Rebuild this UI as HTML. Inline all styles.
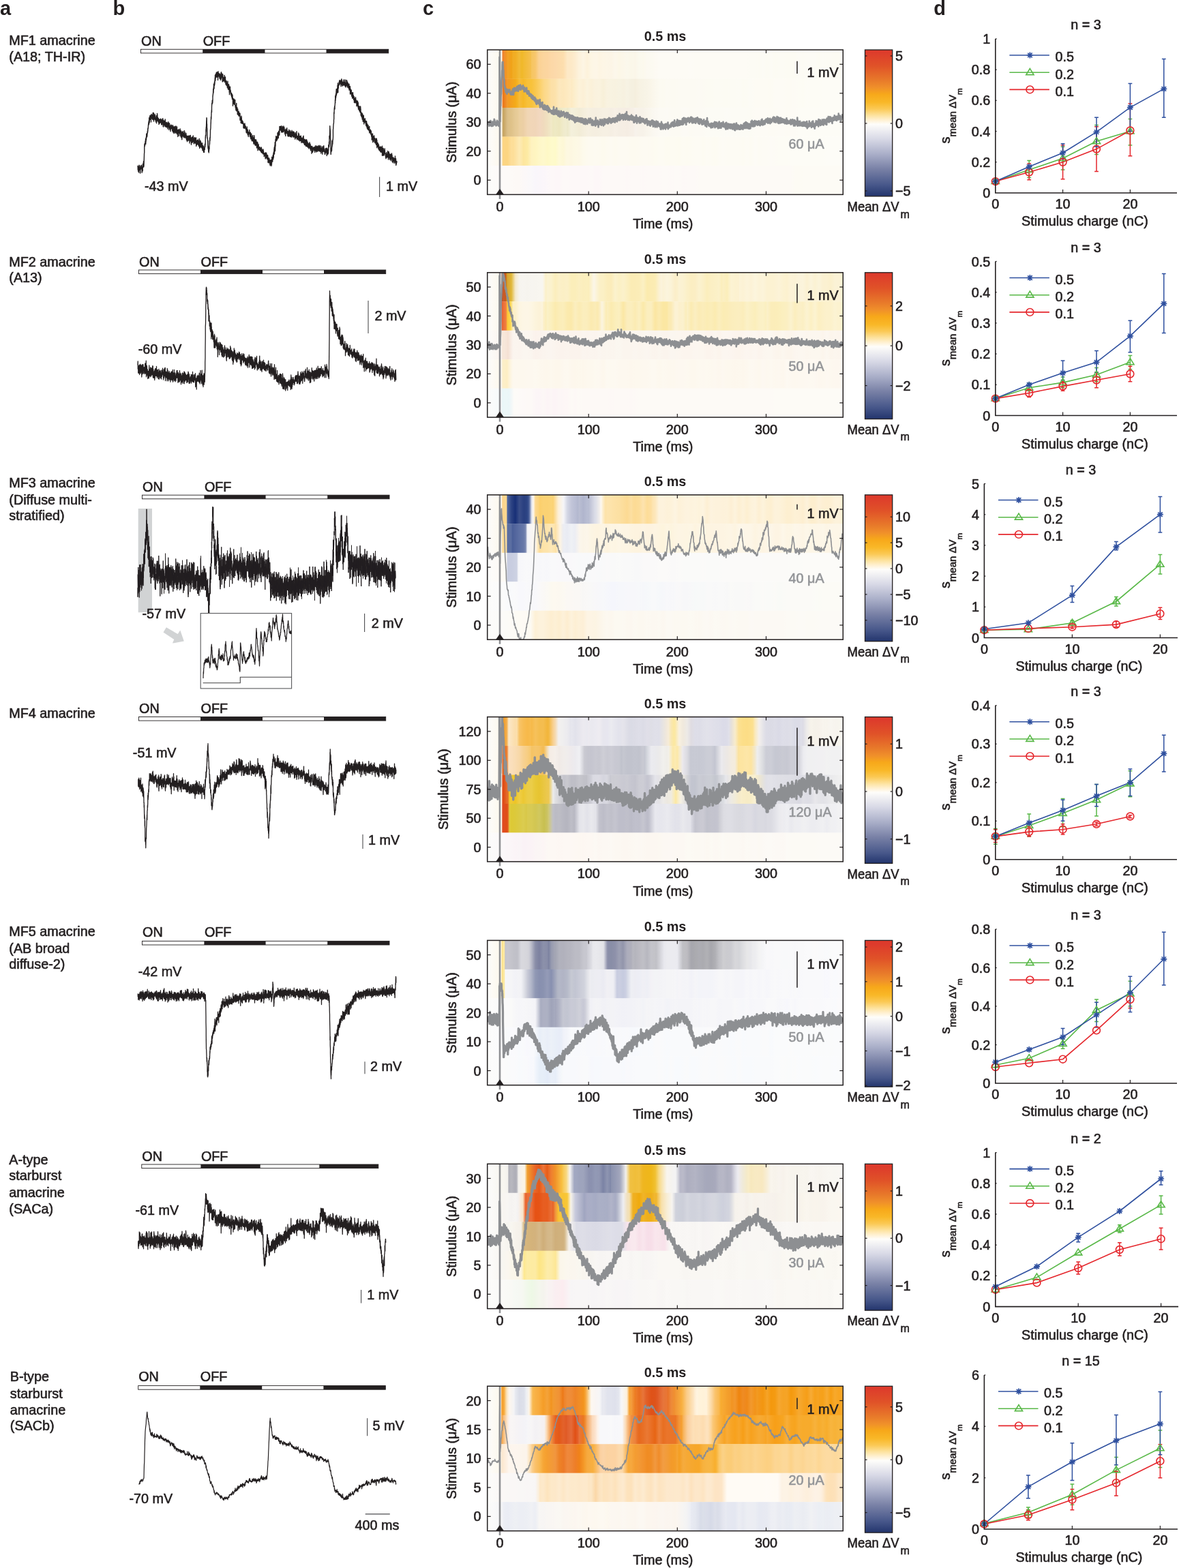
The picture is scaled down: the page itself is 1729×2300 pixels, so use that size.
<!DOCTYPE html><html><head><meta charset="utf-8"><title>Figure</title><style>html,body{margin:0;padding:0;background:#fff;}svg{display:block;}text{stroke:#231f20;stroke-width:.6px;stroke-linejoin:round}text.g{stroke:#939598}text.b{stroke:none}</style></head><body><svg width="1729" height="2300" viewBox="0 0 1729 2300" font-family='"Liberation Sans", Arial, Helvetica, sans-serif' font-size="19.8" fill="#231f20"><defs><linearGradient id="g1" x1="0" y1="0" x2="0" y2="1"><stop offset="0.0000" stop-color="#dd3a2c"/><stop offset="0.1000" stop-color="#e05228"/><stop offset="0.2000" stop-color="#e87a2a"/><stop offset="0.2500" stop-color="#f0902a"/><stop offset="0.2950" stop-color="#f7a81a"/><stop offset="0.3500" stop-color="#f9b828"/><stop offset="0.3950" stop-color="#fbc955"/><stop offset="0.4400" stop-color="#fde3a0"/><stop offset="0.4700" stop-color="#fff0d0"/><stop offset="0.5000" stop-color="#fefdfa"/><stop offset="0.6000" stop-color="#d8d9e6"/><stop offset="0.7050" stop-color="#a9aec8"/><stop offset="0.8050" stop-color="#7981a6"/><stop offset="0.9150" stop-color="#47578a"/><stop offset="1.0000" stop-color="#23356d"/></linearGradient><linearGradient id="g2" gradientUnits="userSpaceOnUse" x1="714.7" y1="0" x2="1236.3" y2="0"><stop offset="0.0001" stop-color="#fcfcfb"/><stop offset="0.0401" stop-color="#fdf8ec"/><stop offset="0.0438" stop-color="#ee7a22"/><stop offset="0.0451" stop-color="#ef8834"/><stop offset="0.0550" stop-color="#f29a20"/><stop offset="0.0563" stop-color="#f3a02b"/><stop offset="0.0675" stop-color="#f0a217"/><stop offset="0.0725" stop-color="#f1ac25"/><stop offset="0.0788" stop-color="#f1ae23"/><stop offset="0.0900" stop-color="#f1ba38"/><stop offset="0.0975" stop-color="#f0b828"/><stop offset="0.1012" stop-color="#f1ba31"/><stop offset="0.1124" stop-color="#f3bd41"/><stop offset="0.1224" stop-color="#f5c050"/><stop offset="0.1237" stop-color="#f6c55f"/><stop offset="0.1349" stop-color="#f8c76d"/><stop offset="0.1461" stop-color="#fbd49a"/><stop offset="0.1474" stop-color="#fbd296"/><stop offset="0.1574" stop-color="#fbd59d"/><stop offset="0.1686" stop-color="#fcd5a0"/><stop offset="0.1798" stop-color="#fcd8a7"/><stop offset="0.1848" stop-color="#fcd8a8"/><stop offset="0.1911" stop-color="#fcd9ab"/><stop offset="0.2023" stop-color="#fcdcac"/><stop offset="0.2135" stop-color="#fddeae"/><stop offset="0.2223" stop-color="#fde6c0"/><stop offset="0.2247" stop-color="#fde9c7"/><stop offset="0.2360" stop-color="#fde9c7"/><stop offset="0.2472" stop-color="#fdedd0"/><stop offset="0.2584" stop-color="#fdf3de"/><stop offset="0.2597" stop-color="#fdf2dc"/><stop offset="0.2697" stop-color="#fdf5e4"/><stop offset="0.2809" stop-color="#fdf2db"/><stop offset="0.2921" stop-color="#fdf6e4"/><stop offset="0.3034" stop-color="#fdf6e7"/><stop offset="0.3096" stop-color="#fdf6e6"/><stop offset="0.3146" stop-color="#fdf5e3"/><stop offset="0.3258" stop-color="#fdf6e6"/><stop offset="0.3371" stop-color="#fcf6e7"/><stop offset="0.3483" stop-color="#fcf5e6"/><stop offset="0.3595" stop-color="#fcf7eb"/><stop offset="0.3707" stop-color="#fcf7e7"/><stop offset="0.3820" stop-color="#fcf7ea"/><stop offset="0.3932" stop-color="#fbf8ec"/><stop offset="0.4044" stop-color="#fbf7e9"/><stop offset="0.4094" stop-color="#fbf7ea"/><stop offset="0.4157" stop-color="#fbf6e9"/><stop offset="0.4269" stop-color="#fbf9ee"/><stop offset="0.4381" stop-color="#fcf9ed"/><stop offset="0.4494" stop-color="#fcf9f1"/><stop offset="0.4606" stop-color="#fcfaf1"/><stop offset="0.4718" stop-color="#fdfaf3"/><stop offset="0.4830" stop-color="#fdfbf5"/><stop offset="0.4843" stop-color="#fdfbf5"/><stop offset="0.4943" stop-color="#fdfbf5"/><stop offset="0.5055" stop-color="#fdfbf5"/><stop offset="0.5167" stop-color="#fdfbf5"/><stop offset="0.5280" stop-color="#fdfbf5"/><stop offset="0.5392" stop-color="#fdfbf5"/><stop offset="0.5504" stop-color="#fdfbf5"/><stop offset="0.5617" stop-color="#fdfbf5"/><stop offset="0.5729" stop-color="#fdfbf6"/><stop offset="0.5841" stop-color="#fdfbf5"/><stop offset="0.5953" stop-color="#fdfbf5"/><stop offset="0.6066" stop-color="#fdfbf5"/><stop offset="0.6178" stop-color="#fdfbf5"/><stop offset="0.6290" stop-color="#fdfbf5"/><stop offset="0.6403" stop-color="#fdfbf5"/><stop offset="0.6515" stop-color="#fdfbf5"/><stop offset="0.6627" stop-color="#fdfbf5"/><stop offset="0.6740" stop-color="#fdfbf5"/><stop offset="0.6852" stop-color="#fdfbf5"/><stop offset="0.6964" stop-color="#fdfbf5"/><stop offset="0.7076" stop-color="#fdfbf5"/><stop offset="0.7189" stop-color="#fdfbf5"/><stop offset="0.7301" stop-color="#fdfbf5"/><stop offset="0.7413" stop-color="#fcfbf4"/><stop offset="0.7526" stop-color="#fcfbf4"/><stop offset="0.7638" stop-color="#fcfbf3"/><stop offset="0.7750" stop-color="#fcfbf5"/><stop offset="0.7863" stop-color="#fcfbf3"/><stop offset="0.7975" stop-color="#fcfbf5"/><stop offset="0.8087" stop-color="#fcfbf3"/><stop offset="0.8199" stop-color="#fcfbf4"/><stop offset="0.8312" stop-color="#fcfbf4"/><stop offset="0.8424" stop-color="#fcfbf3"/><stop offset="0.8536" stop-color="#fcfbf3"/><stop offset="0.8649" stop-color="#fcfbf3"/><stop offset="0.8761" stop-color="#fcfbf5"/><stop offset="0.8873" stop-color="#fcfbf4"/><stop offset="0.8986" stop-color="#fcfbf5"/><stop offset="0.9098" stop-color="#fcfbf5"/><stop offset="0.9210" stop-color="#fcfbf5"/><stop offset="0.9322" stop-color="#fcfbf3"/><stop offset="0.9435" stop-color="#fcfbf5"/><stop offset="0.9547" stop-color="#fcfbf4"/><stop offset="0.9659" stop-color="#fcfbf4"/><stop offset="0.9772" stop-color="#fcfbf3"/><stop offset="0.9884" stop-color="#fcfbf3"/><stop offset="0.9984" stop-color="#fcfbf4"/></linearGradient><linearGradient id="g3" gradientUnits="userSpaceOnUse" x1="714.7" y1="0" x2="1236.3" y2="0"><stop offset="0.0001" stop-color="#fcfcfb"/><stop offset="0.0401" stop-color="#fdf8ec"/><stop offset="0.0438" stop-color="#ec7a22"/><stop offset="0.0451" stop-color="#eb7719"/><stop offset="0.0563" stop-color="#f2992c"/><stop offset="0.0600" stop-color="#f29a20"/><stop offset="0.0675" stop-color="#f3a11f"/><stop offset="0.0788" stop-color="#f4aa1a"/><stop offset="0.0850" stop-color="#f5b324"/><stop offset="0.0900" stop-color="#f6bb3a"/><stop offset="0.1012" stop-color="#f6b827"/><stop offset="0.1124" stop-color="#f7c039"/><stop offset="0.1224" stop-color="#f8c23a"/><stop offset="0.1237" stop-color="#f8c23a"/><stop offset="0.1349" stop-color="#f9c74e"/><stop offset="0.1461" stop-color="#fbcf66"/><stop offset="0.1574" stop-color="#fcd782"/><stop offset="0.1599" stop-color="#fcd888"/><stop offset="0.1686" stop-color="#fcdb92"/><stop offset="0.1798" stop-color="#fce0a7"/><stop offset="0.1848" stop-color="#fce0a8"/><stop offset="0.1911" stop-color="#fce2ac"/><stop offset="0.2023" stop-color="#fce8be"/><stop offset="0.2135" stop-color="#fde7bb"/><stop offset="0.2247" stop-color="#fdeac1"/><stop offset="0.2347" stop-color="#fdecc8"/><stop offset="0.2360" stop-color="#fdeac2"/><stop offset="0.2472" stop-color="#fcefcf"/><stop offset="0.2584" stop-color="#fcf2da"/><stop offset="0.2697" stop-color="#fcf0d6"/><stop offset="0.2809" stop-color="#fbf3de"/><stop offset="0.2846" stop-color="#fbf2dc"/><stop offset="0.2921" stop-color="#fbf1d9"/><stop offset="0.3034" stop-color="#faf2de"/><stop offset="0.3146" stop-color="#faf3df"/><stop offset="0.3258" stop-color="#f8f0d9"/><stop offset="0.3371" stop-color="#f9f2e0"/><stop offset="0.3483" stop-color="#f8f3e1"/><stop offset="0.3595" stop-color="#f8f2e0"/><stop offset="0.3707" stop-color="#f7f3e2"/><stop offset="0.3820" stop-color="#f7f1e0"/><stop offset="0.3932" stop-color="#f7f3e4"/><stop offset="0.4044" stop-color="#f5f0e0"/><stop offset="0.4094" stop-color="#f5f0e0"/><stop offset="0.4157" stop-color="#f5efde"/><stop offset="0.4269" stop-color="#f7f2e3"/><stop offset="0.4381" stop-color="#f7f3e5"/><stop offset="0.4494" stop-color="#f8f4e7"/><stop offset="0.4606" stop-color="#faf6ea"/><stop offset="0.4718" stop-color="#fbf8ee"/><stop offset="0.4830" stop-color="#fcfaf1"/><stop offset="0.4843" stop-color="#fcfaf2"/><stop offset="0.4943" stop-color="#fcfaf1"/><stop offset="0.5055" stop-color="#fcfaf3"/><stop offset="0.5167" stop-color="#fcfaf2"/><stop offset="0.5280" stop-color="#fcfaf2"/><stop offset="0.5392" stop-color="#fcfaf3"/><stop offset="0.5504" stop-color="#fcfaf3"/><stop offset="0.5617" stop-color="#fcfaf3"/><stop offset="0.5729" stop-color="#fcfaf3"/><stop offset="0.5841" stop-color="#fcfaf3"/><stop offset="0.5953" stop-color="#fcfaf4"/><stop offset="0.6066" stop-color="#fcfaf3"/><stop offset="0.6178" stop-color="#fcfbf3"/><stop offset="0.6290" stop-color="#fcfbf3"/><stop offset="0.6403" stop-color="#fcfbf4"/><stop offset="0.6515" stop-color="#fcfbf4"/><stop offset="0.6627" stop-color="#fcfbf3"/><stop offset="0.6740" stop-color="#fcfbf3"/><stop offset="0.6852" stop-color="#fcfbf4"/><stop offset="0.6964" stop-color="#fcfbf4"/><stop offset="0.7076" stop-color="#fcfbf5"/><stop offset="0.7189" stop-color="#fcfbf3"/><stop offset="0.7301" stop-color="#fcfbf4"/><stop offset="0.7413" stop-color="#fcfbf5"/><stop offset="0.7526" stop-color="#fdfbf4"/><stop offset="0.7638" stop-color="#fdfbf4"/><stop offset="0.7750" stop-color="#fdfbf4"/><stop offset="0.7863" stop-color="#fdfbf4"/><stop offset="0.7975" stop-color="#fdfbf3"/><stop offset="0.8087" stop-color="#fdfbf5"/><stop offset="0.8199" stop-color="#fdfbf5"/><stop offset="0.8312" stop-color="#fdfbf5"/><stop offset="0.8424" stop-color="#fdfbf4"/><stop offset="0.8536" stop-color="#fdfbf4"/><stop offset="0.8649" stop-color="#fdfbf5"/><stop offset="0.8761" stop-color="#fdfcf5"/><stop offset="0.8873" stop-color="#fdfcf4"/><stop offset="0.8986" stop-color="#fdfcf6"/><stop offset="0.9098" stop-color="#fdfcf5"/><stop offset="0.9210" stop-color="#fdfcf5"/><stop offset="0.9322" stop-color="#fdfcf5"/><stop offset="0.9435" stop-color="#fdfcf6"/><stop offset="0.9547" stop-color="#fdfcf6"/><stop offset="0.9659" stop-color="#fdfcf6"/><stop offset="0.9772" stop-color="#fdfcf6"/><stop offset="0.9884" stop-color="#fdfcf6"/><stop offset="0.9984" stop-color="#fdfcf6"/></linearGradient><linearGradient id="g4" gradientUnits="userSpaceOnUse" x1="714.7" y1="0" x2="1236.3" y2="0"><stop offset="0.0001" stop-color="#fcfcfb"/><stop offset="0.0401" stop-color="#fdf8ec"/><stop offset="0.0438" stop-color="#c8a868"/><stop offset="0.0451" stop-color="#c6a460"/><stop offset="0.0563" stop-color="#d9bd87"/><stop offset="0.0600" stop-color="#dcc088"/><stop offset="0.0675" stop-color="#dfc289"/><stop offset="0.0788" stop-color="#e5ca96"/><stop offset="0.0850" stop-color="#e8cc98"/><stop offset="0.0900" stop-color="#ebd0a1"/><stop offset="0.1012" stop-color="#eccfa5"/><stop offset="0.1100" stop-color="#f0d4b0"/><stop offset="0.1124" stop-color="#f0d6b4"/><stop offset="0.1237" stop-color="#f1d6b8"/><stop offset="0.1349" stop-color="#f0d5b8"/><stop offset="0.1461" stop-color="#f2d8bf"/><stop offset="0.1474" stop-color="#f2d8c0"/><stop offset="0.1574" stop-color="#f0dabd"/><stop offset="0.1686" stop-color="#f0e1c0"/><stop offset="0.1798" stop-color="#f1e9c8"/><stop offset="0.1848" stop-color="#eee8c0"/><stop offset="0.1911" stop-color="#eee9c4"/><stop offset="0.2023" stop-color="#ede7bf"/><stop offset="0.2135" stop-color="#f0ebcb"/><stop offset="0.2223" stop-color="#f0ecd0"/><stop offset="0.2247" stop-color="#ede9c9"/><stop offset="0.2360" stop-color="#f4f0dc"/><stop offset="0.2472" stop-color="#f3efd9"/><stop offset="0.2584" stop-color="#f2ecd6"/><stop offset="0.2697" stop-color="#f4eedc"/><stop offset="0.2809" stop-color="#f6f0e0"/><stop offset="0.2846" stop-color="#f6f0e2"/><stop offset="0.2921" stop-color="#f5efe0"/><stop offset="0.3034" stop-color="#f5eee0"/><stop offset="0.3146" stop-color="#f5efe1"/><stop offset="0.3258" stop-color="#f6f0e3"/><stop offset="0.3371" stop-color="#f6f0e3"/><stop offset="0.3483" stop-color="#f5eee3"/><stop offset="0.3595" stop-color="#f7f0e6"/><stop offset="0.3707" stop-color="#f5eee4"/><stop offset="0.3820" stop-color="#f6eee4"/><stop offset="0.3932" stop-color="#f5ede3"/><stop offset="0.4044" stop-color="#f6efe6"/><stop offset="0.4094" stop-color="#f6efe6"/><stop offset="0.4157" stop-color="#f7f2eb"/><stop offset="0.4269" stop-color="#f7f2e9"/><stop offset="0.4381" stop-color="#f7f2e9"/><stop offset="0.4494" stop-color="#f9f5ec"/><stop offset="0.4606" stop-color="#faf7ef"/><stop offset="0.4718" stop-color="#fbf8f2"/><stop offset="0.4830" stop-color="#fcfaf4"/><stop offset="0.4843" stop-color="#fcfaf4"/><stop offset="0.4943" stop-color="#fcfaf4"/><stop offset="0.5055" stop-color="#fcfaf5"/><stop offset="0.5167" stop-color="#fcfaf3"/><stop offset="0.5280" stop-color="#fcfaf3"/><stop offset="0.5392" stop-color="#fcfaf3"/><stop offset="0.5504" stop-color="#fcfaf5"/><stop offset="0.5617" stop-color="#fcfaf5"/><stop offset="0.5729" stop-color="#fcfaf3"/><stop offset="0.5841" stop-color="#fcfaf4"/><stop offset="0.5953" stop-color="#fcfaf4"/><stop offset="0.6066" stop-color="#fcfaf4"/><stop offset="0.6178" stop-color="#fcfbf5"/><stop offset="0.6290" stop-color="#fcfbf5"/><stop offset="0.6403" stop-color="#fcfbf5"/><stop offset="0.6515" stop-color="#fcfbf5"/><stop offset="0.6627" stop-color="#fcfbf5"/><stop offset="0.6740" stop-color="#fcfbf6"/><stop offset="0.6852" stop-color="#fcfbf5"/><stop offset="0.6964" stop-color="#fcfbf5"/><stop offset="0.7076" stop-color="#fcfbf5"/><stop offset="0.7189" stop-color="#fcfbf5"/><stop offset="0.7301" stop-color="#fcfbf5"/><stop offset="0.7413" stop-color="#fcfbf4"/><stop offset="0.7526" stop-color="#fdfbf5"/><stop offset="0.7638" stop-color="#fdfbf5"/><stop offset="0.7750" stop-color="#fdfbf5"/><stop offset="0.7863" stop-color="#fdfbf5"/><stop offset="0.7975" stop-color="#fdfbf4"/><stop offset="0.8087" stop-color="#fdfbf4"/><stop offset="0.8199" stop-color="#fdfbf5"/><stop offset="0.8312" stop-color="#fdfbf5"/><stop offset="0.8424" stop-color="#fdfbf4"/><stop offset="0.8536" stop-color="#fdfbf5"/><stop offset="0.8649" stop-color="#fdfbf5"/><stop offset="0.8761" stop-color="#fdfcf6"/><stop offset="0.8873" stop-color="#fdfcf6"/><stop offset="0.8986" stop-color="#fdfcf6"/><stop offset="0.9098" stop-color="#fdfcf6"/><stop offset="0.9210" stop-color="#fdfcf6"/><stop offset="0.9322" stop-color="#fdfcf6"/><stop offset="0.9435" stop-color="#fdfcf6"/><stop offset="0.9547" stop-color="#fdfcf6"/><stop offset="0.9659" stop-color="#fdfcf6"/><stop offset="0.9772" stop-color="#fdfcf6"/><stop offset="0.9884" stop-color="#fdfcf6"/><stop offset="0.9984" stop-color="#fdfcf6"/></linearGradient><linearGradient id="g5" gradientUnits="userSpaceOnUse" x1="714.7" y1="0" x2="1236.3" y2="0"><stop offset="0.0001" stop-color="#fcfcfb"/><stop offset="0.0401" stop-color="#fdf8ec"/><stop offset="0.0438" stop-color="#fcd480"/><stop offset="0.0451" stop-color="#fcd583"/><stop offset="0.0563" stop-color="#fcd581"/><stop offset="0.0675" stop-color="#fdde9a"/><stop offset="0.0725" stop-color="#fdde98"/><stop offset="0.0788" stop-color="#fde2a2"/><stop offset="0.0900" stop-color="#fdeab5"/><stop offset="0.0975" stop-color="#fde8a8"/><stop offset="0.1012" stop-color="#fde69e"/><stop offset="0.1124" stop-color="#fdeaa3"/><stop offset="0.1237" stop-color="#fef2c0"/><stop offset="0.1349" stop-color="#fef5c0"/><stop offset="0.1461" stop-color="#fef7c8"/><stop offset="0.1574" stop-color="#fef8cc"/><stop offset="0.1686" stop-color="#fef8c6"/><stop offset="0.1798" stop-color="#fefacb"/><stop offset="0.1848" stop-color="#fefacc"/><stop offset="0.1911" stop-color="#fefac9"/><stop offset="0.2023" stop-color="#fef9d9"/><stop offset="0.2135" stop-color="#fdf7d6"/><stop offset="0.2223" stop-color="#fdf8e0"/><stop offset="0.2247" stop-color="#fdf8e1"/><stop offset="0.2360" stop-color="#fdf7e1"/><stop offset="0.2472" stop-color="#fdf9e4"/><stop offset="0.2584" stop-color="#fdf8e6"/><stop offset="0.2697" stop-color="#fdfaec"/><stop offset="0.2809" stop-color="#fdfaef"/><stop offset="0.2846" stop-color="#fdfaf0"/><stop offset="0.2921" stop-color="#fdfaf0"/><stop offset="0.3034" stop-color="#fdfaf1"/><stop offset="0.3146" stop-color="#fdfaf0"/><stop offset="0.3258" stop-color="#fdfaee"/><stop offset="0.3371" stop-color="#fdfaf0"/><stop offset="0.3483" stop-color="#fdfaf2"/><stop offset="0.3595" stop-color="#fdfaf0"/><stop offset="0.3707" stop-color="#fdfaf2"/><stop offset="0.3820" stop-color="#fdfaf2"/><stop offset="0.3932" stop-color="#fdfaf2"/><stop offset="0.4044" stop-color="#fdfaf0"/><stop offset="0.4157" stop-color="#fdfaf0"/><stop offset="0.4269" stop-color="#fdfaf1"/><stop offset="0.4381" stop-color="#fdfaf2"/><stop offset="0.4494" stop-color="#fdfaf2"/><stop offset="0.4606" stop-color="#fdfaf1"/><stop offset="0.4718" stop-color="#fdfbf1"/><stop offset="0.4830" stop-color="#fdfbf3"/><stop offset="0.4943" stop-color="#fdfbf3"/><stop offset="0.5055" stop-color="#fdfbf1"/><stop offset="0.5167" stop-color="#fdfbf2"/><stop offset="0.5280" stop-color="#fdfbf2"/><stop offset="0.5392" stop-color="#fdfbf1"/><stop offset="0.5504" stop-color="#fdfbf3"/><stop offset="0.5617" stop-color="#fdfbf2"/><stop offset="0.5729" stop-color="#fdfbf3"/><stop offset="0.5841" stop-color="#fdfbf4"/><stop offset="0.5953" stop-color="#fdfbf4"/><stop offset="0.6066" stop-color="#fdfbf2"/><stop offset="0.6178" stop-color="#fdfbf4"/><stop offset="0.6290" stop-color="#fdfbf3"/><stop offset="0.6403" stop-color="#fdfbf2"/><stop offset="0.6515" stop-color="#fdfbf4"/><stop offset="0.6627" stop-color="#fdfbf5"/><stop offset="0.6740" stop-color="#fdfbf4"/><stop offset="0.6852" stop-color="#fdfbf4"/><stop offset="0.6964" stop-color="#fdfbf4"/><stop offset="0.7076" stop-color="#fdfbf4"/><stop offset="0.7189" stop-color="#fdfbf3"/><stop offset="0.7301" stop-color="#fdfbf5"/><stop offset="0.7413" stop-color="#fdfbf3"/><stop offset="0.7526" stop-color="#fdfbf6"/><stop offset="0.7638" stop-color="#fdfbf4"/><stop offset="0.7750" stop-color="#fdfbf5"/><stop offset="0.7863" stop-color="#fdfbf5"/><stop offset="0.7975" stop-color="#fdfbf6"/><stop offset="0.8087" stop-color="#fdfbf5"/><stop offset="0.8199" stop-color="#fdfcf5"/><stop offset="0.8312" stop-color="#fdfcf5"/><stop offset="0.8424" stop-color="#fdfcf5"/><stop offset="0.8536" stop-color="#fdfcf6"/><stop offset="0.8649" stop-color="#fdfcf6"/><stop offset="0.8761" stop-color="#fdfcf6"/><stop offset="0.8873" stop-color="#fdfcf6"/><stop offset="0.8986" stop-color="#fdfcf6"/><stop offset="0.9098" stop-color="#fdfcf6"/><stop offset="0.9210" stop-color="#fdfcf6"/><stop offset="0.9322" stop-color="#fdfcf6"/><stop offset="0.9435" stop-color="#fdfcf6"/><stop offset="0.9547" stop-color="#fdfcf7"/><stop offset="0.9659" stop-color="#fdfcf7"/><stop offset="0.9772" stop-color="#fdfcf7"/><stop offset="0.9884" stop-color="#fdfcf7"/><stop offset="0.9984" stop-color="#fdfcf7"/></linearGradient><linearGradient id="g6" gradientUnits="userSpaceOnUse" x1="714.7" y1="0" x2="1236.3" y2="0"><stop offset="0.0001" stop-color="#fcfcfb"/><stop offset="0.0451" stop-color="#fdfaf8"/><stop offset="0.0563" stop-color="#fdfaf8"/><stop offset="0.0675" stop-color="#fdfaf7"/><stop offset="0.0788" stop-color="#fdf9f6"/><stop offset="0.0850" stop-color="#fdf9f6"/><stop offset="0.0900" stop-color="#fdf9f6"/><stop offset="0.1012" stop-color="#fcf8f8"/><stop offset="0.1124" stop-color="#fbf8f9"/><stop offset="0.1237" stop-color="#faf8fa"/><stop offset="0.1349" stop-color="#f9f6fb"/><stop offset="0.1461" stop-color="#faf6fa"/><stop offset="0.1574" stop-color="#fbf6fa"/><stop offset="0.1686" stop-color="#fcf7f9"/><stop offset="0.1798" stop-color="#fdf8f8"/><stop offset="0.1848" stop-color="#fdf8f8"/><stop offset="0.1911" stop-color="#fdf7f8"/><stop offset="0.2023" stop-color="#fdf7f8"/><stop offset="0.2135" stop-color="#fdf9f8"/><stop offset="0.2247" stop-color="#fdf9f8"/><stop offset="0.2360" stop-color="#fdf8f8"/><stop offset="0.2472" stop-color="#fdf8f8"/><stop offset="0.2584" stop-color="#fdf8f8"/><stop offset="0.2697" stop-color="#fdf8f8"/><stop offset="0.2809" stop-color="#fdf8f8"/><stop offset="0.2921" stop-color="#fdf9f8"/><stop offset="0.3034" stop-color="#fdf7f8"/><stop offset="0.3146" stop-color="#fdf7f8"/><stop offset="0.3258" stop-color="#fdf9f7"/><stop offset="0.3371" stop-color="#fdf9f7"/><stop offset="0.3483" stop-color="#fdf9f7"/><stop offset="0.3595" stop-color="#fdf9f7"/><stop offset="0.3707" stop-color="#fdf9f7"/><stop offset="0.3820" stop-color="#fdf9f7"/><stop offset="0.3932" stop-color="#fdf8f7"/><stop offset="0.4044" stop-color="#fdf9f7"/><stop offset="0.4157" stop-color="#fdf9f7"/><stop offset="0.4269" stop-color="#fdf9f7"/><stop offset="0.4381" stop-color="#fdf8f7"/><stop offset="0.4494" stop-color="#fdf9f7"/><stop offset="0.4606" stop-color="#fdf9f7"/><stop offset="0.4718" stop-color="#fdf9f7"/><stop offset="0.4830" stop-color="#fdf9f7"/><stop offset="0.4943" stop-color="#fdfaf7"/><stop offset="0.5055" stop-color="#fdfaf7"/><stop offset="0.5167" stop-color="#fdf9f7"/><stop offset="0.5280" stop-color="#fdfaf7"/><stop offset="0.5392" stop-color="#fdfaf7"/><stop offset="0.5504" stop-color="#fdf8f7"/><stop offset="0.5617" stop-color="#fdf9f7"/><stop offset="0.5729" stop-color="#fdf9f7"/><stop offset="0.5841" stop-color="#fdf9f7"/><stop offset="0.5953" stop-color="#fdfaf6"/><stop offset="0.6066" stop-color="#fdfaf6"/><stop offset="0.6178" stop-color="#fdfaf6"/><stop offset="0.6290" stop-color="#fdfaf6"/><stop offset="0.6403" stop-color="#fdfaf6"/><stop offset="0.6515" stop-color="#fdfaf6"/><stop offset="0.6627" stop-color="#fdfaf6"/><stop offset="0.6740" stop-color="#fdfaf6"/><stop offset="0.6852" stop-color="#fdfaf6"/><stop offset="0.6964" stop-color="#fdfaf6"/><stop offset="0.7076" stop-color="#fdfaf6"/><stop offset="0.7189" stop-color="#fdfaf6"/><stop offset="0.7301" stop-color="#fdfaf6"/><stop offset="0.7413" stop-color="#fdfaf6"/><stop offset="0.7526" stop-color="#fdfaf6"/><stop offset="0.7638" stop-color="#fdfaf6"/><stop offset="0.7750" stop-color="#fdfaf6"/><stop offset="0.7863" stop-color="#fdfaf6"/><stop offset="0.7975" stop-color="#fdfaf6"/><stop offset="0.8087" stop-color="#fdfaf6"/><stop offset="0.8199" stop-color="#fdfaf6"/><stop offset="0.8312" stop-color="#fdfaf6"/><stop offset="0.8424" stop-color="#fdfaf6"/><stop offset="0.8536" stop-color="#fdfaf6"/><stop offset="0.8649" stop-color="#fdfbf4"/><stop offset="0.8761" stop-color="#fdfbf4"/><stop offset="0.8873" stop-color="#fdfbf5"/><stop offset="0.8986" stop-color="#fdfbf5"/><stop offset="0.9098" stop-color="#fdfbf5"/><stop offset="0.9210" stop-color="#fdfbf5"/><stop offset="0.9322" stop-color="#fdfbf5"/><stop offset="0.9435" stop-color="#fdfbf5"/><stop offset="0.9547" stop-color="#fdfbf5"/><stop offset="0.9659" stop-color="#fdfbf5"/><stop offset="0.9772" stop-color="#fdfbf5"/><stop offset="0.9884" stop-color="#fdfbf5"/><stop offset="0.9984" stop-color="#fdfbf5"/></linearGradient><linearGradient id="g7" x1="0" y1="0" x2="0" y2="1"><stop offset="0.0082" stop-color="#dd3a2c"/><stop offset="0.1082" stop-color="#e05228"/><stop offset="0.2082" stop-color="#e87a2a"/><stop offset="0.2582" stop-color="#f0902a"/><stop offset="0.3032" stop-color="#f7a81a"/><stop offset="0.3582" stop-color="#f9b828"/><stop offset="0.4032" stop-color="#fbc955"/><stop offset="0.4482" stop-color="#fde3a0"/><stop offset="0.4782" stop-color="#fff0d0"/><stop offset="0.5082" stop-color="#fefdfa"/><stop offset="0.6082" stop-color="#d8d9e6"/><stop offset="0.7132" stop-color="#a9aec8"/><stop offset="0.8132" stop-color="#7981a6"/><stop offset="0.9232" stop-color="#47578a"/><stop offset="1.0000" stop-color="#23356d"/></linearGradient><linearGradient id="g8" gradientUnits="userSpaceOnUse" x1="714.7" y1="0" x2="1236.3" y2="0"><stop offset="0.0001" stop-color="#fcfcfb"/><stop offset="0.0388" stop-color="#fdf8ec"/><stop offset="0.0413" stop-color="#c04818"/><stop offset="0.0451" stop-color="#c85d2d"/><stop offset="0.0513" stop-color="#c8581c"/><stop offset="0.0550" stop-color="#d09820"/><stop offset="0.0563" stop-color="#d6a334"/><stop offset="0.0675" stop-color="#e0b838"/><stop offset="0.0788" stop-color="#f4e9cc"/><stop offset="0.0800" stop-color="#f4ead0"/><stop offset="0.0900" stop-color="#f6f4ee"/><stop offset="0.1012" stop-color="#f7f5f0"/><stop offset="0.1124" stop-color="#f6f4ee"/><stop offset="0.1237" stop-color="#f7f5f0"/><stop offset="0.1349" stop-color="#f7f5ef"/><stop offset="0.1461" stop-color="#f8f6f0"/><stop offset="0.1549" stop-color="#f8f6f0"/><stop offset="0.1574" stop-color="#faf5e8"/><stop offset="0.1649" stop-color="#fbf0c8"/><stop offset="0.1686" stop-color="#fbf2d2"/><stop offset="0.1798" stop-color="#fbf2cd"/><stop offset="0.1911" stop-color="#fbeebd"/><stop offset="0.2023" stop-color="#fbf0c8"/><stop offset="0.2135" stop-color="#fbefc5"/><stop offset="0.2247" stop-color="#fbf0c8"/><stop offset="0.2360" stop-color="#fbeeba"/><stop offset="0.2472" stop-color="#fbeeba"/><stop offset="0.2584" stop-color="#fbefc1"/><stop offset="0.2697" stop-color="#fbeebd"/><stop offset="0.2809" stop-color="#fbefbe"/><stop offset="0.2846" stop-color="#fbeebb"/><stop offset="0.2921" stop-color="#fbf2d1"/><stop offset="0.2996" stop-color="#fbf6e8"/><stop offset="0.3034" stop-color="#fbf4df"/><stop offset="0.3146" stop-color="#fbf0c8"/><stop offset="0.3258" stop-color="#fbf0c5"/><stop offset="0.3371" stop-color="#fbedbc"/><stop offset="0.3483" stop-color="#fbecba"/><stop offset="0.3595" stop-color="#fbf2cd"/><stop offset="0.3707" stop-color="#fbf0c4"/><stop offset="0.3820" stop-color="#fbf1cb"/><stop offset="0.3932" stop-color="#fbefc1"/><stop offset="0.4044" stop-color="#fbecb5"/><stop offset="0.4157" stop-color="#fbecb6"/><stop offset="0.4269" stop-color="#fbedb8"/><stop offset="0.4381" stop-color="#fbf0c4"/><stop offset="0.4494" stop-color="#fbebae"/><stop offset="0.4606" stop-color="#fbebb2"/><stop offset="0.4718" stop-color="#fbecb4"/><stop offset="0.4830" stop-color="#fbf1d2"/><stop offset="0.4893" stop-color="#fbf3dc"/><stop offset="0.4943" stop-color="#fbf2d6"/><stop offset="0.5055" stop-color="#fbf4dd"/><stop offset="0.5167" stop-color="#fbf3d7"/><stop offset="0.5280" stop-color="#fbeec9"/><stop offset="0.5342" stop-color="#fbf0cc"/><stop offset="0.5392" stop-color="#fbf2d4"/><stop offset="0.5504" stop-color="#fbf2d1"/><stop offset="0.5617" stop-color="#fbf0c8"/><stop offset="0.5729" stop-color="#fbeec2"/><stop offset="0.5841" stop-color="#fbeec4"/><stop offset="0.5953" stop-color="#fbf2cf"/><stop offset="0.6066" stop-color="#fbf0c8"/><stop offset="0.6178" stop-color="#fbeebc"/><stop offset="0.6290" stop-color="#fbefc4"/><stop offset="0.6403" stop-color="#fbf0c6"/><stop offset="0.6515" stop-color="#fbf1ca"/><stop offset="0.6590" stop-color="#fbeebc"/><stop offset="0.6627" stop-color="#fbefc4"/><stop offset="0.6740" stop-color="#fbeeba"/><stop offset="0.6852" stop-color="#fcf3d4"/><stop offset="0.6964" stop-color="#fcf2d0"/><stop offset="0.7076" stop-color="#fcf1d1"/><stop offset="0.7089" stop-color="#fcf3d8"/><stop offset="0.7189" stop-color="#fcf2d5"/><stop offset="0.7301" stop-color="#fcf4db"/><stop offset="0.7413" stop-color="#fcf2d6"/><stop offset="0.7526" stop-color="#fcf5dd"/><stop offset="0.7638" stop-color="#fcf3d7"/><stop offset="0.7750" stop-color="#fcf4da"/><stop offset="0.7863" stop-color="#fcf2d2"/><stop offset="0.7975" stop-color="#fcf2d2"/><stop offset="0.8087" stop-color="#fcf2d3"/><stop offset="0.8199" stop-color="#fcf3d8"/><stop offset="0.8312" stop-color="#fcf2d2"/><stop offset="0.8424" stop-color="#fcf1cf"/><stop offset="0.8536" stop-color="#fcf3d8"/><stop offset="0.8649" stop-color="#fbf2d6"/><stop offset="0.8761" stop-color="#fbf3db"/><stop offset="0.8873" stop-color="#fbf4dc"/><stop offset="0.8986" stop-color="#fbf1d2"/><stop offset="0.9098" stop-color="#fbf4dc"/><stop offset="0.9210" stop-color="#fbf2d3"/><stop offset="0.9322" stop-color="#fbf4db"/><stop offset="0.9435" stop-color="#fbf1d2"/><stop offset="0.9547" stop-color="#fbf1d1"/><stop offset="0.9659" stop-color="#fbf0cd"/><stop offset="0.9772" stop-color="#fbf2d6"/><stop offset="0.9884" stop-color="#fbf2d6"/><stop offset="0.9984" stop-color="#fbf2d4"/></linearGradient><linearGradient id="g9" gradientUnits="userSpaceOnUse" x1="714.7" y1="0" x2="1236.3" y2="0"><stop offset="0.0001" stop-color="#fcfcfb"/><stop offset="0.0388" stop-color="#fdf8ec"/><stop offset="0.0413" stop-color="#e86030"/><stop offset="0.0451" stop-color="#eb6e39"/><stop offset="0.0526" stop-color="#f08040"/><stop offset="0.0563" stop-color="#fcc838"/><stop offset="0.0650" stop-color="#fcd850"/><stop offset="0.0675" stop-color="#fcdf73"/><stop offset="0.0725" stop-color="#fcefc8"/><stop offset="0.0788" stop-color="#fcf0ca"/><stop offset="0.0900" stop-color="#fdf5e1"/><stop offset="0.0975" stop-color="#fdf6e4"/><stop offset="0.1012" stop-color="#fdf6e5"/><stop offset="0.1124" stop-color="#fdf6e6"/><stop offset="0.1237" stop-color="#fdf6e3"/><stop offset="0.1349" stop-color="#fcf4dc"/><stop offset="0.1461" stop-color="#fcf2d8"/><stop offset="0.1549" stop-color="#fcf4dc"/><stop offset="0.1574" stop-color="#fcf0cc"/><stop offset="0.1649" stop-color="#fbeebb"/><stop offset="0.1686" stop-color="#fbf1c7"/><stop offset="0.1798" stop-color="#fbefbd"/><stop offset="0.1911" stop-color="#fbebaf"/><stop offset="0.2023" stop-color="#fbedb8"/><stop offset="0.2135" stop-color="#fbeebb"/><stop offset="0.2247" stop-color="#fbeaae"/><stop offset="0.2360" stop-color="#fbe9ab"/><stop offset="0.2472" stop-color="#fbeebf"/><stop offset="0.2584" stop-color="#fbebb3"/><stop offset="0.2697" stop-color="#fbeebe"/><stop offset="0.2809" stop-color="#fbedbc"/><stop offset="0.2921" stop-color="#fbeab0"/><stop offset="0.3034" stop-color="#fbecb8"/><stop offset="0.3096" stop-color="#fbeab0"/><stop offset="0.3146" stop-color="#fbecbc"/><stop offset="0.3221" stop-color="#fbf4e0"/><stop offset="0.3258" stop-color="#fbf3d5"/><stop offset="0.3346" stop-color="#fbecb4"/><stop offset="0.3371" stop-color="#fbeebe"/><stop offset="0.3483" stop-color="#fbebb0"/><stop offset="0.3595" stop-color="#fbeeba"/><stop offset="0.3707" stop-color="#fbefc0"/><stop offset="0.3820" stop-color="#fbe7a4"/><stop offset="0.3932" stop-color="#fbedbd"/><stop offset="0.4044" stop-color="#fbeebd"/><stop offset="0.4157" stop-color="#fbebb3"/><stop offset="0.4269" stop-color="#fbefc1"/><stop offset="0.4381" stop-color="#fbe9a9"/><stop offset="0.4494" stop-color="#fbeebe"/><stop offset="0.4606" stop-color="#fbeebf"/><stop offset="0.4718" stop-color="#fbe6a2"/><stop offset="0.4830" stop-color="#fbeab0"/><stop offset="0.4943" stop-color="#fbe7a2"/><stop offset="0.5055" stop-color="#fbe7a3"/><stop offset="0.5092" stop-color="#fbeab0"/><stop offset="0.5167" stop-color="#fbeab5"/><stop offset="0.5280" stop-color="#fcf2d4"/><stop offset="0.5342" stop-color="#fcf2d4"/><stop offset="0.5392" stop-color="#fcf0cc"/><stop offset="0.5504" stop-color="#fbf1ce"/><stop offset="0.5592" stop-color="#fbedbb"/><stop offset="0.5617" stop-color="#fbf0c8"/><stop offset="0.5729" stop-color="#fbebb2"/><stop offset="0.5841" stop-color="#fbeec1"/><stop offset="0.5953" stop-color="#fbebb5"/><stop offset="0.6066" stop-color="#fbedbb"/><stop offset="0.6178" stop-color="#fbecb4"/><stop offset="0.6290" stop-color="#fbedb9"/><stop offset="0.6403" stop-color="#fbebb1"/><stop offset="0.6515" stop-color="#fbeebe"/><stop offset="0.6627" stop-color="#fbecb4"/><stop offset="0.6740" stop-color="#fbecb6"/><stop offset="0.6852" stop-color="#fbedbc"/><stop offset="0.6964" stop-color="#fbeebe"/><stop offset="0.7076" stop-color="#fbeec0"/><stop offset="0.7189" stop-color="#fbedbb"/><stop offset="0.7301" stop-color="#fbf1c7"/><stop offset="0.7413" stop-color="#fbefc1"/><stop offset="0.7526" stop-color="#fbeebb"/><stop offset="0.7638" stop-color="#fbf0c5"/><stop offset="0.7750" stop-color="#fbf1c7"/><stop offset="0.7838" stop-color="#fbefc0"/><stop offset="0.7863" stop-color="#fbf1ca"/><stop offset="0.7975" stop-color="#fbedba"/><stop offset="0.8087" stop-color="#fbedb9"/><stop offset="0.8199" stop-color="#fbeebb"/><stop offset="0.8312" stop-color="#fbefbf"/><stop offset="0.8424" stop-color="#fbefc2"/><stop offset="0.8536" stop-color="#fbf2cf"/><stop offset="0.8649" stop-color="#fbeebe"/><stop offset="0.8761" stop-color="#fbf0c8"/><stop offset="0.8873" stop-color="#fbefc4"/><stop offset="0.8986" stop-color="#fcf3d1"/><stop offset="0.9098" stop-color="#fcf0c4"/><stop offset="0.9210" stop-color="#fcf3d1"/><stop offset="0.9322" stop-color="#fcefc2"/><stop offset="0.9435" stop-color="#fcf0c8"/><stop offset="0.9547" stop-color="#fcf1cc"/><stop offset="0.9659" stop-color="#fcf1cb"/><stop offset="0.9772" stop-color="#fcf3d3"/><stop offset="0.9884" stop-color="#fcf2cf"/><stop offset="0.9984" stop-color="#fcf2d0"/></linearGradient><linearGradient id="g10" gradientUnits="userSpaceOnUse" x1="714.7" y1="0" x2="1236.3" y2="0"><stop offset="0.0001" stop-color="#fcfcfb"/><stop offset="0.0401" stop-color="#fbf4ee"/><stop offset="0.0426" stop-color="#f6e4d4"/><stop offset="0.0451" stop-color="#f7e8db"/><stop offset="0.0563" stop-color="#f5e3d6"/><stop offset="0.0575" stop-color="#f4e0d2"/><stop offset="0.0675" stop-color="#f9eee7"/><stop offset="0.0725" stop-color="#fbf4ee"/><stop offset="0.0788" stop-color="#fbf5ef"/><stop offset="0.0900" stop-color="#fbf4ee"/><stop offset="0.1012" stop-color="#fbf6f0"/><stop offset="0.1124" stop-color="#fbf6f0"/><stop offset="0.1237" stop-color="#fbf5ef"/><stop offset="0.1349" stop-color="#fbf2ec"/><stop offset="0.1461" stop-color="#fbf3ed"/><stop offset="0.1574" stop-color="#fbf4ee"/><stop offset="0.1686" stop-color="#fbf5ef"/><stop offset="0.1798" stop-color="#fbf5f0"/><stop offset="0.1911" stop-color="#fbf4ee"/><stop offset="0.2023" stop-color="#fbf3ed"/><stop offset="0.2135" stop-color="#fbf3ed"/><stop offset="0.2247" stop-color="#fbf4ee"/><stop offset="0.2360" stop-color="#fbf3ec"/><stop offset="0.2472" stop-color="#fbf3ed"/><stop offset="0.2584" stop-color="#fbf3ec"/><stop offset="0.2697" stop-color="#fbf5ef"/><stop offset="0.2809" stop-color="#fbf4ee"/><stop offset="0.2921" stop-color="#fbf5ef"/><stop offset="0.3034" stop-color="#fbf4ee"/><stop offset="0.3146" stop-color="#fbf6f0"/><stop offset="0.3258" stop-color="#fbf5ee"/><stop offset="0.3371" stop-color="#fbf6ef"/><stop offset="0.3483" stop-color="#fbf5ee"/><stop offset="0.3595" stop-color="#fbf6ef"/><stop offset="0.3707" stop-color="#fbf7f0"/><stop offset="0.3820" stop-color="#fbf5ee"/><stop offset="0.3932" stop-color="#fbf5ee"/><stop offset="0.4044" stop-color="#fbf5ee"/><stop offset="0.4157" stop-color="#fbf6f0"/><stop offset="0.4269" stop-color="#fbf5ee"/><stop offset="0.4381" stop-color="#fbf6ef"/><stop offset="0.4494" stop-color="#fbf6f0"/><stop offset="0.4606" stop-color="#fbf5ee"/><stop offset="0.4718" stop-color="#fbf4ed"/><stop offset="0.4830" stop-color="#fbf6ef"/><stop offset="0.4943" stop-color="#fbf4ed"/><stop offset="0.5055" stop-color="#fbf4ed"/><stop offset="0.5167" stop-color="#fbf6f0"/><stop offset="0.5280" stop-color="#fbf6ef"/><stop offset="0.5392" stop-color="#fcf6ef"/><stop offset="0.5504" stop-color="#fcf5ee"/><stop offset="0.5617" stop-color="#fcf5ee"/><stop offset="0.5729" stop-color="#fcf5ee"/><stop offset="0.5841" stop-color="#fcf6f0"/><stop offset="0.5953" stop-color="#fcf6ef"/><stop offset="0.6066" stop-color="#fcf6ef"/><stop offset="0.6178" stop-color="#fcf4ed"/><stop offset="0.6290" stop-color="#fcf4ed"/><stop offset="0.6403" stop-color="#fcf6ef"/><stop offset="0.6515" stop-color="#fcf4ec"/><stop offset="0.6627" stop-color="#fcf6f0"/><stop offset="0.6740" stop-color="#fcf6f0"/><stop offset="0.6852" stop-color="#fcf5ef"/><stop offset="0.6964" stop-color="#fcf4ed"/><stop offset="0.7076" stop-color="#fcf4ec"/><stop offset="0.7189" stop-color="#fcf5ee"/><stop offset="0.7301" stop-color="#fcf6f0"/><stop offset="0.7413" stop-color="#fcf5ee"/><stop offset="0.7526" stop-color="#fcf6f0"/><stop offset="0.7638" stop-color="#fcf4ed"/><stop offset="0.7750" stop-color="#fcf6ef"/><stop offset="0.7863" stop-color="#fcf7f0"/><stop offset="0.7975" stop-color="#fcf7f0"/><stop offset="0.8087" stop-color="#fcf5ed"/><stop offset="0.8199" stop-color="#fcf5ec"/><stop offset="0.8312" stop-color="#fcf7ef"/><stop offset="0.8424" stop-color="#fcf5ec"/><stop offset="0.8536" stop-color="#fcf5ec"/><stop offset="0.8649" stop-color="#fcf6ef"/><stop offset="0.8761" stop-color="#fcf7f0"/><stop offset="0.8873" stop-color="#fcf7f0"/><stop offset="0.8986" stop-color="#fcf6ee"/><stop offset="0.9098" stop-color="#fcf7ef"/><stop offset="0.9210" stop-color="#fcf7ef"/><stop offset="0.9322" stop-color="#fcf7ef"/><stop offset="0.9435" stop-color="#fcf5ec"/><stop offset="0.9547" stop-color="#fcf7f0"/><stop offset="0.9659" stop-color="#fcf5ec"/><stop offset="0.9772" stop-color="#fcf6ee"/><stop offset="0.9884" stop-color="#fcf5ed"/><stop offset="0.9984" stop-color="#fcf6ee"/></linearGradient><linearGradient id="g11" gradientUnits="userSpaceOnUse" x1="714.7" y1="0" x2="1236.3" y2="0"><stop offset="0.0001" stop-color="#fcfcfb"/><stop offset="0.0401" stop-color="#fdf8ec"/><stop offset="0.0426" stop-color="#fcefc8"/><stop offset="0.0451" stop-color="#fcefc9"/><stop offset="0.0563" stop-color="#fdeec3"/><stop offset="0.0575" stop-color="#fdf0cc"/><stop offset="0.0675" stop-color="#fdf6e6"/><stop offset="0.0725" stop-color="#fdf8ee"/><stop offset="0.0788" stop-color="#fdf8ef"/><stop offset="0.0900" stop-color="#fdf8ee"/><stop offset="0.1012" stop-color="#fdf8ee"/><stop offset="0.1124" stop-color="#fdf8ef"/><stop offset="0.1237" stop-color="#fdf8ef"/><stop offset="0.1349" stop-color="#fdf9f0"/><stop offset="0.1461" stop-color="#fdf8ee"/><stop offset="0.1574" stop-color="#fdf7ed"/><stop offset="0.1686" stop-color="#fdf7ec"/><stop offset="0.1798" stop-color="#fdf8ee"/><stop offset="0.1911" stop-color="#fdf7ec"/><stop offset="0.2023" stop-color="#fdf7ec"/><stop offset="0.2135" stop-color="#fdf8ef"/><stop offset="0.2247" stop-color="#fdf9f0"/><stop offset="0.2360" stop-color="#fdf7ed"/><stop offset="0.2472" stop-color="#fdf7ec"/><stop offset="0.2584" stop-color="#fdf8ed"/><stop offset="0.2697" stop-color="#fdf7ec"/><stop offset="0.2809" stop-color="#fdf8ee"/><stop offset="0.2921" stop-color="#fdf8ee"/><stop offset="0.3034" stop-color="#fdf9f0"/><stop offset="0.3146" stop-color="#fdf8f0"/><stop offset="0.3258" stop-color="#fdf7ed"/><stop offset="0.3371" stop-color="#fdf9f1"/><stop offset="0.3483" stop-color="#fdf9f0"/><stop offset="0.3595" stop-color="#fdf9f1"/><stop offset="0.3707" stop-color="#fdf8ef"/><stop offset="0.3820" stop-color="#fdf8ef"/><stop offset="0.3932" stop-color="#fdf8ef"/><stop offset="0.4044" stop-color="#fdf7ed"/><stop offset="0.4157" stop-color="#fdf8ee"/><stop offset="0.4269" stop-color="#fdf8ee"/><stop offset="0.4381" stop-color="#fdf8ef"/><stop offset="0.4494" stop-color="#fdf8ef"/><stop offset="0.4606" stop-color="#fdf9f1"/><stop offset="0.4718" stop-color="#fdf9f1"/><stop offset="0.4830" stop-color="#fdf8ee"/><stop offset="0.4943" stop-color="#fdf9f0"/><stop offset="0.5055" stop-color="#fdf8ef"/><stop offset="0.5167" stop-color="#fdf8ee"/><stop offset="0.5280" stop-color="#fdf8ef"/><stop offset="0.5392" stop-color="#fdf8f0"/><stop offset="0.5504" stop-color="#fdf8f0"/><stop offset="0.5617" stop-color="#fdf9f0"/><stop offset="0.5729" stop-color="#fdf8ee"/><stop offset="0.5841" stop-color="#fdf8ee"/><stop offset="0.5953" stop-color="#fdf9f0"/><stop offset="0.6066" stop-color="#fdf8f0"/><stop offset="0.6178" stop-color="#fdf9f0"/><stop offset="0.6290" stop-color="#fdf8ef"/><stop offset="0.6403" stop-color="#fdf8f0"/><stop offset="0.6515" stop-color="#fdf7ee"/><stop offset="0.6627" stop-color="#fdf8f0"/><stop offset="0.6740" stop-color="#fdf8ee"/><stop offset="0.6852" stop-color="#fdf8ee"/><stop offset="0.6964" stop-color="#fdf7ed"/><stop offset="0.7076" stop-color="#fdf8ee"/><stop offset="0.7189" stop-color="#fdf7ed"/><stop offset="0.7301" stop-color="#fdf8ef"/><stop offset="0.7413" stop-color="#fdf9f1"/><stop offset="0.7526" stop-color="#fdf8f0"/><stop offset="0.7638" stop-color="#fdf8ee"/><stop offset="0.7750" stop-color="#fdf8f1"/><stop offset="0.7863" stop-color="#fdf8ef"/><stop offset="0.7975" stop-color="#fdf9f1"/><stop offset="0.8087" stop-color="#fdf8ef"/><stop offset="0.8199" stop-color="#fdf8f0"/><stop offset="0.8312" stop-color="#fdf7ee"/><stop offset="0.8424" stop-color="#fdf9f2"/><stop offset="0.8536" stop-color="#fdf8f0"/><stop offset="0.8649" stop-color="#fdf8ef"/><stop offset="0.8761" stop-color="#fdf8f0"/><stop offset="0.8873" stop-color="#fdf8f0"/><stop offset="0.8986" stop-color="#fdf8f1"/><stop offset="0.9098" stop-color="#fdf9f1"/><stop offset="0.9210" stop-color="#fdf8f1"/><stop offset="0.9322" stop-color="#fdf7ef"/><stop offset="0.9435" stop-color="#fdf8ef"/><stop offset="0.9547" stop-color="#fdf8f1"/><stop offset="0.9659" stop-color="#fdf8ef"/><stop offset="0.9772" stop-color="#fdf7ef"/><stop offset="0.9884" stop-color="#fdf7ef"/><stop offset="0.9984" stop-color="#fdf8f0"/></linearGradient><linearGradient id="g12" gradientUnits="userSpaceOnUse" x1="714.7" y1="0" x2="1236.3" y2="0"><stop offset="0.0001" stop-color="#fcfcfb"/><stop offset="0.0401" stop-color="#f6fafb"/><stop offset="0.0426" stop-color="#e6f6f8"/><stop offset="0.0451" stop-color="#ebf7f8"/><stop offset="0.0563" stop-color="#ecf7f8"/><stop offset="0.0600" stop-color="#eaf6f8"/><stop offset="0.0675" stop-color="#f2f7f8"/><stop offset="0.0750" stop-color="#fdfbf8"/><stop offset="0.0788" stop-color="#fdfbf8"/><stop offset="0.0900" stop-color="#fdfaf8"/><stop offset="0.1012" stop-color="#fdf9f8"/><stop offset="0.1124" stop-color="#fdf9f7"/><stop offset="0.1237" stop-color="#fdf9f7"/><stop offset="0.1349" stop-color="#fcf6f7"/><stop offset="0.1461" stop-color="#fcf5f7"/><stop offset="0.1574" stop-color="#fcf7f6"/><stop offset="0.1686" stop-color="#fcf4f6"/><stop offset="0.1798" stop-color="#fcf6f6"/><stop offset="0.1848" stop-color="#fcf4f6"/><stop offset="0.1911" stop-color="#fcf4f6"/><stop offset="0.2023" stop-color="#fcf6f6"/><stop offset="0.2135" stop-color="#fdf6f6"/><stop offset="0.2247" stop-color="#fdf7f6"/><stop offset="0.2347" stop-color="#fdf9f6"/><stop offset="0.2360" stop-color="#fdfaf6"/><stop offset="0.2472" stop-color="#fdf8f6"/><stop offset="0.2584" stop-color="#fdfaf6"/><stop offset="0.2697" stop-color="#fdf9f6"/><stop offset="0.2809" stop-color="#fdf9f6"/><stop offset="0.2921" stop-color="#fdf9f6"/><stop offset="0.3034" stop-color="#fdf9f6"/><stop offset="0.3146" stop-color="#fdf9f6"/><stop offset="0.3258" stop-color="#fdf9f6"/><stop offset="0.3371" stop-color="#fdf9f6"/><stop offset="0.3483" stop-color="#fdf8f6"/><stop offset="0.3595" stop-color="#fdf9f6"/><stop offset="0.3707" stop-color="#fdf9f6"/><stop offset="0.3820" stop-color="#fdf9f6"/><stop offset="0.3932" stop-color="#fdf9f6"/><stop offset="0.4044" stop-color="#fdf8f6"/><stop offset="0.4157" stop-color="#fdf9f6"/><stop offset="0.4269" stop-color="#fdfaf6"/><stop offset="0.4381" stop-color="#fdfaf6"/><stop offset="0.4494" stop-color="#fdfaf6"/><stop offset="0.4606" stop-color="#fdfaf6"/><stop offset="0.4718" stop-color="#fdfaf6"/><stop offset="0.4830" stop-color="#fdfaf6"/><stop offset="0.4943" stop-color="#fdfaf6"/><stop offset="0.5055" stop-color="#fdfaf6"/><stop offset="0.5167" stop-color="#fdfaf6"/><stop offset="0.5280" stop-color="#fdfaf6"/><stop offset="0.5392" stop-color="#fdfaf6"/><stop offset="0.5504" stop-color="#fdfaf6"/><stop offset="0.5617" stop-color="#fdfaf6"/><stop offset="0.5729" stop-color="#fdfaf6"/><stop offset="0.5841" stop-color="#fdfaf6"/><stop offset="0.5953" stop-color="#fdfaf6"/><stop offset="0.6066" stop-color="#fdfaf6"/><stop offset="0.6178" stop-color="#fdfaf6"/><stop offset="0.6290" stop-color="#fdfaf6"/><stop offset="0.6403" stop-color="#fdfaf6"/><stop offset="0.6515" stop-color="#fdfaf6"/><stop offset="0.6627" stop-color="#fdfaf6"/><stop offset="0.6740" stop-color="#fdfaf6"/><stop offset="0.6852" stop-color="#fdfaf6"/><stop offset="0.6964" stop-color="#fdfaf6"/><stop offset="0.7076" stop-color="#fdfaf6"/><stop offset="0.7189" stop-color="#fdfaf6"/><stop offset="0.7301" stop-color="#fdfaf6"/><stop offset="0.7413" stop-color="#fdfaf6"/><stop offset="0.7526" stop-color="#fdfaf6"/><stop offset="0.7638" stop-color="#fdfaf6"/><stop offset="0.7750" stop-color="#fdfaf6"/><stop offset="0.7863" stop-color="#fdfaf6"/><stop offset="0.7975" stop-color="#fdfaf6"/><stop offset="0.8087" stop-color="#fdfbf6"/><stop offset="0.8199" stop-color="#fdfbf6"/><stop offset="0.8312" stop-color="#fdfbf6"/><stop offset="0.8424" stop-color="#fdfbf6"/><stop offset="0.8536" stop-color="#fdfbf6"/><stop offset="0.8649" stop-color="#fdfbf6"/><stop offset="0.8761" stop-color="#fdfbf6"/><stop offset="0.8873" stop-color="#fdfbf6"/><stop offset="0.8986" stop-color="#fdfbf6"/><stop offset="0.9098" stop-color="#fdfbf6"/><stop offset="0.9210" stop-color="#fdfbf6"/><stop offset="0.9322" stop-color="#fdfbf6"/><stop offset="0.9435" stop-color="#fdfbf6"/><stop offset="0.9547" stop-color="#fdfbf6"/><stop offset="0.9659" stop-color="#fdfbf6"/><stop offset="0.9772" stop-color="#fdfbf6"/><stop offset="0.9884" stop-color="#fdfbf6"/><stop offset="0.9984" stop-color="#fdfbf6"/></linearGradient><linearGradient id="g13" x1="0" y1="0" x2="0" y2="1"><stop offset="0.0059" stop-color="#dd3a2c"/><stop offset="0.1059" stop-color="#e05228"/><stop offset="0.2059" stop-color="#e87a2a"/><stop offset="0.2559" stop-color="#f0902a"/><stop offset="0.3009" stop-color="#f7a81a"/><stop offset="0.3559" stop-color="#f9b828"/><stop offset="0.4009" stop-color="#fbc955"/><stop offset="0.4459" stop-color="#fde3a0"/><stop offset="0.4759" stop-color="#fff0d0"/><stop offset="0.5059" stop-color="#fefdfa"/><stop offset="0.6059" stop-color="#d8d9e6"/><stop offset="0.7109" stop-color="#a9aec8"/><stop offset="0.8109" stop-color="#7981a6"/><stop offset="0.9209" stop-color="#47578a"/><stop offset="1.0000" stop-color="#23356d"/></linearGradient><linearGradient id="g14" gradientUnits="userSpaceOnUse" x1="714.7" y1="0" x2="1236.3" y2="0"><stop offset="0.0001" stop-color="#fcfcfb"/><stop offset="0.0401" stop-color="#fdf8ec"/><stop offset="0.0426" stop-color="#fcd080"/><stop offset="0.0451" stop-color="#fcd68f"/><stop offset="0.0538" stop-color="#fcd890"/><stop offset="0.0563" stop-color="#5068a0"/><stop offset="0.0675" stop-color="#2d4383"/><stop offset="0.0788" stop-color="#183077"/><stop offset="0.0900" stop-color="#3a4e89"/><stop offset="0.1012" stop-color="#2b4181"/><stop offset="0.1050" stop-color="#2a4080"/><stop offset="0.1124" stop-color="#2e4686"/><stop offset="0.1174" stop-color="#4a5f98"/><stop offset="0.1237" stop-color="#ced3e3"/><stop offset="0.1249" stop-color="#e8eaf2"/><stop offset="0.1299" stop-color="#fef6e8"/><stop offset="0.1349" stop-color="#fcd890"/><stop offset="0.1461" stop-color="#fbd277"/><stop offset="0.1474" stop-color="#fbcf6c"/><stop offset="0.1574" stop-color="#fbd274"/><stop offset="0.1686" stop-color="#fbd273"/><stop offset="0.1798" stop-color="#fbd478"/><stop offset="0.1848" stop-color="#fbd274"/><stop offset="0.1911" stop-color="#fcde9f"/><stop offset="0.1998" stop-color="#fdf0d8"/><stop offset="0.2023" stop-color="#fcf1de"/><stop offset="0.2135" stop-color="#f6f5f6"/><stop offset="0.2148" stop-color="#f4f4f8"/><stop offset="0.2247" stop-color="#d4d7e5"/><stop offset="0.2272" stop-color="#d0d3e2"/><stop offset="0.2360" stop-color="#c2c5d9"/><stop offset="0.2472" stop-color="#babed4"/><stop offset="0.2547" stop-color="#b3b8cf"/><stop offset="0.2584" stop-color="#babed2"/><stop offset="0.2697" stop-color="#b0b5cd"/><stop offset="0.2809" stop-color="#b9bed3"/><stop offset="0.2846" stop-color="#b8bdd2"/><stop offset="0.2921" stop-color="#c7cadb"/><stop offset="0.3034" stop-color="#dcdee8"/><stop offset="0.3046" stop-color="#dcdee8"/><stop offset="0.3146" stop-color="#f0edeb"/><stop offset="0.3196" stop-color="#fdf8f0"/><stop offset="0.3258" stop-color="#fdecc8"/><stop offset="0.3321" stop-color="#fde2a8"/><stop offset="0.3371" stop-color="#fde4ae"/><stop offset="0.3483" stop-color="#fde3aa"/><stop offset="0.3595" stop-color="#fde1a5"/><stop offset="0.3707" stop-color="#fce0a2"/><stop offset="0.3820" stop-color="#fcdd9b"/><stop offset="0.3932" stop-color="#fcda93"/><stop offset="0.4044" stop-color="#fcdfa2"/><stop offset="0.4094" stop-color="#fcdc98"/><stop offset="0.4157" stop-color="#fcdb95"/><stop offset="0.4269" stop-color="#fcdd9a"/><stop offset="0.4381" stop-color="#fde3af"/><stop offset="0.4494" stop-color="#fddd98"/><stop offset="0.4606" stop-color="#fddfa2"/><stop offset="0.4643" stop-color="#fde4b0"/><stop offset="0.4718" stop-color="#fde7bb"/><stop offset="0.4830" stop-color="#fdf3de"/><stop offset="0.4843" stop-color="#fdf2dc"/><stop offset="0.4943" stop-color="#fdf2dd"/><stop offset="0.5055" stop-color="#fdf1d9"/><stop offset="0.5167" stop-color="#fdf2da"/><stop offset="0.5280" stop-color="#fdf4e1"/><stop offset="0.5392" stop-color="#fdf1d8"/><stop offset="0.5504" stop-color="#fdf2dc"/><stop offset="0.5617" stop-color="#fdf3df"/><stop offset="0.5729" stop-color="#fdf3dd"/><stop offset="0.5841" stop-color="#fdf4df"/><stop offset="0.5953" stop-color="#fdf3dc"/><stop offset="0.6066" stop-color="#fdf4e0"/><stop offset="0.6178" stop-color="#fdefd3"/><stop offset="0.6290" stop-color="#fdf3df"/><stop offset="0.6403" stop-color="#fdf2dc"/><stop offset="0.6515" stop-color="#fdf2dc"/><stop offset="0.6627" stop-color="#fdf1da"/><stop offset="0.6740" stop-color="#fdf2db"/><stop offset="0.6852" stop-color="#fdefd4"/><stop offset="0.6964" stop-color="#fdf3dd"/><stop offset="0.7076" stop-color="#fdefd2"/><stop offset="0.7189" stop-color="#fdf2da"/><stop offset="0.7301" stop-color="#fdefd1"/><stop offset="0.7413" stop-color="#fdf2da"/><stop offset="0.7526" stop-color="#fdf3de"/><stop offset="0.7638" stop-color="#fdefd3"/><stop offset="0.7750" stop-color="#fdf3dc"/><stop offset="0.7863" stop-color="#fdf0d3"/><stop offset="0.7975" stop-color="#fdefd1"/><stop offset="0.8087" stop-color="#fdf2db"/><stop offset="0.8199" stop-color="#fdf2da"/><stop offset="0.8312" stop-color="#fdf1d6"/><stop offset="0.8424" stop-color="#fdefd0"/><stop offset="0.8536" stop-color="#fdefd1"/><stop offset="0.8649" stop-color="#fdf1d6"/><stop offset="0.8761" stop-color="#fdf0d5"/><stop offset="0.8873" stop-color="#fdeed1"/><stop offset="0.8986" stop-color="#fdf2db"/><stop offset="0.9098" stop-color="#fdeece"/><stop offset="0.9210" stop-color="#fdeecf"/><stop offset="0.9322" stop-color="#fdf1d9"/><stop offset="0.9435" stop-color="#fdefd3"/><stop offset="0.9547" stop-color="#fdefd1"/><stop offset="0.9659" stop-color="#fdefd3"/><stop offset="0.9772" stop-color="#fdf2db"/><stop offset="0.9884" stop-color="#fdf2db"/><stop offset="0.9984" stop-color="#fdf0d4"/></linearGradient><linearGradient id="g15" gradientUnits="userSpaceOnUse" x1="714.7" y1="0" x2="1236.3" y2="0"><stop offset="0.0001" stop-color="#fcfcfb"/><stop offset="0.0401" stop-color="#fdf8ec"/><stop offset="0.0426" stop-color="#fcd890"/><stop offset="0.0451" stop-color="#fcdc99"/><stop offset="0.0538" stop-color="#fce0a0"/><stop offset="0.0563" stop-color="#5a6ea2"/><stop offset="0.0675" stop-color="#5b6ea1"/><stop offset="0.0700" stop-color="#4a5f98"/><stop offset="0.0788" stop-color="#53669d"/><stop offset="0.0900" stop-color="#5d70a4"/><stop offset="0.1012" stop-color="#6778a8"/><stop offset="0.1075" stop-color="#7886b0"/><stop offset="0.1124" stop-color="#f4f4f8"/><stop offset="0.1237" stop-color="#f8f6f4"/><stop offset="0.1349" stop-color="#fdf8f0"/><stop offset="0.1449" stop-color="#fde2a8"/><stop offset="0.1461" stop-color="#fddd9a"/><stop offset="0.1574" stop-color="#fde3a9"/><stop offset="0.1686" stop-color="#fde4ac"/><stop offset="0.1798" stop-color="#fde8b8"/><stop offset="0.1898" stop-color="#fde4ac"/><stop offset="0.1911" stop-color="#fde0a3"/><stop offset="0.2023" stop-color="#fdf0d9"/><stop offset="0.2048" stop-color="#fdf4e4"/><stop offset="0.2135" stop-color="#ebecf1"/><stop offset="0.2148" stop-color="#eceef4"/><stop offset="0.2247" stop-color="#e9ebf3"/><stop offset="0.2360" stop-color="#eff1f5"/><stop offset="0.2447" stop-color="#eceef4"/><stop offset="0.2472" stop-color="#edeef3"/><stop offset="0.2584" stop-color="#faf5ed"/><stop offset="0.2597" stop-color="#fbf6ec"/><stop offset="0.2697" stop-color="#fbf5e8"/><stop offset="0.2809" stop-color="#fcf6ea"/><stop offset="0.2921" stop-color="#fcf5e3"/><stop offset="0.3034" stop-color="#fdf4e1"/><stop offset="0.3096" stop-color="#fdf4e0"/><stop offset="0.3146" stop-color="#fdf4e1"/><stop offset="0.3258" stop-color="#fdf5e4"/><stop offset="0.3371" stop-color="#fdf3de"/><stop offset="0.3483" stop-color="#fdf6e5"/><stop offset="0.3595" stop-color="#fdf5e3"/><stop offset="0.3707" stop-color="#fdf6e6"/><stop offset="0.3820" stop-color="#fdf5e3"/><stop offset="0.3932" stop-color="#fdf5e4"/><stop offset="0.4044" stop-color="#fdf4e0"/><stop offset="0.4157" stop-color="#fdf3df"/><stop offset="0.4269" stop-color="#fdf3df"/><stop offset="0.4381" stop-color="#fdf4e2"/><stop offset="0.4494" stop-color="#fdf3e0"/><stop offset="0.4606" stop-color="#fdf3e0"/><stop offset="0.4718" stop-color="#fdf4e2"/><stop offset="0.4830" stop-color="#fdf4df"/><stop offset="0.4943" stop-color="#fdf4dd"/><stop offset="0.5055" stop-color="#fdf5e2"/><stop offset="0.5167" stop-color="#fdf4de"/><stop offset="0.5280" stop-color="#fdf5e2"/><stop offset="0.5392" stop-color="#fdf5e4"/><stop offset="0.5504" stop-color="#fdf5e3"/><stop offset="0.5617" stop-color="#fdf5e2"/><stop offset="0.5729" stop-color="#fdf6e5"/><stop offset="0.5841" stop-color="#fdf4df"/><stop offset="0.5953" stop-color="#fdf5e4"/><stop offset="0.6066" stop-color="#fdf5e2"/><stop offset="0.6178" stop-color="#fdf4e1"/><stop offset="0.6290" stop-color="#fdf4e1"/><stop offset="0.6403" stop-color="#fdf4e2"/><stop offset="0.6515" stop-color="#fdf4e2"/><stop offset="0.6627" stop-color="#fdf4e2"/><stop offset="0.6740" stop-color="#fdf5e3"/><stop offset="0.6852" stop-color="#fdf5e5"/><stop offset="0.6964" stop-color="#fdf4e0"/><stop offset="0.7076" stop-color="#fdf6e8"/><stop offset="0.7189" stop-color="#fdf6e8"/><stop offset="0.7301" stop-color="#fdf6e7"/><stop offset="0.7413" stop-color="#fdf6e7"/><stop offset="0.7526" stop-color="#fdf4e1"/><stop offset="0.7638" stop-color="#fdf5e5"/><stop offset="0.7750" stop-color="#fdf4e2"/><stop offset="0.7863" stop-color="#fdf5e6"/><stop offset="0.7975" stop-color="#fdf6e8"/><stop offset="0.8087" stop-color="#fdf4e3"/><stop offset="0.8199" stop-color="#fdf4e3"/><stop offset="0.8312" stop-color="#fdf7e9"/><stop offset="0.8424" stop-color="#fdf5e4"/><stop offset="0.8536" stop-color="#fdf6e5"/><stop offset="0.8649" stop-color="#fdf7e9"/><stop offset="0.8761" stop-color="#fdf6e8"/><stop offset="0.8873" stop-color="#fdf5e5"/><stop offset="0.8986" stop-color="#fdf7e9"/><stop offset="0.9098" stop-color="#fdf6e6"/><stop offset="0.9210" stop-color="#fdf6e7"/><stop offset="0.9322" stop-color="#fdf6e7"/><stop offset="0.9435" stop-color="#fdf7e9"/><stop offset="0.9547" stop-color="#fdf5e5"/><stop offset="0.9659" stop-color="#fdf6e8"/><stop offset="0.9772" stop-color="#fdf6e7"/><stop offset="0.9884" stop-color="#fdf6e7"/><stop offset="0.9984" stop-color="#fdf6e8"/></linearGradient><linearGradient id="g16" gradientUnits="userSpaceOnUse" x1="714.7" y1="0" x2="1236.3" y2="0"><stop offset="0.0001" stop-color="#fcfcfb"/><stop offset="0.0451" stop-color="#fdfaf5"/><stop offset="0.0538" stop-color="#fdfaf4"/><stop offset="0.0563" stop-color="#c8cde0"/><stop offset="0.0675" stop-color="#c8cde0"/><stop offset="0.0788" stop-color="#ccd1e2"/><stop offset="0.0825" stop-color="#ccd1e2"/><stop offset="0.0875" stop-color="#f8f8fa"/><stop offset="0.0900" stop-color="#f7f7fa"/><stop offset="0.1012" stop-color="#f8f8fa"/><stop offset="0.1124" stop-color="#f9f9fa"/><stop offset="0.1237" stop-color="#f8f8fa"/><stop offset="0.1349" stop-color="#f8f8fa"/><stop offset="0.1461" stop-color="#f7f7fa"/><stop offset="0.1574" stop-color="#f8f8fa"/><stop offset="0.1686" stop-color="#f7f7fa"/><stop offset="0.1798" stop-color="#f9f9fa"/><stop offset="0.1911" stop-color="#f9f9fa"/><stop offset="0.2023" stop-color="#f9f8fa"/><stop offset="0.2135" stop-color="#f9f8fa"/><stop offset="0.2247" stop-color="#f9f8fa"/><stop offset="0.2360" stop-color="#f9f8fa"/><stop offset="0.2472" stop-color="#f9f9fa"/><stop offset="0.2584" stop-color="#f8f9fa"/><stop offset="0.2697" stop-color="#f9f9fa"/><stop offset="0.2809" stop-color="#f8f9fa"/><stop offset="0.2921" stop-color="#f9f9fa"/><stop offset="0.3034" stop-color="#f9f9fa"/><stop offset="0.3146" stop-color="#f8f9fa"/><stop offset="0.3258" stop-color="#f9f9f9"/><stop offset="0.3371" stop-color="#faf9f9"/><stop offset="0.3483" stop-color="#f9f9f9"/><stop offset="0.3595" stop-color="#f9f9f9"/><stop offset="0.3707" stop-color="#fafaf9"/><stop offset="0.3820" stop-color="#f9f9f9"/><stop offset="0.3932" stop-color="#f9f9f9"/><stop offset="0.4044" stop-color="#f9f9f9"/><stop offset="0.4157" stop-color="#f8f8f9"/><stop offset="0.4269" stop-color="#f8f8f9"/><stop offset="0.4381" stop-color="#faf9f9"/><stop offset="0.4494" stop-color="#faf9f9"/><stop offset="0.4606" stop-color="#faf9f9"/><stop offset="0.4718" stop-color="#faf9f9"/><stop offset="0.4830" stop-color="#fbfaf9"/><stop offset="0.4943" stop-color="#fbfaf9"/><stop offset="0.5055" stop-color="#fbfaf9"/><stop offset="0.5167" stop-color="#faf9f9"/><stop offset="0.5280" stop-color="#faf9f9"/><stop offset="0.5392" stop-color="#fbfaf9"/><stop offset="0.5504" stop-color="#fafaf9"/><stop offset="0.5617" stop-color="#fafaf9"/><stop offset="0.5729" stop-color="#fafaf9"/><stop offset="0.5841" stop-color="#fafaf9"/><stop offset="0.5953" stop-color="#fafaf9"/><stop offset="0.6066" stop-color="#fbfaf9"/><stop offset="0.6178" stop-color="#fafaf9"/><stop offset="0.6290" stop-color="#fafaf9"/><stop offset="0.6403" stop-color="#fafaf9"/><stop offset="0.6515" stop-color="#fafaf9"/><stop offset="0.6627" stop-color="#fbfaf9"/><stop offset="0.6740" stop-color="#fbfaf9"/><stop offset="0.6852" stop-color="#fbfaf9"/><stop offset="0.6964" stop-color="#fbfaf9"/><stop offset="0.7076" stop-color="#fbfaf9"/><stop offset="0.7189" stop-color="#fbfaf9"/><stop offset="0.7301" stop-color="#fbfaf9"/><stop offset="0.7413" stop-color="#fbfaf9"/><stop offset="0.7526" stop-color="#fbfaf9"/><stop offset="0.7638" stop-color="#fbfaf9"/><stop offset="0.7750" stop-color="#fbfaf8"/><stop offset="0.7863" stop-color="#fbfaf8"/><stop offset="0.7975" stop-color="#fbfaf8"/><stop offset="0.8087" stop-color="#fbfaf8"/><stop offset="0.8199" stop-color="#fbfaf8"/><stop offset="0.8312" stop-color="#fbfaf8"/><stop offset="0.8424" stop-color="#fbfaf8"/><stop offset="0.8536" stop-color="#fbfbf8"/><stop offset="0.8649" stop-color="#fbfbf8"/><stop offset="0.8761" stop-color="#fbfbf8"/><stop offset="0.8873" stop-color="#fcfbf8"/><stop offset="0.8986" stop-color="#fcfbf8"/><stop offset="0.9098" stop-color="#fcfbf8"/><stop offset="0.9210" stop-color="#fcfbf8"/><stop offset="0.9322" stop-color="#fcfbf8"/><stop offset="0.9435" stop-color="#fcfbf8"/><stop offset="0.9547" stop-color="#fcfbf8"/><stop offset="0.9659" stop-color="#fcfbf8"/><stop offset="0.9772" stop-color="#fcfbf8"/><stop offset="0.9884" stop-color="#fcfbf8"/><stop offset="0.9984" stop-color="#fcfbf8"/></linearGradient><linearGradient id="g17" gradientUnits="userSpaceOnUse" x1="714.7" y1="0" x2="1236.3" y2="0"><stop offset="0.0001" stop-color="#fcfcfb"/><stop offset="0.0451" stop-color="#fbfbfb"/><stop offset="0.0563" stop-color="#f9fafc"/><stop offset="0.0675" stop-color="#f9fafc"/><stop offset="0.0788" stop-color="#fafafb"/><stop offset="0.0900" stop-color="#f8f8fc"/><stop offset="0.1012" stop-color="#f8f8fc"/><stop offset="0.1124" stop-color="#f9f9fb"/><stop offset="0.1237" stop-color="#f8f8fb"/><stop offset="0.1349" stop-color="#f8f8fb"/><stop offset="0.1461" stop-color="#faf9f9"/><stop offset="0.1574" stop-color="#faf8f6"/><stop offset="0.1686" stop-color="#fbf9f4"/><stop offset="0.1798" stop-color="#fcf9f0"/><stop offset="0.1848" stop-color="#fdf9f0"/><stop offset="0.1911" stop-color="#fdf9f0"/><stop offset="0.2023" stop-color="#fcf8f0"/><stop offset="0.2135" stop-color="#fcf9f2"/><stop offset="0.2247" stop-color="#fbf8f4"/><stop offset="0.2360" stop-color="#fbf8f4"/><stop offset="0.2472" stop-color="#faf8f5"/><stop offset="0.2584" stop-color="#faf8f5"/><stop offset="0.2697" stop-color="#f8f7f6"/><stop offset="0.2809" stop-color="#f9f8f7"/><stop offset="0.2921" stop-color="#f8f8f8"/><stop offset="0.3034" stop-color="#f8f7f9"/><stop offset="0.3146" stop-color="#f7f7fa"/><stop offset="0.3258" stop-color="#f7f8fa"/><stop offset="0.3346" stop-color="#f6f7fb"/><stop offset="0.3371" stop-color="#f6f7fb"/><stop offset="0.3483" stop-color="#f5f6fc"/><stop offset="0.3595" stop-color="#f5f6fc"/><stop offset="0.3707" stop-color="#f6f7fb"/><stop offset="0.3820" stop-color="#f6f7fb"/><stop offset="0.3932" stop-color="#f7f7fb"/><stop offset="0.4044" stop-color="#f7f7fa"/><stop offset="0.4157" stop-color="#f7f7fa"/><stop offset="0.4269" stop-color="#f7f8fa"/><stop offset="0.4381" stop-color="#f6f7fa"/><stop offset="0.4494" stop-color="#f6f8fa"/><stop offset="0.4606" stop-color="#f8f9fa"/><stop offset="0.4718" stop-color="#f8f9fa"/><stop offset="0.4830" stop-color="#f6f8fa"/><stop offset="0.4943" stop-color="#f6f7fa"/><stop offset="0.5055" stop-color="#f8f8fa"/><stop offset="0.5167" stop-color="#f7f7fa"/><stop offset="0.5280" stop-color="#f8f8fa"/><stop offset="0.5392" stop-color="#f9f8f9"/><stop offset="0.5504" stop-color="#f7f7f9"/><stop offset="0.5617" stop-color="#f7f7f9"/><stop offset="0.5729" stop-color="#f8f8f9"/><stop offset="0.5841" stop-color="#f7f9f9"/><stop offset="0.5953" stop-color="#f8f9f9"/><stop offset="0.6066" stop-color="#f7f9f9"/><stop offset="0.6178" stop-color="#f9f9f9"/><stop offset="0.6290" stop-color="#f9f9f9"/><stop offset="0.6403" stop-color="#f8f8f9"/><stop offset="0.6515" stop-color="#f9f9f9"/><stop offset="0.6627" stop-color="#f9f9f9"/><stop offset="0.6740" stop-color="#f8f8f8"/><stop offset="0.6852" stop-color="#fafaf8"/><stop offset="0.6964" stop-color="#f9f9f8"/><stop offset="0.7076" stop-color="#f9f9f8"/><stop offset="0.7189" stop-color="#f9f9f8"/><stop offset="0.7301" stop-color="#faf9f8"/><stop offset="0.7413" stop-color="#f9f8f8"/><stop offset="0.7526" stop-color="#fafaf8"/><stop offset="0.7638" stop-color="#fafaf8"/><stop offset="0.7750" stop-color="#fbfaf8"/><stop offset="0.7863" stop-color="#fafaf8"/><stop offset="0.7975" stop-color="#fafaf8"/><stop offset="0.8087" stop-color="#fbfaf7"/><stop offset="0.8199" stop-color="#f9faf7"/><stop offset="0.8312" stop-color="#fafaf7"/><stop offset="0.8424" stop-color="#fbfaf7"/><stop offset="0.8536" stop-color="#fbfaf7"/><stop offset="0.8649" stop-color="#fbfaf7"/><stop offset="0.8761" stop-color="#fbfaf7"/><stop offset="0.8873" stop-color="#fbfaf7"/><stop offset="0.8986" stop-color="#fbfaf7"/><stop offset="0.9098" stop-color="#fbfaf7"/><stop offset="0.9210" stop-color="#fbfbf7"/><stop offset="0.9322" stop-color="#fbfbf6"/><stop offset="0.9435" stop-color="#fcfbf6"/><stop offset="0.9547" stop-color="#fcfbf6"/><stop offset="0.9659" stop-color="#fcfbf6"/><stop offset="0.9772" stop-color="#fcfbf6"/><stop offset="0.9884" stop-color="#fcfbf6"/><stop offset="0.9984" stop-color="#fcfbf6"/></linearGradient><linearGradient id="g18" gradientUnits="userSpaceOnUse" x1="714.7" y1="0" x2="1236.3" y2="0"><stop offset="0.0001" stop-color="#fcfcfb"/><stop offset="0.0451" stop-color="#fcfbf8"/><stop offset="0.0563" stop-color="#fcfbf7"/><stop offset="0.0675" stop-color="#fdfbf6"/><stop offset="0.0788" stop-color="#fdfbf5"/><stop offset="0.0900" stop-color="#fdfbf4"/><stop offset="0.1012" stop-color="#fdfaf5"/><stop offset="0.1124" stop-color="#fdfaf3"/><stop offset="0.1224" stop-color="#fdfaf2"/><stop offset="0.1237" stop-color="#fdf8ed"/><stop offset="0.1349" stop-color="#fdf0d6"/><stop offset="0.1461" stop-color="#fdf2dc"/><stop offset="0.1574" stop-color="#fdf2dc"/><stop offset="0.1686" stop-color="#fdf0d6"/><stop offset="0.1798" stop-color="#fdeed1"/><stop offset="0.1911" stop-color="#fdf0d6"/><stop offset="0.2023" stop-color="#fdeed0"/><stop offset="0.2135" stop-color="#fdf1da"/><stop offset="0.2247" stop-color="#fdedd0"/><stop offset="0.2360" stop-color="#fdf2dc"/><stop offset="0.2472" stop-color="#fdefd4"/><stop offset="0.2584" stop-color="#fdf1da"/><stop offset="0.2597" stop-color="#fdf0d8"/><stop offset="0.2697" stop-color="#fdefd7"/><stop offset="0.2809" stop-color="#fdf4e4"/><stop offset="0.2921" stop-color="#fdf4e4"/><stop offset="0.3034" stop-color="#fcf4e3"/><stop offset="0.3146" stop-color="#fcf5e8"/><stop offset="0.3258" stop-color="#fcf7ed"/><stop offset="0.3346" stop-color="#fcf8f0"/><stop offset="0.3371" stop-color="#fcf8f0"/><stop offset="0.3483" stop-color="#fcf7ee"/><stop offset="0.3595" stop-color="#fcf9f1"/><stop offset="0.3707" stop-color="#fcf9f1"/><stop offset="0.3820" stop-color="#fcf9f2"/><stop offset="0.3932" stop-color="#fcf8f0"/><stop offset="0.4044" stop-color="#fcf7f0"/><stop offset="0.4157" stop-color="#fcf9f2"/><stop offset="0.4269" stop-color="#fcf8f0"/><stop offset="0.4381" stop-color="#fcf8f0"/><stop offset="0.4494" stop-color="#fcf9f2"/><stop offset="0.4606" stop-color="#fcf8f1"/><stop offset="0.4718" stop-color="#fcf8f1"/><stop offset="0.4830" stop-color="#fcf9f2"/><stop offset="0.4943" stop-color="#fcf7f0"/><stop offset="0.5055" stop-color="#fcf9f3"/><stop offset="0.5167" stop-color="#fcf9f3"/><stop offset="0.5280" stop-color="#fcf9f1"/><stop offset="0.5392" stop-color="#fcf9f2"/><stop offset="0.5504" stop-color="#fcf9f1"/><stop offset="0.5617" stop-color="#fcf9f2"/><stop offset="0.5729" stop-color="#fcfaf3"/><stop offset="0.5841" stop-color="#fcf9f2"/><stop offset="0.5953" stop-color="#fcf8f1"/><stop offset="0.6066" stop-color="#fcf9f3"/><stop offset="0.6178" stop-color="#fcf9f4"/><stop offset="0.6290" stop-color="#fcf8f2"/><stop offset="0.6403" stop-color="#fcfaf4"/><stop offset="0.6515" stop-color="#fcf9f3"/><stop offset="0.6627" stop-color="#fcf8f2"/><stop offset="0.6740" stop-color="#fcf9f2"/><stop offset="0.6852" stop-color="#fcf9f4"/><stop offset="0.6964" stop-color="#fcfaf4"/><stop offset="0.7076" stop-color="#fcf9f3"/><stop offset="0.7189" stop-color="#fcf9f3"/><stop offset="0.7301" stop-color="#fcf9f3"/><stop offset="0.7413" stop-color="#fcf9f5"/><stop offset="0.7526" stop-color="#fcf9f4"/><stop offset="0.7638" stop-color="#fcf9f4"/><stop offset="0.7750" stop-color="#fcf9f4"/><stop offset="0.7863" stop-color="#fcf9f4"/><stop offset="0.7975" stop-color="#fcf9f4"/><stop offset="0.8087" stop-color="#fcf9f4"/><stop offset="0.8199" stop-color="#fcf9f4"/><stop offset="0.8312" stop-color="#fcf9f4"/><stop offset="0.8424" stop-color="#fcfaf5"/><stop offset="0.8536" stop-color="#fcfaf5"/><stop offset="0.8649" stop-color="#fcfaf5"/><stop offset="0.8761" stop-color="#fcfaf6"/><stop offset="0.8873" stop-color="#fcfaf6"/><stop offset="0.8986" stop-color="#fcfaf5"/><stop offset="0.9098" stop-color="#fcfaf5"/><stop offset="0.9210" stop-color="#fcfaf5"/><stop offset="0.9322" stop-color="#fcfaf6"/><stop offset="0.9435" stop-color="#fcfaf6"/><stop offset="0.9547" stop-color="#fcfaf6"/><stop offset="0.9659" stop-color="#fcfaf6"/><stop offset="0.9772" stop-color="#fcfaf6"/><stop offset="0.9884" stop-color="#fcfaf6"/><stop offset="0.9984" stop-color="#fcfaf6"/></linearGradient><linearGradient id="g19" x1="0" y1="0" x2="0" y2="1"><stop offset="0.0092" stop-color="#dd3a2c"/><stop offset="0.1092" stop-color="#e05228"/><stop offset="0.2092" stop-color="#e87a2a"/><stop offset="0.2592" stop-color="#f0902a"/><stop offset="0.3042" stop-color="#f7a81a"/><stop offset="0.3592" stop-color="#f9b828"/><stop offset="0.4042" stop-color="#fbc955"/><stop offset="0.4492" stop-color="#fde3a0"/><stop offset="0.4792" stop-color="#fff0d0"/><stop offset="0.5092" stop-color="#fefdfa"/><stop offset="0.6092" stop-color="#d8d9e6"/><stop offset="0.7142" stop-color="#a9aec8"/><stop offset="0.8142" stop-color="#7981a6"/><stop offset="0.9242" stop-color="#47578a"/><stop offset="1.0000" stop-color="#23356d"/></linearGradient><linearGradient id="g20" gradientUnits="userSpaceOnUse" x1="714.7" y1="0" x2="1236.3" y2="0"><stop offset="0.0001" stop-color="#fcfcfb"/><stop offset="0.0401" stop-color="#fdf8ec"/><stop offset="0.0426" stop-color="#f0a030"/><stop offset="0.0451" stop-color="#f09b24"/><stop offset="0.0550" stop-color="#f4b050"/><stop offset="0.0563" stop-color="#f6c175"/><stop offset="0.0600" stop-color="#fbe8c8"/><stop offset="0.0675" stop-color="#fbe3bb"/><stop offset="0.0788" stop-color="#fbddab"/><stop offset="0.0825" stop-color="#fbe0b0"/><stop offset="0.0900" stop-color="#f8c468"/><stop offset="0.1012" stop-color="#f7bd55"/><stop offset="0.1124" stop-color="#f7b94a"/><stop offset="0.1224" stop-color="#f6bc50"/><stop offset="0.1237" stop-color="#f6b948"/><stop offset="0.1349" stop-color="#f6c15b"/><stop offset="0.1461" stop-color="#f4bd4f"/><stop offset="0.1574" stop-color="#f4bd50"/><stop offset="0.1686" stop-color="#f2b63c"/><stop offset="0.1723" stop-color="#f2b840"/><stop offset="0.1798" stop-color="#f6c66f"/><stop offset="0.1848" stop-color="#f8d090"/><stop offset="0.1911" stop-color="#f5dab1"/><stop offset="0.1998" stop-color="#f2f0ee"/><stop offset="0.2023" stop-color="#f2f0ef"/><stop offset="0.2135" stop-color="#efeeef"/><stop offset="0.2247" stop-color="#ecebef"/><stop offset="0.2347" stop-color="#e4e4ec"/><stop offset="0.2360" stop-color="#e7e7ee"/><stop offset="0.2472" stop-color="#e2e2eb"/><stop offset="0.2584" stop-color="#e7e6ed"/><stop offset="0.2697" stop-color="#eceaf0"/><stop offset="0.2809" stop-color="#eae9f0"/><stop offset="0.2846" stop-color="#eceaf0"/><stop offset="0.2921" stop-color="#eae9ef"/><stop offset="0.3034" stop-color="#ebeaf1"/><stop offset="0.3146" stop-color="#eeecf1"/><stop offset="0.3258" stop-color="#e7e6ee"/><stop offset="0.3371" stop-color="#e7e6ef"/><stop offset="0.3483" stop-color="#ebebf0"/><stop offset="0.3595" stop-color="#e6e6ee"/><stop offset="0.3707" stop-color="#e3e3ec"/><stop offset="0.3820" stop-color="#e5e4eb"/><stop offset="0.3932" stop-color="#dedee7"/><stop offset="0.3969" stop-color="#dcdce6"/><stop offset="0.4044" stop-color="#dadbe5"/><stop offset="0.4157" stop-color="#dcdce6"/><stop offset="0.4269" stop-color="#dedee8"/><stop offset="0.4381" stop-color="#dcdce6"/><stop offset="0.4494" stop-color="#e0dfe8"/><stop offset="0.4606" stop-color="#dedee6"/><stop offset="0.4718" stop-color="#e0e0e9"/><stop offset="0.4830" stop-color="#dfdfe8"/><stop offset="0.4843" stop-color="#e0e0e8"/><stop offset="0.4943" stop-color="#e8e4e1"/><stop offset="0.5055" stop-color="#f3e9d9"/><stop offset="0.5092" stop-color="#f6ecd8"/><stop offset="0.5167" stop-color="#f8e7b3"/><stop offset="0.5242" stop-color="#fce8a0"/><stop offset="0.5280" stop-color="#fbe8a6"/><stop offset="0.5392" stop-color="#f8f0e0"/><stop offset="0.5504" stop-color="#f0e9dd"/><stop offset="0.5617" stop-color="#edeae6"/><stop offset="0.5729" stop-color="#dfdce2"/><stop offset="0.5841" stop-color="#dedee8"/><stop offset="0.5953" stop-color="#dddde7"/><stop offset="0.6066" stop-color="#e0e0e9"/><stop offset="0.6178" stop-color="#e2e2ea"/><stop offset="0.6290" stop-color="#e1e0ea"/><stop offset="0.6403" stop-color="#dfdfe9"/><stop offset="0.6515" stop-color="#dedee9"/><stop offset="0.6627" stop-color="#dbdbe8"/><stop offset="0.6740" stop-color="#dcdce8"/><stop offset="0.6789" stop-color="#e0e0ea"/><stop offset="0.6852" stop-color="#e5e0da"/><stop offset="0.6964" stop-color="#f8eccc"/><stop offset="0.7076" stop-color="#fcdf8f"/><stop offset="0.7089" stop-color="#fce090"/><stop offset="0.7189" stop-color="#fcde88"/><stop offset="0.7301" stop-color="#fcdd86"/><stop offset="0.7413" stop-color="#fcdf8b"/><stop offset="0.7463" stop-color="#fce090"/><stop offset="0.7526" stop-color="#fae9bc"/><stop offset="0.7638" stop-color="#f4f0ec"/><stop offset="0.7750" stop-color="#e5e4e9"/><stop offset="0.7838" stop-color="#dcdce6"/><stop offset="0.7863" stop-color="#dcdce6"/><stop offset="0.7975" stop-color="#dbdbe5"/><stop offset="0.8087" stop-color="#dddde7"/><stop offset="0.8199" stop-color="#dadae6"/><stop offset="0.8312" stop-color="#dedee8"/><stop offset="0.8424" stop-color="#dddde7"/><stop offset="0.8536" stop-color="#dfdfe8"/><stop offset="0.8649" stop-color="#dbdce7"/><stop offset="0.8761" stop-color="#dcdce7"/><stop offset="0.8836" stop-color="#dedee8"/><stop offset="0.8873" stop-color="#dddce5"/><stop offset="0.8986" stop-color="#eeeceb"/><stop offset="0.9085" stop-color="#f6f2ea"/><stop offset="0.9098" stop-color="#f7f3eb"/><stop offset="0.9210" stop-color="#f5f1e9"/><stop offset="0.9322" stop-color="#f6f1ea"/><stop offset="0.9435" stop-color="#f8f5ee"/><stop offset="0.9547" stop-color="#f7f4ed"/><stop offset="0.9659" stop-color="#f8f6f0"/><stop offset="0.9772" stop-color="#f7f4ee"/><stop offset="0.9884" stop-color="#f7f5ee"/><stop offset="0.9984" stop-color="#f8f6f0"/></linearGradient><linearGradient id="g21" gradientUnits="userSpaceOnUse" x1="714.7" y1="0" x2="1236.3" y2="0"><stop offset="0.0001" stop-color="#fcfcfb"/><stop offset="0.0401" stop-color="#fdf8ec"/><stop offset="0.0426" stop-color="#e86a28"/><stop offset="0.0451" stop-color="#e76218"/><stop offset="0.0550" stop-color="#ec8030"/><stop offset="0.0563" stop-color="#ef924a"/><stop offset="0.0600" stop-color="#fae0c0"/><stop offset="0.0675" stop-color="#fadfbc"/><stop offset="0.0788" stop-color="#f9dcb3"/><stop offset="0.0900" stop-color="#f8d8a8"/><stop offset="0.1012" stop-color="#f7d192"/><stop offset="0.1124" stop-color="#f7ce83"/><stop offset="0.1224" stop-color="#f6c870"/><stop offset="0.1237" stop-color="#f5c363"/><stop offset="0.1349" stop-color="#f5c56c"/><stop offset="0.1461" stop-color="#f5c367"/><stop offset="0.1574" stop-color="#f3bb53"/><stop offset="0.1599" stop-color="#f4c060"/><stop offset="0.1686" stop-color="#f4dcb1"/><stop offset="0.1748" stop-color="#f4ece4"/><stop offset="0.1798" stop-color="#f5ede6"/><stop offset="0.1911" stop-color="#f5efea"/><stop offset="0.2023" stop-color="#f0eae6"/><stop offset="0.2135" stop-color="#f1edea"/><stop offset="0.2247" stop-color="#f0edec"/><stop offset="0.2360" stop-color="#eeeaec"/><stop offset="0.2472" stop-color="#ecebef"/><stop offset="0.2584" stop-color="#f0f0f3"/><stop offset="0.2597" stop-color="#eeeef2"/><stop offset="0.2697" stop-color="#d4d4da"/><stop offset="0.2722" stop-color="#cacad2"/><stop offset="0.2809" stop-color="#c6c6cf"/><stop offset="0.2921" stop-color="#c5c5cf"/><stop offset="0.3034" stop-color="#c9c9d2"/><stop offset="0.3146" stop-color="#c7c7d0"/><stop offset="0.3258" stop-color="#ceced6"/><stop offset="0.3371" stop-color="#c9c9d2"/><stop offset="0.3483" stop-color="#ccccd5"/><stop offset="0.3595" stop-color="#c8c8d2"/><stop offset="0.3707" stop-color="#c7c8d1"/><stop offset="0.3770" stop-color="#c0c2cc"/><stop offset="0.3820" stop-color="#c5c7d0"/><stop offset="0.3932" stop-color="#c1c3cd"/><stop offset="0.4044" stop-color="#c1c3cd"/><stop offset="0.4157" stop-color="#c3c5cf"/><stop offset="0.4269" stop-color="#c1c3cd"/><stop offset="0.4381" stop-color="#c9cad3"/><stop offset="0.4419" stop-color="#c4c6d0"/><stop offset="0.4494" stop-color="#d5d7de"/><stop offset="0.4593" stop-color="#e8e8ee"/><stop offset="0.4606" stop-color="#ebebef"/><stop offset="0.4718" stop-color="#eaeaed"/><stop offset="0.4830" stop-color="#ebeaea"/><stop offset="0.4943" stop-color="#f1f0ed"/><stop offset="0.5055" stop-color="#efede8"/><stop offset="0.5092" stop-color="#f2f0ea"/><stop offset="0.5167" stop-color="#f8ecc6"/><stop offset="0.5217" stop-color="#fce8a8"/><stop offset="0.5280" stop-color="#fcebb3"/><stop offset="0.5342" stop-color="#fce8a8"/><stop offset="0.5392" stop-color="#f8ebc5"/><stop offset="0.5492" stop-color="#eceaee"/><stop offset="0.5504" stop-color="#e8e6eb"/><stop offset="0.5617" stop-color="#dbdbe1"/><stop offset="0.5716" stop-color="#c6c8d2"/><stop offset="0.5729" stop-color="#c7c9d3"/><stop offset="0.5841" stop-color="#c8cad4"/><stop offset="0.5953" stop-color="#c7c9d3"/><stop offset="0.6066" stop-color="#c8cad4"/><stop offset="0.6178" stop-color="#cbcdd6"/><stop offset="0.6290" stop-color="#cccdd6"/><stop offset="0.6403" stop-color="#c3c5d1"/><stop offset="0.6415" stop-color="#c8cad4"/><stop offset="0.6515" stop-color="#dddde3"/><stop offset="0.6590" stop-color="#ecebee"/><stop offset="0.6627" stop-color="#eae8ea"/><stop offset="0.6740" stop-color="#ece8e4"/><stop offset="0.6852" stop-color="#f2ebe0"/><stop offset="0.6964" stop-color="#f4ecdc"/><stop offset="0.7076" stop-color="#fce197"/><stop offset="0.7089" stop-color="#fde4a0"/><stop offset="0.7189" stop-color="#fde5a3"/><stop offset="0.7301" stop-color="#fde6a8"/><stop offset="0.7413" stop-color="#fde4a0"/><stop offset="0.7526" stop-color="#f2e8cd"/><stop offset="0.7588" stop-color="#eeeeee"/><stop offset="0.7638" stop-color="#e9e9ea"/><stop offset="0.7750" stop-color="#dadbdf"/><stop offset="0.7838" stop-color="#cccdd6"/><stop offset="0.7863" stop-color="#cccdd6"/><stop offset="0.7975" stop-color="#cdced7"/><stop offset="0.8087" stop-color="#c6c8d2"/><stop offset="0.8199" stop-color="#c7c8d2"/><stop offset="0.8312" stop-color="#c9cad3"/><stop offset="0.8424" stop-color="#c7c8d2"/><stop offset="0.8536" stop-color="#cdcdd6"/><stop offset="0.8649" stop-color="#cccdd6"/><stop offset="0.8711" stop-color="#cacbd4"/><stop offset="0.8761" stop-color="#d5d5dd"/><stop offset="0.8873" stop-color="#e9e9ee"/><stop offset="0.8886" stop-color="#ececf0"/><stop offset="0.8986" stop-color="#f0f0f2"/><stop offset="0.9098" stop-color="#f0f0f1"/><stop offset="0.9210" stop-color="#f0f0f2"/><stop offset="0.9322" stop-color="#f1f0f2"/><stop offset="0.9435" stop-color="#f1f0f2"/><stop offset="0.9547" stop-color="#f2f2f2"/><stop offset="0.9659" stop-color="#f1f1f2"/><stop offset="0.9772" stop-color="#f1f1f2"/><stop offset="0.9884" stop-color="#f1f1f2"/><stop offset="0.9984" stop-color="#f2f2f2"/></linearGradient><linearGradient id="g22" gradientUnits="userSpaceOnUse" x1="714.7" y1="0" x2="1236.3" y2="0"><stop offset="0.0001" stop-color="#fcfcfb"/><stop offset="0.0401" stop-color="#fdf8ec"/><stop offset="0.0426" stop-color="#e05020"/><stop offset="0.0451" stop-color="#df4a14"/><stop offset="0.0563" stop-color="#e56e2d"/><stop offset="0.0575" stop-color="#e46a24"/><stop offset="0.0625" stop-color="#f0c830"/><stop offset="0.0675" stop-color="#efc936"/><stop offset="0.0788" stop-color="#edc424"/><stop offset="0.0900" stop-color="#efcd46"/><stop offset="0.1012" stop-color="#ecc833"/><stop offset="0.1124" stop-color="#ebcc45"/><stop offset="0.1237" stop-color="#ebcd4a"/><stop offset="0.1349" stop-color="#e8c838"/><stop offset="0.1461" stop-color="#e7c431"/><stop offset="0.1574" stop-color="#e9c640"/><stop offset="0.1686" stop-color="#ecc84f"/><stop offset="0.1723" stop-color="#ecc850"/><stop offset="0.1798" stop-color="#ebdca9"/><stop offset="0.1848" stop-color="#ececec"/><stop offset="0.1911" stop-color="#dfdfe1"/><stop offset="0.2023" stop-color="#d4d4d9"/><stop offset="0.2135" stop-color="#c6c6cd"/><stop offset="0.2148" stop-color="#c4c4cc"/><stop offset="0.2247" stop-color="#c9c9cf"/><stop offset="0.2360" stop-color="#bebec7"/><stop offset="0.2472" stop-color="#bfbfc7"/><stop offset="0.2584" stop-color="#c6c6cd"/><stop offset="0.2697" stop-color="#c2c2c9"/><stop offset="0.2797" stop-color="#c0c0c8"/><stop offset="0.2809" stop-color="#c5c5cc"/><stop offset="0.2921" stop-color="#cfcfd8"/><stop offset="0.2971" stop-color="#dadae2"/><stop offset="0.3034" stop-color="#dbdbe3"/><stop offset="0.3146" stop-color="#dcdbe3"/><stop offset="0.3258" stop-color="#d5d5de"/><stop offset="0.3346" stop-color="#d8d8e0"/><stop offset="0.3371" stop-color="#d7d7de"/><stop offset="0.3470" stop-color="#c8c8d0"/><stop offset="0.3483" stop-color="#ccccd3"/><stop offset="0.3595" stop-color="#cdcdd3"/><stop offset="0.3707" stop-color="#cccbd3"/><stop offset="0.3820" stop-color="#c9c9d2"/><stop offset="0.3932" stop-color="#cbcbd3"/><stop offset="0.4044" stop-color="#c6c6d0"/><stop offset="0.4157" stop-color="#c4c4ce"/><stop offset="0.4269" stop-color="#ccccd4"/><stop offset="0.4381" stop-color="#cdcdd5"/><stop offset="0.4494" stop-color="#c5c5d0"/><stop offset="0.4543" stop-color="#c8c8d2"/><stop offset="0.4606" stop-color="#d1d1da"/><stop offset="0.4718" stop-color="#e4e4ea"/><stop offset="0.4830" stop-color="#e3e2e5"/><stop offset="0.4943" stop-color="#edebe8"/><stop offset="0.5055" stop-color="#ece8e0"/><stop offset="0.5167" stop-color="#f0ece0"/><stop offset="0.5280" stop-color="#fbeaae"/><stop offset="0.5292" stop-color="#fce8a0"/><stop offset="0.5392" stop-color="#f8efd3"/><stop offset="0.5442" stop-color="#f4f0e4"/><stop offset="0.5504" stop-color="#ebe8e1"/><stop offset="0.5617" stop-color="#d4d4d7"/><stop offset="0.5716" stop-color="#c6c8d2"/><stop offset="0.5729" stop-color="#c3c5d0"/><stop offset="0.5841" stop-color="#c2c5cf"/><stop offset="0.5953" stop-color="#caccd4"/><stop offset="0.6066" stop-color="#c8c9d2"/><stop offset="0.6178" stop-color="#caccd4"/><stop offset="0.6290" stop-color="#cbcdd4"/><stop offset="0.6403" stop-color="#c4c7cf"/><stop offset="0.6465" stop-color="#c8cad2"/><stop offset="0.6515" stop-color="#d2d3da"/><stop offset="0.6627" stop-color="#dadce1"/><stop offset="0.6715" stop-color="#e8e8ec"/><stop offset="0.6740" stop-color="#e5e4e7"/><stop offset="0.6852" stop-color="#edeae3"/><stop offset="0.6964" stop-color="#f0ebd8"/><stop offset="0.7076" stop-color="#f5eac9"/><stop offset="0.7139" stop-color="#f8eecc"/><stop offset="0.7189" stop-color="#f8edc8"/><stop offset="0.7301" stop-color="#f7ecc6"/><stop offset="0.7413" stop-color="#f7edc7"/><stop offset="0.7526" stop-color="#f9f1d5"/><stop offset="0.7538" stop-color="#f8eecc"/><stop offset="0.7638" stop-color="#eee7d1"/><stop offset="0.7750" stop-color="#e5e2dc"/><stop offset="0.7838" stop-color="#e0e0e6"/><stop offset="0.7863" stop-color="#e1e1e7"/><stop offset="0.7975" stop-color="#e2e2e8"/><stop offset="0.8087" stop-color="#e0e0e7"/><stop offset="0.8199" stop-color="#dfdfe5"/><stop offset="0.8312" stop-color="#dfdfe6"/><stop offset="0.8424" stop-color="#dedee5"/><stop offset="0.8536" stop-color="#dedee5"/><stop offset="0.8649" stop-color="#dcdce3"/><stop offset="0.8761" stop-color="#d9d9e2"/><stop offset="0.8836" stop-color="#dcdce4"/><stop offset="0.8873" stop-color="#e0e0e6"/><stop offset="0.8986" stop-color="#dddde5"/><stop offset="0.9098" stop-color="#dedee5"/><stop offset="0.9210" stop-color="#e8e7eb"/><stop offset="0.9322" stop-color="#e4e4e8"/><stop offset="0.9435" stop-color="#e2e2e7"/><stop offset="0.9547" stop-color="#e5e5e9"/><stop offset="0.9659" stop-color="#eaeaec"/><stop offset="0.9772" stop-color="#ececed"/><stop offset="0.9884" stop-color="#efefef"/><stop offset="0.9984" stop-color="#eeeeee"/></linearGradient><linearGradient id="g23" gradientUnits="userSpaceOnUse" x1="714.7" y1="0" x2="1236.3" y2="0"><stop offset="0.0001" stop-color="#fcfcfb"/><stop offset="0.0401" stop-color="#fdf8ec"/><stop offset="0.0426" stop-color="#e04820"/><stop offset="0.0451" stop-color="#e04b20"/><stop offset="0.0563" stop-color="#e04e14"/><stop offset="0.0575" stop-color="#e25a22"/><stop offset="0.0625" stop-color="#e0cc40"/><stop offset="0.0675" stop-color="#ddc935"/><stop offset="0.0788" stop-color="#dcc93b"/><stop offset="0.0900" stop-color="#dbca45"/><stop offset="0.1012" stop-color="#dbcc50"/><stop offset="0.1100" stop-color="#d8c848"/><stop offset="0.1124" stop-color="#d9ca50"/><stop offset="0.1237" stop-color="#d7ca55"/><stop offset="0.1349" stop-color="#d2c652"/><stop offset="0.1461" stop-color="#d1c85f"/><stop offset="0.1574" stop-color="#c9c152"/><stop offset="0.1599" stop-color="#c8c050"/><stop offset="0.1686" stop-color="#cbc364"/><stop offset="0.1723" stop-color="#d0c878"/><stop offset="0.1798" stop-color="#c8c5ab"/><stop offset="0.1848" stop-color="#c0c0c8"/><stop offset="0.1911" stop-color="#bbbbc4"/><stop offset="0.2023" stop-color="#bdbdc5"/><stop offset="0.2135" stop-color="#b8b8c2"/><stop offset="0.2247" stop-color="#b5b5bf"/><stop offset="0.2360" stop-color="#bebec7"/><stop offset="0.2447" stop-color="#b8b8c2"/><stop offset="0.2472" stop-color="#c0c0ca"/><stop offset="0.2584" stop-color="#e2e2e8"/><stop offset="0.2597" stop-color="#e4e4ea"/><stop offset="0.2697" stop-color="#e8e8ec"/><stop offset="0.2809" stop-color="#e2e2e9"/><stop offset="0.2921" stop-color="#e9e9ed"/><stop offset="0.3034" stop-color="#e3e3e9"/><stop offset="0.3046" stop-color="#e4e4ea"/><stop offset="0.3146" stop-color="#c2c2cc"/><stop offset="0.3258" stop-color="#bdbdc8"/><stop offset="0.3371" stop-color="#c3c3cd"/><stop offset="0.3483" stop-color="#c0c0ca"/><stop offset="0.3595" stop-color="#c5c5cf"/><stop offset="0.3707" stop-color="#bebeca"/><stop offset="0.3820" stop-color="#bebeca"/><stop offset="0.3932" stop-color="#c0c0cb"/><stop offset="0.4044" stop-color="#bcbcc8"/><stop offset="0.4157" stop-color="#c0c0cc"/><stop offset="0.4269" stop-color="#bfbfcb"/><stop offset="0.4381" stop-color="#c6c6d0"/><stop offset="0.4494" stop-color="#bcbcc9"/><stop offset="0.4543" stop-color="#c0c0cc"/><stop offset="0.4606" stop-color="#cfcfd9"/><stop offset="0.4718" stop-color="#e8e8ee"/><stop offset="0.4830" stop-color="#e6e6ed"/><stop offset="0.4943" stop-color="#e7e7ed"/><stop offset="0.5055" stop-color="#eaeaef"/><stop offset="0.5167" stop-color="#e6e6ec"/><stop offset="0.5280" stop-color="#e2e2ea"/><stop offset="0.5392" stop-color="#e3e3ea"/><stop offset="0.5504" stop-color="#e9e9ed"/><stop offset="0.5617" stop-color="#e4e4ea"/><stop offset="0.5716" stop-color="#e4e4ea"/><stop offset="0.5729" stop-color="#dcdce4"/><stop offset="0.5841" stop-color="#c4c4ce"/><stop offset="0.5953" stop-color="#c9c9d2"/><stop offset="0.6066" stop-color="#cbcad3"/><stop offset="0.6178" stop-color="#c1c2cc"/><stop offset="0.6290" stop-color="#c4c4ce"/><stop offset="0.6403" stop-color="#c3c3ce"/><stop offset="0.6490" stop-color="#c6c6d0"/><stop offset="0.6515" stop-color="#ccccd4"/><stop offset="0.6627" stop-color="#dadae0"/><stop offset="0.6640" stop-color="#dcdce2"/><stop offset="0.6740" stop-color="#dedee4"/><stop offset="0.6852" stop-color="#dedee4"/><stop offset="0.6964" stop-color="#dbdbe1"/><stop offset="0.7076" stop-color="#d9d9df"/><stop offset="0.7189" stop-color="#dadae1"/><stop offset="0.7301" stop-color="#dddde3"/><stop offset="0.7413" stop-color="#dddce3"/><stop offset="0.7526" stop-color="#d7d7e0"/><stop offset="0.7638" stop-color="#dadae1"/><stop offset="0.7750" stop-color="#dadae1"/><stop offset="0.7838" stop-color="#d8d8e0"/><stop offset="0.7863" stop-color="#dbdbe2"/><stop offset="0.7975" stop-color="#dbdbe2"/><stop offset="0.8087" stop-color="#e2e2e8"/><stop offset="0.8199" stop-color="#eaeaee"/><stop offset="0.8312" stop-color="#eeedf0"/><stop offset="0.8337" stop-color="#ececf0"/><stop offset="0.8424" stop-color="#efeff2"/><stop offset="0.8536" stop-color="#e9e9ee"/><stop offset="0.8649" stop-color="#ededf0"/><stop offset="0.8761" stop-color="#ededf1"/><stop offset="0.8873" stop-color="#f0f0f2"/><stop offset="0.8986" stop-color="#efeff2"/><stop offset="0.9098" stop-color="#ececf0"/><stop offset="0.9210" stop-color="#ececf0"/><stop offset="0.9322" stop-color="#eeeef1"/><stop offset="0.9435" stop-color="#f0f0f2"/><stop offset="0.9547" stop-color="#ececf0"/><stop offset="0.9659" stop-color="#f0f0f2"/><stop offset="0.9772" stop-color="#f0f0f3"/><stop offset="0.9884" stop-color="#f2f2f3"/><stop offset="0.9984" stop-color="#f0f0f2"/></linearGradient><linearGradient id="g24" gradientUnits="userSpaceOnUse" x1="714.7" y1="0" x2="1236.3" y2="0"><stop offset="0.0001" stop-color="#fcfcfb"/><stop offset="0.0451" stop-color="#fbf8f9"/><stop offset="0.0563" stop-color="#fbf6f8"/><stop offset="0.0600" stop-color="#fbf7f8"/><stop offset="0.0675" stop-color="#fbf6f8"/><stop offset="0.0788" stop-color="#fbf4f7"/><stop offset="0.0900" stop-color="#faf5f7"/><stop offset="0.1012" stop-color="#faf2f6"/><stop offset="0.1100" stop-color="#faf2f6"/><stop offset="0.1124" stop-color="#faf3f6"/><stop offset="0.1237" stop-color="#fbf3f6"/><stop offset="0.1349" stop-color="#fbf5f5"/><stop offset="0.1461" stop-color="#fbf6f5"/><stop offset="0.1574" stop-color="#fcf5f5"/><stop offset="0.1686" stop-color="#fcf8f4"/><stop offset="0.1798" stop-color="#fdf8f4"/><stop offset="0.1848" stop-color="#fdf8f4"/><stop offset="0.1911" stop-color="#fdf8f4"/><stop offset="0.2023" stop-color="#fdf7f3"/><stop offset="0.2135" stop-color="#fdf8f4"/><stop offset="0.2247" stop-color="#fdf8f4"/><stop offset="0.2360" stop-color="#fdf8f4"/><stop offset="0.2472" stop-color="#fdf8f3"/><stop offset="0.2584" stop-color="#fdf8f2"/><stop offset="0.2697" stop-color="#fdf7f2"/><stop offset="0.2809" stop-color="#fdf8f3"/><stop offset="0.2921" stop-color="#fdf8f3"/><stop offset="0.3034" stop-color="#fcf9f4"/><stop offset="0.3146" stop-color="#fcf7f2"/><stop offset="0.3258" stop-color="#fcf8f3"/><stop offset="0.3371" stop-color="#fcf8f3"/><stop offset="0.3483" stop-color="#fcf9f4"/><stop offset="0.3595" stop-color="#fcf8f2"/><stop offset="0.3707" stop-color="#fcf8f2"/><stop offset="0.3820" stop-color="#fcf7f1"/><stop offset="0.3932" stop-color="#fcf7f1"/><stop offset="0.4044" stop-color="#fcf8f2"/><stop offset="0.4094" stop-color="#fcf8f2"/><stop offset="0.4157" stop-color="#fcf9f3"/><stop offset="0.4269" stop-color="#fcf8f3"/><stop offset="0.4381" stop-color="#fcf8f2"/><stop offset="0.4494" stop-color="#fcf7f1"/><stop offset="0.4606" stop-color="#fcf7f1"/><stop offset="0.4718" stop-color="#fcf7f1"/><stop offset="0.4830" stop-color="#fcf8f1"/><stop offset="0.4943" stop-color="#fcf8f3"/><stop offset="0.5055" stop-color="#fcf8f3"/><stop offset="0.5167" stop-color="#fcf8f4"/><stop offset="0.5280" stop-color="#fcf8f3"/><stop offset="0.5392" stop-color="#fcf8f3"/><stop offset="0.5504" stop-color="#fcf8f3"/><stop offset="0.5617" stop-color="#fcfaf4"/><stop offset="0.5729" stop-color="#fcfaf4"/><stop offset="0.5841" stop-color="#fcf9f3"/><stop offset="0.5953" stop-color="#fcf9f3"/><stop offset="0.6066" stop-color="#fcf9f4"/><stop offset="0.6178" stop-color="#fcf8f2"/><stop offset="0.6290" stop-color="#fcfaf4"/><stop offset="0.6403" stop-color="#fcf8f3"/><stop offset="0.6515" stop-color="#fcf9f3"/><stop offset="0.6627" stop-color="#fcfaf5"/><stop offset="0.6740" stop-color="#fcf9f3"/><stop offset="0.6852" stop-color="#fcf9f4"/><stop offset="0.6964" stop-color="#fcf9f4"/><stop offset="0.7076" stop-color="#fcf9f4"/><stop offset="0.7189" stop-color="#fcf8f3"/><stop offset="0.7301" stop-color="#fcfaf5"/><stop offset="0.7413" stop-color="#fcf9f4"/><stop offset="0.7526" stop-color="#fcf9f5"/><stop offset="0.7638" stop-color="#fcf9f3"/><stop offset="0.7750" stop-color="#fcf9f5"/><stop offset="0.7863" stop-color="#fcfaf6"/><stop offset="0.7975" stop-color="#fcfaf6"/><stop offset="0.8087" stop-color="#fcf9f5"/><stop offset="0.8199" stop-color="#fcf9f5"/><stop offset="0.8312" stop-color="#fcf8f4"/><stop offset="0.8424" stop-color="#fcfaf6"/><stop offset="0.8536" stop-color="#fcfaf5"/><stop offset="0.8649" stop-color="#fcfaf5"/><stop offset="0.8761" stop-color="#fcfaf5"/><stop offset="0.8873" stop-color="#fcfaf5"/><stop offset="0.8986" stop-color="#fcfaf5"/><stop offset="0.9098" stop-color="#fcfaf5"/><stop offset="0.9210" stop-color="#fcfaf5"/><stop offset="0.9322" stop-color="#fcfaf6"/><stop offset="0.9435" stop-color="#fcfaf6"/><stop offset="0.9547" stop-color="#fcfaf6"/><stop offset="0.9659" stop-color="#fcfaf6"/><stop offset="0.9772" stop-color="#fcfaf6"/><stop offset="0.9884" stop-color="#fcfaf6"/><stop offset="0.9984" stop-color="#fcfaf6"/></linearGradient><linearGradient id="g25" x1="0" y1="0" x2="0" y2="1"><stop offset="0.0153" stop-color="#dd3a2c"/><stop offset="0.1153" stop-color="#e05228"/><stop offset="0.2153" stop-color="#e87a2a"/><stop offset="0.2653" stop-color="#f0902a"/><stop offset="0.3103" stop-color="#f7a81a"/><stop offset="0.3653" stop-color="#f9b828"/><stop offset="0.4103" stop-color="#fbc955"/><stop offset="0.4553" stop-color="#fde3a0"/><stop offset="0.4853" stop-color="#fff0d0"/><stop offset="0.5153" stop-color="#fefdfa"/><stop offset="0.6153" stop-color="#d8d9e6"/><stop offset="0.7203" stop-color="#a9aec8"/><stop offset="0.8203" stop-color="#7981a6"/><stop offset="0.9303" stop-color="#47578a"/><stop offset="1.0000" stop-color="#23356d"/></linearGradient><linearGradient id="g26" gradientUnits="userSpaceOnUse" x1="714.7" y1="0" x2="1236.3" y2="0"><stop offset="0.0001" stop-color="#fcfcfb"/><stop offset="0.0388" stop-color="#fdf8ec"/><stop offset="0.0413" stop-color="#fce080"/><stop offset="0.0451" stop-color="#fce9a5"/><stop offset="0.0476" stop-color="#fce8a0"/><stop offset="0.0501" stop-color="#c4c4cc"/><stop offset="0.0563" stop-color="#c8c7cf"/><stop offset="0.0675" stop-color="#c4c4cb"/><stop offset="0.0788" stop-color="#c0c0c8"/><stop offset="0.0850" stop-color="#c0c0c8"/><stop offset="0.0900" stop-color="#ccccd3"/><stop offset="0.0950" stop-color="#d8d8de"/><stop offset="0.1012" stop-color="#d8d8dd"/><stop offset="0.1124" stop-color="#d5d5db"/><stop offset="0.1174" stop-color="#d0d0d8"/><stop offset="0.1237" stop-color="#babbc9"/><stop offset="0.1349" stop-color="#8a8ea8"/><stop offset="0.1461" stop-color="#7d81a0"/><stop offset="0.1574" stop-color="#8c91aa"/><stop offset="0.1686" stop-color="#888da8"/><stop offset="0.1723" stop-color="#7c82a0"/><stop offset="0.1798" stop-color="#969aaf"/><stop offset="0.1898" stop-color="#a4a6b4"/><stop offset="0.1911" stop-color="#a3a5b3"/><stop offset="0.2023" stop-color="#b1b2bd"/><stop offset="0.2135" stop-color="#b1b1bc"/><stop offset="0.2247" stop-color="#b5b5bf"/><stop offset="0.2347" stop-color="#b6b6c0"/><stop offset="0.2360" stop-color="#b7b7c1"/><stop offset="0.2472" stop-color="#bcbcc5"/><stop offset="0.2584" stop-color="#bcbcc5"/><stop offset="0.2697" stop-color="#c6c6ce"/><stop offset="0.2797" stop-color="#c8c8d0"/><stop offset="0.2809" stop-color="#cdcdd5"/><stop offset="0.2921" stop-color="#dddde3"/><stop offset="0.2971" stop-color="#e8e8ec"/><stop offset="0.3034" stop-color="#e9e9ed"/><stop offset="0.3146" stop-color="#e7e7eb"/><stop offset="0.3258" stop-color="#e3e3e8"/><stop offset="0.3271" stop-color="#e0e0e6"/><stop offset="0.3371" stop-color="#9295ae"/><stop offset="0.3395" stop-color="#8a8ea8"/><stop offset="0.3483" stop-color="#898ea7"/><stop offset="0.3595" stop-color="#8e91aa"/><stop offset="0.3707" stop-color="#9da0b4"/><stop offset="0.3820" stop-color="#9295ab"/><stop offset="0.3845" stop-color="#9a9cb0"/><stop offset="0.3932" stop-color="#acadbc"/><stop offset="0.4044" stop-color="#afafbb"/><stop offset="0.4094" stop-color="#b8b8c0"/><stop offset="0.4157" stop-color="#b5b5bd"/><stop offset="0.4269" stop-color="#bbbac2"/><stop offset="0.4381" stop-color="#c0c0c6"/><stop offset="0.4494" stop-color="#b7b7bf"/><stop offset="0.4606" stop-color="#c4c4ca"/><stop offset="0.4718" stop-color="#c3c3c8"/><stop offset="0.4743" stop-color="#c0c0c6"/><stop offset="0.4830" stop-color="#cfcfd5"/><stop offset="0.4943" stop-color="#e3e3e9"/><stop offset="0.4968" stop-color="#e8e8ee"/><stop offset="0.5055" stop-color="#ebebef"/><stop offset="0.5167" stop-color="#ebebf0"/><stop offset="0.5280" stop-color="#ebebf0"/><stop offset="0.5342" stop-color="#eaeaf0"/><stop offset="0.5392" stop-color="#dbdbe1"/><stop offset="0.5504" stop-color="#bdbdc2"/><stop offset="0.5517" stop-color="#c0c0c4"/><stop offset="0.5617" stop-color="#bdbcc1"/><stop offset="0.5729" stop-color="#a7a7ae"/><stop offset="0.5791" stop-color="#a8a8ae"/><stop offset="0.5841" stop-color="#aaaaaf"/><stop offset="0.5953" stop-color="#adadb3"/><stop offset="0.6066" stop-color="#ababb0"/><stop offset="0.6178" stop-color="#b1b1b5"/><stop offset="0.6290" stop-color="#a7a7ad"/><stop offset="0.6340" stop-color="#ababb0"/><stop offset="0.6403" stop-color="#afafb4"/><stop offset="0.6515" stop-color="#c2c2c7"/><stop offset="0.6590" stop-color="#c8c8cc"/><stop offset="0.6627" stop-color="#ceced1"/><stop offset="0.6740" stop-color="#cbcbcf"/><stop offset="0.6852" stop-color="#ccccd1"/><stop offset="0.6964" stop-color="#d7d7da"/><stop offset="0.7039" stop-color="#d6d6da"/><stop offset="0.7076" stop-color="#d4d5d9"/><stop offset="0.7189" stop-color="#dedee1"/><stop offset="0.7301" stop-color="#e7e7e8"/><stop offset="0.7413" stop-color="#e7e7eb"/><stop offset="0.7463" stop-color="#ececee"/><stop offset="0.7526" stop-color="#ececef"/><stop offset="0.7638" stop-color="#f3f3f4"/><stop offset="0.7750" stop-color="#f5f5f7"/><stop offset="0.7838" stop-color="#f8f8fa"/><stop offset="0.7863" stop-color="#f9f8fa"/><stop offset="0.7975" stop-color="#f8f8fa"/><stop offset="0.8087" stop-color="#f9f9fa"/><stop offset="0.8199" stop-color="#f9f9fa"/><stop offset="0.8312" stop-color="#f8f9fa"/><stop offset="0.8424" stop-color="#f8f9fa"/><stop offset="0.8536" stop-color="#f9f9fa"/><stop offset="0.8649" stop-color="#f8f8fa"/><stop offset="0.8761" stop-color="#f9f9fa"/><stop offset="0.8873" stop-color="#f9f9fa"/><stop offset="0.8986" stop-color="#fafafb"/><stop offset="0.9098" stop-color="#fafafb"/><stop offset="0.9210" stop-color="#fbfafa"/><stop offset="0.9322" stop-color="#fafafb"/><stop offset="0.9435" stop-color="#fafafb"/><stop offset="0.9547" stop-color="#f9fafc"/><stop offset="0.9659" stop-color="#fbfbfb"/><stop offset="0.9772" stop-color="#fbfbfc"/><stop offset="0.9884" stop-color="#fbfbfb"/><stop offset="0.9984" stop-color="#fbfbfb"/></linearGradient><linearGradient id="g27" gradientUnits="userSpaceOnUse" x1="714.7" y1="0" x2="1236.3" y2="0"><stop offset="0.0001" stop-color="#fcfcfb"/><stop offset="0.0388" stop-color="#fdf8ec"/><stop offset="0.0413" stop-color="#fce080"/><stop offset="0.0451" stop-color="#fce8a2"/><stop offset="0.0476" stop-color="#fce8a0"/><stop offset="0.0501" stop-color="#f6f6f8"/><stop offset="0.0563" stop-color="#f5f5f8"/><stop offset="0.0675" stop-color="#f5f5f7"/><stop offset="0.0788" stop-color="#f2f2f7"/><stop offset="0.0900" stop-color="#f3f3f6"/><stop offset="0.0950" stop-color="#f2f2f6"/><stop offset="0.1012" stop-color="#e5e6ec"/><stop offset="0.1100" stop-color="#d0d2dc"/><stop offset="0.1124" stop-color="#c9cbd8"/><stop offset="0.1237" stop-color="#b0b5c8"/><stop offset="0.1349" stop-color="#9098b4"/><stop offset="0.1461" stop-color="#8890af"/><stop offset="0.1574" stop-color="#8a92b0"/><stop offset="0.1686" stop-color="#949bb7"/><stop offset="0.1798" stop-color="#8890b0"/><stop offset="0.1911" stop-color="#a1a6bc"/><stop offset="0.1973" stop-color="#b0b4c4"/><stop offset="0.2023" stop-color="#b3b7c7"/><stop offset="0.2135" stop-color="#b1b4c5"/><stop offset="0.2247" stop-color="#b6bac9"/><stop offset="0.2360" stop-color="#c6c9d3"/><stop offset="0.2472" stop-color="#c2c5d2"/><stop offset="0.2584" stop-color="#c9cbd7"/><stop offset="0.2697" stop-color="#cfd1db"/><stop offset="0.2722" stop-color="#d0d2dc"/><stop offset="0.2809" stop-color="#e1e2e8"/><stop offset="0.2896" stop-color="#eeeef2"/><stop offset="0.2921" stop-color="#ebecf1"/><stop offset="0.3034" stop-color="#ededf2"/><stop offset="0.3146" stop-color="#ededf3"/><stop offset="0.3258" stop-color="#ebebf2"/><stop offset="0.3371" stop-color="#f1f0f4"/><stop offset="0.3483" stop-color="#efeff4"/><stop offset="0.3545" stop-color="#eeeef4"/><stop offset="0.3595" stop-color="#dee0eb"/><stop offset="0.3645" stop-color="#c8cce0"/><stop offset="0.3707" stop-color="#cbcfe1"/><stop offset="0.3820" stop-color="#c6cbdf"/><stop offset="0.3895" stop-color="#ccd0e2"/><stop offset="0.3932" stop-color="#d5d9e6"/><stop offset="0.4044" stop-color="#eeeff4"/><stop offset="0.4157" stop-color="#ededf3"/><stop offset="0.4269" stop-color="#edeef5"/><stop offset="0.4381" stop-color="#f0f0f5"/><stop offset="0.4494" stop-color="#eeeff5"/><stop offset="0.4606" stop-color="#f3f2f6"/><stop offset="0.4718" stop-color="#f3f4f6"/><stop offset="0.4830" stop-color="#f3f3f6"/><stop offset="0.4943" stop-color="#f4f4f7"/><stop offset="0.5055" stop-color="#f5f5f7"/><stop offset="0.5167" stop-color="#f5f5f7"/><stop offset="0.5280" stop-color="#f6f6f8"/><stop offset="0.5342" stop-color="#f4f4f8"/><stop offset="0.5392" stop-color="#f6f5f8"/><stop offset="0.5504" stop-color="#f4f4f8"/><stop offset="0.5617" stop-color="#f5f5f8"/><stop offset="0.5729" stop-color="#f2f2f8"/><stop offset="0.5841" stop-color="#f5f5f8"/><stop offset="0.5953" stop-color="#f3f4f9"/><stop offset="0.6066" stop-color="#f4f4f9"/><stop offset="0.6178" stop-color="#f4f4f9"/><stop offset="0.6290" stop-color="#f3f4f9"/><stop offset="0.6403" stop-color="#f5f5f9"/><stop offset="0.6515" stop-color="#f7f7f9"/><stop offset="0.6627" stop-color="#f7f7f9"/><stop offset="0.6740" stop-color="#f5f5f9"/><stop offset="0.6852" stop-color="#f7f7f9"/><stop offset="0.6964" stop-color="#f5f5f9"/><stop offset="0.7076" stop-color="#f5f5f9"/><stop offset="0.7189" stop-color="#f5f5fa"/><stop offset="0.7301" stop-color="#f8f8fa"/><stop offset="0.7413" stop-color="#f6f6fa"/><stop offset="0.7526" stop-color="#f8f8fa"/><stop offset="0.7638" stop-color="#f6f6fa"/><stop offset="0.7750" stop-color="#f8f8fa"/><stop offset="0.7863" stop-color="#f6f6fa"/><stop offset="0.7975" stop-color="#f8f8fa"/><stop offset="0.8087" stop-color="#f9f9fa"/><stop offset="0.8199" stop-color="#f8f8fa"/><stop offset="0.8312" stop-color="#f9f9fb"/><stop offset="0.8424" stop-color="#f9f9fa"/><stop offset="0.8536" stop-color="#f8f8fb"/><stop offset="0.8649" stop-color="#f9f9fa"/><stop offset="0.8761" stop-color="#f8f8fb"/><stop offset="0.8873" stop-color="#f9f9fb"/><stop offset="0.8986" stop-color="#f9f9fb"/><stop offset="0.9098" stop-color="#f9f9fb"/><stop offset="0.9210" stop-color="#f9f9fb"/><stop offset="0.9322" stop-color="#f9f9fb"/><stop offset="0.9435" stop-color="#f9f9fc"/><stop offset="0.9547" stop-color="#f8f8fd"/><stop offset="0.9659" stop-color="#fafafc"/><stop offset="0.9772" stop-color="#f9fafd"/><stop offset="0.9884" stop-color="#fafafc"/><stop offset="0.9984" stop-color="#fafafc"/></linearGradient><linearGradient id="g28" gradientUnits="userSpaceOnUse" x1="714.7" y1="0" x2="1236.3" y2="0"><stop offset="0.0001" stop-color="#fcfcfb"/><stop offset="0.0401" stop-color="#fbfbfa"/><stop offset="0.0451" stop-color="#fbfbfa"/><stop offset="0.0563" stop-color="#fafafa"/><stop offset="0.0675" stop-color="#fafaf9"/><stop offset="0.0788" stop-color="#f7f7f9"/><stop offset="0.0900" stop-color="#f6f6f9"/><stop offset="0.1012" stop-color="#f7f7f9"/><stop offset="0.1124" stop-color="#f6f6f8"/><stop offset="0.1237" stop-color="#f5f5f8"/><stop offset="0.1349" stop-color="#f4f4f8"/><stop offset="0.1461" stop-color="#bfc2d1"/><stop offset="0.1499" stop-color="#a8acc0"/><stop offset="0.1574" stop-color="#adb0c3"/><stop offset="0.1686" stop-color="#adb1c3"/><stop offset="0.1798" stop-color="#9fa3b9"/><stop offset="0.1898" stop-color="#a6aabe"/><stop offset="0.1911" stop-color="#a3a6bb"/><stop offset="0.2023" stop-color="#b2b5c6"/><stop offset="0.2135" stop-color="#c6c8d3"/><stop offset="0.2148" stop-color="#c4c6d2"/><stop offset="0.2247" stop-color="#c2c5d1"/><stop offset="0.2360" stop-color="#c9cad6"/><stop offset="0.2472" stop-color="#c8cad5"/><stop offset="0.2584" stop-color="#cfd0d9"/><stop offset="0.2697" stop-color="#c7c8d5"/><stop offset="0.2747" stop-color="#cccdd8"/><stop offset="0.2809" stop-color="#dddde5"/><stop offset="0.2896" stop-color="#f2f2f6"/><stop offset="0.2921" stop-color="#f1f1f6"/><stop offset="0.3034" stop-color="#f4f4f6"/><stop offset="0.3146" stop-color="#f3f3f6"/><stop offset="0.3258" stop-color="#f1f1f6"/><stop offset="0.3371" stop-color="#f2f2f6"/><stop offset="0.3483" stop-color="#f3f3f6"/><stop offset="0.3595" stop-color="#f3f3f7"/><stop offset="0.3707" stop-color="#f2f2f7"/><stop offset="0.3820" stop-color="#f1f1f7"/><stop offset="0.3932" stop-color="#f2f2f7"/><stop offset="0.4044" stop-color="#f2f2f7"/><stop offset="0.4157" stop-color="#f3f3f7"/><stop offset="0.4269" stop-color="#f4f4f7"/><stop offset="0.4381" stop-color="#f2f3f7"/><stop offset="0.4494" stop-color="#f5f5f7"/><stop offset="0.4606" stop-color="#f4f4f7"/><stop offset="0.4718" stop-color="#f5f5f8"/><stop offset="0.4830" stop-color="#f4f4f8"/><stop offset="0.4943" stop-color="#f5f5f8"/><stop offset="0.5055" stop-color="#f2f3f8"/><stop offset="0.5167" stop-color="#f4f4f8"/><stop offset="0.5280" stop-color="#f5f5f8"/><stop offset="0.5392" stop-color="#f4f4f8"/><stop offset="0.5504" stop-color="#f4f4f8"/><stop offset="0.5617" stop-color="#f4f4f8"/><stop offset="0.5729" stop-color="#f4f4f8"/><stop offset="0.5841" stop-color="#f6f6f8"/><stop offset="0.5953" stop-color="#f5f5f9"/><stop offset="0.6066" stop-color="#f7f7f9"/><stop offset="0.6178" stop-color="#f6f6f9"/><stop offset="0.6290" stop-color="#f7f7f9"/><stop offset="0.6403" stop-color="#f7f7f9"/><stop offset="0.6515" stop-color="#f5f5f9"/><stop offset="0.6627" stop-color="#f6f6f9"/><stop offset="0.6740" stop-color="#f6f6f9"/><stop offset="0.6852" stop-color="#f6f6f9"/><stop offset="0.6964" stop-color="#f8f8f9"/><stop offset="0.7076" stop-color="#f7f7fa"/><stop offset="0.7189" stop-color="#f6f7fa"/><stop offset="0.7301" stop-color="#f8f8fa"/><stop offset="0.7413" stop-color="#f6f6fa"/><stop offset="0.7526" stop-color="#f7f7fa"/><stop offset="0.7638" stop-color="#f7f7fa"/><stop offset="0.7750" stop-color="#f7f7fa"/><stop offset="0.7863" stop-color="#f9f9fa"/><stop offset="0.7975" stop-color="#f9f9fa"/><stop offset="0.8087" stop-color="#f9f9fa"/><stop offset="0.8199" stop-color="#f7f7fa"/><stop offset="0.8312" stop-color="#f8f8fb"/><stop offset="0.8424" stop-color="#f7f7fc"/><stop offset="0.8536" stop-color="#f9f9fb"/><stop offset="0.8649" stop-color="#f7f7fb"/><stop offset="0.8761" stop-color="#f9f9fb"/><stop offset="0.8873" stop-color="#f9f9fb"/><stop offset="0.8986" stop-color="#f9f9fb"/><stop offset="0.9098" stop-color="#faf9fb"/><stop offset="0.9210" stop-color="#f9f9fb"/><stop offset="0.9322" stop-color="#f9f9fb"/><stop offset="0.9435" stop-color="#f9f9fc"/><stop offset="0.9547" stop-color="#fafafc"/><stop offset="0.9659" stop-color="#fafafc"/><stop offset="0.9772" stop-color="#f9fafd"/><stop offset="0.9884" stop-color="#fbfafb"/><stop offset="0.9984" stop-color="#fafafc"/></linearGradient><linearGradient id="g29" gradientUnits="userSpaceOnUse" x1="714.7" y1="0" x2="1236.3" y2="0"><stop offset="0.0001" stop-color="#fcfcfb"/><stop offset="0.0451" stop-color="#fbfbfc"/><stop offset="0.0563" stop-color="#f9fbfc"/><stop offset="0.0675" stop-color="#fafafd"/><stop offset="0.0788" stop-color="#fafafc"/><stop offset="0.0900" stop-color="#f8fafd"/><stop offset="0.1012" stop-color="#f9fafc"/><stop offset="0.1124" stop-color="#f8f8fd"/><stop offset="0.1237" stop-color="#f8f9fc"/><stop offset="0.1299" stop-color="#f8f9fc"/><stop offset="0.1349" stop-color="#f5f7fb"/><stop offset="0.1461" stop-color="#e9eff8"/><stop offset="0.1474" stop-color="#e8eef8"/><stop offset="0.1574" stop-color="#ecf1f8"/><stop offset="0.1686" stop-color="#e9eef8"/><stop offset="0.1798" stop-color="#ecf1f8"/><stop offset="0.1911" stop-color="#e9eff8"/><stop offset="0.2023" stop-color="#e8edf8"/><stop offset="0.2098" stop-color="#eaeff8"/><stop offset="0.2135" stop-color="#f0f2f9"/><stop offset="0.2247" stop-color="#f3f5fa"/><stop offset="0.2347" stop-color="#f8f9fc"/><stop offset="0.2360" stop-color="#f9fafb"/><stop offset="0.2472" stop-color="#f8f9fc"/><stop offset="0.2584" stop-color="#f8f9fc"/><stop offset="0.2697" stop-color="#f9fafb"/><stop offset="0.2809" stop-color="#f8f9fc"/><stop offset="0.2921" stop-color="#f8f9fc"/><stop offset="0.3034" stop-color="#f8f9fc"/><stop offset="0.3146" stop-color="#f9f9fb"/><stop offset="0.3258" stop-color="#f8f9fc"/><stop offset="0.3371" stop-color="#f9fafb"/><stop offset="0.3483" stop-color="#f9f9fb"/><stop offset="0.3595" stop-color="#f8f9fc"/><stop offset="0.3707" stop-color="#f9f9fb"/><stop offset="0.3820" stop-color="#f8f9fc"/><stop offset="0.3932" stop-color="#f9f9fb"/><stop offset="0.4044" stop-color="#f7f9fc"/><stop offset="0.4157" stop-color="#f7f9fd"/><stop offset="0.4269" stop-color="#f8fafd"/><stop offset="0.4381" stop-color="#f9fafc"/><stop offset="0.4494" stop-color="#f9fafc"/><stop offset="0.4606" stop-color="#f8fafd"/><stop offset="0.4718" stop-color="#fafafb"/><stop offset="0.4830" stop-color="#fafafb"/><stop offset="0.4943" stop-color="#f9fafc"/><stop offset="0.5055" stop-color="#f8fafd"/><stop offset="0.5167" stop-color="#f9fafc"/><stop offset="0.5280" stop-color="#f9fafc"/><stop offset="0.5392" stop-color="#f9fafc"/><stop offset="0.5504" stop-color="#f9fafc"/><stop offset="0.5617" stop-color="#f9fafc"/><stop offset="0.5729" stop-color="#f9fafc"/><stop offset="0.5841" stop-color="#fafafb"/><stop offset="0.5953" stop-color="#f9fafc"/><stop offset="0.6066" stop-color="#f9fafc"/><stop offset="0.6178" stop-color="#fafafb"/><stop offset="0.6290" stop-color="#fafafb"/><stop offset="0.6403" stop-color="#f9fafc"/><stop offset="0.6515" stop-color="#fafafb"/><stop offset="0.6627" stop-color="#f9fafc"/><stop offset="0.6740" stop-color="#f9fafc"/><stop offset="0.6852" stop-color="#f8fafd"/><stop offset="0.6964" stop-color="#f9fafc"/><stop offset="0.7076" stop-color="#fafafb"/><stop offset="0.7189" stop-color="#f8fafd"/><stop offset="0.7301" stop-color="#f9fafc"/><stop offset="0.7413" stop-color="#f9fafc"/><stop offset="0.7526" stop-color="#f9fafc"/><stop offset="0.7638" stop-color="#f9fafc"/><stop offset="0.7750" stop-color="#fafafb"/><stop offset="0.7863" stop-color="#fafafb"/><stop offset="0.7975" stop-color="#f8fafd"/><stop offset="0.8087" stop-color="#fafbfc"/><stop offset="0.8199" stop-color="#fafbfc"/><stop offset="0.8312" stop-color="#fafbfc"/><stop offset="0.8424" stop-color="#fafbfc"/><stop offset="0.8536" stop-color="#fbfbfb"/><stop offset="0.8649" stop-color="#fafbfc"/><stop offset="0.8761" stop-color="#fafbfc"/><stop offset="0.8873" stop-color="#fafbfc"/><stop offset="0.8986" stop-color="#fafbfc"/><stop offset="0.9098" stop-color="#fafbfc"/><stop offset="0.9210" stop-color="#fbfbfb"/><stop offset="0.9322" stop-color="#fafbfc"/><stop offset="0.9435" stop-color="#fafbfb"/><stop offset="0.9547" stop-color="#fafbfc"/><stop offset="0.9659" stop-color="#fafbfb"/><stop offset="0.9772" stop-color="#fafbfc"/><stop offset="0.9884" stop-color="#fafbfc"/><stop offset="0.9984" stop-color="#fafbfc"/></linearGradient><linearGradient id="g30" gradientUnits="userSpaceOnUse" x1="714.7" y1="0" x2="1236.3" y2="0"><stop offset="0.0001" stop-color="#fcfcfb"/><stop offset="0.0451" stop-color="#fbfbfb"/><stop offset="0.0563" stop-color="#fafbfb"/><stop offset="0.0675" stop-color="#fafafc"/><stop offset="0.0788" stop-color="#fafafc"/><stop offset="0.0900" stop-color="#f8fafd"/><stop offset="0.1012" stop-color="#f9fafc"/><stop offset="0.1124" stop-color="#f9f9fc"/><stop offset="0.1237" stop-color="#f7f8fd"/><stop offset="0.1299" stop-color="#f8f9fc"/><stop offset="0.1349" stop-color="#f1f5fc"/><stop offset="0.1461" stop-color="#e7eff8"/><stop offset="0.1474" stop-color="#e6eef8"/><stop offset="0.1574" stop-color="#e6eef8"/><stop offset="0.1686" stop-color="#e3ebf8"/><stop offset="0.1798" stop-color="#e9eff8"/><stop offset="0.1898" stop-color="#e8eef8"/><stop offset="0.1911" stop-color="#e6edf8"/><stop offset="0.2023" stop-color="#f2f5fa"/><stop offset="0.2135" stop-color="#f8f9fb"/><stop offset="0.2148" stop-color="#f8f9fc"/><stop offset="0.2247" stop-color="#f8f9fc"/><stop offset="0.2360" stop-color="#f8f9fc"/><stop offset="0.2472" stop-color="#f8f9fc"/><stop offset="0.2584" stop-color="#f9f9fb"/><stop offset="0.2697" stop-color="#f9fafb"/><stop offset="0.2809" stop-color="#f9fafb"/><stop offset="0.2921" stop-color="#f7f8fd"/><stop offset="0.3034" stop-color="#f7f9fd"/><stop offset="0.3146" stop-color="#f7f9fd"/><stop offset="0.3258" stop-color="#f8f9fc"/><stop offset="0.3371" stop-color="#f8f9fc"/><stop offset="0.3483" stop-color="#f8f9fc"/><stop offset="0.3595" stop-color="#f8f9fc"/><stop offset="0.3707" stop-color="#f8f9fc"/><stop offset="0.3820" stop-color="#f7f9fd"/><stop offset="0.3932" stop-color="#f9f9fc"/><stop offset="0.4044" stop-color="#f8f9fc"/><stop offset="0.4157" stop-color="#f9fafc"/><stop offset="0.4269" stop-color="#f9fafc"/><stop offset="0.4381" stop-color="#f9fafc"/><stop offset="0.4494" stop-color="#f9fafc"/><stop offset="0.4606" stop-color="#f9fafc"/><stop offset="0.4718" stop-color="#f9fafc"/><stop offset="0.4830" stop-color="#fafafb"/><stop offset="0.4943" stop-color="#f9fafc"/><stop offset="0.5055" stop-color="#f8fafd"/><stop offset="0.5167" stop-color="#fafafb"/><stop offset="0.5280" stop-color="#f8fafd"/><stop offset="0.5392" stop-color="#f8fafd"/><stop offset="0.5504" stop-color="#f9fafc"/><stop offset="0.5617" stop-color="#fafafb"/><stop offset="0.5729" stop-color="#f8fafd"/><stop offset="0.5841" stop-color="#f8fafd"/><stop offset="0.5953" stop-color="#f9fafc"/><stop offset="0.6066" stop-color="#fafafb"/><stop offset="0.6178" stop-color="#fafafb"/><stop offset="0.6290" stop-color="#f9fafc"/><stop offset="0.6403" stop-color="#f9fafc"/><stop offset="0.6515" stop-color="#fafafb"/><stop offset="0.6627" stop-color="#fafafb"/><stop offset="0.6740" stop-color="#f9fafc"/><stop offset="0.6852" stop-color="#f9fafc"/><stop offset="0.6964" stop-color="#f8fafd"/><stop offset="0.7076" stop-color="#fafafb"/><stop offset="0.7189" stop-color="#f8fafd"/><stop offset="0.7301" stop-color="#f8fafd"/><stop offset="0.7413" stop-color="#f8fafd"/><stop offset="0.7526" stop-color="#f9fafc"/><stop offset="0.7638" stop-color="#f9fafc"/><stop offset="0.7750" stop-color="#f9fafc"/><stop offset="0.7863" stop-color="#f9fafc"/><stop offset="0.7975" stop-color="#f9fafc"/><stop offset="0.8087" stop-color="#fafbfc"/><stop offset="0.8199" stop-color="#fafbfc"/><stop offset="0.8312" stop-color="#fbfbfb"/><stop offset="0.8424" stop-color="#fafbfb"/><stop offset="0.8536" stop-color="#fafbfc"/><stop offset="0.8649" stop-color="#fbfbfb"/><stop offset="0.8761" stop-color="#fafbfd"/><stop offset="0.8873" stop-color="#fafbfc"/><stop offset="0.8986" stop-color="#fafbfc"/><stop offset="0.9098" stop-color="#fafbfc"/><stop offset="0.9210" stop-color="#f9fbfd"/><stop offset="0.9322" stop-color="#fafbfd"/><stop offset="0.9435" stop-color="#fafbfc"/><stop offset="0.9547" stop-color="#fafbfc"/><stop offset="0.9659" stop-color="#fafbfc"/><stop offset="0.9772" stop-color="#fafbfd"/><stop offset="0.9884" stop-color="#fafbfc"/><stop offset="0.9984" stop-color="#fafbfc"/></linearGradient><linearGradient id="g31" x1="0" y1="0" x2="0" y2="1"><stop offset="0.0243" stop-color="#dd3a2c"/><stop offset="0.1243" stop-color="#e05228"/><stop offset="0.2243" stop-color="#e87a2a"/><stop offset="0.2743" stop-color="#f0902a"/><stop offset="0.3193" stop-color="#f7a81a"/><stop offset="0.3743" stop-color="#f9b828"/><stop offset="0.4193" stop-color="#fbc955"/><stop offset="0.4643" stop-color="#fde3a0"/><stop offset="0.4943" stop-color="#fff0d0"/><stop offset="0.5243" stop-color="#fefdfa"/><stop offset="0.6243" stop-color="#d8d9e6"/><stop offset="0.7293" stop-color="#a9aec8"/><stop offset="0.8293" stop-color="#7981a6"/><stop offset="0.9393" stop-color="#47578a"/><stop offset="1.0000" stop-color="#23356d"/></linearGradient><linearGradient id="g32" gradientUnits="userSpaceOnUse" x1="714.7" y1="0" x2="1236.3" y2="0"><stop offset="0.0001" stop-color="#fcfcfb"/><stop offset="0.0401" stop-color="#f8f6f0"/><stop offset="0.0451" stop-color="#f8f6f0"/><stop offset="0.0563" stop-color="#f4f2ee"/><stop offset="0.0575" stop-color="#f4f2ee"/><stop offset="0.0600" stop-color="#b0b0b8"/><stop offset="0.0675" stop-color="#b8b8bf"/><stop offset="0.0788" stop-color="#aeaeb7"/><stop offset="0.0825" stop-color="#b4b4bc"/><stop offset="0.0875" stop-color="#f4f2ee"/><stop offset="0.0900" stop-color="#f4f1ec"/><stop offset="0.1012" stop-color="#faf4e6"/><stop offset="0.1050" stop-color="#fbf4e4"/><stop offset="0.1124" stop-color="#f0a030"/><stop offset="0.1237" stop-color="#ec812a"/><stop offset="0.1349" stop-color="#e86428"/><stop offset="0.1461" stop-color="#e75815"/><stop offset="0.1574" stop-color="#eb763b"/><stop offset="0.1686" stop-color="#e85d17"/><stop offset="0.1723" stop-color="#ea6a28"/><stop offset="0.1798" stop-color="#ee7f30"/><stop offset="0.1898" stop-color="#f09028"/><stop offset="0.1911" stop-color="#f0932a"/><stop offset="0.2023" stop-color="#f5af39"/><stop offset="0.2098" stop-color="#f8c040"/><stop offset="0.2135" stop-color="#f8c959"/><stop offset="0.2223" stop-color="#f8d880"/><stop offset="0.2247" stop-color="#f8e09e"/><stop offset="0.2322" stop-color="#f6f4f2"/><stop offset="0.2360" stop-color="#dcdde3"/><stop offset="0.2447" stop-color="#a0a6c0"/><stop offset="0.2472" stop-color="#a2a8c1"/><stop offset="0.2584" stop-color="#9ea4bd"/><stop offset="0.2697" stop-color="#9ea4bc"/><stop offset="0.2809" stop-color="#9298b4"/><stop offset="0.2846" stop-color="#8c92b0"/><stop offset="0.2921" stop-color="#8b91af"/><stop offset="0.3034" stop-color="#9299b5"/><stop offset="0.3146" stop-color="#9197b3"/><stop offset="0.3258" stop-color="#7b83a5"/><stop offset="0.3371" stop-color="#8e95b1"/><stop offset="0.3470" stop-color="#8088a8"/><stop offset="0.3483" stop-color="#8c93af"/><stop offset="0.3595" stop-color="#959bb5"/><stop offset="0.3707" stop-color="#a0a4bb"/><stop offset="0.3745" stop-color="#a8acc0"/><stop offset="0.3820" stop-color="#cbccd5"/><stop offset="0.3895" stop-color="#f2f0ec"/><stop offset="0.3932" stop-color="#f1e1b6"/><stop offset="0.4019" stop-color="#f0c040"/><stop offset="0.4044" stop-color="#f0c041"/><stop offset="0.4157" stop-color="#f0be3a"/><stop offset="0.4269" stop-color="#f1c040"/><stop offset="0.4344" stop-color="#f0b828"/><stop offset="0.4381" stop-color="#efb620"/><stop offset="0.4494" stop-color="#efb61c"/><stop offset="0.4606" stop-color="#efb81a"/><stop offset="0.4718" stop-color="#f0c030"/><stop offset="0.4830" stop-color="#f7db8b"/><stop offset="0.4843" stop-color="#f8dc90"/><stop offset="0.4943" stop-color="#f8e8bf"/><stop offset="0.5043" stop-color="#f8f4ec"/><stop offset="0.5055" stop-color="#f9f5ed"/><stop offset="0.5167" stop-color="#f5f3ef"/><stop offset="0.5280" stop-color="#f3f3f4"/><stop offset="0.5292" stop-color="#f4f4f4"/><stop offset="0.5392" stop-color="#c8c8d3"/><stop offset="0.5417" stop-color="#b8b8c8"/><stop offset="0.5504" stop-color="#babac9"/><stop offset="0.5617" stop-color="#adaec0"/><stop offset="0.5729" stop-color="#b0b1c1"/><stop offset="0.5841" stop-color="#b3b4c4"/><stop offset="0.5953" stop-color="#adafc0"/><stop offset="0.6066" stop-color="#aaacbd"/><stop offset="0.6091" stop-color="#a8aabc"/><stop offset="0.6178" stop-color="#a6a8bb"/><stop offset="0.6290" stop-color="#a6a8ba"/><stop offset="0.6403" stop-color="#a8a9bc"/><stop offset="0.6515" stop-color="#b5b6c5"/><stop offset="0.6627" stop-color="#b7b7c6"/><stop offset="0.6740" stop-color="#b0b1c1"/><stop offset="0.6839" stop-color="#b4b4c4"/><stop offset="0.6852" stop-color="#b5b4c5"/><stop offset="0.6964" stop-color="#dad9e2"/><stop offset="0.7039" stop-color="#ecebf0"/><stop offset="0.7076" stop-color="#eeebeb"/><stop offset="0.7189" stop-color="#f0ead8"/><stop offset="0.7301" stop-color="#f5eac8"/><stop offset="0.7338" stop-color="#f8ecc8"/><stop offset="0.7413" stop-color="#f7e8be"/><stop offset="0.7526" stop-color="#f8eac3"/><stop offset="0.7638" stop-color="#f8e9c3"/><stop offset="0.7713" stop-color="#f8e8c0"/><stop offset="0.7750" stop-color="#f8e9c4"/><stop offset="0.7863" stop-color="#f8eed7"/><stop offset="0.7962" stop-color="#f8f4ec"/><stop offset="0.7975" stop-color="#f9f5ed"/><stop offset="0.8087" stop-color="#f7f3eb"/><stop offset="0.8199" stop-color="#f8f4ee"/><stop offset="0.8312" stop-color="#f7f2eb"/><stop offset="0.8424" stop-color="#f9f5ee"/><stop offset="0.8536" stop-color="#f7f4ed"/><stop offset="0.8649" stop-color="#f7f4ec"/><stop offset="0.8761" stop-color="#f7f4ed"/><stop offset="0.8873" stop-color="#f8f5ee"/><stop offset="0.8986" stop-color="#f7f4ed"/><stop offset="0.9098" stop-color="#f9f6f1"/><stop offset="0.9210" stop-color="#f8f5f0"/><stop offset="0.9322" stop-color="#f7f4ee"/><stop offset="0.9435" stop-color="#f8f5f0"/><stop offset="0.9547" stop-color="#f8f6f1"/><stop offset="0.9659" stop-color="#f9f7f2"/><stop offset="0.9772" stop-color="#f8f7f2"/><stop offset="0.9884" stop-color="#f9f7f3"/><stop offset="0.9984" stop-color="#f8f6f2"/></linearGradient><linearGradient id="g33" gradientUnits="userSpaceOnUse" x1="714.7" y1="0" x2="1236.3" y2="0"><stop offset="0.0001" stop-color="#fcfcfb"/><stop offset="0.0401" stop-color="#f8f6f2"/><stop offset="0.0451" stop-color="#f8f5f1"/><stop offset="0.0563" stop-color="#f8f6f3"/><stop offset="0.0675" stop-color="#f5f3f1"/><stop offset="0.0788" stop-color="#f7f5f3"/><stop offset="0.0850" stop-color="#f4f2f2"/><stop offset="0.0900" stop-color="#f7efe7"/><stop offset="0.1000" stop-color="#fbe4c8"/><stop offset="0.1012" stop-color="#f8cfae"/><stop offset="0.1075" stop-color="#e86028"/><stop offset="0.1124" stop-color="#ea6d39"/><stop offset="0.1237" stop-color="#ea6f3b"/><stop offset="0.1349" stop-color="#e65214"/><stop offset="0.1461" stop-color="#e65416"/><stop offset="0.1574" stop-color="#e75e22"/><stop offset="0.1686" stop-color="#e75d1f"/><stop offset="0.1798" stop-color="#e96f37"/><stop offset="0.1848" stop-color="#e86428"/><stop offset="0.1911" stop-color="#f0943e"/><stop offset="0.1998" stop-color="#f8c030"/><stop offset="0.2023" stop-color="#f8c43b"/><stop offset="0.2135" stop-color="#f8c434"/><stop offset="0.2247" stop-color="#f8c838"/><stop offset="0.2347" stop-color="#f8f4ec"/><stop offset="0.2360" stop-color="#f2efe8"/><stop offset="0.2472" stop-color="#c8cadc"/><stop offset="0.2584" stop-color="#b7bacf"/><stop offset="0.2697" stop-color="#a6abc4"/><stop offset="0.2722" stop-color="#a0a5c0"/><stop offset="0.2809" stop-color="#aaadc6"/><stop offset="0.2921" stop-color="#a9aec6"/><stop offset="0.3034" stop-color="#a6abc4"/><stop offset="0.3146" stop-color="#abb0c6"/><stop offset="0.3258" stop-color="#aaafc6"/><stop offset="0.3371" stop-color="#a9aec5"/><stop offset="0.3483" stop-color="#b1b4c9"/><stop offset="0.3595" stop-color="#a8acc4"/><stop offset="0.3645" stop-color="#b0b4c8"/><stop offset="0.3707" stop-color="#c6c9d7"/><stop offset="0.3820" stop-color="#eeeef2"/><stop offset="0.3932" stop-color="#f0e0be"/><stop offset="0.3994" stop-color="#f4e0b0"/><stop offset="0.4044" stop-color="#f2c869"/><stop offset="0.4094" stop-color="#f0b020"/><stop offset="0.4157" stop-color="#f0af1e"/><stop offset="0.4269" stop-color="#efaa0d"/><stop offset="0.4381" stop-color="#f0b429"/><stop offset="0.4494" stop-color="#efaf1c"/><stop offset="0.4606" stop-color="#efaf1a"/><stop offset="0.4718" stop-color="#f1b833"/><stop offset="0.4743" stop-color="#f0b428"/><stop offset="0.4830" stop-color="#f5cf76"/><stop offset="0.4893" stop-color="#f8e0a8"/><stop offset="0.4943" stop-color="#f8e4b8"/><stop offset="0.5055" stop-color="#f8eed6"/><stop offset="0.5167" stop-color="#f7f3eb"/><stop offset="0.5192" stop-color="#f6f4f0"/><stop offset="0.5280" stop-color="#d7d8df"/><stop offset="0.5292" stop-color="#d0d2dc"/><stop offset="0.5392" stop-color="#cdd0da"/><stop offset="0.5504" stop-color="#ccced9"/><stop offset="0.5617" stop-color="#d4d6df"/><stop offset="0.5729" stop-color="#d0d2dc"/><stop offset="0.5841" stop-color="#d0d2dc"/><stop offset="0.5953" stop-color="#d3d5de"/><stop offset="0.6066" stop-color="#ced0db"/><stop offset="0.6178" stop-color="#d2d4de"/><stop offset="0.6290" stop-color="#d5d6df"/><stop offset="0.6403" stop-color="#d5d7df"/><stop offset="0.6515" stop-color="#d0d3dd"/><stop offset="0.6627" stop-color="#ced0dc"/><stop offset="0.6740" stop-color="#d2d4de"/><stop offset="0.6789" stop-color="#d2d4de"/><stop offset="0.6852" stop-color="#dcdce1"/><stop offset="0.6964" stop-color="#f6f2ec"/><stop offset="0.7076" stop-color="#f7f3ed"/><stop offset="0.7189" stop-color="#f7f3ee"/><stop offset="0.7301" stop-color="#f5f0ea"/><stop offset="0.7413" stop-color="#f7f4ed"/><stop offset="0.7526" stop-color="#f7f2eb"/><stop offset="0.7638" stop-color="#f7f3ec"/><stop offset="0.7750" stop-color="#f7f3ed"/><stop offset="0.7863" stop-color="#f6f2ec"/><stop offset="0.7975" stop-color="#f7f2ec"/><stop offset="0.8087" stop-color="#f6f1eb"/><stop offset="0.8199" stop-color="#f7f3eb"/><stop offset="0.8312" stop-color="#f8f3ec"/><stop offset="0.8424" stop-color="#f8f5ee"/><stop offset="0.8536" stop-color="#f8f4ec"/><stop offset="0.8649" stop-color="#f9f5ee"/><stop offset="0.8761" stop-color="#f7f2eb"/><stop offset="0.8873" stop-color="#f9f5ec"/><stop offset="0.8986" stop-color="#faf6ef"/><stop offset="0.9098" stop-color="#f8f4ec"/><stop offset="0.9210" stop-color="#f9f4ec"/><stop offset="0.9322" stop-color="#f8f4ec"/><stop offset="0.9435" stop-color="#f8f3ec"/><stop offset="0.9547" stop-color="#f9f5ee"/><stop offset="0.9659" stop-color="#faf7f0"/><stop offset="0.9772" stop-color="#faf7f0"/><stop offset="0.9884" stop-color="#fbf7f0"/><stop offset="0.9984" stop-color="#faf6ee"/></linearGradient><linearGradient id="g34" gradientUnits="userSpaceOnUse" x1="714.7" y1="0" x2="1236.3" y2="0"><stop offset="0.0001" stop-color="#fcfcfb"/><stop offset="0.0401" stop-color="#f8f6f2"/><stop offset="0.0451" stop-color="#f9f7f2"/><stop offset="0.0563" stop-color="#f6f4ef"/><stop offset="0.0675" stop-color="#f8f6f0"/><stop offset="0.0788" stop-color="#f7f3ec"/><stop offset="0.0900" stop-color="#f5f1ea"/><stop offset="0.0950" stop-color="#f6f2ea"/><stop offset="0.1012" stop-color="#dfc698"/><stop offset="0.1025" stop-color="#d8b880"/><stop offset="0.1124" stop-color="#d6b57c"/><stop offset="0.1237" stop-color="#d4b37b"/><stop offset="0.1349" stop-color="#d3b27d"/><stop offset="0.1461" stop-color="#d6b989"/><stop offset="0.1574" stop-color="#cfae79"/><stop offset="0.1599" stop-color="#d0b07c"/><stop offset="0.1686" stop-color="#d4b788"/><stop offset="0.1798" stop-color="#d5ba8b"/><stop offset="0.1911" stop-color="#cfaf7b"/><stop offset="0.2023" stop-color="#d0b17d"/><stop offset="0.2135" stop-color="#d1b17e"/><stop offset="0.2173" stop-color="#d4b888"/><stop offset="0.2247" stop-color="#eadec9"/><stop offset="0.2297" stop-color="#f6f2ee"/><stop offset="0.2360" stop-color="#efeced"/><stop offset="0.2472" stop-color="#e1e1e8"/><stop offset="0.2497" stop-color="#dcdce6"/><stop offset="0.2584" stop-color="#dddde7"/><stop offset="0.2697" stop-color="#dedee7"/><stop offset="0.2809" stop-color="#dcdce6"/><stop offset="0.2921" stop-color="#dbdbe6"/><stop offset="0.3034" stop-color="#dadae5"/><stop offset="0.3146" stop-color="#dbdbe6"/><stop offset="0.3258" stop-color="#dddde7"/><stop offset="0.3371" stop-color="#dedee7"/><stop offset="0.3483" stop-color="#dfdfe9"/><stop offset="0.3595" stop-color="#dddde8"/><stop offset="0.3707" stop-color="#dddde7"/><stop offset="0.3795" stop-color="#dedee8"/><stop offset="0.3820" stop-color="#e4e1ea"/><stop offset="0.3932" stop-color="#f6e3eb"/><stop offset="0.3944" stop-color="#f8e4ec"/><stop offset="0.4044" stop-color="#f9e8ee"/><stop offset="0.4157" stop-color="#f9e9ee"/><stop offset="0.4269" stop-color="#f7e0e9"/><stop offset="0.4381" stop-color="#f9e6ed"/><stop offset="0.4494" stop-color="#f7dfe9"/><stop offset="0.4606" stop-color="#f7dee8"/><stop offset="0.4718" stop-color="#f9e6ed"/><stop offset="0.4830" stop-color="#f8e5eb"/><stop offset="0.4943" stop-color="#f8e1ea"/><stop offset="0.4993" stop-color="#f8e2ea"/><stop offset="0.5055" stop-color="#f8ecef"/><stop offset="0.5142" stop-color="#f8f6f4"/><stop offset="0.5167" stop-color="#f9f7f5"/><stop offset="0.5280" stop-color="#f8f6f4"/><stop offset="0.5392" stop-color="#f9f7f5"/><stop offset="0.5504" stop-color="#f8f6f4"/><stop offset="0.5617" stop-color="#f9f7f5"/><stop offset="0.5729" stop-color="#f8f6f4"/><stop offset="0.5841" stop-color="#f7f5f3"/><stop offset="0.5953" stop-color="#f9f7f5"/><stop offset="0.6066" stop-color="#f7f5f3"/><stop offset="0.6178" stop-color="#f8f5f4"/><stop offset="0.6290" stop-color="#f8f6f4"/><stop offset="0.6403" stop-color="#f9f7f4"/><stop offset="0.6515" stop-color="#f9f7f4"/><stop offset="0.6627" stop-color="#faf8f5"/><stop offset="0.6740" stop-color="#f9f7f4"/><stop offset="0.6852" stop-color="#f9f7f4"/><stop offset="0.6964" stop-color="#f8f6f3"/><stop offset="0.7076" stop-color="#f9f8f4"/><stop offset="0.7189" stop-color="#f9f6f4"/><stop offset="0.7301" stop-color="#f9f6f4"/><stop offset="0.7413" stop-color="#f9f7f4"/><stop offset="0.7526" stop-color="#f9f7f4"/><stop offset="0.7638" stop-color="#f9f7f4"/><stop offset="0.7750" stop-color="#f8f6f3"/><stop offset="0.7863" stop-color="#f9f7f4"/><stop offset="0.7975" stop-color="#f9f7f4"/><stop offset="0.8087" stop-color="#f8f6f3"/><stop offset="0.8199" stop-color="#f8f6f3"/><stop offset="0.8312" stop-color="#f9f7f4"/><stop offset="0.8424" stop-color="#faf8f5"/><stop offset="0.8536" stop-color="#f9f7f4"/><stop offset="0.8649" stop-color="#f8f6f3"/><stop offset="0.8761" stop-color="#f8f6f3"/><stop offset="0.8873" stop-color="#faf8f4"/><stop offset="0.8986" stop-color="#faf7f3"/><stop offset="0.9098" stop-color="#faf8f4"/><stop offset="0.9210" stop-color="#faf7f3"/><stop offset="0.9322" stop-color="#faf7f3"/><stop offset="0.9435" stop-color="#faf8f4"/><stop offset="0.9547" stop-color="#faf8f4"/><stop offset="0.9659" stop-color="#faf8f4"/><stop offset="0.9772" stop-color="#faf8f4"/><stop offset="0.9884" stop-color="#faf8f4"/><stop offset="0.9984" stop-color="#faf8f4"/></linearGradient><linearGradient id="g35" gradientUnits="userSpaceOnUse" x1="714.7" y1="0" x2="1236.3" y2="0"><stop offset="0.0001" stop-color="#fcfcfb"/><stop offset="0.0401" stop-color="#f8f6f2"/><stop offset="0.0451" stop-color="#f8f6f0"/><stop offset="0.0563" stop-color="#faf6ef"/><stop offset="0.0675" stop-color="#faf6ea"/><stop offset="0.0788" stop-color="#fbf6e9"/><stop offset="0.0900" stop-color="#fbf6e6"/><stop offset="0.0950" stop-color="#fbf4e0"/><stop offset="0.1012" stop-color="#fdedae"/><stop offset="0.1025" stop-color="#fde890"/><stop offset="0.1124" stop-color="#fdeca5"/><stop offset="0.1237" stop-color="#fdeba1"/><stop offset="0.1349" stop-color="#fdeba3"/><stop offset="0.1461" stop-color="#fde584"/><stop offset="0.1574" stop-color="#fde893"/><stop offset="0.1686" stop-color="#fdecaa"/><stop offset="0.1798" stop-color="#fdeba5"/><stop offset="0.1898" stop-color="#fde898"/><stop offset="0.1911" stop-color="#fde693"/><stop offset="0.2023" stop-color="#fbf4da"/><stop offset="0.2048" stop-color="#fbf6ea"/><stop offset="0.2135" stop-color="#fbf7ec"/><stop offset="0.2247" stop-color="#fbf7ef"/><stop offset="0.2360" stop-color="#faf6ee"/><stop offset="0.2472" stop-color="#faf6ef"/><stop offset="0.2584" stop-color="#f9f7f0"/><stop offset="0.2697" stop-color="#f8f5ee"/><stop offset="0.2809" stop-color="#f8f5f0"/><stop offset="0.2921" stop-color="#f7f5f1"/><stop offset="0.3034" stop-color="#f8f6f3"/><stop offset="0.3096" stop-color="#f8f6f4"/><stop offset="0.3146" stop-color="#f7f5f3"/><stop offset="0.3258" stop-color="#f7f5f3"/><stop offset="0.3371" stop-color="#f8f6f4"/><stop offset="0.3483" stop-color="#f8f6f4"/><stop offset="0.3595" stop-color="#f8f7f4"/><stop offset="0.3707" stop-color="#f8f6f4"/><stop offset="0.3820" stop-color="#f9f7f5"/><stop offset="0.3932" stop-color="#f9f7f5"/><stop offset="0.4044" stop-color="#f7f5f3"/><stop offset="0.4157" stop-color="#f9f7f5"/><stop offset="0.4269" stop-color="#f8f7f4"/><stop offset="0.4381" stop-color="#f7f5f3"/><stop offset="0.4494" stop-color="#f8f5f4"/><stop offset="0.4606" stop-color="#f8f6f4"/><stop offset="0.4718" stop-color="#f9f7f5"/><stop offset="0.4830" stop-color="#faf8f4"/><stop offset="0.4943" stop-color="#faf8f4"/><stop offset="0.5055" stop-color="#faf8f4"/><stop offset="0.5167" stop-color="#faf8f4"/><stop offset="0.5280" stop-color="#faf8f4"/><stop offset="0.5392" stop-color="#faf8f4"/><stop offset="0.5504" stop-color="#f8f6f2"/><stop offset="0.5617" stop-color="#f8f6f2"/><stop offset="0.5729" stop-color="#f9f7f3"/><stop offset="0.5841" stop-color="#f9f7f3"/><stop offset="0.5953" stop-color="#f9f7f3"/><stop offset="0.6066" stop-color="#f9f7f3"/><stop offset="0.6178" stop-color="#f9f7f3"/><stop offset="0.6290" stop-color="#f9f7f3"/><stop offset="0.6403" stop-color="#f9f8f4"/><stop offset="0.6515" stop-color="#f9f7f3"/><stop offset="0.6627" stop-color="#faf8f4"/><stop offset="0.6740" stop-color="#f9f7f3"/><stop offset="0.6852" stop-color="#f8f6f2"/><stop offset="0.6964" stop-color="#f9f7f3"/><stop offset="0.7076" stop-color="#faf8f4"/><stop offset="0.7189" stop-color="#f9f8f4"/><stop offset="0.7301" stop-color="#f9f7f3"/><stop offset="0.7413" stop-color="#f9f7f3"/><stop offset="0.7526" stop-color="#f9f7f3"/><stop offset="0.7638" stop-color="#faf8f4"/><stop offset="0.7750" stop-color="#faf8f4"/><stop offset="0.7863" stop-color="#f9f8f4"/><stop offset="0.7975" stop-color="#f9f7f3"/><stop offset="0.8087" stop-color="#f9f6f2"/><stop offset="0.8199" stop-color="#f8f6f2"/><stop offset="0.8312" stop-color="#faf7f1"/><stop offset="0.8424" stop-color="#faf8f3"/><stop offset="0.8536" stop-color="#faf7f1"/><stop offset="0.8649" stop-color="#faf9f3"/><stop offset="0.8761" stop-color="#faf8f3"/><stop offset="0.8873" stop-color="#faf8f3"/><stop offset="0.8986" stop-color="#faf8f3"/><stop offset="0.9098" stop-color="#faf8f2"/><stop offset="0.9210" stop-color="#faf8f1"/><stop offset="0.9322" stop-color="#faf9f3"/><stop offset="0.9435" stop-color="#faf9f3"/><stop offset="0.9547" stop-color="#faf8f2"/><stop offset="0.9659" stop-color="#faf8f2"/><stop offset="0.9772" stop-color="#f9f7f1"/><stop offset="0.9884" stop-color="#fbf9f3"/><stop offset="0.9984" stop-color="#faf8f2"/></linearGradient><linearGradient id="g36" gradientUnits="userSpaceOnUse" x1="714.7" y1="0" x2="1236.3" y2="0"><stop offset="0.0001" stop-color="#fcfcfb"/><stop offset="0.0451" stop-color="#fafaf7"/><stop offset="0.0563" stop-color="#f9faf6"/><stop offset="0.0675" stop-color="#f9f9f5"/><stop offset="0.0788" stop-color="#f6f9f4"/><stop offset="0.0900" stop-color="#f6f8f3"/><stop offset="0.0975" stop-color="#f6f8f2"/><stop offset="0.1012" stop-color="#f5f8f0"/><stop offset="0.1124" stop-color="#f0f8ea"/><stop offset="0.1224" stop-color="#eef8e6"/><stop offset="0.1237" stop-color="#edf8e5"/><stop offset="0.1349" stop-color="#f0f6e9"/><stop offset="0.1461" stop-color="#f4f6ed"/><stop offset="0.1574" stop-color="#f4f3ed"/><stop offset="0.1686" stop-color="#f8f4f2"/><stop offset="0.1723" stop-color="#f8f2f2"/><stop offset="0.1798" stop-color="#f9f2f2"/><stop offset="0.1911" stop-color="#faeef1"/><stop offset="0.2023" stop-color="#fbeef0"/><stop offset="0.2098" stop-color="#fcecf0"/><stop offset="0.2135" stop-color="#fbedf0"/><stop offset="0.2247" stop-color="#faf1f4"/><stop offset="0.2347" stop-color="#f8f6f6"/><stop offset="0.2360" stop-color="#f7f5f6"/><stop offset="0.2472" stop-color="#f8f6f6"/><stop offset="0.2584" stop-color="#f8f6f6"/><stop offset="0.2697" stop-color="#f8f6f6"/><stop offset="0.2809" stop-color="#f8f6f6"/><stop offset="0.2921" stop-color="#f7f5f6"/><stop offset="0.3034" stop-color="#f7f5f6"/><stop offset="0.3146" stop-color="#f8f6f6"/><stop offset="0.3258" stop-color="#f8f5f6"/><stop offset="0.3371" stop-color="#f9f7f6"/><stop offset="0.3483" stop-color="#f8f6f6"/><stop offset="0.3595" stop-color="#f7f5f6"/><stop offset="0.3707" stop-color="#f8f5f6"/><stop offset="0.3820" stop-color="#f8f5f6"/><stop offset="0.3932" stop-color="#f7f5f6"/><stop offset="0.4044" stop-color="#f8f6f6"/><stop offset="0.4157" stop-color="#f9f7f6"/><stop offset="0.4269" stop-color="#f9f7f5"/><stop offset="0.4381" stop-color="#f9f7f5"/><stop offset="0.4494" stop-color="#f9f7f5"/><stop offset="0.4606" stop-color="#faf8f6"/><stop offset="0.4718" stop-color="#faf8f5"/><stop offset="0.4830" stop-color="#f9f6f5"/><stop offset="0.4943" stop-color="#f8f6f4"/><stop offset="0.5055" stop-color="#faf8f6"/><stop offset="0.5167" stop-color="#f9f7f5"/><stop offset="0.5280" stop-color="#f9f7f5"/><stop offset="0.5392" stop-color="#f9f7f5"/><stop offset="0.5504" stop-color="#f9f8f5"/><stop offset="0.5617" stop-color="#f8f6f4"/><stop offset="0.5729" stop-color="#f9f7f5"/><stop offset="0.5841" stop-color="#f9f7f5"/><stop offset="0.5953" stop-color="#f9f7f5"/><stop offset="0.6066" stop-color="#f9f7f5"/><stop offset="0.6178" stop-color="#f9f7f5"/><stop offset="0.6290" stop-color="#f9f7f5"/><stop offset="0.6403" stop-color="#faf8f6"/><stop offset="0.6515" stop-color="#faf8f6"/><stop offset="0.6627" stop-color="#f9f8f5"/><stop offset="0.6740" stop-color="#f9f6f5"/><stop offset="0.6852" stop-color="#f9f7f5"/><stop offset="0.6964" stop-color="#f9f7f5"/><stop offset="0.7076" stop-color="#faf8f6"/><stop offset="0.7189" stop-color="#f9f7f5"/><stop offset="0.7301" stop-color="#f9f7f5"/><stop offset="0.7413" stop-color="#f9f7f5"/><stop offset="0.7526" stop-color="#f9f6f5"/><stop offset="0.7638" stop-color="#f9f7f5"/><stop offset="0.7750" stop-color="#f9f7f5"/><stop offset="0.7863" stop-color="#faf8f6"/><stop offset="0.7975" stop-color="#f9f7f5"/><stop offset="0.8087" stop-color="#faf8f4"/><stop offset="0.8199" stop-color="#faf7f3"/><stop offset="0.8312" stop-color="#f9f7f3"/><stop offset="0.8424" stop-color="#faf8f4"/><stop offset="0.8536" stop-color="#faf8f4"/><stop offset="0.8649" stop-color="#faf8f4"/><stop offset="0.8761" stop-color="#faf8f4"/><stop offset="0.8873" stop-color="#faf8f4"/><stop offset="0.8986" stop-color="#f9f7f3"/><stop offset="0.9098" stop-color="#faf8f4"/><stop offset="0.9210" stop-color="#faf8f4"/><stop offset="0.9322" stop-color="#faf7f3"/><stop offset="0.9435" stop-color="#faf8f4"/><stop offset="0.9547" stop-color="#faf8f4"/><stop offset="0.9659" stop-color="#f9f7f3"/><stop offset="0.9772" stop-color="#fbf9f5"/><stop offset="0.9884" stop-color="#fbf9f5"/><stop offset="0.9984" stop-color="#faf8f4"/></linearGradient><linearGradient id="g37" x1="0" y1="0" x2="0" y2="1"><stop offset="0.0134" stop-color="#dd3a2c"/><stop offset="0.1134" stop-color="#e05228"/><stop offset="0.2134" stop-color="#e87a2a"/><stop offset="0.2634" stop-color="#f0902a"/><stop offset="0.3084" stop-color="#f7a81a"/><stop offset="0.3634" stop-color="#f9b828"/><stop offset="0.4084" stop-color="#fbc955"/><stop offset="0.4534" stop-color="#fde3a0"/><stop offset="0.4834" stop-color="#fff0d0"/><stop offset="0.5134" stop-color="#fefdfa"/><stop offset="0.6134" stop-color="#d8d9e6"/><stop offset="0.7184" stop-color="#a9aec8"/><stop offset="0.8184" stop-color="#7981a6"/><stop offset="0.9284" stop-color="#47578a"/><stop offset="1.0000" stop-color="#23356d"/></linearGradient><linearGradient id="g38" gradientUnits="userSpaceOnUse" x1="714.7" y1="0" x2="1236.3" y2="0"><stop offset="0.0001" stop-color="#fcfcfb"/><stop offset="0.0388" stop-color="#fdf8ec"/><stop offset="0.0401" stop-color="#f5a030"/><stop offset="0.0451" stop-color="#f6a534"/><stop offset="0.0466" stop-color="#f6a838"/><stop offset="0.0526" stop-color="#fbd8a0"/><stop offset="0.0563" stop-color="#fce9cb"/><stop offset="0.0618" stop-color="#fdf6ee"/><stop offset="0.0675" stop-color="#f8f4f0"/><stop offset="0.0750" stop-color="#f4f4f6"/><stop offset="0.0788" stop-color="#e6e8f0"/><stop offset="0.0800" stop-color="#e6e8ef"/><stop offset="0.0900" stop-color="#dadde8"/><stop offset="0.1012" stop-color="#dde0ea"/><stop offset="0.1025" stop-color="#dcdfe9"/><stop offset="0.1100" stop-color="#eef0f4"/><stop offset="0.1124" stop-color="#f1f0f0"/><stop offset="0.1174" stop-color="#fdf6ea"/><stop offset="0.1237" stop-color="#facf8b"/><stop offset="0.1274" stop-color="#f8b850"/><stop offset="0.1349" stop-color="#f8b145"/><stop offset="0.1461" stop-color="#f7aa3d"/><stop offset="0.1474" stop-color="#f7a838"/><stop offset="0.1574" stop-color="#f59d27"/><stop offset="0.1686" stop-color="#f4a33a"/><stop offset="0.1798" stop-color="#f29420"/><stop offset="0.1848" stop-color="#f29a30"/><stop offset="0.1911" stop-color="#f19835"/><stop offset="0.2023" stop-color="#f19235"/><stop offset="0.2135" stop-color="#ed7714"/><stop offset="0.2148" stop-color="#ee8228"/><stop offset="0.2247" stop-color="#ef8d39"/><stop offset="0.2360" stop-color="#ef8c37"/><stop offset="0.2472" stop-color="#ee8428"/><stop offset="0.2584" stop-color="#f18d27"/><stop offset="0.2697" stop-color="#f3931d"/><stop offset="0.2747" stop-color="#f5a030"/><stop offset="0.2809" stop-color="#f8bf6d"/><stop offset="0.2846" stop-color="#fad8a0"/><stop offset="0.2921" stop-color="#fdf8f0"/><stop offset="0.3034" stop-color="#f9f5f3"/><stop offset="0.3146" stop-color="#f7f6f6"/><stop offset="0.3171" stop-color="#f4f4f6"/><stop offset="0.3246" stop-color="#e4e6ee"/><stop offset="0.3258" stop-color="#e9eaf0"/><stop offset="0.3371" stop-color="#e1e3ed"/><stop offset="0.3483" stop-color="#e1e3ed"/><stop offset="0.3595" stop-color="#dfe1ec"/><stop offset="0.3695" stop-color="#e4e6ee"/><stop offset="0.3707" stop-color="#e8eaf0"/><stop offset="0.3770" stop-color="#f6f6f8"/><stop offset="0.3820" stop-color="#f8f4ef"/><stop offset="0.3920" stop-color="#fdf0dc"/><stop offset="0.3932" stop-color="#fce5c5"/><stop offset="0.3994" stop-color="#f5a030"/><stop offset="0.4044" stop-color="#f49e3e"/><stop offset="0.4157" stop-color="#ed7c22"/><stop offset="0.4194" stop-color="#ec7a28"/><stop offset="0.4269" stop-color="#e86e20"/><stop offset="0.4381" stop-color="#e7753a"/><stop offset="0.4469" stop-color="#e26028"/><stop offset="0.4494" stop-color="#e25e25"/><stop offset="0.4606" stop-color="#df5218"/><stop offset="0.4718" stop-color="#de531b"/><stop offset="0.4793" stop-color="#e05a26"/><stop offset="0.4830" stop-color="#e2632e"/><stop offset="0.4943" stop-color="#e6753b"/><stop offset="0.5055" stop-color="#e97633"/><stop offset="0.5068" stop-color="#e87028"/><stop offset="0.5167" stop-color="#ed893a"/><stop offset="0.5267" stop-color="#f09030"/><stop offset="0.5280" stop-color="#f09536"/><stop offset="0.5392" stop-color="#f5a43b"/><stop offset="0.5467" stop-color="#f8b040"/><stop offset="0.5504" stop-color="#f9b752"/><stop offset="0.5617" stop-color="#fbce8d"/><stop offset="0.5641" stop-color="#fbd090"/><stop offset="0.5729" stop-color="#fcddae"/><stop offset="0.5791" stop-color="#fde4c0"/><stop offset="0.5841" stop-color="#feeed5"/><stop offset="0.5891" stop-color="#fff4e0"/><stop offset="0.5953" stop-color="#fff3db"/><stop offset="0.6066" stop-color="#fff2d9"/><stop offset="0.6166" stop-color="#fff2dc"/><stop offset="0.6178" stop-color="#ffeed1"/><stop offset="0.6290" stop-color="#fcdba8"/><stop offset="0.6340" stop-color="#fbd090"/><stop offset="0.6403" stop-color="#fac36d"/><stop offset="0.6515" stop-color="#f9b850"/><stop offset="0.6565" stop-color="#f8ac30"/><stop offset="0.6627" stop-color="#f7a933"/><stop offset="0.6740" stop-color="#f4a02c"/><stop offset="0.6852" stop-color="#f2992a"/><stop offset="0.6864" stop-color="#f29420"/><stop offset="0.6964" stop-color="#f2972e"/><stop offset="0.7076" stop-color="#ef850f"/><stop offset="0.7189" stop-color="#ef8c24"/><stop offset="0.7214" stop-color="#ef8a22"/><stop offset="0.7301" stop-color="#ef8919"/><stop offset="0.7413" stop-color="#f2992e"/><stop offset="0.7526" stop-color="#f2931a"/><stop offset="0.7588" stop-color="#f29a22"/><stop offset="0.7638" stop-color="#f3971a"/><stop offset="0.7750" stop-color="#f39610"/><stop offset="0.7838" stop-color="#f5a020"/><stop offset="0.7863" stop-color="#f5a42a"/><stop offset="0.7975" stop-color="#f4980d"/><stop offset="0.8087" stop-color="#f49b12"/><stop offset="0.8199" stop-color="#f6a730"/><stop offset="0.8312" stop-color="#f5a325"/><stop offset="0.8424" stop-color="#f5a427"/><stop offset="0.8536" stop-color="#f4990d"/><stop offset="0.8649" stop-color="#f69f1a"/><stop offset="0.8761" stop-color="#f6a932"/><stop offset="0.8873" stop-color="#f6a323"/><stop offset="0.8986" stop-color="#f69e18"/><stop offset="0.9098" stop-color="#f7ab36"/><stop offset="0.9210" stop-color="#f6a01a"/><stop offset="0.9310" stop-color="#f6a424"/><stop offset="0.9322" stop-color="#f6a11d"/><stop offset="0.9435" stop-color="#f6a11a"/><stop offset="0.9547" stop-color="#f7ab33"/><stop offset="0.9659" stop-color="#f69e13"/><stop offset="0.9772" stop-color="#f7a92c"/><stop offset="0.9884" stop-color="#f8a420"/><stop offset="0.9984" stop-color="#f8a828"/></linearGradient><linearGradient id="g39" gradientUnits="userSpaceOnUse" x1="714.7" y1="0" x2="1236.3" y2="0"><stop offset="0.0001" stop-color="#fcfcfb"/><stop offset="0.0388" stop-color="#fdf8ec"/><stop offset="0.0401" stop-color="#f5a040"/><stop offset="0.0451" stop-color="#f7ba74"/><stop offset="0.0526" stop-color="#fbd8b0"/><stop offset="0.0563" stop-color="#fbe8d5"/><stop offset="0.0618" stop-color="#f8f4f4"/><stop offset="0.0675" stop-color="#f9f6f5"/><stop offset="0.0788" stop-color="#f7f4f5"/><stop offset="0.0900" stop-color="#f5f3f6"/><stop offset="0.1012" stop-color="#f4f3f7"/><stop offset="0.1100" stop-color="#f4f4f8"/><stop offset="0.1124" stop-color="#f6f6f8"/><stop offset="0.1237" stop-color="#f7f5f6"/><stop offset="0.1349" stop-color="#f3f1f4"/><stop offset="0.1461" stop-color="#f5f3f4"/><stop offset="0.1574" stop-color="#f5f0f1"/><stop offset="0.1599" stop-color="#f6f2f2"/><stop offset="0.1674" stop-color="#fbd8b0"/><stop offset="0.1686" stop-color="#facfa1"/><stop offset="0.1798" stop-color="#f09040"/><stop offset="0.1898" stop-color="#e86828"/><stop offset="0.1911" stop-color="#e7601e"/><stop offset="0.2023" stop-color="#e35919"/><stop offset="0.2135" stop-color="#e3622b"/><stop offset="0.2223" stop-color="#e05a25"/><stop offset="0.2247" stop-color="#e1602d"/><stop offset="0.2360" stop-color="#e46b39"/><stop offset="0.2472" stop-color="#e15015"/><stop offset="0.2547" stop-color="#e4602a"/><stop offset="0.2584" stop-color="#e8743c"/><stop offset="0.2697" stop-color="#eb771f"/><stop offset="0.2747" stop-color="#ee8a30"/><stop offset="0.2809" stop-color="#f3aa67"/><stop offset="0.2921" stop-color="#f9cda5"/><stop offset="0.2946" stop-color="#fbd8b8"/><stop offset="0.3034" stop-color="#fce3ce"/><stop offset="0.3096" stop-color="#fdf2e8"/><stop offset="0.3146" stop-color="#faf6f4"/><stop offset="0.3171" stop-color="#f8f8fa"/><stop offset="0.3258" stop-color="#f8f8fa"/><stop offset="0.3371" stop-color="#f8f8fa"/><stop offset="0.3483" stop-color="#f9f9fa"/><stop offset="0.3595" stop-color="#f7f7fa"/><stop offset="0.3707" stop-color="#f8f8fa"/><stop offset="0.3795" stop-color="#f8f8fa"/><stop offset="0.3820" stop-color="#f8eee5"/><stop offset="0.3895" stop-color="#fbd8b0"/><stop offset="0.3932" stop-color="#f8c28d"/><stop offset="0.4044" stop-color="#f09040"/><stop offset="0.4157" stop-color="#ec823c"/><stop offset="0.4219" stop-color="#e87028"/><stop offset="0.4269" stop-color="#e7691d"/><stop offset="0.4381" stop-color="#e87026"/><stop offset="0.4494" stop-color="#ea7934"/><stop offset="0.4606" stop-color="#e96f25"/><stop offset="0.4718" stop-color="#e76514"/><stop offset="0.4830" stop-color="#eb7f3b"/><stop offset="0.4943" stop-color="#e86f21"/><stop offset="0.5055" stop-color="#ea752b"/><stop offset="0.5167" stop-color="#ea7428"/><stop offset="0.5267" stop-color="#ea7428"/><stop offset="0.5280" stop-color="#ea7220"/><stop offset="0.5392" stop-color="#f29639"/><stop offset="0.5467" stop-color="#f5a030"/><stop offset="0.5504" stop-color="#f7b158"/><stop offset="0.5617" stop-color="#facd97"/><stop offset="0.5641" stop-color="#fbd0a0"/><stop offset="0.5729" stop-color="#fcdab0"/><stop offset="0.5791" stop-color="#fde0b8"/><stop offset="0.5841" stop-color="#fddeb4"/><stop offset="0.5953" stop-color="#fde0b8"/><stop offset="0.6066" stop-color="#fddcb0"/><stop offset="0.6178" stop-color="#fde3bf"/><stop offset="0.6215" stop-color="#fde0b8"/><stop offset="0.6290" stop-color="#fcd59a"/><stop offset="0.6340" stop-color="#fbc878"/><stop offset="0.6403" stop-color="#fac065"/><stop offset="0.6515" stop-color="#f9b244"/><stop offset="0.6627" stop-color="#f7a830"/><stop offset="0.6665" stop-color="#f7a425"/><stop offset="0.6740" stop-color="#f8ac38"/><stop offset="0.6852" stop-color="#f7a527"/><stop offset="0.6964" stop-color="#f7a11d"/><stop offset="0.7076" stop-color="#f7a62b"/><stop offset="0.7189" stop-color="#f79e17"/><stop offset="0.7301" stop-color="#f7a930"/><stop offset="0.7413" stop-color="#f7a11e"/><stop offset="0.7526" stop-color="#f7a629"/><stop offset="0.7638" stop-color="#f7ab35"/><stop offset="0.7750" stop-color="#f7a82f"/><stop offset="0.7838" stop-color="#f7a425"/><stop offset="0.7863" stop-color="#f7aa34"/><stop offset="0.7975" stop-color="#f7a424"/><stop offset="0.8087" stop-color="#f79f18"/><stop offset="0.8199" stop-color="#f7a21d"/><stop offset="0.8312" stop-color="#f7a521"/><stop offset="0.8424" stop-color="#f8af3b"/><stop offset="0.8536" stop-color="#f7a624"/><stop offset="0.8649" stop-color="#f7a41e"/><stop offset="0.8761" stop-color="#f7ac31"/><stop offset="0.8873" stop-color="#f7ab2b"/><stop offset="0.8986" stop-color="#f7ab2d"/><stop offset="0.9098" stop-color="#f7ab2b"/><stop offset="0.9210" stop-color="#f7b23d"/><stop offset="0.9322" stop-color="#f7ac2c"/><stop offset="0.9435" stop-color="#f7b136"/><stop offset="0.9547" stop-color="#f7ad2c"/><stop offset="0.9659" stop-color="#f8b53f"/><stop offset="0.9772" stop-color="#f7b237"/><stop offset="0.9884" stop-color="#f7b53f"/><stop offset="0.9984" stop-color="#f7b030"/></linearGradient><linearGradient id="g40" gradientUnits="userSpaceOnUse" x1="714.7" y1="0" x2="1236.3" y2="0"><stop offset="0.0001" stop-color="#fcfcfb"/><stop offset="0.0388" stop-color="#fdf8ec"/><stop offset="0.0401" stop-color="#fbe8d0"/><stop offset="0.0451" stop-color="#fcead4"/><stop offset="0.0563" stop-color="#fdf1e5"/><stop offset="0.0600" stop-color="#fdf6ee"/><stop offset="0.0675" stop-color="#fdf5ed"/><stop offset="0.0788" stop-color="#fdf5ee"/><stop offset="0.0900" stop-color="#fcf5ed"/><stop offset="0.1012" stop-color="#fcf4eb"/><stop offset="0.1100" stop-color="#fcf4ec"/><stop offset="0.1124" stop-color="#fcf0e0"/><stop offset="0.1237" stop-color="#fbd7a1"/><stop offset="0.1249" stop-color="#fbd090"/><stop offset="0.1349" stop-color="#fac16b"/><stop offset="0.1461" stop-color="#f8b955"/><stop offset="0.1474" stop-color="#f8b850"/><stop offset="0.1574" stop-color="#f6a636"/><stop offset="0.1649" stop-color="#f5a030"/><stop offset="0.1686" stop-color="#f49e31"/><stop offset="0.1798" stop-color="#f39a37"/><stop offset="0.1911" stop-color="#f1963f"/><stop offset="0.2023" stop-color="#ee8226"/><stop offset="0.2135" stop-color="#ec7a27"/><stop offset="0.2148" stop-color="#ec7a28"/><stop offset="0.2247" stop-color="#ef883c"/><stop offset="0.2360" stop-color="#ee8637"/><stop offset="0.2472" stop-color="#ee7e28"/><stop offset="0.2584" stop-color="#f08219"/><stop offset="0.2697" stop-color="#f49626"/><stop offset="0.2747" stop-color="#f5a030"/><stop offset="0.2809" stop-color="#f6a93f"/><stop offset="0.2921" stop-color="#f7ae41"/><stop offset="0.2971" stop-color="#f8b040"/><stop offset="0.3034" stop-color="#f9b859"/><stop offset="0.3146" stop-color="#fbc98d"/><stop offset="0.3171" stop-color="#fbd0a0"/><stop offset="0.3258" stop-color="#fbd4a8"/><stop offset="0.3371" stop-color="#fbd2a0"/><stop offset="0.3483" stop-color="#fcd3a3"/><stop offset="0.3595" stop-color="#fcd3a2"/><stop offset="0.3707" stop-color="#fcdaad"/><stop offset="0.3795" stop-color="#fcd8a8"/><stop offset="0.3820" stop-color="#fbd29a"/><stop offset="0.3932" stop-color="#f8b04b"/><stop offset="0.3969" stop-color="#f7a838"/><stop offset="0.4044" stop-color="#f6a83f"/><stop offset="0.4157" stop-color="#f49d32"/><stop offset="0.4269" stop-color="#f39935"/><stop offset="0.4344" stop-color="#f29430"/><stop offset="0.4381" stop-color="#f2932e"/><stop offset="0.4494" stop-color="#f08c23"/><stop offset="0.4606" stop-color="#f08d26"/><stop offset="0.4718" stop-color="#f19940"/><stop offset="0.4830" stop-color="#f08c29"/><stop offset="0.4843" stop-color="#f09030"/><stop offset="0.4943" stop-color="#f29d43"/><stop offset="0.5055" stop-color="#f29c39"/><stop offset="0.5167" stop-color="#f39a2a"/><stop offset="0.5280" stop-color="#f49d29"/><stop offset="0.5342" stop-color="#f5a535"/><stop offset="0.5392" stop-color="#f49e22"/><stop offset="0.5504" stop-color="#f5ab3e"/><stop offset="0.5617" stop-color="#f6a935"/><stop offset="0.5729" stop-color="#f6a830"/><stop offset="0.5841" stop-color="#f6a72b"/><stop offset="0.5953" stop-color="#f7a729"/><stop offset="0.6066" stop-color="#f7b23e"/><stop offset="0.6178" stop-color="#f7b544"/><stop offset="0.6290" stop-color="#f8b642"/><stop offset="0.6403" stop-color="#f8af2e"/><stop offset="0.6440" stop-color="#f8b438"/><stop offset="0.6515" stop-color="#fac769"/><stop offset="0.6590" stop-color="#fbcf80"/><stop offset="0.6627" stop-color="#fbd186"/><stop offset="0.6740" stop-color="#fbcd79"/><stop offset="0.6852" stop-color="#fbcc77"/><stop offset="0.6964" stop-color="#fbd085"/><stop offset="0.7076" stop-color="#fbcf7f"/><stop offset="0.7189" stop-color="#fbd289"/><stop offset="0.7301" stop-color="#fbd48c"/><stop offset="0.7413" stop-color="#fbd187"/><stop offset="0.7526" stop-color="#fcd591"/><stop offset="0.7638" stop-color="#fcd38b"/><stop offset="0.7750" stop-color="#fcd287"/><stop offset="0.7863" stop-color="#fcd082"/><stop offset="0.7975" stop-color="#fcd185"/><stop offset="0.8087" stop-color="#fcd694"/><stop offset="0.8199" stop-color="#fcd691"/><stop offset="0.8312" stop-color="#fcd899"/><stop offset="0.8424" stop-color="#fcd89a"/><stop offset="0.8536" stop-color="#fcd288"/><stop offset="0.8649" stop-color="#fcd899"/><stop offset="0.8761" stop-color="#fcd897"/><stop offset="0.8873" stop-color="#fcd592"/><stop offset="0.8986" stop-color="#fcd99c"/><stop offset="0.9098" stop-color="#fcd99a"/><stop offset="0.9210" stop-color="#fddba0"/><stop offset="0.9322" stop-color="#fdd794"/><stop offset="0.9435" stop-color="#fdda9e"/><stop offset="0.9547" stop-color="#fddba2"/><stop offset="0.9659" stop-color="#fddba1"/><stop offset="0.9772" stop-color="#fdd99c"/><stop offset="0.9884" stop-color="#fddba0"/><stop offset="0.9984" stop-color="#fddba0"/></linearGradient><linearGradient id="g41" gradientUnits="userSpaceOnUse" x1="714.7" y1="0" x2="1236.3" y2="0"><stop offset="0.0001" stop-color="#fcfcfb"/><stop offset="0.0388" stop-color="#fbf8f6"/><stop offset="0.0451" stop-color="#fbf8f6"/><stop offset="0.0563" stop-color="#faf8f6"/><stop offset="0.0675" stop-color="#faf7f6"/><stop offset="0.0788" stop-color="#faf7f6"/><stop offset="0.0900" stop-color="#f9f7f6"/><stop offset="0.1012" stop-color="#f9f7f6"/><stop offset="0.1124" stop-color="#f9f6f6"/><stop offset="0.1237" stop-color="#f9f7f6"/><stop offset="0.1349" stop-color="#f8f6f6"/><stop offset="0.1461" stop-color="#fcedd5"/><stop offset="0.1474" stop-color="#fde8c8"/><stop offset="0.1574" stop-color="#fde9cb"/><stop offset="0.1686" stop-color="#fde4bd"/><stop offset="0.1798" stop-color="#fde9c9"/><stop offset="0.1911" stop-color="#fde8c9"/><stop offset="0.2023" stop-color="#fdebd0"/><stop offset="0.2135" stop-color="#fde7c6"/><stop offset="0.2247" stop-color="#fdebd0"/><stop offset="0.2360" stop-color="#fde9cb"/><stop offset="0.2472" stop-color="#fdeacc"/><stop offset="0.2584" stop-color="#fde8c9"/><stop offset="0.2697" stop-color="#fde9cc"/><stop offset="0.2809" stop-color="#fde9cb"/><stop offset="0.2846" stop-color="#fde6c4"/><stop offset="0.2921" stop-color="#fce7c7"/><stop offset="0.3034" stop-color="#fbd9aa"/><stop offset="0.3046" stop-color="#fbd8a8"/><stop offset="0.3146" stop-color="#fce3bf"/><stop offset="0.3221" stop-color="#fde6c4"/><stop offset="0.3258" stop-color="#fde3bc"/><stop offset="0.3371" stop-color="#fde3be"/><stop offset="0.3483" stop-color="#fde6c5"/><stop offset="0.3595" stop-color="#fde2bb"/><stop offset="0.3707" stop-color="#fde8c9"/><stop offset="0.3820" stop-color="#fdeacf"/><stop offset="0.3932" stop-color="#fde3bd"/><stop offset="0.4044" stop-color="#fde2bb"/><stop offset="0.4157" stop-color="#fdeacf"/><stop offset="0.4269" stop-color="#fde7c7"/><stop offset="0.4381" stop-color="#fdebd0"/><stop offset="0.4494" stop-color="#fde5c3"/><stop offset="0.4606" stop-color="#fde3bf"/><stop offset="0.4718" stop-color="#fdeacf"/><stop offset="0.4830" stop-color="#fde4c1"/><stop offset="0.4943" stop-color="#fde6c5"/><stop offset="0.5055" stop-color="#fde9cd"/><stop offset="0.5167" stop-color="#fde8cc"/><stop offset="0.5280" stop-color="#fde9cc"/><stop offset="0.5392" stop-color="#fde9cd"/><stop offset="0.5504" stop-color="#fde6c6"/><stop offset="0.5617" stop-color="#fdead1"/><stop offset="0.5729" stop-color="#fde2be"/><stop offset="0.5841" stop-color="#fde7ca"/><stop offset="0.5953" stop-color="#fde7c9"/><stop offset="0.6066" stop-color="#fde4c2"/><stop offset="0.6178" stop-color="#fdead1"/><stop offset="0.6290" stop-color="#fde9ce"/><stop offset="0.6403" stop-color="#fde4c4"/><stop offset="0.6515" stop-color="#fde4c5"/><stop offset="0.6590" stop-color="#fde6c8"/><stop offset="0.6627" stop-color="#feebd3"/><stop offset="0.6740" stop-color="#fffbf5"/><stop offset="0.6852" stop-color="#fffbf5"/><stop offset="0.6964" stop-color="#fffbf5"/><stop offset="0.7076" stop-color="#fffbf5"/><stop offset="0.7189" stop-color="#fffbf5"/><stop offset="0.7301" stop-color="#fffbf5"/><stop offset="0.7413" stop-color="#fffbf5"/><stop offset="0.7526" stop-color="#fffbf5"/><stop offset="0.7638" stop-color="#fffbf5"/><stop offset="0.7750" stop-color="#fffbf5"/><stop offset="0.7863" stop-color="#fffbf6"/><stop offset="0.7975" stop-color="#fffbf5"/><stop offset="0.8087" stop-color="#fffbf4"/><stop offset="0.8162" stop-color="#fffbf5"/><stop offset="0.8199" stop-color="#fef8f0"/><stop offset="0.8287" stop-color="#fdf2e4"/><stop offset="0.8312" stop-color="#fdf3e5"/><stop offset="0.8424" stop-color="#fdf3e5"/><stop offset="0.8536" stop-color="#fdf1e0"/><stop offset="0.8649" stop-color="#fdf2e4"/><stop offset="0.8761" stop-color="#fdf2e5"/><stop offset="0.8873" stop-color="#fdf0e0"/><stop offset="0.8986" stop-color="#fdefdc"/><stop offset="0.9098" stop-color="#fdf0e0"/><stop offset="0.9210" stop-color="#fdf2e6"/><stop offset="0.9322" stop-color="#fdf2e4"/><stop offset="0.9385" stop-color="#fdf0e0"/><stop offset="0.9435" stop-color="#fdecd6"/><stop offset="0.9510" stop-color="#fde4c0"/><stop offset="0.9547" stop-color="#fde2ba"/><stop offset="0.9659" stop-color="#fde0b6"/><stop offset="0.9772" stop-color="#fde1ba"/><stop offset="0.9884" stop-color="#fde8ca"/><stop offset="0.9984" stop-color="#fde4c0"/></linearGradient><linearGradient id="g42" gradientUnits="userSpaceOnUse" x1="714.7" y1="0" x2="1236.3" y2="0"><stop offset="0.0001" stop-color="#fcfcfb"/><stop offset="0.0388" stop-color="#f6f6f8"/><stop offset="0.0451" stop-color="#eeeff5"/><stop offset="0.0476" stop-color="#eceef4"/><stop offset="0.0563" stop-color="#eaecf4"/><stop offset="0.0675" stop-color="#eceef4"/><stop offset="0.0788" stop-color="#eef0f4"/><stop offset="0.0900" stop-color="#eceef4"/><stop offset="0.1012" stop-color="#eceef4"/><stop offset="0.1124" stop-color="#edeff4"/><stop offset="0.1237" stop-color="#f0f1f5"/><stop offset="0.1349" stop-color="#eceef4"/><stop offset="0.1461" stop-color="#f8f6f4"/><stop offset="0.1474" stop-color="#f8f6f4"/><stop offset="0.1574" stop-color="#f7f5f4"/><stop offset="0.1686" stop-color="#f9f6f3"/><stop offset="0.1798" stop-color="#f9f6f3"/><stop offset="0.1911" stop-color="#faf7f3"/><stop offset="0.2023" stop-color="#faf8f3"/><stop offset="0.2135" stop-color="#faf6f1"/><stop offset="0.2247" stop-color="#fbf6f1"/><stop offset="0.2360" stop-color="#fbf7f0"/><stop offset="0.2472" stop-color="#fcf6f0"/><stop offset="0.2584" stop-color="#fcf8f1"/><stop offset="0.2697" stop-color="#fcf7ef"/><stop offset="0.2809" stop-color="#fdf7ee"/><stop offset="0.2846" stop-color="#fdf8f0"/><stop offset="0.2921" stop-color="#fdf8f0"/><stop offset="0.3034" stop-color="#fdf8ef"/><stop offset="0.3146" stop-color="#fdf9f1"/><stop offset="0.3258" stop-color="#fdf9f2"/><stop offset="0.3371" stop-color="#fdf8ef"/><stop offset="0.3483" stop-color="#fcf7f1"/><stop offset="0.3595" stop-color="#fcf7f1"/><stop offset="0.3707" stop-color="#fcf7f0"/><stop offset="0.3820" stop-color="#fcf8f2"/><stop offset="0.3932" stop-color="#fcf7f0"/><stop offset="0.4044" stop-color="#fcf7ef"/><stop offset="0.4157" stop-color="#fcf6ef"/><stop offset="0.4269" stop-color="#fcf8f2"/><stop offset="0.4381" stop-color="#fcf8f2"/><stop offset="0.4494" stop-color="#fcf6ef"/><stop offset="0.4606" stop-color="#fcf6ef"/><stop offset="0.4718" stop-color="#fcf5ef"/><stop offset="0.4830" stop-color="#fbf6f0"/><stop offset="0.4943" stop-color="#fbf6f1"/><stop offset="0.5055" stop-color="#fbf5ef"/><stop offset="0.5167" stop-color="#fbf6f0"/><stop offset="0.5280" stop-color="#fbf5ee"/><stop offset="0.5342" stop-color="#fbf6f0"/><stop offset="0.5392" stop-color="#f9f5f1"/><stop offset="0.5504" stop-color="#f6f5f3"/><stop offset="0.5617" stop-color="#f3f3f4"/><stop offset="0.5716" stop-color="#eceef4"/><stop offset="0.5729" stop-color="#e8eaf2"/><stop offset="0.5841" stop-color="#e5e8f0"/><stop offset="0.5953" stop-color="#dde0eb"/><stop offset="0.5991" stop-color="#d8dce8"/><stop offset="0.6066" stop-color="#dbdfe9"/><stop offset="0.6178" stop-color="#dadde9"/><stop offset="0.6290" stop-color="#d6dae7"/><stop offset="0.6403" stop-color="#dde0ea"/><stop offset="0.6465" stop-color="#dadde8"/><stop offset="0.6515" stop-color="#dbdee9"/><stop offset="0.6627" stop-color="#e4e6ef"/><stop offset="0.6715" stop-color="#e8eaf2"/><stop offset="0.6740" stop-color="#e5e8f1"/><stop offset="0.6852" stop-color="#e5e7f1"/><stop offset="0.6964" stop-color="#e4e7f1"/><stop offset="0.7076" stop-color="#ecedf3"/><stop offset="0.7189" stop-color="#e7e9f1"/><stop offset="0.7301" stop-color="#eceef3"/><stop offset="0.7413" stop-color="#ecedf3"/><stop offset="0.7526" stop-color="#ebedf3"/><stop offset="0.7638" stop-color="#e6e9f2"/><stop offset="0.7750" stop-color="#e7e9f2"/><stop offset="0.7863" stop-color="#e8eaf2"/><stop offset="0.7975" stop-color="#edeef4"/><stop offset="0.8087" stop-color="#eeeff4"/><stop offset="0.8199" stop-color="#e9ebf2"/><stop offset="0.8312" stop-color="#ebedf3"/><stop offset="0.8424" stop-color="#e8ebf2"/><stop offset="0.8536" stop-color="#e9ecf3"/><stop offset="0.8649" stop-color="#edeff3"/><stop offset="0.8761" stop-color="#eceef3"/><stop offset="0.8873" stop-color="#eaecf2"/><stop offset="0.8986" stop-color="#eceef3"/><stop offset="0.9098" stop-color="#f0f1f4"/><stop offset="0.9210" stop-color="#eeeff4"/><stop offset="0.9322" stop-color="#ebeef4"/><stop offset="0.9435" stop-color="#eceff4"/><stop offset="0.9547" stop-color="#ebedf3"/><stop offset="0.9659" stop-color="#ebeef4"/><stop offset="0.9772" stop-color="#edeff4"/><stop offset="0.9884" stop-color="#edeff4"/><stop offset="0.9984" stop-color="#eef0f4"/></linearGradient><linearGradient id="g43" x1="0" y1="0" x2="0" y2="1"><stop offset="0.0082" stop-color="#dd3a2c"/><stop offset="0.1082" stop-color="#e05228"/><stop offset="0.2082" stop-color="#e87a2a"/><stop offset="0.2582" stop-color="#f0902a"/><stop offset="0.3032" stop-color="#f7a81a"/><stop offset="0.3582" stop-color="#f9b828"/><stop offset="0.4032" stop-color="#fbc955"/><stop offset="0.4482" stop-color="#fde3a0"/><stop offset="0.4782" stop-color="#fff0d0"/><stop offset="0.5082" stop-color="#fefdfa"/><stop offset="0.6082" stop-color="#d8d9e6"/><stop offset="0.7132" stop-color="#a9aec8"/><stop offset="0.8132" stop-color="#7981a6"/><stop offset="0.9232" stop-color="#47578a"/><stop offset="1.0000" stop-color="#23356d"/></linearGradient></defs><rect width="1729" height="2300" fill="#fff"/><text x="0.0" y="21.6" font-weight="bold" class="b" font-size="29">a</text>
<text x="165.5" y="21.6" font-weight="bold" class="b" font-size="29">b</text>
<text x="620.0" y="21.6" font-weight="bold" class="b" font-size="29">c</text>
<text x="1369.3" y="21.6" font-weight="bold" class="b" font-size="29">d</text>
<text x="13.3" y="66.0">MF1 amacrine</text>
<text x="13.3" y="89.7">(A18; TH-IR)</text>
<text x="13.3" y="390.7">MF2 amacrine</text>
<text x="13.3" y="414.0">(A13)</text>
<text x="13.3" y="715.0">MF3 amacrine</text>
<text x="13.3" y="739.5">(Diffuse multi-</text>
<text x="13.3" y="763.0">stratified)</text>
<text x="13.3" y="1053.3">MF4 amacrine</text>
<text x="13.3" y="1373.2">MF5 amacrine</text>
<text x="13.3" y="1397.7">(AB broad</text>
<text x="13.3" y="1421.2">diffuse-2)</text>
<text x="13.3" y="1708.0">A-type</text>
<text x="13.3" y="1731.4">starburst</text>
<text x="13.3" y="1755.6">amacrine</text>
<text x="13.3" y="1780.0">(SACa)</text>
<text x="14.8" y="2026.0">B-type</text>
<text x="14.8" y="2050.6">starburst</text>
<text x="14.8" y="2074.8">amacrine</text>
<text x="14.8" y="2098.2">(SACb)</text>
<rect x="206.5" y="72.3" width="363.2" height="5.6" fill="#fff" stroke="#231f20" stroke-width="0.9"/>
<rect x="297.2" y="72.3" width="91.3" height="5.6" fill="#231f20"/>
<rect x="478.5" y="72.3" width="91.2" height="5.6" fill="#231f20"/>
<text x="207.0" y="67.0">ON</text>
<text x="297.7" y="67.0">OFF</text>
<rect x="203.5" y="396.0" width="362.2" height="5.6" fill="#fff" stroke="#231f20" stroke-width="0.9"/>
<rect x="294.0" y="396.0" width="91.0" height="5.6" fill="#231f20"/>
<rect x="475.0" y="396.0" width="90.7" height="5.6" fill="#231f20"/>
<text x="204.0" y="390.7">ON</text>
<text x="294.5" y="390.7">OFF</text>
<rect x="208.5" y="726.2" width="362.5" height="5.6" fill="#fff" stroke="#231f20" stroke-width="0.9"/>
<rect x="299.4" y="726.2" width="90.2" height="5.6" fill="#231f20"/>
<rect x="480.2" y="726.2" width="90.8" height="5.6" fill="#231f20"/>
<text x="209.0" y="720.8">ON</text>
<text x="299.9" y="720.8">OFF</text>
<rect x="203.5" y="1051.5" width="362.2" height="5.6" fill="#fff" stroke="#231f20" stroke-width="0.9"/>
<rect x="294.0" y="1051.5" width="91.0" height="5.6" fill="#231f20"/>
<rect x="475.0" y="1051.5" width="90.7" height="5.6" fill="#231f20"/>
<text x="204.0" y="1046.0">ON</text>
<text x="294.5" y="1046.0">OFF</text>
<rect x="208.5" y="1380.4" width="362.5" height="5.6" fill="#fff" stroke="#231f20" stroke-width="0.9"/>
<rect x="299.4" y="1380.4" width="90.2" height="5.6" fill="#231f20"/>
<rect x="480.2" y="1380.4" width="90.8" height="5.6" fill="#231f20"/>
<text x="209.0" y="1374.3">ON</text>
<text x="299.9" y="1374.3">OFF</text>
<rect x="207.8" y="1708.0" width="347.0" height="5.6" fill="#fff" stroke="#231f20" stroke-width="0.9"/>
<rect x="294.4" y="1708.0" width="87.3" height="5.6" fill="#231f20"/>
<rect x="468.3" y="1708.0" width="86.5" height="5.6" fill="#231f20"/>
<text x="208.3" y="1702.6">ON</text>
<text x="294.9" y="1702.6">OFF</text>
<rect x="202.7" y="2032.6" width="362.6" height="5.6" fill="#fff" stroke="#231f20" stroke-width="0.9"/>
<rect x="293.3" y="2032.6" width="90.9" height="5.6" fill="#231f20"/>
<rect x="474.4" y="2032.6" width="90.9" height="5.6" fill="#231f20"/>
<text x="203.2" y="2026.0">ON</text>
<text x="293.8" y="2026.0">OFF</text>
<rect x="202.7" y="746" width="20.3" height="152.3" fill="#d1d3d4"/>
<path d="M808 971l1 18 0 7 1-1 0-14 1 25 0-2 1 1 1-1 1 8 0-35 1 5 0 19 1-32 1 21 0-8 1 9 0 6 1-24 0 11 1-2 1 14 0-4 1 24 0-24 1 24 0-25 1 5 1-6 0-2 1-15 0 15 1 0 0-2 1 5 1-15 0 7 1-3 0-11 1 23 0-11 1 6 1 26 0-21 1-1 0 9 1 1 0 5 1-27 1 23 0-24 1-15 0-1 1 18 0-6 1 4 1-24 0 8 1-9 0-7 1 19 0 15 1-7 1-37 0 6 1-33 0-5 1-10 0-29 1-21 1 15 0-11 1-4 0 11 1-10 0 4 1-18 1 15 0-20 1 5 0-17 1 31 0-13 1 1 1-28 0 15 1-11 0 12 1-35 0 17 1 5 1-25 0 14 1-13 0 10 1 1 0 6 1-17 1-14 0 10 1-9 0 8 1-24 0 16 1-18 1-4 0 5 1-20 0-3 1 6 0-13 1-5 1-7 0-2 1 10 0 9 1-38 0 30 1-8 1 6 0-11 1-11 0 4 1-10 0-11 1 15 1 3 0-5 1 4 0-20 1 25 0-15 1 1 1 8 0-13 1 33 0-17 1-3 0-15 1-11 1 15 0-12 1 12 0 1 1 9 0-11 1-6 1 12 0-15 1-1 0 4 1 23 0-15 1-8 1-16 0 9 1 16 0 4 1 12 0-24 1 13 1 9 0-39 1 50 0-36 1 0 0 22 1-6 1 8 0-6 1-2 0-3 1-6 0 15 1-29 1 17 0 10 1-20 0 24 1 4 0-8 1-1 1 7 1-11 0 24 1-6 0-5 1 6 1 0 0-29 1 42 0-44 1 17 0-14 1 19 1-1 0-1 1-33 0 39 1-6 0-26 1 38 1-17 0-6 1 13 0-9 1 12 0-6 1-3 1-1 0 23 1-7 0-10 1 2 0-4 1 32 1-20 0-1 1 17 0-21 1-3 0 6 1 4 1-7 0-3 1 6 0-4 1-4 0 22 1-10 1-1 0 8 1-2 0-18 1 4 0-6 1 4 1 18 0-8 1-4 0-4 1 28 0-17 1 8 1-2 0-9 1 15 0-5 1 10 0-10 1-22 1 12 1 0 0-12 1-4 0 19 1 8 1-14 0 35 1-13 0-13 1 27 0-39 1 6 1-1 0 23 1-22 0 14 1-7 0-8 1 11 1-11 0 25 1-18 0 1 1 16 0-15 1 23 1-7 0-35 1 18 0-2 1 27 0-27 1 2 1 7 0 2 1-7 0 13 1-8 0-4 1 26 1-13 0-13 1-3 0 11 1-11 1 27 1-11 0-3 1 9 0-7 1 6 0 17 1-21 1-7 0-6 1 19 0-9 1 5 0-22 1 15 1 7 0 8 1 2 0-3 1 18 0-15 1-25 1 5 0 11 1 2 0-15 1 4 0 20 1 1 1 1 0 3 1-7 0-8 1 24 1-1 0 9 1-13 0-3 1 2 1-24 1 17 0-3 1 7 0-1 1-7 0-2 1-10 1 16 0-9 1 1 0 15 1 0 0-13 1 24 1-10 0-7 1-10 0 1 1 22 0-29 1 41 1-11 0-11 1 21 0-15 1-16 0 8 1-4 1 0 0 35 1-20 0-3 1 10 0-3 1-13 1-3 0-9 1 33 0-13 1 12 0-11 1-15 1 9 0 24 1-21 0 13 1-32 0 16 1 17 1-34 0 32 1-17 1 24 0-19 1 19 1-14 0 10 1 8 0 1 1-16 0-24 1 43 1-24 0 21 1-21 0 8 1 8 0 1 1 22 1-40 0 11 1 7 0-1 1-7 0-1 1 7 1-17 0 1 1 7 0 11 1-21 0 38 1-23 1-2 0 3 1-9 0 1 1 6 0 7 1 2 1-12 0 1 1 9 0-24 1 20 0 14 1 8 1-18 0-13 1 9 0 20 1 9 0-23 1-13 1 19 0 8 1 1 0-6 1 22 0-26 1 32 1-43 0 28 1-5 0-5 1-18 0 8 1-10 1 15 0 3 1 5 0-19 1 6 0-14 1 24 1-13 0 23 1-18 0 11 1-10 0 4 1-1 1-10 0 22 1-18 0 24 1-41 0 21 1 15 1 1 0-29 1 26 0 2 1 2 0-6 1-6 1 10 0 3 1 4 0-13 1-9 0 16 1-23 1 9 0 3 1 8 0 2 1 19 0-13 1 5 1-12 0-5 1 8 0-2 1 28 0-7 1-6 1-9 0-11 1 10 0-5 1-3 0 11 1 13 1 2 0-25 1 3 0 2 1-9 0 22 1-7 1-3 0 6 1-10 0 2 1 16 0-3 1-8 1-16 0 44 1-21 0 6 1-21 0 18 1 2 1-4 0 8 1-34 0 29 1-19 0-2 1 6 1 7 0-1 1-5 0 13 1 27 0-22 1-11 1 18 0-4 1-18 0 22 1-29 0 19 1 14 1-34 0 8 1-3 0 25 1-21 0 7 1 5 1 5 0-3 1-19 0-12 1 33 0-9 1 8 1-12 0 10 1 17 0-29 1 14 0-16 1 31 1-15 0-14 1-8 0 17 1 0 0-3 1 16 1-26 0 18 1 8 0-23 1 18 0 9 1-30 1 8 0-8 1 18 0 15 1-35 0 18 1 32 1-32 0 17 1 2 0-10 1 15 0-7 1-7 1-4 0 14 1-13 0-10 1 4 0 10 1 3 1-19 0 26 1-21 0-6 1 17 0 6 1 7 1-23 0 9 1 17 0-9 1 14 0-5 1-25 1 6 0 17 1-37 0 36 1-9 0-7 1 36 1-33 0 3 1 4 0-1 1 10 1-29 1 40 0-2 1-2 0-6 1-23 0 24 1-12 1-4 0 14 1 8 0-18 1-1 0 19 1 6 1-15 0 9 1-3 0 13 1-12 0-20 1 14 1 26 0 4 1-1 0-18 1-9 0 15 1-10 1 0 0-4 1 14 0-11 1 8 0 26 1-21 1 13 0-12 1 2 0-3 1 22 0-21 1-1 1-3 0-9 1 18 0-23 1-9 0 18 1-1 1-23 0 10 1-15 0-27 1-15 0 18 1-13 1-3 0-36 1 14 0-23 1-8 0 5 1-34 1-14 0-8 1 5 0 31 1 1 0 20 1 6 1 40 0 1 1 21 0-11 1 12 0 7 1 7 1 37 0-43 1 48 0 1 1-15 0 10 1 21 1-9 0-16 1 12 0 19 1-29 0 20 1-22 1 9 0-18 1-6 1-26 0 22 1-37 1 16 0-19 1 3 0-3 1-26 0-16 1-5 1-9 0-7 1-25 0 7 1-36 0-3 1 13 1-34 0-4 1-9 0-6 1 12 0-28 1-24 1 6 0-3 1-15 0-5 1 17 0-10 1 9 1-20 0-22 1 1 0-8 1-8 0 7 1-33 1 11 0 12 1-34 0 15 1-12 0-21 1 5 1 22 0-26 1 5 0-5 1-14 0 22 1-6 1-10 0-11 1-13 0-5 1 18 0-34 1 33 1-9 0-1 1-9 0-17 1-4 0 3 1 3 1 8 0-10 1 2 0-14 1 17 0-5 1 15 1-9 0-10 1-11 0 29 1-27 0 13 1 8 1-1 0-19 1 2 0 23 1-6 0 25 1-42 1-9 0 5 1 4 0 7 1 9 0 1 1-6 1-5 0 11 1-9 0 15 1-15 0-4 1 20 1 0 0 7 1-25 0 23 1 5 0-12 1-12 1 8 0 8 1-5 1 10 0 11 1-4 1-27 0-11 1 34 0-4 1-17 0-18 1 32 1-22 0-3 1 8 0 7 1-13 0 6 1 16 1 2 0-17 1 41 0-11 1-6 0 2 1-29 1 23 0 5 1-4 0 3 1 3 0 10 1-5 1-16 0 20 1-14 0 10 1 2 0-4 1-3 1 5 0 1 1-30 0 24 1-8 0 24 1-15 1-9 0 15 1-2 0 7 1-26 0 20 1-5 1 28 0-5 1-9 0 3 1 2 0-3 1-4 1-4 0 26 1-23 0 16 1 5 0-3 1-6 1 8 0-10 1 0 0 24 1-1 0 4 1-15 1-23 0 17 1 1 0 22 1-15 0 22 1-6 1 1 0-1 1 3 0-19 1 24 0-31 1 9 1 0 0 19 1-13 0 32 1-27 0 40 1-22 1 0 0-6 1 5 0-17 1-6 0 26 1 0 1-7 0 2 1 4 0 7 1 10 0-11 1 9 1 11 0-13 1 11 0-12 1 9 0-2 1 17 1-14 0-6 1 18 0-7 1 21 0-10 1-8 1-7 0 14 1 0 0 4 1 7 0 39 1-43 1 13 0 7 1 3 0-16 1 4 0-7 1 26 1-28 0 12 1-10 0 17 1-13 0 27 1-21 1 8 0 2 1 6 0-10 1-11 1-1 0 20 1 16 0 2 1-3 0 10 1-7 1 2 0 9 1 11 0 1 1-10 0-20 1 8 1-19 0 39 1-11 0 17 1 1 0-15 1 11 1-5 0-13 1 23 0-2 1 2 0 17 1-26 1-4 0 29 1 4 0-5 1-4 0 3 1 1 1-1 0-4 1 17 0-19 1-8 0 15 1-6 1 0 0 19 1-17 0 3 1 4 0-4 1 4 1 1 0-8 1 2 0 39 1-17 0-5 1 13 1 0 0 3 1-1 0 3 1-1 0 22 1-23 1 7 1-25 0 33 1-7 0-20 1 37 1-3 0-5 1-9 0-2 1 8 0-3 1 15 1-5 0 4 1-9 0-3 1 2 0 3 1 4 1 8 0-1 1-3 0 25 1-25 0 4 1-2 1 17 0 3 1-5 0 12 1-3 0-21 1 0 1 3 0 10 1-10 0-9 1 12 0 10 1 2 1 4 0-1 1 4 0-4 1-6 0-5 1 15 1 7 0-11 1 2 0 15 1 11 0-2 1-20 1-2 0 5 1 4 0 2 1-22 0 36 1-2 1-11 0 12 1-11 0 7 1 16 0-30 1 10 1 2 0 3 1 8 0-3 1 21 0-28 1 19 1-12 0 7 1-6 0-1 1-1 0 5 1-7 1 4 0-20 1 21 0-6 1 7 0-4 1 21 1-13 0 1 1 15 0-24 1 13 0-16 1 6 1 2 0 30 1-24 0 18 1-2 0 8 1-18 1-12 0 2 1 31 0-6 1 12 0 3 1-11 1-3 0 8 1-20 0 11 1 3 0 8 1-27 1-1 0 33 1-5 0-9 1 1 0 8 1-15 1 9 0 20 1 1 0 7 1-11 0 9 1-29 1 0 0-19 1 15 0-5 1 29 0 4 1-20 1 0 0 29 1 3 0-27 1 16 0 13 1-13 1 15 0-15 1 4 0-5 1-19 0 17 1-7 1 21 0-27 1 15 0 3 1 8 0-5 1 24 1-14 0-1 1 1 0 8 1-29 0 6 1 8 1-6 0 14 1-17 0 45 1-15 0-3 1-13 1 19 0 1 1-15 0 5 1-14 0 18 1-2 1 12 0-5 1 9 0-13 1 5 0-4 1 2 1-7 0 6 1-6 0 18 1-7 0-2 1-4 1 17 0-8 1 6 0-11 1 9 0-12 1 0 1 0 0 23 1-17 0 14 1-25 0 13 1-9 1 11 0 16 1 2 0-21 1 19 0 3 1-10 1-3 0-4 1 13 0-14 1 14 0 5 1-8 1-6 0 19 1-13 0-15 1 13 0 7 1-9 1 13 1 4 0-6 1 1 0 19 1-7 1 0 0 1 1-5 0-1 1 0 0-2 1-6 1 16 0-4 1-5 0 14 1 13 0-29 1 12 1 10 0-30 1 15 0-2 1-5 0 24 1-8 1-9 0-12 1 18 0-10 1 16 0-8 1 7 1 13 0-7 1-11 0 2 1-8 0 19 1-16 1 6 0-6 1 19 0 21 1-23 0 1 1-2 1 4 0 2 1 21 0-11 1-8 0-10 1 26 1-10 0-14 1 10 0-2 1 14 0-4 1-9 1 13 0 14 1-14 0-8 1-2 0 31 1-10 1-22 0 16 1 7 0-4 1-12 0 7 1-16 1 22 0 3 1 11 0-14 1-8 0 18 1-11 1-19 0-19 1 2 0 15 1-2 0-4 1 8 1 8 0-13 1-6 0-1 1-18 0 26 1-13 1 11 0-26 1 7 0-18 1 10 0 18 1-32 1-1 0-5 1 5 0-18 1 2 0-12 1 40 1-39 0 1 1-15 0 10 1-7 0-19 1 51 1-36 0-1 1 8 0-38 1 14 0-17 1 4 1 1 0-22 1 17 0 6 1-16 0 11 1-6 1 16 0-19 1 3 0-5 1-5 0 20 1-14 1-3 0 1 1 11 0-35 1 23 0-26 1 9 1 9 0 5 1-23 0 21 1-6 0 17 1-40 1 19 0-10 1 1 0 4 1-8 0 8 1-8 1-16 0 33 1-28 0-23 1 13 0-1 1-7 1-3 0 17 1-19 0 2 1-1 0 2 1-2 1 11 0 12 1-9 1-8 1-10 1 37 0-21 1-6 0 13 1-2 0 15 1-8 1-18 0 5 1-5 0 7 1-15 0 35 1-14 1-1 1 3 0-17 1 10 0 17 1 0 1-25 0 7 1 1 0-17 1 12 0 6 1 7 1-6 0-13 1 14 0-5 1 19 0 1 1-13 1 22 0-16 1 8 0 12 1-8 0-11 1 3 1 26 0-32 1 7 0-16 1 19 0-10 1 16 1-17 0 16 1-6 0 2 1 2 0 2 1-19 1-11 0 19 1 9 0-18 1 26 0-19 1 13 1 1 0 2 1 15 0-28 1 1 0 4 1 7 1-12 0 25 1-13 1-3 0 15 1 6 1-40 0 33 1-17 0 15 1-4 1-6 1-4 0 14 1-19 0 26 1-8 0-22 1-3 1 36 0-16 1-8 0 25 1-7 0 5 1-6 1 0 0 5 1 2 0-29 1 21 0 9 1 2 1-17 0-1 1-10 0-12 1 12 0 12 1-5 1 14 0-19 1 10 0-8 1 5 0-11 1 7 1 1 0 4 1 18 0-34 1 24 0-15 1 10 1-4 0 1 1 15 0-21 1 22 0-28 1 16 1-2 0-5 1 17 0-9 1 15 0-16 1 11 1-1 0 16 1-16 0-12 1-11 0 16 1 15 1-7 0-14 1 10 0 3 1-10 0 3 1-1 1 3 0 12 1-36 0-1 1 41 0-15 1 18 1 4 0-21 1 2 0 14 1 1 0-6 1 6 1-12 0 7 1-11 0 12 1-15 0 8 1 2 1-26 0 42 1-33 0 16 1 0 0 3 1-21 1 29 0-2 1 1 0 3 1 10 0-17 1-4 1 16 0-24 1 7 0-7 1 23 1-10 0 14 1-3 0-18 1 10 0-10 1-8 1 21 0-10 1 11 1 19 0-19 1-2 1 3 0-11 1 13 0 4 1-9 0-5 1 6 1 17 0-17 1 6 0-9 1-1 0 16 1-26 1 34 0-12 1 6 0-14 1-7 0-14 1 19 1 15 0-2 1 4 0-12 1 5 0 18 1-25 1 1 0 30 1-12 0 2 1-16 0-7 1 10 1 7 0 12 1 6 0-23 1 11 0-14 1 2 1 1 0-8 1 1 0 37 1-36 0 29 1-24 1 11 0-20 1 38 0-14 1-20 0 17 1 9 1-20 0 31 1-17 0 4 1-14 0 14 1 17 1-12 0-6 1-6 0 4 1 19 0-12 1-8 1 23 0-12 1 18 1-16 0-13 1 6 1 17 0-1 1-10 0 9 1-9 0-20 1 23 1-8 0 2 1-4 0 25 1-15 0-13 1 13 1 25 0-22 1-5 0 11 1 2 0-1 1-10 1 4 0 1 1 11 0-10 1 8 0 29 1-30 1 0 1-13 0 20 1-17 0 27 1-21 1 27 0-20 1 13 0-15 1 15 0 1 1-21 1 0 1 3 0 1 1 2 0 2 1-11 1 5 0-2 1-3 0 19 1-18 0 4 1 1 1-1 0-5 1 6 0 24 1-32 1 18 1-25 0 21 1-12 0-1 1-4 0 25 1-20 1 13 0-8 1 12 0-14 1 25 0-10 1 5 1-31 0 17 1 9 0-4 1-19 0 2 1 9 1 2 0 17 1-6 0-23 1 21 0-1 1 0 1-12 0-7 1-2 0 17 1-20 0 7 1 22 1 0 0-5 1-13 0 20 1-34 0 8 1 10 1 9 0-22 1 24 0-12 1 1 0-3 1 21 1-21 0-7 1 23 0 4 1-5 0-28 1 32 1-10 0-5 1 20 0 8 1-28 0 9 1-11 1 8 0-3 1 8 0-12 1-11 0 22 1 0 1 14 0-24 1 15 0 18 1-22 0 10 1-8 1 0 0-16 1-5 0-4 1 7 0 15 1 7 1-21 0 8 1 6 0-27 1 15 0 16 1-9 1-4 0 3 1-2 0 18 1-5 0-3 1 18 1 4 0-7 1 4 0-11 1-3 0 9 1-1 1-26 0 15 1-7 0-2 1-3 0 1 1 4 1 14 0 1 1 2 0-19 1-8 0 8 1 37 1-36 0-5 1-3 0 19 1 10 0-19 1 20 1-23 1 10 0 19 1-15 0-4 1 3 1 10 0-13 1-7 0-29 1 10 0 2 1 0 1-1 0-26 1 21 0-27 1 16 0-49 1 16 1-17 0 12 1-35 0-34 1 18 0-3 1 11 1 38 0 8 1 9 0 14 1 19 0 30 1 23 1-18 0 2 1-12 0 3 1 8 0-20 1 5 1-8 0 19 1-27 0 2 1 2 0-36 1 30 1-12 0 2 1-13 0 13 1-21 0-6 1 2 1-18 0-43 1-6 0-6 1-14 0-6 1 0 1-12 0-12 1-7 0-35 1-6 0 12 1-31 1-8 0 5 1-12 0 5 1 13 0-17 1-7 1-19 0-12 1 19 0-42 1 4 0 24 1-22 1-17 0 24 1-22 0 2 1 9 0-22 1-19 1 19 0 15 1-13 0-2 1-16 0 9 1 11 1-7 0-18 1 12 0-17 1 17 0-32 1 15 1-28 0 20 1 35 0-40 1 17 0-12 1 11 1-21 1 3 1-4 0 2 1-18 1 13 0 5 1-25 0-2 1 20 0-7 1 8 1-21 0 6 1 9 0-14 1 10 0-2 1-8 1 7 0-5 1-2 0 7 1 27 0-15 1 7 1-10 0-1 1 1 0-25 1 0 0 4 1 27 1-5 0-18 1 7 0 15 1-11 0 22 1-14 1-9 0 7 1 7 0-5 1-8 0 17 1 1 1-9 0 8 1-1 0-5 1-23 0-3 1 21 1 7 0-6 1-8 0 15 1-13 0 3 1 8 1 8 0-1 1-11 0 1 1 13 0-37 1 23 1 7 0 7 1-6 0-5 1 18 0-23 1 0 1 18 0-16 1-5 0-1 1 16 0-31 1 17 1 7 0 3 1-24 0 19 1 11 0-14 1 2 1-10 0 30 1 1 0-1 1-22 0 8 1 5 1 9 0-23 1 22 0-3 1 9 0 1 1-13 1 12 0-9 1-10 0 17 1-21 0 35 1-7 1-10 0 13 1-9 0 7 1-14 0 21 1-23 1 5 0 41 1-18 0-13 1 20 0-20 1 14 1-8 0 3 1 8 0 7 1 8 0-11 1-13 1 24 0-1 1 12 0-12 1 15 0-10 1-13 1 10 0-1 1 24 0-28 1 11 0 9 1-19 1 21 0-28 1 31 0-6 1-4 0 5 1-10 1 25 0 1 1-19 0 17 1-5 0 1 1-12 1 35 0-7 1-18 0 4 1 19 0-22 1-1 1 9 0 6 1-5 0 5 1 12 0-15 1-2 1 7 0-23 1 10 0 16 1-12 0 15 1-3 1 6 0-13 1 1 1 32 0-17 1 7 1 6 0 2 1-17 0-12 1 10 0 6 1-2 1 5 0-18 1 15 0-5 1 26 0-20 1-7 1 27 0 12 1-3 1 0 0-4 1-1 1-10 0 17 1 9 0-1 1-24 0 26 1-14 1 9 0 8 1-14 0 10 1 10 0-19 1 2 1 7 0-25 1 4 0 15 1-4 0 12 1 26 1-6 0 8 1-20 0 20 1-9 0 14 1-20 1 8 0 1 1 16 0-13 1-12 0 15 1 21 1-26 0-6 1 13 0 17 1-26 0 6 1 35 1-29 1 6 0 1 1-8 0 7 1-12 1 26 1 24 0-29 1 3 0-2 1 4 1 11 0 3 1-16 0 2 1-7 1 18 0-20 1 5 0 11 1 7 0-12 1 10 1 4 0 7 1-14 0-2 1 26 0-10 1 12 1-1 0-8 1 7 0-26 1 8 0 13 1 15 1-7 0-7 1-6 0 28 1-26 0 15 1 0 1-4 0 4 1 1 0 15 1-26 0 8 1-6 1 27 0-6 1-5 0-1 1-4 0 8 1 7 1 1 0-4 1 13 0-7 1-23 0 38 1-17 1-1 0 13 1-5 0-3 1 2 0 7 1-5 1-1 0-9 1 26 0-23 1 5 0 13 1-9 1 10 0-15 1 14 0 11 1 8 0-14 1 9 1 5 0 20 1-33 0 27 1-28 0 12 1 9 1-24 0 22 1-20 0 28 1-1 0 22 1-13 1 4 0-9 1 12 0-22 1-7 0 8 1 8 1 1 0-6 1-3 0-12 1 1 0 16 1 10 1 12 0-2 1-3 0-10 1-9 0 15 1-2 1 2 0 14 1-13 1 4 0 1 1-1 1 10 0-27 1 35 0-20 1-6 0 24 1-34 1 25 0-25 1 35 0-20 1 39 0-45 1 32 1-18 0 4 1-3 1 3 0 20 1-6 1 2 0-16 1 14 0 9 1-18 0 22 1 7 1-10 0-3 1 3 0-14 1 19 0 11 1-19 1 7 0-5 1 2 1-2 0 21 1-13 1 3 0 3 1-13 0 20 1-2 0 7 1-29 1 20 0 13 1-31 0 14 1-6 0 15 1 3 1-2 0-7 1 8 0-15 1 22 0-12 1-20 1 20 0 7 1-32 0 56 1-34 0-13 1 34 1 7 0-4 1-7 0-5 1 21 0-14 1-28 1 31 0 3 1-30 0 4 1 34 0-14 1-5 1 1 0 16 1-16 0-10 1 18 0-8 1 3 1-1 0-24 1 22 0-1 1 6 0 2 1 2 1 1 0 10 1-6 0 16 1-21 0 2 1 26 1-14 0-4 1-15 0 19 1-22 0 8 1 4 1 17 0-4 1-8 0 3 1-8 0 11 1-8 1 9 0 2 1-29 0 5 1-11 1 19 1 3 0 15 1 13 0-28 1 19 0 1 1-9 1-28 0 7 1 2 0 15 1 11 0-27 1 7 1 8 0 8 1-10 0 24 1-7 0 7 1-26 1 18 0-23 1 21 0-1 1 5 0 1 1 0 1-12 0 24 1-38 0 33 1-13 0-5 1-7 1 6 0 1 1-20 0 30 1-21 0 8 1-8 1 40 0-22 1 6 0-3 1 2 0-1 1-7 1 31 0-10 1-20 0 18 1-12 0-6 1-1 1 15 0-10 1 8 0 9 1-14 0 8 1-8 1 25 0-21 1 15 0-3 1-2 0-17 1 4 1 18 1-18 0-17 1 33 0-8 1 11 1 7 0-3 1-10 0-15 1 39 0-3 1-10 1 6 0-4 1-5 0-3 1 3 0-8 1 6" transform="scale(0.25)" fill="none" stroke="#231f20" stroke-width="5.6" stroke-linejoin="round"/>
<path d="M808 2142l1-22 0 44 1 2 0-17 1 14 0 25 1-8 1-2 0 2 1-23 0 32 1-44 0 22 1-3 1-22 0 27 1 29 0-34 1-15 0 18 1 14 1-14 0-5 1-25 0 33 1 0 0 17 1 4 1-12 0-38 1 3 0 4 1 22 0-20 1 33 1-18 0 3 1 9 0-5 1-27 0 67 1-15 1 2 0-40 1-20 0 4 1 5 0 30 1-2 1 6 0 10 1-28 0-4 1-12 0 1 1-11 1 31 1-9 0-4 1 22 0 14 1-21 1 1 0-16 1 4 0-2 1 1 0-4 1 18 1 16 0-36 1 41 0-29 1 1 0-30 1-4 1 52 0-33 1 31 0-14 1 3 0 19 1-22 1-51 0 28 1 48 0 18 1-34 0-11 1-13 1 31 0-39 1 10 0 25 1 2 0-3 1 24 1-36 0 1 1 14 0 9 1-8 0 39 1-44 1 21 0-21 1 15 0-12 1 1 0 34 1-32 1 35 0-42 1 3 0 26 1-62 0 13 1 29 1 9 0 4 1-14 0-17 1 38 0-8 1-29 1 17 0 25 1-31 0-24 1 12 0 2 1 14 1 11 0-29 1 6 0 29 1-5 0 11 1-49 1 8 0 32 1-34 0 20 1-7 0-14 1 36 1-26 0-10 1 6 0 8 1-30 0 14 1-3 1-10 0 57 1 11 0-1 1-49 0 39 1 7 1-20 0 25 1-32 0 1 1 4 1-7 1 31 0-37 1 9 0-4 1 48 0-54 1 22 1 21 0-52 1 6 0 7 1-17 0 44 1-29 1 26 0-9 1-9 0 14 1-22 0 23 1-40 1 9 0 35 1-55 0 45 1-13 0-1 1-1 1 36 0-46 1 41 0-6 1-15 0 5 1 13 1-23 0-15 1 31 0-18 1 7 1 7 0 10 1 16 0-26 1-5 0 12 1-7 1-31 0 21 1-8 0 34 1 11 0-15 1-23 1 29 0-30 1 20 0-26 1-4 1 23 1-12 0 19 1-29 0 29 1-19 0 32 1-3 1-20 0 7 1 4 0 6 1-11 0 23 1-27 1-25 0 34 1-9 0 13 1-7 0-10 1-1 1 0 0-11 1-7 0 8 1 14 0-35 1 31 1-8 0 15 1-10 0 16 1-3 0 26 1-28 1 0 0 2 1-34 0 9 1 40 0-17 1-8 1 16 0-21 1-2 0-1 1-24 0 46 1-20 1 3 0-2 1-4 0-25 1 42 0 34 1-19 1-22 0-11 1 16 0 6 1-8 0 16 1-31 1 34 0-17 1-13 0 4 1 9 0 7 1-11 1 9 0 32 1-67 0-6 1 36 0-16 1 18 1-28 0 31 1 21 0-3 1-36 0 13 1 21 1 16 0-47 1 3 0 34 1-25 0-11 1 35 1-46 0 16 1 27 0-27 1 23 0-34 1 33 1-5 0 18 1-32 0-2 1 4 0 21 1-29 1 13 0 37 1-18 1-20 0 22 1-36 1-7 0 7 1 38 0-22 1-18 0 10 1 15 1 14 0-46 1 51 0-7 1-28 0 3 1 14 1-14 0 5 1-21 0-13 1 71 0-37 1 1 1 6 0 15 1-6 0-32 1 17 0 3 1 13 1-23 0 17 1-1 0 21 1-65 0 48 1 6 1 7 0-12 1-15 0 23 1-8 0-22 1-9 1 33 0-24 1 27 0 15 1-22 1-3 1 19 0-2 1-25 0 9 1-13 0-10 1 21 1-14 0-13 1-11 0 42 1-33 0-3 1 14 1 18 0-39 1 41 0-2 1-25 0 3 1 18 1 36 0-36 1 22 0-2 1-42 0 27 1 18 1-23 0 31 1-37 0-6 1 19 0 17 1-18 1 20 0-42 1 15 0 32 1-65 0 47 1-21 1 2 0 7 1-21 0 39 1-7 0 10 1-17 1-18 0 29 1-31 0 9 1 52 0-16 1-11 1 17 0-31 1 15 0-25 1 7 0 6 1 24 1-36 0 30 1-17 0-28 1-2 0 21 1 29 1-14 0 25 1-29 0 19 1-21 0-20 1 27 1-25 0-10 1 11 0 8 1 12 0 10 1-4 1 23 0-70 1 27 0 44 1-52 0-17 1 9 1-3 0 10 1 39 0-50 1 13 0 36 1-18 1 1 0-12 1 22 0-34 1 33 0-15 1-5 1-5 0 26 1-9 0-9 1 11 0-19 1 40 1 3 0-4 1-15 0 3 1-33 0 16 1 2 1 3 0 13 1-18 0-4 1 32 0-27 1-8 1-25 0 10 1 18 0 10 1-33 0 32 1 8 1-11 0 12 1 23 0-37 1-17 0 21 1-10 1 13 0 12 1 5 0-8 1 19 0-16 1 12 1-11 0-2 1-15 0 7 1-12 0 2 1 5 1 17 0-24 1 15 0-28 1 19 0 31 1-13 1-34 0 31 1-4 0-17 1-11 0 12 1-4 1 29 0-2 1-1 0 5 1-57 0 30 1 8 1-18 0 1 1-3 0 18 1-1 0 25 1-12 1-1 0-2 1-11 0 15 1 12 0-7 1-28 1-10 0 35 1-11 0 1 1-22 0 27 1-1 1-15 0 15 1-23 0 17 1-30 0 31 1 48 1-28 0 18 1-20 0-5 1-1 0-10 1 19 1-25 0 13 1 53 0-47 1-17 0 24 1-11 1-12 0-14 1 17 0-3 1 9 0 6 1-2 1-21 0 24 1-3 0-33 1 30 0-8 1 7 1-24 0 14 1 5 0-15 1 31 1-13 0 11 1-24 0-9 1 2 0-19 1 22 1 19 0 16 1-6 1-1 0 13 1-34 1 14 0-4 1-54 0 48 1-2 0 5 1-16 1-5 0 3 1 21 0-5 1 18 0-46 1 41 1 15 0-47 1 17 0-27 1-21 0 25 1 25 1 3 0-10 1 20 0-4 1 28 0-56 1 11 1 5 1 2 0 48 1-49 0 17 1-38 1 11 0 25 1 2 0-47 1 65 0-30 1-19 1 21 0-18 1-14 0 30 1 11 0 4 1-48 1-32 0-35 1-27 0-43 1-78 0-63 1-15 1-66 0-33 1-37 0-36 1-30 0-6 1-7 1 39 0 5 1-40 0 12 1 1 0 21 1-5 1 6 0 44 1 0 0-11 1 25 0-26 1 25 1-18 0 12 1 39 0-30 1 22 0-5 1 6 1 28 0 5 1-24 0 68 1-8 0-40 1 28 1 1 0-8 1-5 0 29 1 3 0 29 1-13 1-16 0 10 1 16 0 21 1-36 0 27 1 19 1-47 0 52 1-32 0 11 1-5 0 20 1 5 1 2 0 41 1-92 0 35 1-14 0 22 1-7 1 11 0 8 1-6 0 30 1-39 0 18 1 12 1 25 0-46 1 3 0 31 1-7 0-27 1 45 1-14 0-8 1 4 0 12 1-1 0 18 1 6 1-20 0-4 1 57 0-37 1 38 0-29 1-51 1 51 0-20 1-22 0 41 1-16 0 19 1 26 1-4 0-11 1 0 0-2 1-15 0-8 1 7 1 8 0-19 1 8 0 4 1-18 0 35 1 6 1-17 0-16 1-12 0-6 1 67 0-12 1-11 1-13 0 24 1 20 0-9 1-23 0 71 1-42 1-32 0 28 1-2 0 3 1-9 0-30 1 27 1-20 0 17 1-1 0 14 1-6 0-9 1 50 1-52 0-1 1 13 1 8 0-42 1 15 1 29 0-15 1 2 0-28 1 2 0 14 1 21 1 13 0 5 1-46 0 33 1 5 0-7 1 2 1-10 0 13 1-35 0 62 1-20 0 21 1-39 1-15 0 62 1-66 0 19 1 36 0 11 1-37 1 6 0-4 1 10 0-27 1 23 0 4 1-16 1 5 0 40 1-32 0-9 1 29 0 3 1-31 1-4 0 40 1-6 1 3 0-51 1-10 1 43 0-1 1-13 0 10 1-24 0-3 1 16 1 11 0 5 1-11 0 13 1 12 0-11 1-14 1 39 0-47 1 24 0 30 1 10 0-15 1-36 1-25 0 21 1 6 0 2 1-20 0 9 1 14 1-1 0 23 1-11 0 3 1-18 0 12 1-35 1 25 0-22 1 28 0 4 1-9 0 22 1-37 1 9 0-6 1 5 0 30 1-44 0 54 1-3 1-13 0-15 1 10 0-12 1 31 0-45 1 2 1 15 0-44 1 66 0-32 1 17 0-9 1-32 1 33 0 9 1-25 0 4 1 0 0 30 1-36 1 5 0 13 1 5 0-12 1 39 0 3 1-47 1 54 0-22 1 4 0 3 1-36 0 2 1 30 1-19 0 59 1-54 0 24 1-33 0 52 1-6 1-58 0 30 1-5 0 24 1-67 0 36 1 20 1-21 0-6 1-16 0 31 1-12 0-21 1 27 1-13 0 18 1 10 0 9 1-10 0-22 1 16 1-2 0 23 1-30 0 36 1-28 0 11 1-18 1 30 0-28 1 41 0-18 1 9 0-3 1-25 1 35 0-52 1 24 0 10 1 3 0-29 1 3 1 6 0-12 1 14 0-9 1 23 0-10 1-11 1 1 0 15 1-16 0-10 1 5 1 22 0-35 1 33 0 12 1-25 0 5 1-21 1 9 0 8 1 16 0-10 1-11 0 12 1-9 1 51 0-39 1 36 0-53 1 11 0 42 1-28 1 43 0-19 1 11 0-49 1 30 0-12 1 31 1-38 0 5 1-16 0-15 1 39 0-16 1 13 1-23 0 16 1-14 0 5 1 11 0-12 1 18 1-29 0 13 1 29 0-33 1-17 0 54 1-22 1-13 0-1 1 28 0-30 1-11 0 38 1-8 1 6 0-18 1 18 0-21 1 12 0 10 1 2 1 16 0-5 1-28 0 7 1 23 0 10 1-12 1-16 0 9 1 15 0 3 1-33 0-6 1 18 1-9 0 12 1-13 0 21 1 2 0 15 1-6 1-20 0-21 1 28 0-24 1-12 0 22 1-15 1 57 0-12 1 5 0-31 1 2 0 1 1-14 1 4 0 3 1-20 0 10 1 23 0-16 1-30 1 17 0 8 1 7 0 14 1-16 0 43 1-29 1 12 0-23 1-22 0 40 1 4 0 1 1-20 1 4 0-17 1-12 0 30 1 9 0 1 1 7 1 3 0-3 1-1 0-9 1-13 0-24 1 39 1 20 0-14 1 24 0-21 1-45 0 51 1-33 1 13 0-4 1 7 0 30 1-6 0-43 1 29 1-20 0 32 1 5 0-33 1 24 0 2 1-4 1 7 0-20 1 9 0-6 1 4 0 1 1-33 1 35 0 24 1-39 0 13 1-44 0 52 1-8 1 10 0 8 1-42 0 1 1 20 0-18 1 20 1-40 0 24 1-13 0-7 1 30 0-20 1 10 1 4 0-38 1 61 0-3 1 0 0-7 1 31 1-17 0-24 1 24 0 12 1-23 1 7 1 5 0-5 1-12 0 17 1-15 0-1 1 25 1-26 0-10 1 21 0-26 1 33 0-19 1 15 1-17 0-18 1-29 0 33 1 35 0-27 1 24 1 6 0-45 1 23 0 6 1 27 0 1 1-39 1 22 0-7 1-25 0 37 1 12 0-45 1 32 1-20 0 31 1 2 0-23 1 3 0 29 1-32 1 19 0-49 1 2 0 42 1-14 0-9 1-12 1 24 0-25 1 21 0 15 1-16 0-21 1-3 1 20 0-30 1 50 0-26 1 1 0 4 1-6 1 35 0-33 1-11 0 37 1-30 0 36 1-13 1-19 0 11 1-17 1 41 0-24 1 5 1-5 0 10 1-7 0 6 1-1 0 21 1-31 1 7 0 4 1-18 0 23 1-11 0-9 1-5 1 10 0 4 1 2 0 6 1-17 0 29 1-20 1 17 0-22 1 24 0-19 1-14 0 5 1 10 1-32 0 32 1-36 0 37 1-16 0-4 1 13 1 32 0 7 1-33 0 31 1-19 0 25 1-26 1 12 0-28 1 39 0-5 1 5 0 7 1-33 1 12 0-39 1 18 0-4 1 37 0-2 1-1 1-3 0 29 1-21 0-27 1 36 1-13 1-49 0 26 1 27 0-10 1-20 0 29 1-16 1 15 0-2 1 18 0-43 1 32 0-34 1 33 1-9 1-4 0-12 1 19 0 4 1 13 1-13 0 4 1-24 0-10 1 32 0 37 1-43 1-14 0-30 1 54 0-27 1 8 0 17 1 9 1 23 0-9 1-7 0-11 1-19 0 15 1 20 1-55 0 37 1 28 0-9 1-19 0 2 1 18 1-13 0 15 1 21 0-34 1-4 0 28 1-12 1-20 0-21 1 63 0 3 1-35 0 12 1-3 1 6 0 23 1-19 0-9 1 6 0-3 1 8 1-18 0-6 1 43 0-18 1 4 0 24 1-36 1-3 0 11 1-23 0 1 1-1 1 28 0-37 1 28 0-4 1 28 0-32 1 23 1-1 0-1 1 13 0-55 1 38 0-13 1 1 1 29 0-31 1-1 0 34 1-53 0 58 1-40 1 50 0-44 1 22 0-6 1-5 0 7 1-9 1 20 0-7 1-39 0-13 1 88 0-77 1 42 1-10 1-5 0 51 1-21 0-36 1 30 1-9 0 31 1-31 0-30 1 62 0 3 1 4 1-17 0-45 1 15 0 14 1 7 0-11 1 16 1-30 0 8 1-4 0 12 1-22 0 65 1-50 1 9 0 21 1-21 0 31 1-1 1-33 1-4 0 6 1-5 0 6 1 3 0-5 1-7 1 30 0 4 1-5 0-2 1-1 0 22 1-38 1-13 0 17 1 1 0-6 1-1 0-1 1 9 1-18 0-5 1 16 0 11 1-13 0-20 1 20 1-10 0 17 1-16 0 9 1 19 0-12 1-1 1-2 0-9 1 23 0-36 1 11 0-9 1 24 1 29 0-62 1 32 0-13 1 35 0-78 1 28 1 25 0-9 1 8 0-38 1 27 0-7 1 48 1-31 1-12 0 30 1-24 0 4 1-24 1 31 0-3 1-38 0 3 1 19 0-10 1-12 1 20 0 10 1-12 0-7 1 14 0-11 1-2 1 12 0 19 1 1 0-18 1-7 0 7 1 4 1 6 0-17 1-1 0 3 1-25 0 14 1 5 1 8 0-8 1-15 0-10 1 8 0-10 1 4 1 7 0 4 1 19 0-14 1 1 0 5 1-18 1-9 0 10 1-7 0 44 1 0 0-25 1 8 1 19 0-1 1-8 0-6 1 5 0-42 1-19 1 19 0 21 1-23 0 10 1 9 0 3 1-12 1 18 0 21 1-3 0-11 1-6 0 26 1 1 1-48 0 6 1 1 0 20 1-10 0-4 1 35 1-20 0-23 1 13 0-5 1 25 0-59 1 30 1 4 0 18 1-19 0 15 1 2 0-41 1 21 1 0 0 13 1-23 0 28 1-14 0 7 1-45 1 40 0-3 1-29 0 19 1 14 0 28 1-45 1 13 0-16 1 22 0-35 1 11 0 10 1-4 1-9 0-1 1-6 0 26 1-15 0-22 1 32 1 3 0 15 1 10 0-26 1 25 0-17 1 6 1-19 0 6 1-7 0-30 1 27 0-22 1 30 1-45 0 44 1-30 0 14 1 11 0 10 1-26 1 13 0 16 1-21 0 10 1-10 0 22 1-4 1 9 0-20 1-1 0-46 1 29 0-1 1 31 1-25 0-12 1 12 0-8 1-5 0 1 1 41 1 12 0-25 1 9 0 9 1-23 0 10 1-29 1-14 0 19 1 32 0-19 1-18 0 31 1 16 1-35 0 26 1 25 0-43 1 7 0-15 1-12 1 2 0 39 1-7 0-11 1 37 0-39 1 8 1 11 0-25 1-7 0 6 1-11 0 18 1-1 1-16 0-28 1 25 0-13 1 14 0 14 1 21 1-1 0-44 1 25 0-11 1 11 0 25 1-20 1-6 0-16 1-5 0 6 1 17 0 18 1-14 1-11 0 4 1 16 0 17 1 5 0-52 1-10 1 36 0-4 1 0 0 10 1-32 0 19 1-29 1 42 0-20 1 1 0-16 1 42 0-10 1-6 1-35 0 10 1 31 0-21 1 6 0 3 1-13 1 25 0-53 1 62 0-2 1-19 0 4 1-17 1 33 0-43 1-7 0 22 1-18 0 3 1 33 1-62 0 46 1-28 0 22 1 7 0-1 1-32 1 26 0 8 1 22 0-28 1-27 0 8 1-1 1 39 0-7 1-41 0 19 1 32 1-37 0 24 1-15 0 9 1-13 0-18 1 5 1 22 0 15 1-29 0 11 1 2 0-27 1 2 1 29 0-2 1-22 0-18 1 20 1 17 1-15 0 4 1 17 0-6 1-15 0 27 1-9 1 20 0-39 1 14 0-11 1-13 0 2 1 21 1 8 0-18 1 5 0 25 1-24 0-5 1 23 1-23 0 19 1-16 0 9 1-5 0-5 1 11 1 26 0-22 1-16 0 20 1-56 0 32 1-15 1-7 0 12 1 9 0-13 1 23 0-28 1 37 1 0 0 24 1-25 0-21 1-6 0 14 1-1 1-32 0-6 1 42 0-5 1-27 0 43 1-18 1-9 0 5 1 16 0-8 1 2 0 21 1-29 1 23 1 15 0-12 1 8 0 2 1 4 1-32 0 8 1 1 0 34 1-15 0-63 1-76 1-85 0-55 1-100 0-58 1-49 0-14 1 42 1-3 0-2 1-10 0 34 1-17 0-3 1 45 1-17 0 9 1 7 0 12 1-40 0-9 1 49 1-21 0 14 1 14 0 14 1-34 0 6 1-23 1 42 0-2 1 5 0 33 1-45 0-4 1 14 1 31 0-34 1 12 0 29 1-23 0 10 1-4 1 32 0-19 1 29 0-19 1 19 0-14 1 32 1-51 0 82 1-27 0-23 1 10 0 15 1 4 1-13 0 34 1-22 0-10 1 14 0 16 1-38 1 11 0 36 1-12 0-2 1 34 0-5 1-47 1-3 0 32 1 8 0-22 1 12 0-21 1 26 1-33 0 27 1 10 0-11 1 9 0 6 1 18 1-25 0 35 1-47 0 47 1-17 0 6 1 4 1-13 0 16 1-8 0-6 1 21 0 12 1-48 1 36 0-37 1 38 0-2 1-4 0 19 1-3 1-6 0-60 1 72 0-32 1-32 0 55 1-2 1 2 0 35 1-27 0-10 1 32 0-34 1 33 1-35 0 29 1 21 0-15 1-26 0-15 1 21 1-19 0 52 1-6 0-55 1 31 0 16 1 8 1-36 0 21 1-21 0 12 1 20 0-47 1 36 1 16 0-40 1 17 0 45 1-23 0 19 1-3 1 14 0-4 1-14 0-11 1 26 0-27 1 7 1 6 0 3 1-14 0 17 1 14 0-42 1-8 1 26 0 14 1 9 0 1 1-4 0 39 1-22 1-10 0 9 1-7 0-10 1 6 0-14 1-1 1 28 0-51 1 19 0-2 1 22 0-28 1 22 1 2 0 5 1 4 0-12 1-10 0 10 1-26 1 44 0-33 1 12 0-2 1 40 0-41 1 6 1 28 0-15 1-15 0 29 1-18 0 20 1 10 1-34 0-7 1 6 0 18 1 21 0-24 1 1 1-19 0 8 1 5 0-35 1 26 0-1 1 10 1 17 0-13 1 12 0-5 1 0 0-16 1 4 1 5 0-7 1 13 0-18 1 29 0-14 1-21 1 43 0 5 1 1 0-29 1 1 0 13 1-6 1 25 0-24 1 5 0 12 1-11 0-17 1 20 1-15 0 10 1-4 0-3 1-20 0 5 1 14 1-24 0 46 1-20 0 2 1-18 0 10 1-1 1-18 0 9 1 40 0-36 1 21 0 16 1-20 1 17 0-5 1 0 0 25 1-20 0-27 1 16 1 14 0 16 1-25 0 32 1-50 0 18 1 8 1-9 0-8 1 20 0-35 1 8 0 5 1-22 1 29 0 8 1 5 0 16 1-26 0 25 1-10 1-13 0-10 1 33 0-46 1 42 0-11 1 16 1-31 0-13 1 31 0 4 1 4 0-10 1-3 1 0 0 13 1-26 0 19 1 7 1 23 0-30 1-8 0 44 1-20 0 11 1-28 1-14 0 18 1 11 0 3 1 2 0-27 1 14 1-28 0 11 1 13 0 8 1 23 0-7 1 12 1-50 0 32 1-24 0 31 1-22 0 8 1 7 1-13 0-19 1 4 0-5 1 4 0 5 1 21 1-42 0 79 1-40 0 8 1-8 0 6 1 4 1-6 0 32 1-23 0 3 1-9 0 55 1-59 1 18 0 11 1-36 0 5 1-2 0 26 1 4 1 10 0-30 1 18 0-7 1 16 0-52 1 75 1-42 0 22 1-31 0 17 1-16 0-1 1 34 1 6 0-43 1 13 0-16 1 45 0-7 1-3 1-31 0 22 1-10 0-2 1 9 0 13 1 5 1-13 0 11 1-19 0-6 1 8 0-6 1-1 1 24 0-6 1-12 0-3 1 15 0 7 1-14 1-8 0-15 1 62 0-27 1-3 0 15 1 11 1-46 0 40 1-8 0-4 1-24 0 5 1 11 1-3 0-2 1 16 0-4 1-18 0-11 1 25 1 2 0-17 1 3 0-9 1 16 0-26 1 40 1-20 0 8 1 32 0-30 1-24 0 43 1-19 1-23 0-2 1 17 0-5 1 28 0-36 1 22 1 1 0-19 1 25 0-7 1 2 0 5 1 17 1-9 0 27 1-36 0-10 1 25 0-43 1 61 1 9 0-13 1-16 0-13 1 12 0-24 1 18 1-5 0 6 1-30 0 23 1-12 0-9 1 4 1 14 0 4 1-59 0 41 1 34 0 5 1-24 1-8 0-6 1 43 0-28 1 15 0-36 1 13 1 37 0-13 1-9 0-28 1 35 0 3 1 11 1-39 0 3 1 21 0-1 1-5 0-3 1-7 1 16 0-19 1 11 0 16 1-24 0 9 1 39 1-54 0 12 1 12 0 20 1-9 0 9 1-8 1-24 0 2 1 7 0 5 1 16 0-26 1 12 1 9 0-42 1 32 0-4 1-9 0-3 1-29 1 12 0 24 1-9 0 31 1-29 0 4 1 31 1-15 0 14 1-28 0-7 1 33 0-9 1-34 1 6 0 53 1-30 0 41 1-35 0 1 1 10 1 15 0-25 1-6 0-4 1-6 0 9 1 16 1-17 0-18 1 6 0-8 1 11 0-22 1 37 1-10 0-11 1 7 0 2 1 5 0 1 1 16 1-1 0-46 1 38 0 31 1-47 0 17 1-13 1-18 0 48 1-6 0-47 1 33 0 13 1 0 1-36 0 33 1-11 0-27 1 17 0 15 1 5 1-18 0 26 1-23 0 7 1 8 0-28 1 19 1-19 0-4 1 15 0-1 1 11 0 9 1-11 1-10 0 13 1-19 0 15 1 21 0-20 1-32 1-4 0 58 1 0 0-9 1 21 0-10 1 3 1-25 0 32 1 10 0-8 1-25 0 2 1 11 1-26 0 19 1-29 0 34 1-3 0 2 1-16 1-28 0 25 1 1 0-6 1 4 0 38 1-25 1 13 0-6 1-19 0 16 1-11 0 18 1-31 1-9 0 17 1 3 0-12 1 1 0 11 1 0 1-2 0 23 1-9 0 16 1-5 0-20 1 12 1 20 0-13 1 25 0-29 1-5 0-13 1-16 1 14 0 42 1-56 0 53 1-10 0-49 1 26 1 32 0 3" transform="scale(0.25)" fill="none" stroke="#231f20" stroke-width="5.2" stroke-linejoin="round"/>
<path d="M808 3448l0 55 1-50 0-83 0 16 1 53 0-36 1 45 0-120 0 153 1-9 0-128 0 43 1-11 0 10 0 54 1-52 0-12 1 66 0 30 0-63 1 29 0-66 0 90 1 44 0-72 0-33 1-84 0 64 1-68 0 114 0 46 1-7 0-39 0 20 1-41 0 37 0-2 1-14 0-111 1 108 0-54 1 44 0 14 0-116 1 121 0-55 0-25 1 52 0-37 1 13 0-20 0 16 1-19 0 27 0-20 1-11 0 94 0-45 1 13 0 49 1-42 0-24 0-40 1 78 0-9 0 26 1-44 0-9 0-71 1 99 0-87 1 35 0 32 0-22 1-10 0 19 0-87 1 72 0 49 0-3 1-103 0 98 1-18 0-56 0-15 1 46 0 58 0-43 1-65 0 32 0 31 1-51 0-19 1 31 0-103 0 96 1-75 0 46 0 13 1-25 0-31 0 8 1 41 0-93 1 12 0 41 0 12 1-39 0-27 0 41 1-50 0 90 0-32 1 19 0-114 1 18 0 6 0-40 1 24 0 52 0-84 1 19 0 62 0-55 1 0 0-26 1-31 0 6 0 22 1-36 0 23 0-20 1 12 0 62 0-40 1-82 0 37 1 73 0-8 0-126 1 55 0-25 0-94 1 113 0 71 0-101 1 22 0 55 1-50 0 6 0 34 1-63 0 81 0-65 1 59 0 36 0 41 1-89 0 45 1 5 0-77 0 71 1 17 0 17 0 60 1-68 0-2 0 4 1 6 0 23 1 46 0-99 0 48 1-88 0 37 0 79 1-82 0 104 0 42 1-80 0 7 1 30 0-20 0 19 1-25 0 63 0-19 1-13 0-80 0 66 1 34 0 32 1-47 0 54 0 13 1-54 0 54 0-37 1-37 0 43 0 57 1-31 0-9 1 39 0-16 1-75 0-27 0 32 1 126 0-41 0-92 1 87 0-89 1 59 0 26 0-43 1 34 0 1 0-101 1 63 0 21 0-37 1-31 0 111 1-45 0-32 0-11 1 34 0 49 0-61 1 42 0-5 0-18 1 9 0-1 1-42 0-24 0 78 1 24 0-36 0-57 1 32 0-23 0-34 1 13 0 16 1 42 0-64 0 87 1-41 0 47 0-4 1-27 0 9 1 0 0 14 1 42 0-48 0 36 1-21 0-45 0 37 1 8 0 12 0-46 1 55 0-65 1 14 0 31 0-18 1-36 0-12 0 34 1-2 0 112 0-116 1-12 0 137 1-148 0 38 0 38 1-20 0 9 0 49 1 34 0-75 0 12 1-20 0-6 1 5 0 22 0-31 1 26 0-32 0-26 1 25 0-13 1 0 0 33 1-74 0 83 0-59 1 20 0 54 0-10 1-103 0 82 0 38 1-90 0 18 1 67 0-99 0 117 1-118 0 25 0 7 1 4 0 45 0-16 1-11 1-69 0 38 0 66 1-85 0 100 0-59 1-35 0 65 0-3 1-56 0 3 1-11 0 9 0-63 1 65 0 75 0-69 1 33 0 14 0-27 1-27 0-5 1 0 0 35 0-23 1 48 0 44 0-44 1-68 0 70 0-19 1-6 0-11 1 20 0 133 0-3 1-55 0-105 0 37 1 32 0-58 0 35 1 19 0 17 1-39 0-3 0-22 1-5 0 16 0-11 1 33 0-17 0-19 1 70 0-64 1 42 0 2 0-39 1-19 0 55 0-30 1-30 0 149 0-126 1 9 0-2 1 4 0 29 0-6 1-57 0 37 0 13 1-30 0 55 0-27 1 29 0-71 1 108 0-73 0-32 1 1 0 3 0 40 1-100 0 48 0 76 1 3 0-89 1 44 0 1 0-20 1-13 0 54 0-37 1 24 0 28 0-60 1 7 0 126 1-119 0 84 0 4 1-40 0-15 0 9 1-26 0 27 0-12 1-14 0 4 1 43 0-34 0-10 1 77 0-76 0 20 1-61 0-11 0 52 1 14 0-151 1 136 0 4 0-25 1 28 0-60 0 59 1-53 0 34 0-7 1 17 0-59 1 59 0 3 0 31 1-64 0 42 0-42 1 44 0-47 0-19 1 16 0 79 1-4 0-50 0 3 1 12 0-68 0 133 1-109 0-8 0 41 1-27 0 50 1 15 0-36 0 20 1-29 0-41 0 17 1 123 0-78 0-63 1 27 0 11 1 60 0-151 0 174 1 15 0-52 0-7 1 23 0-65 0 3 1-51 0 94 1-58 0 50 0 85 1-136 0 36 0-18 1-4 0 69 0-91 1 71 0-10 1 35 0-107 0 21 1 85 0-105 0 74 1 34 0-103 1 13 0 70 0-83 1 80 0 15 0-39 1-1 0 3 0-22 1 56 0-4 1-29 0 11 0-62 1 19 0-43 0 62 1 57 0-23 0-32 1 1 0-5 1 53 0-88 0 89 1-27 0-77 0 78 1 5 0-45 0 81 1-100 0 13 1 21 0 10 0-28 1 41 0-58 0 44 1-23 0 8 0-36 1 36 0-53 1 2 0 49 0 36 1-68 0 59 0 72 1-57 0 8 0-21 1-63 0 60 1 20 0-46 0 47 1-39 0 56 0-31 1 3 0 4 0-22 1 66 0-102 1 10 0 29 0 6 1-55 0 86 0-45 1 31 0-49 0 1 1 29 0-28 1-9 0 39 0 22 1-35 0 26 0-46 1 44 0-51 0 39 1-56 0 42 1 23 0-36 0-69 1 115 0-81 0-58 1 154 0-89 0 53 1-12 0 66 1-7 0-124 0 84 1-59 0 38 0-6 1 1 0-39 0 73 1 7 0 1 1 44 0-76 0-26 1 38 0-101 0 41 1 2 0-1 0-10 1-2 0 53 1-73 0 28 0 43 1-11 0 63 0-45 1 70 0-45 0-75 1 31 0 62 1-110 0 15 0-32 1 68 0 42 0 9 1-50 0-44 0 59 1-18 0 34 1-23 0 35 0-67 1 25 0-3 0-8 1 38 0-75 0 14 1-32 0 99 1 30 0-14 0 42 1-59 0-41 0 43 1-8 0 1 0 35 1-72 0 3 1 30 0 49 0-74 1 80 0 2 0-66 1-9 0 20 0-55 1 116 0-52 1 34 0-67 0 29 1-16 0 65 0-105 1 84 0-45 0-3 1-65 0 59 1-10 0 37 0-44 1-8 0 54 0-29 1-28 0 23 0 11 1-27 0 4 1 62 0-57 0-77 1 117 0 25 0-5 1 1 0-108 0 44 1 37 0 3 1-8 0-47 0 22 1 13 0 51 0 47 1-140 0 61 0-39 1 69 0-28 1 5 0-16 0-29 1-1 0-1 0 65 1 40 0-35 0-56 1 78 0-47 1-11 0-37 1-20 0 29 0 18 1 13 0-55 0 36 1-61 0 113 1-71 0-20 0 63 1-25 0-64 0 126 1-97 0 48 0-39 1 50 0-1 1-57 0-4 0 70 1-36 0 23 0-22 1 28 0-18 0-38 1 79 0-56 1 11 0 12 0 40 1-72 0 32 0-7 1-6 0-33 0-64 1 72 0 63 1-40 0-11 0 10 1 42 0-33 0-32 1 62 0 22 0-26 1-10 0-74 1-4 0 60 0-57 1 38 0 34 0 22 1 83 0-137 0 43 1 78 0-119 1 49 0-65 0 85 1-77 0 45 0 4 1-52 0-42 0 19 1 34 0 15 1 11 0-58 0 87 1-28 0-16 0-20 1-13 0-47 0 60 1 17 0 59 1-30 0-73 0 66 1-64 0 118 0 21 1-83 0-34 0 72 1-36 0 3 1-10 0-34 0 51 1 26 0-61 0 11 1 1 0 42 0 12 1-49 0-37 1 59 0-30 0 16 1 62 0-26 0-128 1 36 0 37 0-60 1-6 0 65 1 2 0 9 0 23 1-38 0 14 0-1 1 40 0-114 0 91 1-86 0 15 1 72 0 3 0 1 1-12 0 7 0-30 1 34 0 42 0-130 1 66 0-19 1-28 0 50 0 10 1-95 0 23 0 85 1-7 0 60 0-69 1 59 0-62 1-30 0 51 0-24 1 8 0-91 0 107 1-20 0 13 0 8 1 47 0-64 1-1 0 42 0 8 1-28 0-23 0-7 1-6 0-4 0 60 1-50 0 42 1-52 0 66 0-40 1 54 0-31 0-11 1-39 0 2 0 7 1 5 0-19 1 51 0 5 0-30 1 71 0-59 0-56 1 44 0 9 0-18 1 21 0-45 1 30 0 1 0 18 1-31 0-7 0 22 1 12 0-22 0 3 1-40 0 99 1-96 0 135 0-108 1 56 0-109 0 79 1-9 0-14 0-29 1 32 0-32 1 109 0-90 0 104 1-73 0-56 0 141 1-28 0-53 0-3 1 0 0 63 1-89 0 31 0 57 1 33 0-100 0 1 1-13 0 59 0-68 1 20 0 26 1 8 0 7 0-59 1 35 0 10 0 18 1 24 0-19 0-62 1 39 0-46 1 98 0-57 0 2 1 16 0-33 0 43 1-5 0-24 0-12 1-129 0 106 1 33 0-10 0-142 1 159 0 16 0-58 1-5 0 42 0-40 1-1 0-12 1 97 0-50 0-29 1-22 0 62 0-42 1 0 0 4 0-11 1 29 0 29 1-87 0 16 0 57 1-47 0 33 0 57 1-37 0 20 0 1 1-5 0-33 1 43 0-82 0-2 1 46 0-53 0 40 1-18 0 65 0-13 1 21 0-61 1-51 0 107 0 12 1-97 0-13 0-28 1 112 0-92 0 55 1-1 0-32 1 13 0-10 0 48 1 25 0 1 0-101 1 11 0 34 0 39 1 17 0-106 1 83 0 27 0-33 1-7 0-66 0 125 1-35 0-31 0-2 1 50 0 17 1-55 0-44 0 70 1-48 0 20 0-7 1-33 0 89 0-96 1 100 0-83 1 28 0 14 0 22 1-48 0 111 0-70 1 69 0-30 0-35 1-30 0 44 1-2 0-44 0 29 1 35 0 21 0-39 1 1 0-22 0-11 1 86 0-23 1-16 0 59 0-9 1-95 0-23 0 91 1-23 0 60 0-76 1 76 0 3 1-60 0 129 0-104 1 36 0-18 0 5 1-16 0 11 0 46 1-76 0 58 1 6 0 2 0-3 1 66 0-84 0-14 1-31 0 70 0-8 1-93 0-10 1-10 0 66 0-39 1 10 0-73 0 29 1 0 0 40 0-71 1-67 0 90 1 49 0 21 0-156 1 91 0 1 0-33 1-33 0 26 0-30 1 49 0-94 1 81 0-82 0-32 1 50 0-48 0 22 1-20 0-45 0-2 1 75 0-127 1 45 0 18 0-33 1 8 0-93 0 50 1 0 0-114 0 71 1-43 0-15 1 47 0-27 0 26 1-47 0-98 0 30 1 21 0 6 0-44 1 51 0-36 1 84 0-26 0 18 1-102 0 116 0 17 1-24 0 18 0 58 1-44 0 36 1-80 0 104 0-91 1 7 0 82 0-21 1-8 0 72 0-20 1 70 0-45 1 43 0-76 0 46 1 105 0-89 0-44 1 17 0 9 0 38 1-96 0 113 1-18 0-26 0 41 1-120 0 154 0-59 1 34 0-67 0 56 1-11 0 43 1-79 0 136 0-63 1 58 0-47 0 1 1 8 0 38 0-22 1-70 0 2 1 32 0-71 0 54 1-48 0 55 0-26 1-6 0-42 0 37 1-64 0 57 1-109 0 48 0-37 1 68 0-34 0-7 1-61 0 19 0-29 1 19 0 94 1-86 0 66 0 30 1-2 0 42 0-121 1 107 0 29 0-99 1 42 0-2 1-9 0 66 0-46 1 53 0 21 0-67 1 40 0 28 0 62 1-54 0 9 1-78 0 147 0-78 1 18 0 23 0-28 1-43 0-4 0 93 1-111 0 101 1 36 0-88 0 4 1 44 0-3 0-13 1 102 0-127 0 64 1 50 0-92 1-38 0 117 0-102 1 61 0-103 0 64 1-96 0 25 0 1 1 47 0 34 1 15 0-60 0-49 1-59 0 148 0-18 1-2 0 62 0-1 1 32 0-3 1 0 0-61 0-34 1-10 0 23 0 18 1-81 0 54 0 21 1 42 0-72 1-2 0-3 0 66 1-120 0 99 0-78 1 42 0 51 0-54 1 12 0-37 1-25 0 117 0-65 1 20 0-103 0 94 1 8 0 15 0-55 1 19 0 31 1-21 0 12 0-22 1 33 0-23 0-70 1 43 0 57 0 82 1-138 0-51 1 99 0 64 0-122 1 18 0 63 1-126 0 114 0-24 1 3 1 40 0 17 0-92 1 43 0 41 0-85 1 84 0-6 0-38 1-64 0 16 1 13 0-1 0 10 1-6 0 26 0-32 1-5 0 13 0 14 1-20 0-9 1 27 0 21 0-66 1 46 0-12 0-33 1 91 0-59 0-78 1 138 0-32 1-122 0 131 0-5 1-16 0 33 0-55 1 61 0-71 0 30 1-17 0 12 1-12 0-33 0 50 1-23 0 21 0-67 1 82 0-86 0-2 1 26 0 67 1-37 0-3 0 22 1-37 0 31 0 24 1-29 0-53 0 110 1-65 0-70 1 29 0 165 0-119 1-46 0-22 0 16 1 55 0 39 0-11 1-22 1-12 0-14 0 30 1-45 0 39 0-117 1 31 0 95 0-26 1-50 0 124 1 15 0-86 0 5 1-45 0-40 0 58 1-28 0 27 0-11 1-10 0 18 1 57 0-101 0 47 1 51 0-24 0-8 1-5 0-18 0 17 1 69 0-45 1 77 0-14 0-21 1 20 0-45 0 77 1-89 0 47 0-24 1-3 0-31 1 31 0-40 0 68 1-41 0 21 0-41 1 11 0 1 0-28 1 18 0-49 1 16 0 50 0-80 1-40 0 108 0 59 1-75 0 17 0 1 1 41 0-85 1 40 0-5 0 69 1-62 0-22 0-17 1-2 0-32 1 21 0 26 0 16 1-39 0 50 0-34 1 8 0 75 0-100 1 37 0 32 1-71 0 15 0 28 1-1 0 11 1 18 0-45 0-16 1 35 0 23 1-61 0 48 0-11 1-10 0-1 0 27 1-6 0 4 0-36 1 19 0 5 1-8 0-43 0 82 1-3 0-38 0 50 1-82 0 40 0-36 1-31 0 74 1-21 0 14 0 40 1 11 0-44 0 4 1 13 0-21 0-37 1 48 0-13 1 81 0-108 0 65 1 3 0-50 0 82 1-5 0 14 0 1 1-44 0-57 1 92 0-21 0-85 1-1 0 21 0 10 1-15 0-13 0 5 1 40 0 9 1-49 0 47 0-65 1-33 0 78 0-26 1-11 0 16 0 41 1 10 0-43 1 2 0 58 0-29 1-21 0-11 0 9 1 0 0-2 0-35 1 84 0 27 1-92 0-34 0 54 1-111 0 49 0 32 1 46 0 17 0-31 1 34 0-56 1 9 0 20 0 42 1-29 0 41 0-82 1 49 0 14 0-66 1 64 0-49 1-24 0 49 0-40 1 45 0-100 0 78 1 38 0-94 0 134 1-80 0 71 1-67 0 49 0-4 1-11 0-75 0 78 1-87 0 69 0-8 1-22 0 6 1-36 0 83 0-48 1 53 0 38 0-37 1 17 0-83 0-8 1 71 0-71 1 88 0-57 0 80 1-66 0-1 0 68 1-46 0-12 0 9 1-67 0-26 1 121 0-88 0 27 1-38 0 82 0-93 1 72 0 32 0 6 1-1 0-53 1 30 0-47 0 59 1 26 0-52 0 47 1-33 0-26 0 17 1-22 0-7 1-7 0 96 0-115 1 17 0 43 0-71 1 21 0 36 0-42 1 18 0-21 1 3 0-10 0-39 1 94 0-35 0-14 1-25 0 22 0 6 1-71 0 119 1-39 0-34 0 23 1 2 0 20 0-33 1 49 0-63 0 55 1-41 0 15 1 46 0-4 0-16 1 31 0-33 0-21 1 75 0-42 0-83 1 80 0-21 1 38 0-34 0 43 1-16 0-103 0 147 1-53 0 3 0 44 1-83 0 21 1-39 0 89 0-13 1 8 0-108 0-10 1 98 0 65 0-48 1-26 0 3 1-55 0 100 0-52 1-5 0 13 0-21 1-27 0 31 0 30 1-35 0 2 1 64 0-9 0-42 1 6 0 90 0-195 1 207 0-90 0-45 1-11 0-15 1 6 0 19 0 60 1-17 0-29 0 60 1-78 0 63 0-35 1 52 0-89 1 18 0 86 0-69 1 37 0-13 0 13 1-96 0 13 0-34 1 82 0-85 1 114 0-76 0 7 1 58 0 50 0-54 1-37 0 68 0-77 1-14 0-22 1 18 0 54 0-61 1 56 0-46 0 68 1-81 0 70 0 23 1-96 0 42 1-16 0 27 0 36 1-58 0-32 0 163 1-124 0 4 0 15 1 0 0-36 1 44 0-4 0 32 1-55 0 6 0-17 1 74 0-34 0 61 1-98 0 111 1-115 0 41 0 41 1-71 0 51 0 30 1-154 0 43 0 49 1-9 0 23 1 15 0-95 0 105 1-10 0-47 0 51 1 13 0-53 0-6 1 38 0-1 1 58 0-101 0-3 1 18 0 77 0-28 1 42 0-131 0 14 1 21 0 41 1-85 0 46 0-4 1-6 0 3 0 33 1 13 0-57 0 65 1-3 0-12 1-46 0 69 0-58 1 10 0 65 0-11 1-19 0-17 0 26 1-36 0 16 1-83 0-30 0 75 1-9 0-29 0 62 1-61 0 53 0 35 1-87 0 14 1-8 0-61 0 77 1-3 0 13 0-1 1-5 0 76 0-45 1-64 0 110 1-5 0 16 0-46 1-9 0 31 0-4 1-34 0 24 0 10 1 51 0-74 1 9 0-87 0 45 1-13 0-13 0-35 1 125 0-2 0-48 1-36 0 10 1 40 0-30 0-43 1 46 0-21 0 37 1 0 0 35 0-1 1-47 0 25 1-21 0 65 0-27 1-20 0-11 0-39 1 12 0-23 0 103 1 2 0-11 1-59 0-58 0 131 1-36 0-21 0-8 1 54 0-43 0 26 1-111 0 90 1-39 0 40 0 19 1 26 0-70 0 23 1 30 0-53 0 35 1-33 0-17 1 93 0-62 0 9 1 33 0-17 0-24 1 135 0-62 0-61 1 34 0-89 1 8 0 96 0-11 1-20 0-16 0 13 1-29 0 37 0 10 1-64 0 53 1-33 0-7 0-11 1 41 0-33 0 19 1-6 0-45 1 103 0-56 1 43 0-35 0 35 1-33 0 14 0-5 1 20 0 5 0 22 1-118 0 92 1-83 0 37 0 1 1 47 0 22 0-47 1 40 0-45 0 14 1-52 0 27 1-25 0-74 0 101 1 14 0-120 0 92 1 13 0 34 0-76 1 65 0-29 1 44 0-70 0-30 1 56 0-4 0-41 1 21 0 60 0-6 1 28 0 32 1-56 0-23 0-3 1 59 0 22 0-33 1 9 0-36 0-57 1 52 0 74 1 1 0-44 0 49 1 49 0-29 0-13 1 87 0-120 0 33 1 36 0-117 1 31 0 48 0 71 1-54 0-29 0 19 1-32 0-2 1 96 0-64 1 15 0-72 0 28 1-16 0 38 0 2 1-43 0 25 0-4 1-49 0 24 1 38 0 45 0-71 1-14 0 72 0-29 1 59 0-71 0 70 1-23 0-60 1 54 0-16 0 2 1 49 0-133 0 35 1-9 0 14 0 37 1-36 0 69 1-91 0 68 0 9 1-22 0 47 0-81 1-3 0 27 0-56 1 141 0-110 1 13 0-37 0-22 1 100 0-40 0-13 1 98 0-54 0 24 1-81 0 120 1-81 0 20 0 11 1-49 0 29 0 26 1-51 0 58 0-1 1-85 0 72 1-68 0 60 0-8 1 57 0-40 0 12 1 20 0-33 0-24 1 63 0-140 1 49 0 27 0 93 1-8 0-95 1-19 0 59 0-54 1 23 0-22 1 7 0-50 0 85 1-53 0 80 0-20 1 42 0-38 0-43 1-20 0-30 1 45 0 42 0 21 1-14 0 11 0-75 1 19 0 32 0 7 1 15 0 3 1-6 0-11 0 44 1-17 0-78 0-45 1 111 0-115 0 106 1 35 0-34 1-34 0 25 0 29 1-47 0 56 0-56 1-26 0-22 0 26 1 77 0-63 1 41 0 52 0-128 1 36 0 14 0 22 1 12 0-89 0 66 1-56 0 52 1-73 0 28 0 70 1-39 0 9 0-39 1 89 0-83 0-18 1 50 0 63 1-89 0 11 0-45 1 44 0 51 0-94 1 154 0-42 0-87 1 24 0 33 1-22 0 26 0-32 1-46 0 61 0 15 1-18 0 4 0 40 1-40 0-36 1 64 0 10 0-15 1-100 0 8 0 93 1-69 0 76 0-57 1 91 0-89 1-1 0-12 0 13 1-8 0 30 0-1 1-9 0 34 0 4 1 20 0-5 1 0 0-57 0 16 1-64 0 59 0-2 1 42 0-51 0-10 1 13 0-13 1-8 0-39 0 56 1 78 0-37 0-62 1 120 0-86 0-2 1 12 0 38 1-88 0 108 0-22 1-124 0 67 0 35 1 56 0-56 0-52 1-31 0-2 1 153 0-133 0 76 1-1 0 24 0-52 1 13 0-37 0-29 1 30 0-26 1 89 0-18 0-89 1 49 0 45 0-66 1-53 0 64 1-13 0 31 1-28 0-4 0-30 1 41 0 28 0-14 1 22 0-43 0-4 1-33 0 77 1-47 0 48 0-44 1 49 0-42 0 18 1-7 0-17 0 13 1-6 0 67 1-64 0-1 0 8 1 24 0-62 0 60 1-26 0 82 0-78 1 1 0-42 1 85 0-55 0-14 1-26 0 19 0 45 1-38 0 67 0 5 1-76 0 3 1 55 0 51 0-58 1 8 0-135 0 28 1 47 0-17 0 15 1 38 0-29 1 42 0 30 0-44 1-31 0-23 0 27 1 31 0-22 0 60 1-142 0 53 1 85 0-84 0-2 1 42 0 29 0-4 1-4 0-51 0 130 1-13 0-107 1 60 0-30 0-20 1 52 0-71 0 19 1 56 0-17 0-49 1 49 0 68 1-113 0 7 0 37 1-33 0 20 0-72 1 65 0-35 0-19 1 73 0-61 1 95 0-52 0-43 1 20 0-3 0 18 1 23 0-10 0 21 1-66 0 57 1-19 0 36 0-18 1 51 0-88 0 76 1-68 0 55 0-18 1-82 0 130 1-34 0-74 0-2 1-51 0 151 0-77 1 33 0-62 0 77 1 28 0 3 1-37 0-34 0 20 1-36 0-42 0-12 1 81 0 42 0-50 1 10 0-14 1-52 0 102 0-82 1 97 0-76 0-39 1 84 0-50 0 101 1-77 0-25 1 35 0 23 0-85 1 56 0-44 0 33 1-24 0-8 0 31 1 19 0-39 1 23 0-17 0-4 1-54 0 44 0 92 1-23 0 46 0-104 1 53 0-29 1 28 0-46 0 62 1-5 0-152 0 164 1-5 0-125 0 67 1-49 0 37 1 35 0-23 0-21 1 17 0 67 0-111 1 0 0 68 1-3 0-9 0 40 1-47 0-45 0-7 1 76 0-20 0-43 1 26 0 19 1 3 0-65 0 10 1 45 0 9 0 43 1-51 0-20 0 19 1-20 0 52 1-58 0 44 0 6 1-77 0 76 0-24 1-9 0 79 0-80 1 18 0-61 1 87 0-40 0-16 1 52 0 35 0-65 1 84 0-66 0-37 1 53 0-61 1 67 0-42 0-34 1 10 0 9 0 41 1-50 0 57 0-13 1-14 0 51 1-50 0 33 0-38 1 22 0-60 0 27 1 14 0-10 0-58 1 26 0 27 1-26 0 36 0-82 1 64 0 44 0-24 1 31 0-79 0 29 1-9 0 18 1-51 0 49 0 7 1 44 0 15 0-120 1 22 0-20 0 1 1 46 0 55 1-52 0 4 0 8 1-5 0-7 0-19 1 18 0-30 0 15 1 56 0-65 1-17 0 71 0-47 1 37 0-22 0 20 1-32 0-6 0 22 1 65 0-33 1-42 0 32 0-5 1-38 0 32 0 33 1-62 0-3 0-24 1-22 0 35 1 2 0 4 0-4 1 81 0-43 0-12 1 8 0 42 0-17 1-58 0 75 1-64 0 59 0-3 1-81 0 21 0 97 1-41 0-15 0 39 1-1 0-51 1 57 0-36 0-71 1 103 0-85 0 16 1 70 0-84 0 59 1 23 0-41 1 30 0-45 0 43 1 11 0-12 0-29 1-45 0 23 0-35 1 3 0 7 1 43 0-3 0-101 1 108 0-23 1 0 0 38 0-61 1 75 0 18 1-80 0 24 0-20 1 10 0-42 0 91 1 26 0-88 0 88 1-103 0-13 1 108 0-15 0-75 1 46 0-58 0 55 1 55 0-76 0 17 1 37 0-66 1 31 0-32 0 59 1-16 0-16 0 34 1-57 0 40 0-54 1 15 0 41 1 17 0-31 0 28 1-58 0-17 0 29 1 25 0 14 0 31 1-159 0 107 1-41 0 24 0 57 1-28 0-18 0-7 1-42 0 84 0-46 1 30 0-86 1 91 0-3 0-28 1 41 0-59 0 50 1 14 0-36 0-21 1 52 0-31 1 6 0 32 1-93 0 56 1-18 0 113 0-48 1-30 0-3 1-46 0-71 0 117 1-34 0-20 0 50 1-112 0 113 0-28 1-21 0 53 1-31 0-3 0 12 1-71 0 68 0 15 1-1 0 15 0-20 1-5 0-41 1 31 0-53 0 102 1-37 0 7 0-17 1 9 0-11 1 28 0 3 1 2 0 33 0-51 1-36 0 53 0 17 1-39 0 31 0 1 1-10 0-37 1 71 0-69 0 78 1-53 0-42 0 40 1-24 0 17 0 3 1-7 0-51 1 14 0 40 0 61 1-144 0 89 0-29 1 67 0-17 0-29 1-61 0 133 1-40 0-19 0-11 1-43 0 23 0 45 1-94 0 64 0-31 1 19 0 10 1 31 0 49 0-142 1 19 0 82 0-54 1 28 0 34 0-89 1 43 0 123 1-97 0 46 0-38 1-39 0 26 0-42 1-24 0 16 0 51 1-32 0 33 1-9 0-46 0 84 1-36 0-12 0 32 1-55 0 11 0 49 1-40 0-97 1 70 0-44 1 86 0 14 0-19 1-100 0 40 0-24 1 47 0 110 1-114 0-12 0 66 1 44 0-73 0-34 1 84 0-30 0 36 1-8 0 17 1 27 0-54 0 47 1-2 0-75 0-13 1 39 0-68 0 27 1-21 0 28 1-31 0-88 0 159 1-130 0 115 0-5 1 65 0-94 0-1 1 80 0-101 1 58 0-61 0 48 1-37 0 87 0-50 1 21 0-36 0 18 1-43 0-12 1 37 0-68 0 67 1 48 0-75 0 59 1-98 0 115 0 10 1-41 0 12 1-34 0 12 0 10 1-16 0 10 0-73 1 120 0-103 0-82 1 112 0-9 1-92 0 57 0 45 1-7 0 24 0 18 1 56 0-98 0-72 1 96 0 64 1 6 0-88 0 26 1-35 0-6 0 59 1-69 0 45 0-61 1 54 0-13 1-30 0 43 0-5 1-5 0-37 0 18 1-18 0 9 0-27 1 92 0-50 1 75 0-13 1-95 0 49 0-43 1 28 0 114 0-96 1 54 0 22 1-50 0-8 0-16 1 64 0-24 0-3 1-86 0 42 0-21 1-1 0-15 1 46 0 26 0 7 1-94 0 48 0-22 1 2 0-90 0 109 1 42 0-29 1-22 0 33 0 35 1-138 0 5 0 11 1 57 0-3 0 28 1 16 0-8 1 18 0 2 0-75 1 19 0-81 0 161 1-155 0 118 0-48 1-45 0 47 1 21 0-64 0 36 1-18 0 14 0-32 1-8 0 4 0 15 1 1 0-21 1 46 0-93 0 128 1-189 0 138 0-3 1-62 0-14 0 15 1-132 0 104 1-34 0 79 0-65 1-84 0 60 0-33 1 14 0-39 0 44 1-20 0-44 1-1 0-17 0-13 1 22 0-41 0-58 1 11 0 12 0 28 1-42 0 16 1-53 0-11 0 59 1-58 0 36 0 12 1-11 0 72 0-20 1-61 0 71 1-17 0 41 0 1 1 19 0 24 0-67 1 74 0-10 0 9 1-9 0 25 1 107 0-135 0 97 1-36 0 16 0-82 1 122 0-64 0-1 1-17 0 139 1-133 0 97 0-51 1-10 0 31 0 7 1 82 0-72 0-53 1 79 0-46 1 24 0-56 0 93 1-131 0 61 0 14 1-14 0-5 0-39 1 17 0-18 1 66 0 10 0-9 1-25 0-71 0 6 1 105 0-141 0 83 1 22 0-3 1 27 0 4 0-58 1-17 0 60 0-95 1 73 0-34 0 78 1-40 0-21 1-9 0 64 0-57 1-61 0 3 0 83 1-64 0-18 0 47 1-17 0-9 1 93 0-120 0-27 1-14 0 43 0 11 1-57 0 115 0-130 1 52 0 12 1-25 0-29 0 37 1-26 0-108 0 151 1-114 0 6 0 47 1 20 0-55 1-57 0 122 0-43 1-11 0 61 0 59 1-75 0 28 0-16 1 61 0 47 1-100 0 24 0 31 1-62 0 55 0 60 1-78 0 80 0-23 1 67 0-32 1 12 0-27 0 38 1-1 0 44 0-53 1-36 0 42 0-9 1-30 0-37 1 60 0-17 0-34 1 26 0 39 0-18 1-61 0 65 0 18 1-57 0-63 1 61 0-2 0-62 1 52 0-19 0 26 1-41 0 34 0-37 1 76 0-107 1-2 0 89 0-126 1 127 0 26 0-19 1-99 0 19 0-9 1 8 0-41 1 6 0 67 0-78 1 25 0-26 0-46 1 83 0 15 0-21 1 26 0-60 1-10 0 22 0-65 1 1 0 39 0-22 1-25 0-15 0-21 1 121 0-40 1-5 0 22 0-56 1 60 0-31 0 82 1 5 0-20 0-40 1 1 0 68 1-48 0 23 0 76 1-82 0 8 0 27 1-50 0 33 0 98 1-3 0-27 1 42 0-20 0 89 1-32 0 12 0-40 1-18 0-36 0 33 1 33 0-49 1 4 0-35 0 2 1 37 0-34 0 86 1-88 0 101 0-29 1 24 0-35 1 100 0-88 0 28 1-39 0 46 0-26 1-1 0-16 0-66 1 76 0-42 1 81 0-84 0 24 1 17 0-52 0 135 1-116 0 41 0-28 1-1 0-24 1 57 0-18 0 28 1-14 0 23 0-67 1-19 0-52 0 143 1-90 0 47 1-60 0 57 0 31 1-4 0-38 0-25 1 69 0-38 0 35 1-9 0-52 1 47 0 115 0-63 1-30 0 40 0-73 1 34 0 84 0-66 1-33 0-21 1 59 0-18 0-86 1 67 0-6 0 15 1-38 0 65 0-27 1 52 0-88 1-29 0 53 0-12 1 9 0 71 0-90 1-15 0 21 0 1 1 36 0-30 1 43 0-87 0 32 1 17 0 7 0-56 1 17 0-15 0 17 1 48 0 3 1-37 0-36 0 29 1 66 0-44 0 38 1 31 0-22 0-74 1 54 0-9 1 10 0-49 0-41 1 113 0-47 0-18 1 5 0 137 0-162 1 60 0-47 1 16 0-16 0 33 1-46 0 55 0-27 1 24 0-125 0 84 1 46 0-61 1 60 0-46 0 58 1-58 0 22 0 20 1 49 0-99 0-6 1 14 0 33 1 15 0 32 0-45 1 21 0 6 0-33 1-45 0 39 0 107 1-136 0 42 1 58 0-113 0 36 1-12 0 36 0-54 1 26 0 37 0 38 1-60 0 22 1 7 0-58 1 46 0 41 0-28 1-70 0 53 0-5 1 3 0-46 1 26 0-28 0-79 1 114 0 1 0 33 1-62 0-11 0 40 1-18 0-45 1 131 0-25 0-95 1-16 0 41 0 42 1-38 0 28 0 65 1 54 0-124 1-50 0 28 0 42 1 30 0-59 0-40 1 34 0 18 0-21 1-7 0-16 1 29 0-5 0 49 1 11 0-13 0 28 1-19 0-61 0-30 1 114 0-4 1-21 0-98 0 74 1 11 0-2 0-62 1 118 0-69 0-9 1 31 0 12 1-7 0-37 0 13 1 35 0-81 0 47 1 46 0-62 1-48 0 84 0-1 1-26 0 26 0-17 1-40 0-39 0 21 1 9 0 20 1 48 0 14 0-96 1-47 0 163 0-45 1-24 0 57 0-33 1 25 0-102 1 65 0-2 0 24 1 50 0-149 0 59 1 84 0-44 0 52 1-70 0-8 1 41 0-24 0 15 1-10 0-57 0 36 1-1 0-23 0 7 1-54 0 57 1 7 0-22 0 9 1 81 0-59 0-42 1-51 0 116 0 13 1-105 0 85 1-50 0 51 0-39 1 2 0-26 1 82 0-75 0 41 1 28 0-31 1 25 0 25 0-7 1-36 0-16 0 43 1-15 0-40 1 81 0-81 1 23 0 39 0-68 1-27 0 22 0 4 1 65 0-42 0 120 1-82 0-18 1 88 0-110 0 9 1 42 0-97 0 67 1-19 0-10 0 19 1-43 0 27 1 96 0-107 0-5 1-9 0 33 0 27 1-12 0-25 0 45 1-36 0-52 1 41 0-51 0 25 1 55 0-1 0-34 1 33 0-19 0-41 1 75 0-1 1 39 0-29 0 27 1-11 0-43 0 14 1-18 0 43 0-35 1-15 0-15 1 33 0-1 0-44 1 65 0-72 0 59 1-49 0 36 0 30 1 1 0 13 1 8 0-89 0 38 1 29 0 1 0-87 1 11 0 49 0-69 1 1 0 52 1 64 0-46 0-95 1 7 0 110 0 54 1-71 0-8 0 54 1-74 0 9 1-23 0 93 0-93 1 54 0-17 1 27 0-104 0 127 1 0 0-101 1-10 0 96 0 40 1-72 0-3 0-36 1 117 0-117 0 39 1-111 0 102 1-70 0 69 0-27 1 20 0 5 0-8 1-18 0 53 0-39 1 104 0 12 1-56 0 34 0-49 1-34 0 49 0-38 1-40 0 64 0-27 1 44 0-27 1-34 0 18 0-51 1 0 0 87 0 2 1-14 0 21 0-46 1 33 0-39 1 99 0 17 0-88 1-12 0-31 0 20 1-20 0 44 0 26 1-45 0 62 1-118 0 104 0-72 1 40 0-30 0 1 1-34 0 9 0 68 1-3 0-40 1 70 0-31 0-71 1 18 0-18 0 72 1-62 0 92 0-35 1 40 0-15 1-46 0 13 0-5 1-22 0-48 0 90 1-37 0 38 0 16 1-14 0-44 1 75 0-104 0 54 1-18 0-2 0-8 1 2 0-23 0 66 1 12 0-24 1-58 0 54 0-45 1 130 0-102 0 70 1-15 0 8 0-42 1-51 0-38 1 53 0 35 0-38 1-27 0 47 0 11 1-28 0-29 0 80 1-15 0-50 1 63 0-22 0-17 1 46 0-65 0 46 1-51 0 54 0-46 1 16 0-46 1 83 0-42 0 48 1-58 0 1 0 10 1-15 0 43 0-7 1-25 0 38 1 0 0 32 0-53 1 24 0-23 0 20 1-35 0 1 0-26 1 51 0 4 1 24 0-48 0 14 1 25 0-31 0-45 1 32 0 31 0 5 1 7 0-49 1 31 0-44 0 5 1 24 0-56 0 50 1-25 0-1 0 36 1 13 0-52 1 79 0-26 0 42 1-23 0 1 0-47 1 47 0-31 0 41 1-55 0 89 1-33 0-71 0-45 1 100 0-12 0-35 1-37 0 73 0-22 1 10 0 58 1-6 0-31 0-17 1-43 0 50 0 32 1-68 0 80 0-84 1-2 0 50 1 21 0 38 0-78 1-29 0 68 0-47 1 90 0-35 0 1 1 45 0-29 1-19 0 7 0-75 1 68 0-31 0-5 1 21 0-45 0 25 1-70 0 99 1 43 0-25 0-52 1 92 0-104 0 15 1 5 0 18 0 47 1-68 0-21 1 60 0-14 0 36 1-58 0-4 0 64 1-74 0 65 0-36 1 51 0-95 1 50 0-31 0 123 1-71 0 7 0-46 1 39 0-18 0 33 1-11 0-25 1 2 0 1 0-27 1-6 0 56 0-38 1 30 0-15 0-38 1 1 0-28 1 22 0-45 0 49 1 2 0 14 0-7 1 13 0 24 0 7 1 12 0-90 1-3 0 48 0-63 1 60 0 38 0-35 1 75 0-91 0 14 1 44 0-57 1 36 0 7 0-81 1 38 0 115 0-161 1 80 0-32 0 43 1-100 0 64 1 66 0 6 0 2 1-25 0-50 0-9 1 10 0 60 0-50 1 6 0 95 1-121 0 59 0-32 1-77 0 143 0 12 1-80 0-19 0 35 1-23 0-22 1 47 0-45 0 5 1 24 0 12" transform="scale(0.25)" fill="none" stroke="#231f20" stroke-width="4.0" stroke-linejoin="round"/>
<path d="M811 4614l0-41 1 34 1-31 0 41 1-44 0 16 1 2 0-26 1 51 1-44 0 3 1 11 0 22 1-27 0 50 1-35 1-3 0 13 1-10 0-17 1 8 0 13 1 25 1-21 0 6 1-45 0 38 1 7 0 34 1-2 1-25 0 8 1-9 0-11 1 15 0-5 1 14 1 9 0-12 1 25 0-40 1 20 0 5 1-36 1 46 0 3 1 22 0-28 1 14 0 3 1-37 1 36 0-28 1 35 0 13 1-2 0-34 1 68 1-3 0 29 1-13 0 20 1 58 0-25 1 11 1 17 0 41 1-29 0 38 1 6 0 75 1-11 1-3 0 16 1 7 0 11 1-2 0 21 1-49 1-11 0-2 1 8 0-30 1-41 0 6 1-16 1-37 0-4 1 8 0-24 1 27 0-32 1-23 1-1 0-25 1-5 0 14 1-26 0-45 1-1 1 25 0-38 1 8 0 18 1-31 0-8 1-10 1 16 0-43 1-22 0 11 1 16 0-34 1 12 1-6 0-41 1 21 0-4 1 1 0 20 1 3 1-12 0 9 1-30 0 26 1-32 0 13 1-15 1 44 0-28 1 23 0-34 1 29 0 12 1-12 1 1 0-2 1-4 0-7 1-11 0 32 1-21 1 0 0 3 1-29 0-3 1 1 0 56 1-36 1 18 0-46 1 25 0 8 1-13 0 30 1-24 1 8 0 25 1 13 0-20 1-11 0 5 1 27 1-41 0 1 1 0 0 34 1-11 0-24 1 1 1 12 0-9 1-10 0 5 1 12 0-5 1 12 1-5 0-6 1 22 0 1 1-42 0 40 1-12 1-9 0 31 1-8 0 6 1-21 0 42 1-22 1-18 0 46 1-47 0 42 1-30 0-5 1-2 1-5 0 1 1 22 0-9 1-29 0 32 1-32 1 34 0-18 1 4 0 26 1-56 0 77 1 16 1-34 0-8 1-23 0 31 1-24 0-3 1-10 1 39 0-10 1-39 0 25 1-19 0 41 1-31 1 16 0 11 1-16 0-21 1 11 0-20 1 46 1-11 0-49 1 11 0 63 1-25 0-13 1 27 1-7 0 11 1-19 0 37 1-25 0-28 1 17 1-8 0 9 1-4 0-5 1-17 0 20 1-13 1 42 0-48 1 17 0-3 1-9 0 26 1-2 1-2 0 23 1-38 0 17 1-10 0-2 1-32 1-2 0 34 1-37 0 42 1 11 0-33 1 23 1 4 0 29 1 16 0-21 1 2 0 5 1-42 1 13 0 13 1-27 0 36 1-48 0 13 1 4 1 10 0-29 1 10 0 14 1-3 0 11 1-23 1-4 0-30 1 26 0 14 1-21 0 17 1 20 1-26 0 22 1-5 0-15 1 11 0 3 1-39 1 54 0-57 1 41 0-11 1 3 0 15 1-9 1 3 0 1 1-17 0 18 1-25 0 30 1-31 1 26 0-12 1 36 0-41 1 40 0-28 1-20 1 55 0-6 1 14 0-37 1 25 0 13 1-22 1 49 0-53 1 22 0-33 1 1 0 3 1 2 1 4 0 3 1-47 0 41 1-11 1-20 0 19 1 24 0-5 1-39 0 13 1-1 1 30 0-30 1-10 0 12 1-44 0 47 1 16 1-7 0-37 1 79 0-29 1-11 0 2 1 18 1-17 1 12 0-30 1 32 0-32 1 23 1 10 0-11 1 5 0-20 1-6 0 35 1-18 1-10 0 5 1-5 0 24 1-6 0 11 1-49 1 18 0-3 1-34 0 36 1 13 0-23 1-7 1 65 0-63 1 53 0-17 1 6 0-14 1-5 1 43 0 6 1-49 0 33 1-22 0 15 1-17 1-6 0-15 1-2 0 28 1-5 0-20 1-9 1 12 0 20 1 9 0 3 1-15 0 14 1-34 1 49 0-26 1-17 0-3 1-3 0 14 1 22 1-26 0 30 1-12 0-32 1 10 0 2 1 8 1 38 0 8 1-39 0-2 1-22 0 31 1-35 1 7 0 11 1 17 0-8 1-42 0 48 1-13 1 11 0 17 1-52 0 31 1 13 0-42 1 53 1-9 0-3 1-16 0 23 1 5 0-25 1 2 1-6 0 18 1-1 0 8 1-11 0-12 1 9 1-15 0 32 1-33 0 2 1 14 0-35 1 39 1 15 0-11 1 3 0-2 1-6 0 1 1-18 1 25 0 8 1 16 0-41 1 12 0 2 1-15 1 1 0 3 1 4 0 34 1-57 0 8 1-6 1 29 0 4 1-27 0 34 1-32 0 46 1-25 1 13 0-42 1 38 0-15 1-13 0-15 1 44 1 3 0-13 1 27 0 3 1 4 0-37 1 27 1-11 0-19 1 13 0-14 1 27 0-23 1 10 1 9 0 19 1-19 0-33 1 48 0-21 1 16 1-17 0-7 1-17 0 29 1 14 0-21 1 3 1-2 0 11 1 4 0 10 1-22 0 6 1-24 1 33 0-19 1-25 0 7 1 11 0 21 1-21 1 24 0-21 1-22 0 4 1 46 0-39 1 2 1 1 0-6 1 36 1-37 0 47 1-14 1-22 0-18 1 21 0 4 1 23 0-17 1 25 1 27 0-58 1 1 0 30 1 8 0-67 1 22 1-20 0 37 1-3 0-14 1 19 0 18 1-77 1 25 0 12 1 10 0 6 1-6 0 28 1-30 1-14 1-22 0 32 1 12 0-32 1 36 1-39 0 36 1-13 0 36 1-22 0 1 1-9 1-13 0 10 1-6 0-9 1 50 0-4 1-10 1 1 0-36 1-25 0 57 1-2 0-2 1 4 1-4 0-25 1 25 1 20 0-13 1-5 1 1 0-18 1 9 0 21 1-51 0 17 1 30 1-25 0-17 1 38 0 4 1-5 0-2 1-30 1 73 0-62 1 0 0 24 1-3 0-10 1 2 1 7 0-3 1-19 0 20 1 5 0 1 1-8 1-19 0 24 1 0 0-7 1-37 0 37 1 24 1-15 0-14 1 17 0-4 1-2 0 17 1-2 1-17 0 45 1-19 0-53 1 21 0-7 1-54 1 14 0 31 1-29 0 1 1-11 0-8 1-13 1-18 0-13 1 10 0 23 1-6 0-3 1-34 1-22 0 32 1-20 0-20 1-12 0-27 1 20 1-64 0 15 1 8 0-19 1 19 0-29 1-27 1 4 0-14 1 71 0-10 1 19 0-24 1 11 1 37 0-11 1 18 0 36 1-10 0 9 1 7 1-2 0 31 1 1 0 49 1-20 0-32 1 33 1-1 0 50 1-20 0-12 1 24 1 32 0 3 1-5 0 7 1-20 0 22 1 11 1-2 0 28 1-14 0 48 1-21 0 3 1 3 1 19 0 17 1 3 0-18 1 9 0-29 1 11 1 6 0-12 1-18 0-9 1 14 0-11 1-37 1 8 0 7 1 2 0-10 1 20 0-49 1 40 1-35 0 7 1-17 0 6 1-31 0 50 1-35 1 7 0-38 1 39 0-10 1 26 0-7 1-15 1-16 0 48 1-32 0 22 1-4 0 4 1-52 1 0 0 11 1-7 0 25 1-7 0 6 1-10 1 3 0-1 1-9 0-15 1 26 0-30 1-25 1-8 0 41 1-17 0-2 1-16 0 29 1 14 1-10 0-25 1 16 0 5 1-19 0-4 1 1 1 54 0-6 1-24 0 6 1 18 0-1 1-6 1-29 0-2 1 14 0 12 1-6 0-16 1-16 1 37 0-48 1 15 0-1 1 5 0 16 1-57 1-13 0 58 1 11 0-1 1-4 0-14 1-3 1 37 0-49 1 31 0-24 1 2 0-19 1 10 1-9 0-18 1 9 0-15 1 48 0-34 1 10 1 37 0-19 1-19 0 23 1-12 0 5 1-27 1 30 0-10 1-10 0-8 1 15 0-9 1 20 1 2 0-15 1 35 0-9 1-41 0 48 1-41 1-14 0 26 1 19 0 8 1-34 0 15 1-2 1 20 0-9 1-8 0-5 1-3 0-3 1-9 1-7 0 37 1-21 0 3 1-6 0 14 1-16 1 17 0-12 1 24 0-57 1 54 0-22 1-25 1 26 0-17 1 12 0-12 1 5 0-4 1-7 1-6 0 20 1 2 0 1 1-18 0 9 1 5 1 2 0-3 1 9 0-17 1 16 0-30 1 11 1-6 0-4 1 21 0-43 1 17 0 2 1 11 1-23 0-2 1 11 0 11 1 6 0 21 1-2 1-18 0-12 1 8 0-8 1-11 0-1 1 39 1-19 0-19 1 33 0-35 1 7 0 7 1-8 1-7 0-7 1-5 0-9 1 23 0 15 1-32 1 27 0 6 1-31 0 39 1 0 0-14 1-10 1 21 0-4 1-18 0-29 1 62 0-66 1 45 1-40 0 37 1-1 0 11 1 7 0 3 1-27 1 29 0-6 1-28 0 19 1-21 0 16 1-25 1 24 0 19 1-32 0 10 1 26 0 10 1-67 1 11 0-31 1 13 0 60 1-34 0 2 1 3 1 28 0-41 1 9 0 9 1-9 0 16 1 21 1-36 0 13 1 22 0-23 1-21 0 28 1-1 1 10 0-33 1 15 0-1 1-57 0 31 1 36 1-44 0 40 1-25 0-18 1-17 0 32 1-12 1 54 0-71 1 55 0-22 1 20 0-43 1 30 1-21 0 30 1 14 0-15 1-9 0 13 1-4 1-23 0-25 1 32 0-28 1 28 0 62 1-15 1-38 0 15 1 18 0-34 1-34 1 54 1 1 1-10 0-2 1 3 0-9 1 14 1 5 0-25 1 56 0-23 1 7 0-30 1 12 1-9 0-16 1 7 0 51 1-34 0 9 1-6 1 4 0-12 1 24 0-20 1 23 0-32 1 10 1 5 0 13 1-30 0 20 1 2 0 3 1-14 1-2 0-7 1-21 0 29 1-15 0 15 1 28 1-11 0-5 1-7 0-7 1-12 0 21 1 23 1-19 0-24 1 34 0-31 1 2 0 33 1-6 1 14 0-49 1 22 0-6 1-8 1 1 0-31 1 36 0-13 1 24 0-14 1 35 1-7 0-6 1 2 0-15 1 27 0-15 1-11 1-5 0-3 1 1 0-14 1-18 0-14 1 8 1 38 0-31 1 24 0 15 1-18 0-4 1 4 1 22 0-26 1 26 0 27 1-22 0-3 1-3 1-10 0-21 1 38 0 1 1-40 0 29 1 19 1-8 0-4 1-28 0-4 1 15 0 19 1-30 1 43 0-48 1 13 0 34 1-42 0 41 1 0 1 2 0-9 1-3 0-20 1 15 0-7 1-18 1 1 0 34 1-22 0-7 1 11 0-29 1 43 1 5 0 20 1-37 0 20 1-25 0-4 1 2 1 13 0-12 1 10 0-17 1-4 0 30 1-36 1 17 0 29 1-17 0 3 1-11 0-6 1 28 1-21 0 1 1 8 0-29 1 15 0-61 1 83 1-6 0-46 1 29 0-4 1-29 0 18 1-8 1 1 0 8 1 18 0-19 1 6 1-11 1 30 0 33 1-11 0-38 1 26 0-20 1 29 1-50 0 53 1-50 0 37 1 15 0-20 1 25 1-29 0 33 1-38 0 7 1 9 0 32 1-56 1-3 0 36 1-19 0-14 1 10 0 20 1-29 1-2 0 22 1 1 0-23 1 4 0 22 1-42 1 6 0 43 1-5 0 18 1-19 1 10 1-32 0 10 1 32 0 3 1 5 0-2 1-6 1-22 0 30 1-4 0-30 1 42 0-6 1 10 1-21 0 11 1 64 0-53 1 8 0 23 1-51 1 42 0 8 1 5 0-3 1-36 0 36 1 15 1-39 0 58 1-5 0 22 1 11 0 10 1 27 1 13 0 25 1 5 0-8 1 56 0-13 1-19 1 47 0 7 1 20 0 18 1-12 0-10 1 38 1-18 0 15 1 21 0-8 1 10 0 25 1-35 1-8 0-27 1-10 0-21 1 0 0-17 1-10 1-18 0 45 1-37 0-41 1-23 0 26 1-26 1-23 0 7 1-33 0 30 1-42 0-29 1-18 1 48 0-49 1-8 0-1 1-30 0-18 1 0 1 8 0-14 1-23 0 1 1 25 0-16 1-35 1 1 0-17 1-2 0 25 1-48 0 17 1-7 1 5 0-6 1-14 0 3 1-28 0 14 1 8 1 18 1-13 0-6 1-3 0-2 1 35 1 13 0-11 1-17 0-1 1 44 0-20 1-14 1 23 0-13 1-29 0 34 1 1 0 20 1-35 1 28 0-1 1-7 0-6 1-1 0-4 1 5 1 8 0-13 1-9 0 5 1 0 0-1 1 3 1-31 0 28 1 24 0-23 1-28 0-15 1 24 1 2 0 11 1-12 0 3 1 29 0-14 1 23 1-37 0-12 1 39 0-24 1 5 0 29 1-17 1 22 0-23 1 14 0 4 1 6 0-6 1-22 1 0 0 21 1 4 0 1 1-38 1 31 1-19 0 12 1 9 0-6 1 9 0 26 1-47 1 21 0-16 1 4 0-13 1 27 0-12 1 36 1-10 0-41 1 38 0-16 1 0 0 23 1 17 1-59 0 3 1 3 0 26 1-18 0 28 1-56 1 24 0 31 1 4 0-44 1-7 0 13 1-2 1 0 0-3 1 61 0-25 1-28 0 4 1 11 1 7 0 16 1-11 0-19 1-16 0 27 1-2 1-29 0-8 1 29 0 14 1-6 0-5 1-7 1 43 0-31 1-16 0-2 1 26 1-25 0 43 1-51 0 10 1-13 0 38 1-36 1 2 0 37 1 10 0-29 1 35 0-9 1-50 1 45 0 16 1-22 0-15 1 14 0-7 1 23 1 17 0-13 1 0 0 27 1-36 0 18 1-45 1 6 0 24 1 9 0-2 1 0 0-9 1 11 1 7 0-20 1-31 0 18 1 49 0-38 1-5 1-11 0 15 1-15 0 27 1-8 0-40 1 24 1 13 0-6 1 8 0 10 1-15 0-16 1 18 1-14 0-8 1-1 0 44 1-28 0-17 1 8 1-6 1 0 0 19 1-14 0-9 1 34 1-12 0 1 1 7 0-1 1 18 0-22 1 1 1 19 0-27 1 3 0 21 1 29 0-38 1 7 1-29 0 10 1 45 0-32 1 3 0-15 1 30 1-8 0 6 1 0 0-25 1-8 0 9 1 2 1 9 0-10 1-23 0 61 1-12 0-31 1 56 1-51 0-10 1 5 0 42 1-25 0-16 1 1 1 20 0-30 1 20 0-5 1 3 0 16 1-12 1 10 0-10 1-24 0 12 1 15 0 37 1-51 1 27 0-30 1 21 0 11 1-17 1-11 1 12 0 1 1 9 0-14 1-5 0 7 1 7 1 15 0 14 1-33 0 34 1-14 0-21 1 5 1-13 0-4 1 16 0 12 1-9 0 16 1-1 1 1 1-1 0-37 1 37 0-35 1 51 1-29 0 5 1-7 0 26 1-25 0 10 1-14 1 14 0-22 1 20 0-12 1-13 0 10 1-9 1-8 0 12 1-32 0 39 1 11 0-21 1 18 1 10 0-29 1 46 0-34 1 26 0-2 1 22 1-20 0 9 1 17 0 8 1-19 0 5 1-42 1 5 0 12 1 7 0 4 1 14 0-20 1 11 1 1 0-21 1-18 0 29 1-1 0 24 1-16 1 6 0-20 1-2 0 16 1 14 0-44 1 17 1-19 0 4 1 27 0-7 1-16 0 6 1 21 1-37 0 30 1-14 0-37 1 54 0 21 1-36 1 5 0-6 1 16 1 18 0-11 1-10 1-6 0 22 1-23 0 2 1 17 0 2 1-24 1 4 0 48 1-61 0 33 1-9 0 39 1-36 1-2 0 7 1-16 0 26 1-8 0-12 1-1 1-26 0 2 1 21 0-17 1 5 0-10 1 19 1 6 0 12 1 7 0-8 1 24 0-8 1 7 1-6 0-11 1 11 0-9 1-6 0-7 1-35 1 66 0-18 1 15 0-26 1 11 0-19 1-21 1 47 0-11 1 16 0-14 1 18 0-59 1 68 1-31 0 14 1-30 0-5 1 43 0-65 1 40 1-2 0 2 1-21 0 27 1-19 0 5 1 8 1 28 0-19 1 1 0 12 1 4 0-29 1 42 1-20 0-4 1-29 0 24 1 10 0 8 1-7 1-10 0 3 1-16 0 5 1 30 0-18 1 14 1-1 0 15 1-40 0 9 1-35 0 20 1 3 1 31 0-24 1-16 0 44 1 14 0-17 1-6 1 28 0-46 1 29 0-27 1 46 0-15 1 0 1 2 0-31 1-16 0 2 1 32 0 1 1-54 1 82 0-12 1 2 0-6 1-7 0-4 1-5 1-6 0-20 1 24 0 11 1-19 0 12 1 5 1-6 0-7 1 9 0-4 1-21 0 47 1 30 1-45 0 12 1-36 0 17 1 4 0 16 1-23 1 20 0-14 1 21 0-23 1-6 1 5 0-5 1 11 0-9 1 15 0-2 1 3 1-6 0 5 1 19 0-8 1-16 0 18 1-11 1-32 0 12 1-4 0 3 1 50 0-28 1-2 1 37 0-41 1 9 0 23 1-6 0 4 1 10 1-40 0 3 1 34 0-14 1-7 0-4 1 5 1 5 0-36 1 26 0 30 1-43 0 19 1 15 1-57 0-10 1-41 0 8 1-19 0 13 1 0 1-31 0-6 1-32 0 40 1-35 0-11 1 14 1-59 0-11 1-1 0-18 1 62 0-23 1-8 1 8 0 34 1 21 0-13 1-13 0 6 1 39 1 19 0-14 1-30 0 59 1-22 0 35 1 10 1 11 0-19 1 9 0 25 1 15 0-11 1-4 1-7 0-10 1 44 0-8 1-21 0 74 1 3 1 11 0-22 1 20 0-24 1 31 0 8 1 22 1-25 0 42 1 19 0 7 1 6 0 19 1 0 1-10 0-8 1-8 0 16 1-19 0 5 1-3 1-25 0 27 1-53 0 2 1 17 0-12 1-28 1 30 0-31 1 31 0-31 1-9 0 6 1 9 1-2 0-28 1 0 0 3 1 1 0-25 1 16 1-14 0-22 1 20 0-12 1 40 0-12 1-4 1-9 0 9 1 1 0-34 1 34 0-43 1-4 1-2 0 10 1 2 0 3 1-41 0 15 1-4 1 23 0-8 1 61 0-28 1-19 0-39 1 28 1-17 0 11 1-18 0-2 1-37 0 26 1 29 1-23 0 8 1-9 0-16 1 33 0-50 1 41 1-20 0 3 1-15 0 46 1-29 0 6 1 8 1 24 0-38 1-28 1 12 0 19 1-9 1-1 0 37 1 18 0-25 1-11 0-25 1 11 1 0 0-17 1 3 0-17 1 30 0-32 1 48 1-28 0-17 1 23 0-22 1-6 0 27 1 5 1-47 0 23 1 42 0-47 1-3 0-6 1-33 1 55 0-12 1 11 0 22 1-14 0-5 1-51 1-16 0 56 1-14 0 6 1-4 0 7 1 7 1 0 0-29 1 24 0-38 1 17 0-23 1 36 1-15 0-13 1-4 0 11 1 24 0-1 1-63 1 36 0 17 1-1 0-4 1-35 0 17 1 32 1-29 0-11 1-7 0 35 1 15 0-14 1-22 1 33 0-33 1 5 0 27 1-1 0-1 1-2 1-21 0 6 1-2 0-17 1 1 0 22 1-11 1-19 0 10 1-3 0-3 1 35 0 2 1-8 1-26 0 21 1-24 0 34 1-6 0 8 1-22 1 52 0-17 1 11 0-38 1 1 0 28 1-11 1-30 0-1 1-10 0 24 1-22 0 40 1-11 1 4 0-12 1 29 0-4 1-29 0-17 1 47 1-58 0 39 1-45 0 75 1-25 0-28 1 12 1 15 0-57 1 12 0 41 1-12 0 9 1-5 1-7 0 20 1 3 0-34 1 28 0-23 1-6 1 17 0-21 1 20 0-25 1 35 0-2 1 13 1-11 0-18 1 23 0 15 1-13 0 14 1-47 1 9 0 10 1-11 0 20 1-32 0 9 1-15 1 25 0-3 1-25 0 24 1 23 0-13 1-2 1 36 0-58 1 17 0-26 1 26 0-26 1 29 1 24 0-18 1 10 0-32 1 3 0 14 1 0 1 56 0-60 1 0 1-1 0 15 1-16 1-3 0 12 1 15 0-35 1 18 0 12 1 31 1-54 0 15 1 8 0 1 1 8 1-33 0-20 1 38 0 3 1-23 0 22 1-24 1 10 0-14 1 10 0 26 1-9 0 15 1-1 1 11 0-27 1 11 0 22 1-2 0-30 1-20 1 38 0-4 1-3 0-37 1 29 0 14 1-15 1-8 0 17 1-29 0 51 1-29 0-32 1 69 1-41 0-26 1 22 0-9 1 9 0 1 1-7 1 24 0-11 1 8 0-20 1 31 0-18 1 9 1 12 0-21 1 4 0-6 1-3 0-11 1 29 1-29 0 2 1-1 0 12 1 25 0-11 1 8 1-34 0-31 1 56 0-19 1 20 0 12 1-17 1-29 0 14 1-14 0 38 1-11 0-16 1 4 1-1 0 35 1-56 0 29 1-17 0 26 1 6 1-31 0-10 1 7 0 27 1-43 0 32 1 16 1-24 0 7 1-14 0 8 1-12 0 16 1-13 1 12 0 40 1-31 0 7 1-5 0-7 1-10 1 13 0-11 1 22 0-15 1-23 0 24 1-12 1-8 0 11 1 0 0-11 1 23 0 21 1-14 1-13 0-15 1-1 0-14 1 14 0-1 1 6 1 10 1 32 0-17 1 36 0-46 1-7 1 14 0 17 1-15 0-17 1-2 0 11 1 20 1-17 0 1 1-4 0-3 1 13 0-2 1 6 1-11 0 8 1-13 0-5 1 38 0-22 1-8 1 4 0-13 1 24 0 11 1-29 0 33 1 7 1-19 0-22 1 31 0-20 1 40 0-25 1 19 1 2 0-16 1-21 0 36 1-39 0-12 1 13 1-10 0-21 1 13 0 7 1-3 0 10 1-19 1 19 0 19 1-3 0-28 1 21 0-3 1-27 1 12 0 15 1 15 0-24 1 4 0-33 1 33 1-13 0 11 1 0 0-13 1 50 0-50 1 50 1-30 0-35 1 28 0-4 1 0 0-11 1 42 1-56 0 2 1 8 0 40 1-21 0-21 1-6 1 54 0-14 1-20 0 21 1 18 0-58 1 30 1 4 0 16 1-23 0 23 1-21 0 21 1-40 1 68 0-53 1-14 0-11 1 34 0-1 1-12 1-32 0 27 1 29 0-66 1 31 0 8 1 35 1-44 0 44 1 7 0-22 1 4 0 23 1-47 1 16 0 10 1-31 0 27 1-10 0 17 1-7 1 6 0 37 1-38 0-1 1 21 0-20 1-9 1 36 0-35 1-12 0-9 1 1 0 4 1 12 1 19 0-25 1-10 0-9 1 22 0-1 1 21 1-13 0 8 1-1 0 1 1-7 0 27 1-46 1 24 0-9 1-12 0 7 1 24 0-33 1 0 1 10 0 4 1-13 0 37 1-15 0-16 1 21 1 26 0-6 1-14 1 11 0-48 1 51 1-47 0 18 1-11 0 22 1-19 0 2 1 7 1-12 0 4 1-4 0 15 1-1 0-19 1 17 1 44 0-35 1-17 0-7 1 8 0 13 1-50 1 38 0-4 1 29 0-21 1 20 0-44 1 11 1 27 0-24 1 15 0-2 1-19 0 11 1 21 1-6 0-18" transform="scale(0.25)" fill="none" stroke="#231f20" stroke-width="5.2" stroke-linejoin="round"/>
<path d="M808 5848l1 0 0-16 1 6 0-1 1 0 0 28 1-31 1 2 0-1 1 22 0-17 1 6 0 14 1-2 1-25 0 35 1-22 0 7 1-11 0 16 1-30 1-5 0 13 1 15 0-16 1 15 0 9 1-40 1 35 0-4 1-21 0 8 1-4 0 18 1-18 1 17 0 10 1-42 0 29 1-7 0-5 1 13 1-6 0-18 1 12 0 7 1-11 0-9 1 51 1-14 0-2 1-16 0-29 1 23 0 10 1-14 1-3 0 12 1 23 0-25 1-4 0-11 1 30 1-14 0-2 1-1 0-2 1 11 0 24 1-28 1 5 0-18 1 15 0-23 1 39 0-25 1 13 1-5 0 17 1-11 1-30 0 6 1 0 1 2 0 2 1 24 0-14 1-1 0-14 1-1 1-6 0 34 1-10 0 9 1-7 0-17 1 9 1-30 0 36 1-9 0 3 1 1 0 9 1-9 1 5 0-8 1 7 0 9 1 8 0-18 1-15 1-9 0 19 1-7 0 18 1 16 0-30 1 29 1-1 0-30 1 5 0 14 1-22 0-3 1 22 1-19 0-1 1 17 0-6 1 3 0 19 1 1 1-38 0 37 1-12 0 4 1 5 0 11 1-15 1-13 0 7 1-25 0 29 1-4 0-18 1-2 1 2 0 8 1 18 0-10 1-9 0 4 1 19 1-22 0-7 1 40 0-40 1 17 0 6 1-10 1-6 0 19 1-16 0 8 1-8 0 25 1-32 1-4 0 4 1 9 0-3 1 4 0-11 1 14 1-24 0 2 1 13 0-7 1-2 0 2 1-2 1 14 0 6 1 6 0-15 1-12 0-6 1 0 1-5 0 30 1 17 0-22 1 7 0-31 1 29 1-7 0 10 1-11 0 1 1-2 0 2 1 34 1-18 0-28 1 18 0-1 1 31 1-51 0 30 1 2 0 18 1-5 0-24 1-19 1 7 0 3 1 5 0-5 1-9 0 26 1-7 1-8 0-3 1-4 0-8 1 44 0-39 1-4 1 30 0-22 1 12 0-17 1 7 0-21 1 29 1 21 0-22 1 5 0 15 1 2 0-25 1 1 1 4 0 20 1-33 0 9 1 6 0 5 1 3 1-8 0 19 1-28 0 37 1-24 0 7 1-25 1 20 0-22 1-5 0 27 1-12 0-16 1-12 1 38 0-6 1 13 0 3 1 2 0-46 1-13 1 52 0-32 1 41 0-8 1-6 1-20 1 21 0-1 1 7 0 21 1-35 0 15 1 14 1-34 0-2 1 0 0-5 1-7 0 32 1 13 1-12 0-15 1 0 0 11 1-14 0 6 1-6 1 17 0-4 1-8 0-18 1 8 0 18 1 16 1-28 0 43 1-38 0-1 1 8 0-15 1 8 1 1 0-8 1 3 0 12 1 9 0 14 1-29 1-23 0 11 1-16 0 24 1-9 0 16 1-5 1 4 0-5 1 24 0-47 1 37 1-8 1-4 0 2 1-10 0-9 1 25 1 3 1-13 0 15 1-5 0 16 1-24 0-29 1 14 1 18 0-25 1 28 0-18 1 14 0 4 1-14 1 17 0 8 1-24 0 2 1-4 0 17 1 6 1-22 0 3 1 15 0-11 1 22 0-23 1-7 1-6 0 9 1-14 0 26 1 19 0-46 1 0 1 3 0 13 1-10 0 24 1 3 0-24 1 6 1-8 0 17 1 15 0-37 1 8 0-7 1 24 1 1 0-16 1 7 0 33 1-3 0-39 1 14 1-4 0 11 1-21 0 21 1 5 0 3 1-35 1 46 0-37 1-7 0 33 1-6 0-16 1 11 1-5 0-4 1-18 0 12 1 7 0 18 1 5 1-24 0-9 1-4 0 23 1-19 0 40 1-24 1 0 0 6 1-9 0-11 1 14 0 4 1-13 1 2 1-25 0 15 1 9 0-13 1 21 1 0 0-36 1 23 0 16 1-8 0 11 1 0 1-30 0 22 1-16 0-19 1 39 0-16 1 10 1 10 0 3 1-17 0-9 1 4 0 24 1-18 1 28 0-3 1-30 0 31 1-33 0 4 1 0 1-14 0 15 1 8 0 25 1-10 0-23 1 13 1 12 0-17 1-9 0 9 1-14 0 13 1-10 1 21 0-20 1-13 0 26 1-12 0-10 1 14 1-17 0-15 1 7 0 33 1 8 0-23 1 12 1-28 0 34 1-14 0 11 1-11 0 4 1-22 1 26 0-13 1 10 0 17 1-57 0 46 1-9 1 0 0 9 1-16 0-20 1 16 0 3 1-27 1 39 1-22 0 15 1-3 0-4 1-2 1 15 0-8 1 30 0-19 1 18 0 3 1-39 1 22 0 1 1-1 0-3 1 10 0-5 1-15 1 20 0-19 1 7 0-13 1-10 0 3 1 36 1-8 0-18 1 18 0-24 1 0 0-15 1 17 1 13 0 27 1-34 0 11 1 3 0 6 1-23 1-8 0 26 1-27 0 26 1-13 0 7 1 4 1-32 0 50 1-48 0 3 1 25 0-46 1 32 1 15 0-10 1 1 0-5 1 1 0-1 1 33 1-16 0-21 1 12 0 17 1 7 0-36 1 16 1-32 0 23 1 30 0-17 1-16 0-13 1 13 1 1 0 5 1 9 0-5 1-22 0 17 1 4 1-10 0 32 1-35 0 21 1-1 0-1 1-2 1-13 0 12 1 9 0-26 1 32 0-28 1 19 1-18 0 25 1-1 0 2 1 8 0-29 1-39 1 22 0 4 1 29 1-25 1 24 0-17 1-1 0 9 1-24 0 28 1-5 1 15 0-10 1-5 0 15 1-14 0 4 1-19 1 4 0 7 1 13 0 6 1 0 0-28 1 6 1-11 0-10 1 35 0-31 1 28 0-18 1 2 1 14 0-29 1 19 0-19 1 13 0 1 1 6 1-18 0 15 1 9 0-14 1 18 0-1 1-7 1-4 0 9 1-14 0 16 1-5 0 16 1-20 1-13 0 18 1-10 0 25 1-34 0 4 1 5 1 1 0 6 1 33 0-34 1 22 0-28 1-1 1 5 0 23 1-17 0 4 1-11 0 7 1 33 1-8 0 29 1 68 0 32 1 40 0 35 1 81 1 8 0 7 1 26 0 14 1-2 0 21 1-21 1 35 0-9 1 24 0 32 1-11 0 37 1 0 1 4 0-17 1 12 0-3 1-3 0-21 1-29 1 25 0-40 1 4 0-24 1 22 0 4 1-4 1-34 0 14 1-11 0-3 1-1 0-12 1 13 1-44 0 15 1-10 0-27 1 15 0-8 1-13 1 19 0-14 1 10 0-25 1 18 0-18 1-5 1 5 0 12 1-32 0 2 1-3 0 4 1-31 1 44 1-6 0-21 1-24 0 6 1 13 1-10 0-18 1 11 0-18 1 0 0 17 1-18 1-10 0 2 1-1 0 13 1 1 0-6 1-19 1-3 0 30 1-24 0-10 1 17 0-29 1 32 1 0 0-17 1-54 0 44 1 4 0-6 1 29 1-47 0 1 1 21 0-16 1 12 0-17 1-11 1-9 0 10 1-5 0 18 1-6 0-30 1 38 1-22 0-14 1 42 0-30 1 3 0 6 1-24 1 15 0-2 1-16 0 8 1 2 0-8 1-32 1 24 0 9 1 16 0-12 1-3 0-21 1 26 1 24 0-34 1-8 0 4 1 3 0-17 1 4 1-19 0 9 1 3 0-7 1-8 0 37 1-23 1 7 0-33 1 15 0-4 1 32 0-17 1-13 1 10 0-7 1 4 0-30 1-12 0 26 1-3 1-3 0 16 1-26 0 1 1-10 0-20 1 7 1 5 0 6 1 24 0-17 1-7 0-23 1 32 1-17 0-28 1 34 0-2 1 2 0-2 1-13 1 9 0-10 1 10 0 6 1 1 0-16 1 32 1-21 0-27 1 47 0-7 1 3 0-20 1-2 1-4 0 21 1 2 0-1 1 0 0-22 1 12 1 3 0-13 1 23 0-55 1 33 0-10 1 4 1 0 0-2 1 7 0-2 1-16 0 29 1 2 1-22 0 25 1-6 0 7 1-6 0-12 1 14 1-33 0 41 1-35 0 1 1 20 0-7 1 14 1 17 0-15 1-13 0-14 1 11 0-14 1 16 1-41 0 30 1 3 0-7 1 21 0-1 1-38 1 44 0-22 1 10 0 3 1-14 0 5 1 5 1-17 0 13 1 12 0-12 1-2 0-6 1-4 1 1 0-15 1 16 0-8 1 13 0 18 1-12 1-18 0 14 1-4 0-8 1 21 0 9 1-6 1-8 0-15 1 8 0 11 1-7 0 5 1-20 1-32 0 46 1-4 0 12 1 1 0-4 1-16 1-12 0 9 1-4 0-9 1 12 0 20 1-21 1 10 0 8 1-23 0 5 1-6 0-14 1 27 1 3 1-9 0-11 1 31 0-43 1 29 1-8 0-14 1 31 0 6 1-28 0-3 1 6 1-8 0 29 1-41 0 4 1 19 0-10 1 2 1 2 0 5 1 17 0-29 1 26 0-25 1-2 1 24 0-5 1 6 0 2 1-17 0-2 1 16 1-15 0 10 1 24 0-43 1 2 1 24 0-1 1-19 0 4 1-11 0-2 1 10 1 10 0-29 1-1 0 25 1-10 0 20 1-7 1-5 0 6 1 41 0-44 1-10 0-14 1 30 1 12 0-17 1 1 0-2 1 7 0-6 1 8 1-1 0-3 1 20 0-32 1 3 0-5 1 11 1 5 0 21 1-27 0-2 1 2 0-15 1 10 1-26 0 35 1-1 0-2 1 9 0-13 1 7 1-5 0-4 1 6 0 7 1 0 0-27 1 4 1 4 0-9 1 7 0-3 1-3 0 13 1 17 1 2 0 3 1-2 0-50 1 58 0-20 1-26 1 7 0 2 1-4 0 25 1-15 0 30 1-4 1-46 0 18 1 18 0-5 1-7 1-6 1-2 0 17 1-6 0-10 1-14 0 28 1-8 1-36 0 34 1-20 0 16 1-4 0 17 1-29 1 39 0-17 1 28 0-20 1-4 0-14 1 34 1-10 0-18 1-9 0-2 1 2 0 6 1-13 1 6 0 13 1-9 0-1 1 20 0 4 1-14 1 0 0 1 1-3 0 4 1 5 0-19 1-6 1 7 0-1 1 16 0 4 1-11 0-15 1-1 1-5 0 25 1 12 0-18 1 3 0 5 1-6 1 6 0-15 1 0 0 2 1 22 0-14 1 14 1-15 0 15 1-14 0-15 1-6 0 32 1-24 1 9 0-20 1 21 0-14 1 34 0-29 1 21 1 26 0-14 1-10 0-27 1 30 0 4 1-26 1 8 0-4 1-1 0 13 1 5 0-3 1 7 1-10 0-6 1 15 0-30 1 12 0 7 1 6 1-25 0 31 1-33 0 8 1 26 0-44 1 22 1 25 0-8 1-11 0-4 1 7 0-29 1 43 1-26 0-4 1 23 0-4 1-6 0 2 1-5 1-20 0-7 1 36 0-5 1-9 0 23 1-24 1 2 0 19 1-23 0-4 1 8 0-10 1 12 1 11 0-21 1 12 0 8 1-17 0 7 1 14 1-24 0 19 1 25 0-36 1-17 0 10 1 7 1 23 0-8 1-13 0-25 1 23 0 31 1-47 1 22 0 2 1 2 0-3 1 3 0 4 1-9 1 3 0-10 1 2 0-11 1 25 0-52 1 48 1-33 0 29 1-11 0 46 1-35 0-12 1 25 1-8 0-22 1 11 0 18 1-53 0 9 1 12 1 23 0-40 1 16 0 1 1 24 0-8 1-7 1-15 0-15 1 31 0 14 1-25 0-4 1 32 1-35 0-9 1 38 0-4 1 8 0-26 1 8 1-4 0 12 1-7 0 3 1 4 1-11 1 20 0-4 1-3 0-19 1 7 0 4 1-28 1 40 0-16 1-14 0 35 1-31 0 11 1-5 1-17 0 12 1 41 0-7 1-33 0 22 1-14 1 17 0-33 1 3 0 16 1-6 0 13 1 0 1-7 0-11 1 10 0-7 1-15 0 35 1-34 1 7 0 23 1 12 0-5 1-14 0 39 1-45 1 36 0-35 1 19 0 6 1-2 0-18 1 1 1-13 0-27 1 23 0-26 1-8 0-27 1 10 1 3 0 7 1 15 0 21 1 4 0 27 1 2 1 43 0 11 1-8 0-5 1-10 0-24 1-5 1 8 0-18 1-5 0-8 1 12 0-7 1 5 1 10 0-16 1-10 0 12 1 8 0 7 1-18 1 8 0-21 1 2 0-5 1 24 0-19 1 13 1 4 0-16 1-6 0 31 1-7 0 5 1-11 1 13 0-11 1-23 0 22 1-5 0-19 1 3 1 13 0-30 1 28 0-19 1 30 0 2 1-27 1 3 0 6 1 2 0-9 1 22 0-11 1-17 1 22 0-12 1 11 0 14 1-26 1 15 0-5 1 6 0 19 1 0 0-45 1 45 1-6 0-26 1 21 0-17 1 12 0-32 1 38 1-40 0-2 1 25 0 10 1-15 0 14 1 9 1-11 0 18 1-5 0-23 1-9 0 5 1 6 1 24 0 4 1-44 0 49 1-58 0 7 1 4 1 35 0-33 1 22 0-7 1-10 0 10 1-13 1 15 0-5 1 48 0-63 1 27 0-14 1 30 1-9 0-17 1 10 0-29 1 10 0 23 1-30 1 28 0 1 1-3 0-6 1-1 0-21 1 19 1-31 0 8 1 22 0 10 1-25 0 30 1-15 1-13 0 23 1 4 0-10 1 5 0 28 1-40 1-10 0 9 1 8 0-8 1 13 0-9 1 0 1-16 0 29 1-35 0 38 1-39 0 3 1 8 1 29 0-32 1 27 0-14 1-13 0 25 1-16 1-5 0 20 1-9 0-2 1-4 0 33 1-49 1 14 0-4 1 2 0-14 1 19 0 9 1-2 1-10 0-9 1 17 0-13 1 15 0-2 1 23 1-23 0 17 1-15 0 12 1-3 0 2 1-27 1 15 0-12 1 22 0-12 1 3 0-18 1 16 1 8 0-8 1 7 0 10 1-5 0 8 1-34 1 8 0-5 1 21 0 12 1-2 0-9 1-19 1 6 0-27 1 18 0 15 1-6 0 9 1 14 1-19 0-2 1-7 0 36 1-30 0-1 1 17 1-5 0-11 1-2 0 19 1 4 0 6 1-13 1-20 0-13 1 9 0 15 1-3 0-5 1-2 1 7 0 11 1-8 0-26 1 10 0 21 1-24 1 20 0-17 1-10 0 40 1-20 0 14 1-20 1 8 0 22 1-12 0-7 1 5 0-19 1 27 1 10 0 13 1-44 0 5 1 0 0-1 1-13 1 9 0 14 1-18 0 35 1-50 0 17 1 14 1-5 0-9 1 29 1-9 0-8 1-16 1-6 0 29 1 5 0-3 1-5 0-1 1 1 1 19 0-41 1 12 0 10 1 6 0-4 1 12 1-8 0-9 1-10 0-10 1 18 0 20 1 0 1-43 0 28 1-10 0 11 1-22 0 45 1-49 1 4 0 29 1 8 0-26 1-18 0 37 1-12 1-8 1-13 0 17 1-11 0 17 1-15 1 22 0-12 1 1 0-10 1 17 0-12 1-11 1-16 0 26 1-3 0 26 1-4 0-13 1-21 1 36 0 17 1-24 0-12 1 8 0-19 1 19 1-27 0-9 1 15 0 23 1-21 0-14 1 27 1-9 0 17 1 25 0-19 1 2 0-10 1-19 1 6 1 22 0-7 1 0 0 5 1-13 1 16 0-28 1 51 0-22 1-4 0 2 1 4 1 4 0-21 1 9 0 9 1-12 0 2 1-7 1 21 0-11 1-19 0-13 1 22 0 21 1-31 1 16 1 11 0-10 1 4 0-11 1-5 1 7 0 2 1-4 0 7 1-15 0 31 1-23 1-7 0 17 1-16 0 4 1 7 0 2 1-1 1-12 0 34 1-52 0 22 1 21 0-19 1-5 1-12 0 31 1-22 0 13 1 4 0-20 1 22 1 0 0 6 1-28 0 19 1-9 0-3 1 38 1-23 0-9 1-9 0-10 1 16 0-15 1 15 1 19 0-11 1 17 0-35 1 14 0 26 1-46 1 12 0 24 1-28 0-1 1 9 0-13 1 25 1-33 0 63 1-24 0-25 1 25 0-4 1 4 1 26 0-26 1-6 0 5 1-19 0 1 1 18 1 18 0-28 1 17 0 17 1-33 0-8 1 20 1-27 0 8 1-2 0 4 1 13 1-42 0 14 1 26 0-4 1 18 0-31 1 34 1-4 0-10 1 7 0-18 1 2 0 3 1-21 1 21 0-21 1 44 0-15 1 45 0-45 1-31 1 32 0-21 1 24 0 14 1-53 0 34 1-15 1 7 0 24 1-9 0-5 1-18 0 3 1 6 1 11 0-8 1-26 0 4 1 22 0 19 1-19 1-11 0 13 1-13 0 11 1 16 0-39 1 17 1 4 0-2 1-1 0 5 1-2 0 15 1-25 1 13 0 7 1 6 0 4 1 0 0-40 1 29 1 11 0-21 1-9 0 29 1-36 0 11 1 8 1-5 0-3 1-1 0 30 1-17 0-6 1-10 1-4 0 14 1 4 0-37 1 16 0 19 1 11 1 15 0-12 1-13 0 3 1-15 0 13 1 5 1-20 0 20 1 7 0 5 1 10 0 8 1-38 1 24 0 29 1 16 0 16 1 26 0 27 1 42 1 46 0 34 1-21 0 49 1 22 0 25 1 58 1 4 0 43 1 25 0-8 1 30 0-33 1 12 1-31 0-10 1 12 0-22 1 20 0-16 1-5 1-19 0 8 1-12 1-25 0 13 1-35 1 27 0-1 1-20 0 3 1-2 0-14 1-14 1-21 0 34 1-34 0-5 1 21 0-17 1-24 1 4 0 7 1 3 0-20 1-8 0 3 1-25 1 20 0-15 1 19 0-41 1 11 0-7 1 13 1 28 0-37 1 2 0 9 1 8 0-19 1 32 1-23 0-10 1-7 0-4 1 1 0 17 1-10 1 7 0-12 1-7 0-15 1 7 0 13 1 5 1-36 0 14 1 2 0-34 1 41 0-3 1 0 1 24 0-59 1-3 0 3 1 25 0-12 1 9 1-31 0-2 1 23 0-2 1-24 0 7 1-17 1 3 0-15 1 45 0-15 1 2 0-5 1 7 1-6 0-32 1-3 0 17 1-3 0 14 1-13 1 8 0-14 1-6 0-19 1 5 0-1 1 16 1-4 0-12 1 20 0 2 1-22 0 12 1 10 1 4 0-31 1 15 0 4 1-43 0 15 1 26 1-4 0-9 1-3 0-2 1-18 0 14 1 29 1-23 0 11 1-33 0 14 1 2 0 3 1-6 1-2 0 19 1-27 0 39 1-22 0-12 1 9 1-9 0 3 1-21 0 21 1-2 0 12 1-17 1-18 0 23 1 3 0-53 1 37 0 7 1-28 1 25 0-10 1 21 0-36 1 24 0 5 1-29 1-19 0 15 1 3 0 3 1-24 0 20 1 5 1 18 0 19 1-28 0 2 1-4 0-19 1 41 1-33 0 13 1 26 0-47 1 19 0-36 1 34 1 5 0-13 1-8 0 47 1-32 0-12 1-13 1-4 1 2 0-1 1 4 0-13 1 19 1 5 0 15 1-42 0-3 1 20 0 5 1 10 1-30 0 32 1-26 0-1 1-8 0 20 1-16 1 5 0-7 1-15 0 20 1-5 0-10 1 18 1-18 0 21 1-7 0 11 1-35 0 15 1-31 1 47 0-31 1 17 0-2 1 8 0-32 1 6 1-14 0 18 1 0 0 1 1-1 0-23 1 28 1-4 0 16 1-29 0 7 1 6 0 9 1-41 1 32 0-32 1 34 0-17 1 4 0-15 1-16 1 32 0 23 1-7 0-45 1 25 0-8 1 6 1-11 0 17 1-14 0 1 1 0 0-4 1-4 1 5 0 11 1 2 0-21 1 13 0-9 1 7 1 14 0-9 1-14 0 15 1-7 0-25 1 41 1-10 0-14 1 6 0 21 1-14 0-17 1 7 1 31 0-19 1-24 0 6 1-1 1 10 0-9 1 18 0 1 1-20 0 22 1-27 1 22 0 1 1 10 0-32 1 11 0 5 1-11 1 35 0-38 1-5 0 40 1-26 0 2 1 13 1-24 0 5 1 3 0 14 1 0 0-22 1 8 1-6 0 17 1-23 0 22 1-1 0 14 1-1 1-7 0-17 1-20 0 39 1-5 0-16 1-3 1 15 0-5 1-8 0 2 1-13 0 7 1 8 1-14 0-3 1 1 0 14 1 7 0 7 1-5 1 4 0 17 1-8 0-20 1-19 0 5 1 5 1-8 0-7 1 36 0-15 1 0 0-4 1 8 1-7 0 14 1-34 0 10 1 28 0-11 1 9 1-30 0 33 1-19 0 16 1-21 0 7 1-26 1 13 0 7 1-8 0 11 1 8 0 9 1-18 1 20 0-5 1-5 0-1 1-18 0 19 1-32 1 9 0 21 1 1 0-29 1 34 0-17 1 22 1-28 0 6 1 0 0 1 1 21 0-2 1-17 1 3 0 12 1-7 0 3 1 5 0-1 1-36 1 10 0 42 1-12 0-8 1 10 0-41 1 25 1 16 0-12 1 11 0-26 1 3 0 22 1-19 1 26 1-43 0 14 1 10 0 6 1-42 1 28 0 19 1-15 0-20 1 35 0-15 1-8 1-11 0 16 1-14 0 15 1-20 0 13 1 21 1-26 0 20 1-12 0-15 1 25 0-30 1 16 1-12 0 34 1-9 0-9 1 26 0-34 1 17 1-9 0 8 1-6 0 13 1-22 0 20 1-2 1-8 0 14 1 2 0-19 1 18 0-25 1 17 1 5 0 7 1-14 0-3 1-4 0 1 1 2 1 21 0-45 1 39 0-13 1-1 0-6 1 10 1-12 0 15 1 2 0-12 1 3 1-9 1 25 0-14 1-21 0 33 1-27 0-11 1 9 1 10 0 7 1-2 0-13 1 20 0-1 1-4 1-1 0-2 1 7 0 4 1-10 0-2 1-17 1 15 0 1 1-2 0-25 1 35 0-26 1 6 1 35 0-47 1 23 0-2 1 20 0 7 1-39 1 8 0 7 1-10 0 26 1-4 0-38 1 11 1 23 0-10 1-7 0-24 1 29 0-21 1 15 1 13 0 10 1-21 0 8 1 9 0-4 1 14 1-26 0 5 1-16 0 7 1 3 0 9 1 0 1 18 0-18 1 6 0-4 1-20 0-18 1 44 1-7 0-9 1 0 0-21 1 57 0-67 1 38 1-14 0-5 1 17 1 7 0 6 1-25 1-1 0 25 1-20 0 11 1 13 0-7 1-32 1 33 0-4 1-9 0-6 1 2 0 12 1-8 1-8 0 1 1 33 0-48 1 15 0 9 1 4 1-12 0-19 1 27 0 14 1-50 0 34 1 1 1 13 0-13 1-8 0 17 1-24 0 10 1-4 1 23 0-3 1 0 0-32 1 13 0 31 1-47 1 33 0-8 1-2 0-39 1 42 0-5 1 14 1-33 0 14 1 9 1 6 0-4 1-17 1-1 0 21 1-8 0 9 1-12 0-9 1 13 1-1 0 1 1-12 0-2 1 23 1 9 1-1 0-1 1-22 0 43 1-1 0-36 1-15 1 6 0-13 1 14 0-40 1 10 0-30 1-19 1 8 0 29" transform="scale(0.25)" fill="none" stroke="#231f20" stroke-width="5.2" stroke-linejoin="round"/>
<path d="M811 7282l0 28 1 16 1-41 0-4 1 24 0-22 1 13 0 14 1-23 1 10 0-69 1 69 0-23 1-16 0 16 1-21 1-1 0-19 1 28 0-15 1 12 0 33 1-12 1-24 0 38 1 13 0-18 1-2 0-4 1-21 1 37 0-14 1-13 1-1 0 34 1-35 1-28 0 36 1 14 0-5 1-22 0-24 1 76 1-61 0 24 1-4 0-9 1 4 0-15 1 3 1 8 0 8 1 53 0-68 1 44 0-20 1-8 1-20 0 27 1-21 0 25 1-1 0-33 1 45 1-28 0 3 1 5 0-14 1 29 0 11 1-29 1 16 0 19 1-25 0-19 1 27 0-23 1-7 1-27 0 32 1-19 0 23 1-45 0 21 1 56 1 8 0-26 1-1 0-52 1 58 0-24 1-30 1 24 0-2 1 36 0-9 1 46 0-17 1-26 1 11 0-35 1 43 0-25 1 10 0 3 1-8 1-11 0 22 1-2 0-70 1 36 0 5 1-10 1 15 0 15 1-13 0-3 1 27 0-10 1-1 1 37 0-20 1-44 0 45 1-45 0 17 1-44 1 56 0-56 1 44 0 34 1-30 0-9 1-20 1 15 0 25 1-64 0 26 1 48 0-35 1 32 1-11 0-31 1 15 0 33 1-34 0 6 1 13 1-22 0 5 1 15 0-16 1 3 0 11 1 23 1-40 0-13 1 71 0-41 1-59 0 31 1-22 1 53 0-37 1 17 0 46 1-46 0 14 1 7 1 13 1 10 0-45 1 24 0-43 1 36 1-4 0 39 1-32 0-15 1-3 0-13 1 7 1-5 0 14 1-12 0 13 1 21 0-43 1 8 1-9 0 70 1-7 0-23 1-9 0-20 1 41 1-18 0 7 1-5 0-60 1 26 0 22 1 20 1-33 0 22 1-13 0-15 1 36 0-34 1 0 1 62 0-5 1-26 0 16 1-42 0 4 1 11 1-1 0 4 1-37 0 50 1-41 0 23 1 56 1-32 0-31 1 17 0-21 1 3 0-3 1 10 1 6 0 11 1 30 0-38 1-7 0-31 1 48 1-23 0 31 1-30 0 35 1-45 0 6 1 5 1 0 0 12 1-2 0-44 1 16 0 7 1 27 1-20 0 20 1-1 0-10 1-46 0 81 1-29 1-18 0 18 1-15 0 11 1-19 0 59 1-50 1 13 0-24 1 31 0 12 1-24 0-20 1 22 1-7 0 22 1-10 0 2 1-9 0 1 1 8 1 26 0-25 1 13 0-22 1 2 0-19 1 18 1-12 0-33 1 25 0-12 1 24 0-1 1 35 1-22 0-14 1 4 1-1 0 19 1-22 1 16 0 14 1-32 0 9 1 33 0-25 1-17 1 19 0-17 1-12 0 34 1-35 0 5 1 9 1 19 0-3 1-24 0 13 1-5 0 25 1-9 1-19 0 30 1-43 0 19 1-31 0 57 1-22 1 15 0 44 1-47 0 1 1-15 0 17 1-15 1 19 0-3 1-8 0-13 1-1 1-3 1 13 0-22 1 11 0 15 1 27 0-27 1-11 1-4 0 31 1-45 0-2 1 8 0-12 1 10 1 18 0-9 1-29 0 48 1 11 0-26 1 48 1-32 0 2 1-32 0 74 1-8 0-15 1 7 1-48 0 1 1 19 0-8 1-22 0 28 1 14 1-21 0 35 1-23 0-16 1-9 0-7 1 38 1-46 0 39 1-1 0-38 1 38 0-8 1 36 1-25 0-10 1 14 0 16 1-43 0 1 1 30 1 23 0-67 1 58 0-20 1 8 0-2 1-20 1-2 0 57 1-69 0 28 1 29 0-31 1 18 1-14 0-18 1 25 0-13 1-15 0 24 1-23 1 11 0-16 1 38 0-12 1-14 0-11 1-3 1-1 0-15 1 47 0-46 1 36 1-22 1 2 0-24 1 20 0-8 1 30 0-31 1 3 1 26 0-46 1 23 0 38 1-26 0 21 1-73 1 46 0 11 1-25 0 46 1-49 0 15 1 16 1-5 0-7 1-12 0 23 1-16 0 45 1-33 1-15 0 39 1 11 0-29 1-21 0-21 1 17 1 30 0-5 1-47 0 40 1-39 0 46 1 19 1-39 0 25 1-32 0 7 1 20 0 5 1-26 1 37 0-23 1-58 0 74 1 2 0-69 1 55 1 18 0-12 1-20 0-4 1 17 0-7 1 19 1-8 0 25 1-41 0 21 1-1 0-10 1 14 1-48 0 24 1 43 0-25 1-10 0 21 1-21 1-16 0 29 1 15 0-23 1 38 0-28 1-9 1-13 0 51 1 5 0-70 1 24 0-14 1 40 1-25 0 21 1-21 0-16 1 50 0-27 1-7 1-14 0 24 1 16 0-29 1 50 0-12 1-29 1 10 0-18 1 20 0-33 1 2 0 69 1-43 1 11 0-33 1 23 0-12 1-42 0 36 1 5 1-2 0 25 1-9 0-39 1 14 0 11 1 4 1-3 0-28 1 30 0-11 1-38 0-1 1 15 1 15 0-10 1 8 0-9 1 16 1 19 0-3 1-44 0 49 1 9 0-43 1 51 1-32 0-22 1 55 0-30 1-4 0 51 1-7 1-34 0-7 1 14 0 4 1 13 0-70 1 55 1-5 0-14 1 9 0 8 1-47 0 4 1 24 1-1 0 4 1 12 0 36 1-47 0 15 1 14 1-23 1 15 0 3 1-24 0 27 1-2 1-2 0 11 1-49 0 41 1-29 0 5 1-7 1-16 0 29 1 32 0-34 1 22 0-39 1 2 1 14 0-11 1-2 0 29 1-3 0 7 1-13 1-6 0-4 1 29 0-22 1 26 0-2 1 23 1-50 0 35 1-51 0 47 1-15 0 10 1-64 1 68 0-35 1 0 0-25 1 17 0 37 1 3 1-29 0-30 1 20 0-49 1 20 0-13 1 29 1-59 0 16 1 8 0-4 1-46 0 7 1-39 1 52 0-32 1-3 0-9 1 38 0-38 1-24 1 31 0-16 1-22 0-26 1 9 0-1 1-24 1-10 0 11 1-44 0 22 1-29 0-24 1 45 1 2 0-27 1 3 0 39 1-19 0-39 1 19 1 24 0-17 1 31 0-25 1 22 0-6 1 10 1-1 0 1 1-22 0 51 1-30 0-9 1 56 1-40 0 43 1-69 0 50 1-6 0-16 1 38 1-42 0 22 1-11 0 29 1-36 0 28 1 1 1-40 0 103 1-55 0 5 1 6 0-23 1-3 1-35 0 34 1 9 0 11 1-10 0 1 1-2 1 3 0-1 1-4 0 15 1-49 0 24 1 23 1-15 0-15 1 15 0 5 1 8 0 40 1-9 1-35 0 13 1 36 0-48 1 24 0-21 1-13 1 17 0 8 1 27 0-38 1 45 0-28 1 3 1-15 0-20 1 43 0-16 1 17 0-8 1-38 1 27 0 7 1-2 0 2 1-3 0-16 1 18 1-8 0 13 1 3 0-1 1 39 0-60 1-15 1 46 0-20 1 18 0-6 1 14 0-13 1 2 1 51 0-12 1-45 0 13 1 31 0-23 1-26 1 30 0 8 1-20 0 11 1-15 0 36 1 14 1-38 0-16 1 24 0-13 1-2 0-21 1 5 1-5 0 6 1 14 0-7 1 49 0-38 1-6 1 10 0 17 1 0 0-46 1 0 0-2 1 15 1 4 0 32 1-1 0-45 1-31 0 17 1 12 1 15 0 15 1-35 0 44 1 5 0-61 1 24 1 63 0-40 1 5 0 72 1-71 0-12 1-44 1 41 0 10 1-23 0 49 1-46 0 47 1-17 1-17 0 25 1 19 0-14 1-40 0 45 1-22 1 22 0-1 1-22 0 18 1-37 0 34 1-36 1 20 0-10 1-16 0 41 1-53 0 53 1-20 1 13 0 5 1-10 0 25 1-31 0-35 1 53 1-31 0 48 1-25 0 1 1-23 0 41 1-33 1-8 0-6 1 11 0 36 1-13 0-14 1-12 1 7 0 32 1-20 0-2 1 29 0-33 1 8 1-33 0 20 1 3 0 11 1 10 0-19 1 20 1 10 0-27 1 10 0 6 1-39 0 48 1-34 1 11 0-35 1 45 0 2 1-9 0-11 1 30 1-37 0 48 1 1 0-1 1 9 0-31 1 7 1 6 0-8 1-32 0 13 1-7 0 15 1 0 1 18 0-1 1 10 0-29 1 37 0-11 1 45 1-53 0-58 1 76 0-58 1 21 0-6 1 2 1 37 0-15 1-5 0-17 1 3 0 9 1 3 1-11 0-34 1 43 0-7 1-16 0 28 1 6 1-19 0 57 1-68 0 17 1 7 0-1 1 18 1-37 0-7 1 57 0-37 1 13 0 7 1 8 1-7 0-30 1 13 0 5 1 8 0 15 1-51 1 25 0-5 1 3 0-44 1 16 0 19 1-12 1 7 0 2 1 16 0-39 1-1 0 5 1 34 1-36 0 42 1-8 0-7 1-24 0 26 1 1 1-5 0-17 1 14 0-4 1 6 0 16 1-18 1-7 0 53 1-23 0 28 1-22 0-28 1 19 1-6 0 4 1 3 0-11 1 19 0 1 1-58 1 47 0 2 1-18 0 40 1-22 0 20 1 3 1-5 0-35 1 8 0-3 1-20 0 18 1 18 1-44 0 40 1-35 0-4 1 31 0-28 1 42 1-1 0-6 1-18 0 12 1 23 0 6 1-49 1-28 0 34 1 7 0 3 1 9 0-34 1 0 1-2 0 35 1-14 0 20 1-2 0 4 1-13 1 11 0-15 1 17 0-3 1 2 0 2 1 1 1-9 0-2 1-4 0-26 1 45 0 10 1-60 1 66 0-13 1-14 0-8 1 2 0-12 1 3 1 9 0 13 1-42 0 25 1-10 0 6 1-12 1 10 0 9 1-21 0 32 1-8 0-12 1 29 1-34 0 12 1-16 0-8 1 66 0-42 1-15 1 22 0 6 1-27 0 19 1 35 0-11 1-20 1-24 0 54 1-5 0-34 1 0 0 20 1 5 1 2 0-17 1-9 0 5 1-7 0 17 1 21 1-35 0-8 1 16 0 19 1-37 0 21 1-16 1-7 0 47 1-24 0-14 1 11 0-4 1 9 1 14 0-33 1 31 0-29 1 11 0-31 1-3 1 25 0-5 1-8 0 12 1-22 0 44 1 15 1-30 0 12 1-16 0 22 1-18 0-6 1 7 1-14 0 8 1 11 0-28 1 29 0-19 1 17 1-29 0-1 1 34 0-16 1 17 0 26 1-11 1-24 0 42 1-51 0-23 1 83 0-58 1 27 1-30 0 31 1-12 0 50 1-58 0 34 1-22 1 11 0-13 1-4 0-29 1 39 1-44 0 35 1 17 0-18 1 12 0 10 1-7 1-19 0-2 1 19 0-12 1-5 0-8 1 15 1 2 0-14 1 21 0-3 1-34 0 2 1 36 1 3 0 2 1-16 0-5 1-16 0 24 1-33 1-11 0 40 1-2 0 30 1-45 0 3 1 0 1-4 0 35 1-4 0 12 1-29 0 14 1 18 1-32 0-15 1-24 0 49 1-13 0-34 1 39 1 24 0 13 1-46 0 31 1-6 0 11 1-10 1-37 0 68 1-12 0-13 1 5 0 3 1 13 1 2 0-47 1 32 0 1 1 27 0-8 1 19 1-22 0 35 1 9 0 43 1 9 0 18 1-35 1 25 0 13 1 28 0-9 1 15 0-3 1 34 1-17 0 2 1 9 0 10 1-3 0-45 1 13 1-17 0 4 1-22 0 61 1-43 0-19 1-2 1 14 0-29 1 7 0 8 1-5 0-19 1-17 1 60 0-66 1 5 0-13 1 42 0-60 1 13 1-52 0 22 1 23 0-32 1-13 0 8 1 32 1 13 0-14 1-19 0 27 1-2 0 5 1 25 1-24 0-17 1 73 0-72 1 33 0 10 1-26 1 71 0-15 1-32 0-11 1 28 0 27 1-19 1-34 0 20 1-11 0-3 1 13 0-14 1-3 1 27 0-22 1 7 1-15 0 34 1-21 1-24 0 22 1-35 0 51 1-53 0 36 1-14 1 20 0-6 1-2 0 21 1-54 0 20 1-30 1 52 0-3 1 10 0-9 1-10 0-27 1-9 1 44 0-16 1-36 0 47 1-30 0 10 1 16 1-25 0 39 1-3 0-30 1-15 0 29 1 5 1 36 0-64 1 34 0-18 1 5 0-28 1 23 1 30 0-32 1-33 0 34 1-23 0 13 1 11 1-26 0 12 1 38 0-17 1-36 0-34 1 33 1-4 0-3 1 7 0-14 1 44 0-32 1 13 1 34 0-39 1-16 0-6 1 34 0-9 1 31 1-59 0 13 1 5 0 10 1-25 0-17 1 59 1-63 0 20 1-23 0 66 1-56 0 53 1 5 1-55 0 60 1-27 0-29 1 60 0-34 1 4 1-3 0-15 1 7 0-1 1-15 0-9 1 37 1-17 0-12 1 16 0-3 1 42 0-18 1-38 1 30 0-8 1-6 0 24 1-22 0-22 1 26 1-21 0 20 1-22 0 54 1-6 0-35 1 35 1-41 0 7 1 36 0-42 1 24 0-13 1 27 1-28 0-25 1 32 0-13 1 0 0 5 1 9 1-35 0-11 1 10 0-12 1 4 0 50 1-46 1 1 0 12 1-9 0-16 1 30 0-9 1 48 1-13 0-36 1 24 0-30 1 25 0-62 1 31 1 25 0-2 1-1 1 16 0 12 1-50 1 33 0-14 1-22 0 7 1 31 0-32 1-11 1-1 0-7 1-31 0 5 1 26 0 8 1 37 1-32 0 19 1-24 0 7 1 34 0-48 1 20 1 39 0-56 1-15 0 23 1 20 0-5 1 0 1 29 0-42 1 16 0-34 1 3 0 20 1-9 1 2 0-24 1 28 0 5 1-22 0 24 1 4 1-93 0 75 1 15 1-32 0-14 1 12 1 18 0 17 1-27 0 15 1 0 0-31 1 28 1-5 0-7 1 4 0-22 1 27 0-33 1 37 1-10 0-11 1-9 0 22 1-22 0 3 1-13 1 25 0 21 1-26 0 6 1-20 0 14 1-2 1 32 0-13 1-22 0 28 1 3 0-41 1 29 1 1 0-10 1-25 0 29 1-28 0 13 1 1 1-6 0 8 1-2 0 14 1-29 0 5 1 6 1 39 0-4 1-70 0 39 1 49 0-57 1 26 1-15 0-45 1 24 0-9 1 20 0 27 1-67 1 11 0 19 1-1 0 20 1-4 0-20 1 0 1 31 0 7 1-31 0 24 1-10 0-4 1-15 1 1 0 25 1 6 0-11 1-14 0-25 1 26 1-21 0 12 1 39 0-67 1 17 0 28 1-24 1 13 0 26 1-11 0 15 1-11 0-29 1 36 1-25 0 8 1 27 0-23 1-26 0 38 1-38 1-13 0 40 1-10 0 22 1-17 0 19 1 7 1-62 0 50 1-20 0 19 1-22 0-1 1-26 1 39 0-30 1 19 0 48 1-12 0-19 1 39 1-28 0-18 1-19 0 45 1 1 0 42 1-60 1-26 0 24 1-38 0 22 1 14 0-15 1-6 1 6 0 25 1-32 0-1 1 8 0 2 1 22 1-56 0 48 1-5 0 13 1 11 0-11 1-9 1-15 0 24 1-1 0-16 1 8 0 9 1-16 1-9 0 46 1-35 0 1 1 31 0-13 1-15 1-18 0-10 1 16 0-35 1 35 0 8 1-16 1-12 0 63 1-53 0 7 1 23 0 15 1-11 1-16 0 19 1 27 0-29 1 7 0 13 1-30 1 13 0-24 1 12 0-22 1 13 0 13 1-6 1 4 0-10 1-17 0 1 1 38 0 1 1-14 1 6 0 46 1-8 0-29 1-17 0 32 1-13 1-10 0-5 1 39 0-13 1-1 0-16 1 9 1-5 0-58 1 61 0 3 1-23 0 21 1-26 1 5 0-37 1 99 0-34 1-7 0-23 1 1 1 18 0 11 1-5 0-19 1 38 0-3 1-26 1 55 0-35 1-37 0 8 1-22 0 30 1-27 1 48 0-15 1 0 0-2 1-43 0-14 1 33 1 20 0-11 1 15 0-23 1 7 0-40 1 41 1-13 0 48 1-27 0 18 1-54 0 6 1 4 1 19 0 2 1-14 0 22 1-32 1 21 0 11 1-12 0-14 1 30 0-22 1 3 1 4 0-7 1 9 0-42 1 33 0-34 1 10 1 49 0-35 1-8 0 3 1-28 0 2 1-5 1 27 0-60 1 50 0-37 1 16 0-12 1-19 1-7 0-21 1 43 0-16 1-9 0-1 1 31 1-40 0-4 1 19 0 3 1 5 0 8 1-38 1 37 0 22 1 17 0-21 1-41 0 25 1-11 1 49 0-74 1 30 0 37 1-69 0 30 1-27 1 38 0 6 1-12 0-5 1 39 0-50 1 41 1-25 0 26 1-4 0-33 1 28 0-27 1 64 1-45 0 17 1 4 0 19 1-60 0 39 1-23 1 13 0 14 1 12 0-23 1 1 0-15 1 66 1-54 0 86 1-75 0 22 1-27 0 11 1 10 1-1 0-8 1-2 0 9 1-5 0 24 1-6 1-39 0 23 1-3 0 6 1-32 0 27 1-14 1 1 1 2 0 22 1-19 0 7 1 5 1 15 0-52 1 7 0 29 1 13 0-40 1 37 1-28 0 19 1-17 0 5 1 17 0 20 1-42 1-26 0 38 1 5 0-12 1 14 0-21 1 7 1 21 0-17 1 31 0-9 1-40 0 3 1 26 1 4 0-32 1 8 0 26 1-10 0 4 1 27 1-4 0-14 1-9 0-10 1 13 0-56 1 35 1 12 0-17 1 32 0-56 1 63 0-30 1-4 1 30 0-33 1 28 0-13 1 11 0 5 1-13 1-13 0 22 1-6 0-12 1 43 0-35 1-2 1 33 0 16 1-22 0-8 1-18 0 32 1-66 1 51 0 6 1 10 0-46 1 36 0-49 1 79 1-58 1-33 0 50 1-17 0 19 1-25 1 28 0-30 1 20 0-21 1 71 0-44 1-36 1 25 0-22 1 9 0 29 1 19 0-12 1-10 1 14 0-10 1 5 0 9 1-7 0-40 1-3 1 36 0-24 1 3 0-11 1-19 0 51 1-11 1 28 0-30 1 15 0 19 1-30 0 4 1-7 1 22 0-30 1 32 0-54 1 16 0 36 1 2 1-13 0-51 1 44 0-23 1 11 0 31 1-7 1-2 0-29 1 5 0 10 1 12 0 11 1 45 1-48 0-20 1 37 0-27 1-4 0-9 1 17 1 9 0 3 1-2 0 5 1-54 0 52 1-27 1 23 0-24 1 27 0-38 1 36 0-22 1 19 1 0 0-27 1-15 0 18 1 39 0-38 1 11 1 11 0-27 1 11 0 26 1-51 0 44 1 5 1-52 0 58 1-46 0 37 1 2 0-8 1 19 1 6 0-24 1 1 0-32 1 39 0 21 1-23 1 3 0 43 1-48 0-18 1 28 0 7 1-30 1-36 0 30 1 30 0-22 1 48 0-64 1 20 1-12 0 32 1-5 0-25 1 25 0 2 1 12 1-11 0-2 1-39 0 36 1-42 0 54 1-32 1-12 0 9 1 9 0 5 1-10 0 26 1-53 1 24 0-43 1 56 0 1 1 2 0 19 1-14 1 22 0-79 1 45 0 21 1-34 0-3 1 57 1-11 0 10 1-37 0 14 1-3 0-10 1 33 1-14 0 2 1-2 0-13 1-17 0 54 1-47 1 27 0 1 1 23 0-37 1 24 0 5 1 25 1-20 0-4 1-36 0 17 1-53 0-16 1 30 1 27 0-15 1 18 0 24 1-50 0-7 1 39 1-17 0-9 1 42 0-40 1 5 0 12 1 13 1 4 0-16 1-25 0 17 1 45 0-7 1-14 1-8 0-19 1-20 0 19 1 25 0-26 1 37 1-53 0 20 1-2 0 26 1-7 0-38 1-27 1 23 0 50 1-9 0 30 1-44 0 32 1-25 1 6 0-10 1 35 0-25 1 7 0-8 1 11 1-2 0-8 1 13 0-36 1 14 0-19 1 16 1-16 0-3 1-2 0 23 1 10 0-43 1 30 1 22 0-19 1 29 0-28 1 6 0 23 1-37 1 7 0 36 1-10 0-32 1 2 0 37 1-21 1 5 0 28 1-51 0 18 1 14 0-23 1-16 1 15 0 1 1-14 0 43 1-42 0 22 1-30 1 39 0-7 1-13 0 22 1 2 0-8 1-51 1 63 0-36 1-5 0 30 1 15 0 6 1-31 1-23 0 26 1-7 0-23 1-12 0 42 1-15 1-33 0 61 1-35 0 34 1-49 0 23 1-45 1 80 0-22 1-14 0 13 1 2 0-6 1-26 1 42 0-23 1 17 0-14 1 9 0 3 1 3 1 9 0 5 1-20 0 11 1-31 0 12 1-29 1 18 0 15 1-41 0 15 1-5 0 30 1 15 1 12 0-15 1-7 0-8 1-12 0 8 1 54 1-54 0 16 1 26 0-26 1-17 0 14 1-9 1-8 0 18 1-21 0 23 1-18 0-6 1-26 1 14 0 43 1 1 1 27 0-57 1 20 1 3 0-4 1-28 0-10 1 71 0-42 1-8 1 34 0-37 1 2 0 24 1-20 0 19 1 11 1-42 0 13 1 9 0-50 1 75 0-47 1 43 1-43 0 44 1-27 0-10 1 36 0-27 1 13 1-20 0 24 1 12 0-7 1 3 0-20 1 26 1 14 0-46 1 5 0-13 1-10 0 33 1-35 1 34 0 3 1 1 0-5 1 5 0-36 1 0 1 35 0 10 1-26 0-12 1 32 0 2 1-12 1 10 0 26 1-86 0 47 1 1 0 60 1-40 1-8 0 19 1-16 0-7 1-25 0 50 1-22 1 1 0-17 1 32 0-5 1 22 0-32 1 29 1-38 0 54 1 19 0-40 1 31 1 3 0-8 1 50 0-11 1-31 0 18 1 18 1-1 0 18 1-22 0 28 1-25 0 38 1-19 1 21 0-19 1 46 0-22 1 5 0 44 1-28 1-17 0 20 1 9 0 24 1 0 0 15 1-40 1 41 0 20 1-39 0 41 1-6 0-8 1 48 1-64 0 22 1 9 0 11 1-16 0-52 1-14 1-10 0 49 1-54 0 8 1 47 0-67 1 0 1-18 0-32 1 7 0 5 1 19 0-30 1-27 1 3 0-15 1 6 0-7 1 21" transform="scale(0.25)" fill="none" stroke="#231f20" stroke-width="5.2" stroke-linejoin="round"/>
<path d="M815 8710l1-4 1 0 1-4 1 5 1-16 1 14 1-10 1-1 1-6 1-5 1 6 1 4 1-4 1 1 1-8 1 2 1-1 1-4 1 7 1-1 1 8 1-7 1-1 1 0 1 0 1-8 1-2 1 0 1-4 1-44 1-35 1-11 1-52 1-33 1-46 1-24 1-27 1-12 1-9 1-9 1-8 1-8 1-24 1-11 1-1 1-13 1-15 1-5 1 11 1 11 1 10 1 7 1 4 1-5 1 19 1-1 1 2 1 6 1 12 1 0 1 8 1 9 1 13 1-9 1 19 1-11 1 12 1 12 1 5 1-11 1 14 1 1 1-9 1 1 1 0 1-10 1 23 1-12 1-11 1 12 1 1 1 0 1 4 1 7 1-5 1-2 1 15 1-8 1-6 1 11 1-22 1 7 1 10 1-1 1 3 1-4 1 0 1 1 1 0 1 5 1 1 1-3 1 3 1-18 1 8 1-7 1 16 1-12 1 6 1-1 1-3 1 1 1 9 1 2 1-6 1 13 1-10 1 5 1-1 1 4 1-14 1 17 1-4 1-2 1 1 1-5 1-13 1 5 1-3 1 5 1 9 1 6 1-14 1 3 1 8 1 4 1-1 1-4 1 6 1 1 1-5 1 11 1-15 1 9 1 1 1 2 1 4 1-8 1 2 1 4 1 6 1-13 1 8 1-3 1-6 1 8 1-8 1 5 1 2 1 12 1-16 1 10 1-2 1-1 1 0 1 10 1-11 1 9 1-5 1 5 1 2 1-13 1 5 1 6 1 2 1-8 1 10 1 4 1-6 1 2 1-6 1 14 1 6 1 7 1-13 1 10 1-13 1 6 1-2 1-10 1 5 1 4 1 0 1-1 1 3 1 7 1 3 1-17 1 12 1 5 1-13 1 16 1 5 1-15 1-5 1 11 1 11 1 9 1-13 1-1 1-4 1 9 1-7 1 7 1 8 1-2 1-4 1 10 1 6 1 1 1-16 1 11 1 0 1-4 1-4 2 3 1-1 1 17 1-11 1-4 1 3 1 5 1-8 1 6 1 1 1-5 1 12 1-7 1 6 1 1 1-10 1-1 1 2 1 16 1-11 1-1 1 11 1-13 1 14 1-14 1 5 1-1 1 2 1 4 1 0 1-9 1 3 1 6 1 5 1-6 1-2 1-8 1 12 1-2 1-6 1 6 1 12 1-8 1 3 1 11 1-11 1 10 1 1 1-3 1 1 1-1 1 1 1-4 1 3 1 0 1-5 1-2 1-11 1 19 1-2 1 1 1 6 1-8 1 0 1 9 1-24 1 23 1-5 1-10 1 2 1 10 1-10 1 9 1-2 1 1 1 1 1 2 1 1 1 6 1 6 1-14 1 20 1 6 1-21 1 17 1-7 1 3 1-5 1-8 1 8 1-5 1 1 1-10 1 5 1 7 1-13 1 13 1-10 1 17 1 10 1-18 1 8 1 5 1-8 1 12 1-3 1-4 1 7 1-6 1 11 1-10 1-8 1-2 1-9 1 3 1 0 1 10 1 2 1-7 1 10 1-2 1-5 1 6 1-5 1-3 1 1 1 6 1-8 1 5 1 6 1 4 1-4 1-2 1-8 1 15 1-12 1-2 1 9 1-11 1-2 1 6 1 3 1-1 1-11 1 12 1-2 1 1 1 6 1 2 1-10 1 15 1-4 1 4 1-2 1 7 1 5 1-7 1-3 1 23 1-5 1-1 1 7 1-10 1 4 1 0 1 8 1 20 1-4 1-9 1 16 1 3 1 8 1-7 1 9 1-2 1 10 1 7 1-3 1 3 1 9 1-5 1-1 1 13 1-12 1 21 1-9 1 6 1-1 1 20 1 5 1-1 1 6 1 10 1-4 1-5 1 4 1 3 1-11 1 13 1 0 1 5 1-1 1 10 1-9 1 8 1 7 1-2 1 4 1-8 1 12 1 0 1 11 1-3 1 6 1 12 1-11 1 13 1-3 1 8 1 3 1-3 1 8 1-10 1 1 1 0 1-2 1 2 1-8 1 10 1-4 1-1 1 0 1-3 1 2 1 4 1 6 1-1 1-4 1 6 1-7 1 8 1-1 1 2 1 1 1-4 1 5 1 3 1 4 1 2 1-3 1-2 1 11 1-14 1 18 1-5 1-7 1-4 1 1 1-2 1 11 1 0 1-4 1 5 1 3 1 0 1 6 1-3 1 6 1-3 1-7 1 6 1 7 1-8 1-5 1-5 1 3 1 5 1 0 1-10 1 13 1-9 1 8 1-1 1 0 1-3 1-6 1-1 1 4 1-2 1 7 1-5 1 7 1-3 1-2 1 9 1-16 1 1 1 5 1 0 1-6 1-4 1 0 1 7 1-15 1-1 1 4 1-4 1 2 1 0 1-4 1 3 1-2 1-3 1 1 1 0 1-3 1 9 1-6 1-9 1 12 1-8 1-7 1 1 1-7 1 3 1 0 1 8 1 9 1-8 1-2 1-2 1 3 1-3 1-10 1-2 1 1 1 4 1-6 1-13 1 15 1 6 1-7 1-5 1 5 1 2 1-3 1-4 1-8 1 14 1-13 1 8 1-13 1-4 1 17 1-24 1 10 1-7 1 11 1-9 1 2 1 11 1-12 1 2 1 2 1-9 1 7 1-8 1 8 1-6 1-11 1 5 1-2 1 11 1-11 1 10 1-10 1 3 1-2 1 9 1-15 1 3 1-6 1 25 1-20 1 4 1-6 1 7 1 0 1-4 1 7 1-4 1-4 1 13 1-4 1-6 1-12 1 17 1-15 1-5 1 1 1 1 1-8 1-5 1 8 1 1 1-8 1 4 1 6 1-3 1-3 1 8 1-7 1 7 1 2 1 0 1 2 1-9 1 4 1-13 1 8 1-16 1 10 1 5 1-17 1 11 1 5 1-4 1-1 1 9 1-3 1 1 1-2 1 6 1 0 1-5 1 5 1-5 1 4 1-18 1 3 1 4 1 7 1-1 1-8 1-3 1 9 1-9 1-6 1 5 1 7 1-2 1 8 1-10 1 10 1-14 1 6 1-1 1 7 1-14 1 16 1-4 1 5 1 10 1-20 1 15 1-9 1-6 1 6 1-8 1 0 1 10 1-4 1-3 1 6 1-15 1 9 1-4 1 9 1 0 1-10 1 12 1 5 1-16 1 7 1-3 1-9 1 4 1-5 1-7 1 8 1 2 1-18 1 1 1 10 1-7 1 19 1-11 1 11 1-10 1 2 1 2 1 7 1-5 1-14 1 6 1 1 1 1 1 13 1-8 1-7 1 3 1 4 1-5 1 2 1-4 1 7 1-11 1 17 1-15 1-8 1 9 1 0 1-3 1 13 1-14 1-8 1-13 1-13 1-19 1-14 1-24 1-5 1-22 1-29 1-20 1-28 1-17 1-27 1-26 1-20 1-19 1-21 1-1 1-18 1 23 1 5 1-6 1 16 1 19 1-11 1 7 1 6 1 17 1 5 1 13 1 9 1-6 1 9 1 2 1 11 1-13 1 9 1 3 1-3 1-10 1 0 1 4 1-2 1 2 1-1 1-6 1 16 1 7 1-9 1-3 1 13 1-4 1-4 1 1 1-9 1 15 1 1 1-7 1 1 1-7 1 7 1 2 1-5 1 4 1 2 1-8 1 4 1 15 1-5 1-9 1 18 1-8 1 3 1 7 1 10 1 0 1-16 1 13 1 5 1-8 1-12 1 6 1 0 1-2 1-3 1 8 1-1 1 6 1 5 1-7 1 4 1-3 1 11 1 3 1-8 1 1 1-16 1 6 1 6 1-3 1 2 1-4 1 12 1-9 1-5 1 13 1-5 1 1 1-2 1 4 1 6 1-9 1 16 1-5 1-3 1-8 1 7 1 1 1 2 1-2 1-1 1-4 1 10 1-14 1 2 1-3 1 0 1 11 1-6 1 12 1-12 1 1 1 3 1-17 1 16 1-9 1 1 1 6 1-5 1 6 1 1 1 5 1 3 1 6 1-1 1-12 1 2 1 7 1 5 1-1 1-5 1 11 1-3 1-4 1 9 1-6 1 9 1-14 1 5 1 6 1 2 1-7 1 9 1-4 1 7 1-3 1-7 1 7 1-6 1-2 1-7 1 16 1-5 1 0 1 9 1-8 1 2 1-8 1 7 1-3 1 6 1-7 1-7 1 18 1-3 1 5 1-2 1 8 1-4 1 4 1-2 1 7 1 7 1-10 1 3 1-20 1 21 1-10 1 5 1 2 1 3 1-10 1 2 1 9 1-3 1 6 1-4 1-4 1-5 1 9 1-4 1 0 1-17 1 8 1 12 1-9 1 7 1 1 1 1 1 3 1-7 1-2 1 2 1 8 1 4 1-4 1-9 1 6 2 8 1-11 1 14 1 6 1 0 1-4 1 13 1-6 1-4 1-13 1 15 1 5 1-5 1-11 1 4 1-10 1 6 1 11 1-7 1 6 1 4 1-4 1-6 1 7 1 2 1 5 1-7 1 3 1 5 1 6 1-16 1-11 1 14 1-10 1 2 1 13 1-2 1 5 1 5 1-6 1-3 1-4 1 18 1-10 1 2 1-1 1 0 1-6 1-6 1-4 1 2 1 8 1 5 1 1 1 0 1 2 1-3 1-9 1 18 1 5 1 10 1-19 1-8 1 15 1-7 1 11 1-19 1 1 1-2 1 10 1 6 1 0 1 12 1-16 1 11 1 4 1-13 1 3 1-10 1 17 1-19 1 9 1-5 1-7 1 8 1-7 1 8 1-6 1 0 1 7 1-7 1 0 1 8 1-5 1 14 1-11 1 6 1-4 1 4 1 2 1-3 1 2 1 14 1-15 1 5 1-1 1 7 1-2 1 2 1-6 1-1 1 2 1 1 1 5 1-12 1 5 1 2 1 12 1 0 1-1 1 3 1-9 1-2 1 3 1-2 1 3 1-5 1 8 1-15 1 13 1-1 1-4 1 13 1 2 1 3 1 14 1-7 1 15 1-9 1 10 1 18 1-1 1-3 1 9 1-8 1 13 1 10 1 6 1 3 1-2 1 4 1 11 1 5 1 2 1-11 1 14 1 7 1 7 1 1 1 7 1-2 1 21 1-5 1 5 1 1 1-6 1 23 1-9 1 19 1-3 1-3 1 4 1-4 1-2 1 16 1-13 1 3 1 8 1-10 1 0 1 6 1-14 1 18 1-5 1-1 1 4 1-3 1 14 1-14 1 20 1-5 1-3 1 1 1 5 1 5 1-13 1 9 1 4 1-10 1 2 1 6 1 5 1 4 1-7 1-6 1 8 1 9 1-12 1 13 1-3 1 7 1-11 1 5 1-9 1-10 1 20 1 5 1-6 1 4 1 0 1 12 1-9 1 1 1 3 1 2 1-6 1-3 1 10 1-2 1 3 1-11 1-5 1 5 1 9 1-10 1-8 1 4 1 15 1-11 1-12 1 20 1-11 1 12 1-9 1 6 1-12 1-4 1 17 1-19 1-2 1-8 1 3 1 12 1-3 1-8 1 2 1-6 1 7 1-9 1-6 1 22 1-16 1 9 1 2 1-8 1 2 1 0 1-3 1 0 1 1 1-2 1-13 1 14 1-10 1 6 1 9 1 1 1-5 1-2 1 5 1-10 1-9 1-2 1 4 1 4 1 0 1-12 1-3 1 6 1-11 1 7 1 5 1-10 1-8 1 7 1 12 1-5 1-3 1-4 1 10 1-11 1 16 1-8 1-4 1 13 1-22 1 8 1-10 1 0 1 2 1-3 1-15 1 19 1 1 1-17 1 4 1 10 1-10 1-1 1 3 1-1 1-4 1 3 1-3 1 0 1-1 1 20 1-5 1-21 1 7 1 6 1-1 1-10 1-3 1 7 1-4 1-6 1 12 1-3 1 1 1-7 1 5 1-1 1-3 1 6 1-6 1-6 1 2 1 0 1-2 1 5 1-16 1 12 1-12 1 3 1-10 1 10 1 20 1-25 1 14 1-1 1 3 1 7 1-7 1-2 1-11 1 2 1-1 1 6 1-2 1-1 1 3 1 6 1 1 1 2 1 1 1-3 1 1 1 1 1 0 1-7 1-4 1-16 1 2 1 1 1 11 1-19 1 11 1 10 1-20 1 9 1 6 1-5 1 1 1 1 1 7 1-11 1 13 1-11 1-3 1 6 1 7 1-18 1 11 1-5 1 3 1 3 1 1 1-12 1 23 1-1 1 12 1-19 1-13 1 0 1-5 1 9 1-6 1 9 1-1 1-8 1 8 1-9 1 9 1-2 1 10 1-2 1 7 1-8 1-14 1 7 1 2 1-6 1-7 1 5 1-5 1 1 1 3 1-8 1 5 1-3 1-1 1 22 1-10 1 10 1-21 1 0 1 4 1 17 1-26 1 5 1-4 1-1 1 16 1-10 1 15 1-12 1 11 1-13 1 15 1-25 1 1 1 5 1 15 1-8 1 11 1-16 1 18 1-14 1-7 1 10 1-1 1 5 1-12 1 3 1-11 1 1 1 10 1 4 1 5 1 0 1 1 1 4 1-15 1 3 1 9 1 0 1-5 1 3 1 9 1-4 1 6 1-8 1-2 1 3 1-1 1 6 1-4 1 8 1-9 1-7 1 8 1-5 1-13 1 5 1 4 1 6 1 8 1-7 1 3 1 9 1-7 1-8 1 1 1-2 1 1 1 1 1 5 1-8 1 2 1 3 1 5 1-7 1 3 1 0 1 1 1 18 1-7" transform="scale(0.25)" fill="none" stroke="#231f20" stroke-width="4.8" stroke-linejoin="round"/>
<text x="212.0" y="280.4">-43 mV</text>
<line x1="556.6" y1="259.4" x2="556.6" y2="289.0" stroke="#4d4d4f" stroke-width="1.1"/>
<text x="566.0" y="279.6">1 mV</text>
<text x="202.7" y="518.7">-60 mV</text>
<line x1="540.0" y1="441.0" x2="540.0" y2="489.0" stroke="#4d4d4f" stroke-width="1.1"/>
<text x="549.4" y="470.0">2 mV</text>
<text x="208.5" y="906.5">-57 mV</text>
<line x1="534.6" y1="900.0" x2="534.6" y2="927.0" stroke="#4d4d4f" stroke-width="1.1"/>
<text x="544.7" y="921.0">2 mV</text>
<text x="194.8" y="1111.0">-51 mV</text>
<line x1="532.0" y1="1224.0" x2="532.0" y2="1245.0" stroke="#4d4d4f" stroke-width="1.1"/>
<text x="540.0" y="1239.0">1 mV</text>
<text x="202.7" y="1432.0">-42 mV</text>
<line x1="535.0" y1="1557.2" x2="535.0" y2="1575.2" stroke="#4d4d4f" stroke-width="1.1"/>
<text x="543.0" y="1570.9">2 mV</text>
<text x="198.4" y="1782.0">-61 mV</text>
<line x1="529.6" y1="1892.0" x2="529.6" y2="1911.4" stroke="#4d4d4f" stroke-width="1.1"/>
<text x="538.2" y="1906.4">1 mV</text>
<text x="189.4" y="2204.6">-70 mV</text>
<line x1="538.6" y1="2080.2" x2="538.6" y2="2106.2" stroke="#4d4d4f" stroke-width="1.1"/>
<text x="546.5" y="2098.2">5 mV</text>
<line x1="535.7" y1="2220.9" x2="571.8" y2="2220.9" stroke="#4d4d4f" stroke-width="1.1"/>
<text x="520.6" y="2244.3">400 ms</text>
<rect x="294.2" y="899.6" width="133.4" height="110.3" fill="#fff" stroke="#58595b" stroke-width="1.1"/>
<polyline points="297.6,1001.7 352.3,1001.7 352.3,993.3 427.6,993.3" fill="none" stroke="#414042" stroke-width="1.1"/>
<path d="M1192 3980l1-39 0 9 1 3 1-32 0-1 1 0 1-31 0 7 1 7 1-12 0 8 1-14 1-3 0 6 1-15 1 18 0-9 1-11 1 18 0-5 1-8 1-3 0 7 1-16 1 2 0 18 1-8 1 6 0-8 1 12 1-21 0 17 1-2 1 1 0 4 1-15 1 3 0 15 1-6 1-2 0-19 1 25 1-11 0 3 1-20 1 15 0-20 1 24 1-2 0 6 1-6 1 14 0 1 1-8 1 19 1-6 1 24 0-15 1 9 1-13 0-10 1 5 1 3 0-35 1-9 1-12 0-1 1-1 1-28 0-16 1-2 1-14 0 1 1 14 1 3 0 19 1-1 1 33 0 11 1-17 1 11 0 20 1 8 1 9 0-11 1 10 1-21 0 10 1 0 1-7 1 13 1-3 0 4 1-24 1 29 0 2 1 2 1-18 0-5 1 9 1-4 0 8 1-24 1 19 0 7 1-7 1 2 0 26 1-8 1-9 0 24 1-14 1-1 0 3 1 4 1 12 0-2 1 6 1-4 0 12 1-8 1 5 0-19 1 10 1-10 0-15 1-3 1-14 0-6 1-2 1-1 0-29 1 4 1 1 0-23 1-8 1 11 0-19 1 12 1 6 0 22 1 20 1-1 0-1 1-2 1-9 0 7 1 6 1-12 0-2 1 3 1 18 0-2 1-7 1-10 0 11 1-22 1 19 0-5 1 16 1-14 1-9 0 5 1-9 1 9 0-8 1 9 1 4 0-15 1 22 1-31 0 13 1 18 1 2 0 11 1-15 1 3 0 9 1-10 1 11 0-7 1 2 1 1 0-11 1-21 1 9 0-31 1 6 1-6 0-19 1-15 1-7 0 1 1 3 1-15 0-4 1 21 1 0 0 34 1 3 1 10 0-11 1 9 1 7 0 12 1 4 1 2 0 16 1-13 1 22 1-8 1 8 0 23 1-8 1-9 0 13 1-3 1 6 0-13 1 9 1-11 0-5 1 10 1-8 0-19 1 13 1-4 1 4 1-23 0 14 1-10 1 7 0-16 1 6 1 8 0-16 1 0 1-34 0 5 1-6 1 0 0-6 1 1 1-21 0 18 1-6 1-28 0 5 1 3 1-15 0 13 1 16 1 9 0 2 1 6 1 13 0 4 1 18 1-1 0 7 1 3 1 21 0-18 1-7 1 14 0-9 1 9 1-7 0 1 1 0 1 2 0-4 1-6 1 8 0 2 1-18 1 10 0 5 1 3 1 7 0-6 1-2 1-5 0 2 1-4 1 5 0-21 1 14 1 14 0-18 1-6 1 8 0 5 1 11 1-22 0 15 1 13 1-5 0-8 1 19 1-8 0 3 1 5 1 0 0 15 1 5 1-3 0 8 1-1 1 1 0 8 1 0 1 6 0 4 1 16 1-20 0 14 1 13 1-13 0-43 1-46 1-48 0-18 1-1 1 9 0 2 1 12 1 4 1 18 1 8 0 8 1 6 1 12 0 3 1 5 1 14 1-1 1 19 0 2 1-12 1 2 0-13 1 3 1-12 0-21 1-2 1 11 0-18 1-6 1-2 0 7 1 12 1-1 0-2 1 8 1 15 0-3 1-1 1 18 0-16 1-5 1 20 0 8 1 5 1-10 0 10 1-5 1 11 0-2 1-7 1-10 0 10 1-4 1-2 0 1 1 5 1-16 0-4 1 11 1 1 0-4 1-15 1 10 0-4 1 4 1 0 0-11 1 3 1-4 0 4 1 8 1-18 0 10 1-3 1-11 0 12 1-27 1 31 0-6 1-14 1-8 1-4 1 20 0-24 1 7 1-19 0 7 1-1 1-12 0 8 1-14 1 0 0-10 1-12 1 2 0 7 1 9 1-4 0 4 1 11 1 3 0 11 1 4 1 12 0 6 1-11 1 12 0-4 1 13 1-11 0 1 1-1 1 9 0 5 1-5 1 9 0-17 1 22 1 0 0-13 1 28 1-5 0 3 1 6 1-11 0-3 1 26 1-17 0-8 1-9 1 11 0-35 1-18 1-21 0-18 1-8 1-38 0-9 1-26 1-16 0 6 1 14 1 5 0 20 1 15 1-1 1 2 1 11 0 22 1 6 1 11 0-10 1 14 1 17 1-4 1 8 1 2 0 9 1 27 1-12 0 27 1 4 1 2 0-3 1 30 1-20 0-13 1-24 1-27 0 1 1-14 1-32 0-5 1-13 1-27 0-4 1-17 1-7 0 2 1 5 1 8 0 4 1 22 1-1 0-2 1 11 1 16 0 9 1-9 1 19 0 5 1 7 1-4 0 23 1-7 1 2 0 33 1-7 1-10 1-45 1-6 0-23 1-2 1 3 0-23 1-12 1-20 0 1 1 3 1 25 0-12 1 8 1-17 0 22 1-13 1 13 0 9 1 2 1 5 0-9 1 3 1 13 0 9 1-7 1 4 0 3 1 0 1 0 0-11 1-2 1 2 0-19 1 3 1-5 0-4 1-10 1 1 0-1 1-2 1-27 0 12 1-10 1 9 0-24 1 0 1 0 0-22 1 24 1-12 0-13 1-4 1 17 0 8 1 4 1 5 0 8 1 3 1-25 0 40 1 0 1-8 0 9 1 11 1-13 0 29 1-13 1 8 0-3 1 13 1 16 0-9 1-20 1-24 0 4 1-13 1-4 0-18 1 11 1-17 0-15 1-10 1-6 0-2 1-12 1 8 0 8 1 1 1 12 0-3 1 12 1-10 0-1 1 11 1-13 0 17 1 14 1 8 0-19 1 5 1-1 0-21 1 15 1-6 0-1 1-6 1-17 0-9 1 7 1-4 0 19 1-41 1-3 0 7 1 2 1 1 0 12 1 22 1-1 0 13 1 2 1 26 0-15 1 16 1-2 0 5 1 3 1 1 0 7 1 2 1-1 0 5 1 12 1-10 0 20 1 0 1-3 1 14 1 3 0 8 1-2 1-7 0-8 1 2 1-17 0 6 1-6 1 1 0-15 1 6 1-8 0-14 1-3 1-8 0-5 1-9 1-9 0-3 1 2 1-17 0-5 1-1 1 11 0-17 1-10 1 1 1-18 1 27 0 10 1 8 1 3 0 6 1-14 1 14 0 10 1 18 1-13 0 17 1 6 1 8 0-3 1 9 1-4 0-7 1 1 1 20 0-11 1 27 1-2 1-2 1 6 0 11 1 0 1-7 0 24 1-9 1-4 0-2 1-8 1 6 0-16 1-10 1-4 0-4 1-16 1-11 0 2 1-2 1-19 0-5 1 2 1-2 0-3 1-18 1 14 0-14 1 16 1 7 0 22 1-4 1-10 0 20 1-2 1 8 0 13 1-5 1-1 0 7 1 3 1-3 0-7 1 3 1 1 0 1 1 5 1 3 0-11 1-8 1 12 0-9 1 15 1-8" transform="scale(0.25)" fill="none" stroke="#231f20" stroke-width="4.8" stroke-linejoin="round"/>
<path d="M243.9,920.2 L260.7,930.1 L264.3,924.4 L269.8,940.4 L252.9,943.6 L255.3,937.9 L239.5,927.4 Z" fill="#d1d3d4"/>
<rect x="714.7" y="73.10" width="521.6" height="42.76" fill="url(#g2)"/>
<rect x="714.7" y="115.56" width="521.6" height="42.76" fill="url(#g3)"/>
<rect x="714.7" y="158.02" width="521.6" height="42.76" fill="url(#g4)"/>
<rect x="714.7" y="200.48" width="521.6" height="42.76" fill="url(#g5)"/>
<rect x="714.7" y="242.94" width="521.6" height="42.76" fill="url(#g6)"/>
<clipPath id="cp0"><rect x="714.7" y="73.1" width="521.6" height="212.3"/></clipPath>
<line x1="733.0" y1="73.1" x2="733.0" y2="291.9" stroke="#8f9093" stroke-width="2.6"/>
<g clip-path="url(#cp0)">
<path d="M2859 721l1-6 1 8 1 1 0 1 1-5 1-1 1 3 1 9 0-4 1-2 1 0 1 14 1-6 0 4 1-5 1-20 1 15 1 2 0-2 1 0 1-4 1-8 1-7 0 26 1 3 1-5 1-1 1-1 0 2 1 8 1-23 1 9 1-10 0 9 1-2 1 17 1-12 1-14 0 14 1 5 1-3 1 8 1-22 0 17 1-3 1-11 1 0 1-2 0 2 1-20 1 18 1-14 1 16 0-14 1 27 1-5 1-2 1 5 0-5 1 5 1-3 1-7 1-3 0 21 1-19 1 12 1 5 1-13 0-1 1-11 1-4 1 24 1-19 0 8 1-5 1 6 1 2 1 1 0-7 1-1 1 22 1-18 1 16 0-10 1 14 1-27 1 13 1-180 0-211 1 80 1 123 1 144 1 31 0-24 1-20 1-45 1-2 1-35 0-15 1-22 1 2 1-30 1-16 0-31 1-17 1-12 1-34 1 9 0-37 1-20 1 2 1 1 1-4 0 16 1 5 1 31 1 5 1-8 0 17 1 27 1 6 1 14 1-6 0 19 1 24 1-10 1 0 1 22 0-18 1 13 1 2 1-5 1 6 0 17 1-7 1-2 1 13 1-20 0 12 1-13 1 12 1 15 1 1 0-1 1-11 1 0 1 5 1-18 0 12 1 1 1-5 1-5 1 4 0-6 1 9 1 4 1 0 1-12 0 2 1 5 1-4 1 7 1-12 0 11 1 5 1 0 1 1 1 8 0-7 1-2 1 12 1 1 1 0 0-1 1-1 1-1 1-5 1-12 0 10 1 11 1-10 1-8 1 9 0-1 1 8 1-32 1 11 1-3 0 1 1-9 1 34 1-10 1-8 0-8 1 7 1-17 1-5 1 16 0-9 1-3 1 5 1 11 1-7 0-2 1 6 1-15 1 13 1-6 0-1 1 3 1-6 1-5 1 0 0 4 1 14 1-25 1 17 1-14 0 2 1 6 1 7 1-15 1 1 0 12 1-20 1 31 1-22 1-4 0 15 1-23 1 3 1 2 1 1 0 6 1-5 1 17 1-5 1-8 0 3 1-2 1-15 1 11 1 11 0-20 1 27 1-19 1 10 1-10 0 8 1 4 1 0 1-4 1-8 0 2 1 10 1 1 1-1 1-9 0 11 1-8 1-13 1 9 1 15 0-16 1 16 1-6 1 4 1 0 0-2 1 17 1-25 1 0 1 13 0 5 1-7 1-5 1 11 1-5 0 11 1-1 1-6 1-1 1-8 0 14 1-13 1 5 1-11 1 29 0-13 1 2 1 4 1 14 1-7 0-3 1 5 1 0 1-13 1 9 0 7 1-16 1 18 1-6 1-11 0 8 1 9 1 12 1-13 1-4 0 13 1-5 1-3 1 3 1 8 0-6 1 1 1 1 1 9 1-15 0 16 1-8 1 11 1-7 1-9 0 21 1-5 1-1 1-9 1 16 0-15 1 18 1-11 1 14 1-17 0-4 1 7 1 7 1-2 1 2 0 5 1-1 1 2 1-4 1 8 0 3 1-18 1 17 1-17 1 23 0-10 1-4 1 2 1-5 1 12 0-2 1 14 1-19 1 26 1-11 0-5 1-3 1 23 1-13 1 4 0 6 1-10 1-1 1 3 1-1 0 2 1-11 1-4 1 13 1 0 0-8 1 5 1 11 1-4 1-1 0 2 1 3 1-10 1 19 1-13 0-7 1-13 1 46 1-30 1 15 0-9 1-6 1 14 1 5 1 0 0-14 1 4 1 15 1-15 1 14 0-8 1 7 1-6 1 15 1-31 0 18 1 7 1-6 1 7 1 14 0-20 1 13 1-8 1-3 1 8 0 12 1-8 1 3 1-17 1-5 0 16 1 6 1-4 1 10 1-24 0 14 1-13 1 3 1 14 1 6 0-8 1 0 1 4 1-2 1-7 0 9 1 0 1-4 1 13 1-28 0 9 1 1 1-6 1-2 1 16 0-14 1 14 1 1 1 6 1 7 0 6 1-28 1 17 1-9 1 6 1-7 0 9 1-4 1 4 1 4 1-3 0-3 1 6 1 7 1-4 1-2 0 3 1 1 1-5 1 1 1 14 0-16 1 3 1 0 1 7 1 6 0-16 1 19 1-17 1 4 1 1 0 1 1-4 1-6 1-3 1 27 0-12 1-32 1 41 1-14 1-6 0-2 1 25 1-4 1-19 1 2 0 13 1-8 1 12 1-12 1-2 0-9 1 15 1-9 1 12 1-2 0 11 1-15 1-22 1 19 1-4 0 6 1 5 1-9 1 12 1 1 0-8 1 11 1 12 1-7 1-21 0 25 1-24 1 19 1 11 1-31 0 21 1 1 1-9 1-5 1 10 0-1 1 18 1-23 1 6 1-5 0 20 1-16 1-3 1 3 1-3 0-14 1 18 1-14 1 22 1 4 0-2 1-1 1-3 1-1 1-13 0 19 1-5 1-16 1-1 1 10 0-1 1-10 1 9 1-9 1-1 0 8 1 8 1-1 1-4 1 6 0 2 1 11 1 1 1-10 1-13 0 8 1-4 1 0 1 10 1-1 0-2 1-6 1-5 1 9 1 8 0-21 1 4 1 28 1-22 1 9 0 3 1 0 1-2 1-16 1 3 0-5 1 0 1 21 1-10 1 0 0 16 1 0 1-2 1 6 1-10 0 19 1-20 1-9 1 18 1 5 0 1 1-12 1 5 1-7 1 1 0-7 1 11 1-1 1-2 1 9 0 4 1-17 1 19 1-20 1-3 0 12 1-8 1 16 1 5 1-23 0 19 1-4 1 7 1 1 1 1 0-3 1-17 1 2 1 21 1 3 0-5 1-5 1-12 1 17 1-7 0-5 1 19 1 8 1-15 1-8 0 14 1-8 1-13 1 1 1 23 0-14 1-5 1 18 1-1 1-18 0 16 1-18 1 10 1 10 1-13 0 5 1-14 1 6 1 12 1 1 0-1 1 2 1-7 1 10 1-13 0-3 1 6 1-9 1 21 1-10 0-1 1-9 1 8 1 2 1-6 0 7 1-6 1-2 1-4 1 1 0 24 1-18 1-7 1 23 1-17 0 7 1-3 1-1 1 9 1-2 0 10 1-25 1 23 1-8 1 9 0-21 1 18 1 6 1-11 1 7 0 9 1-22 1 21 1-26 1 9 0 13 1-16 1 22 1-22 1-6 0 8 1-5 1-5 1 32 1-24 0-8 1 10 1-1 1 14 1-3 1-1 1-12 1-1 1 12 0-6 1-1 1 20 1-6 1-8 0-6 1 2 1 10 1-7 1 2 0-2 1-3 1-4 1-11 1 20 0-1 1-8 1-1 1 5 1 12 0-10 1 0 1 6 1-9 1-7 0 13 1-21 1 16 1-10 1 5 0 5 1 5 1 4 1 4 1-10 0 21 1-18 1-10 1-1 1-1 0 4 1 26 1 1 1-20 1 1 0-1 1 20 1-9 1 0 1-10 0-5 1 20 1 0 1-9 1 4 0-12 1 19 1-23 1 9 1 6 0-18 1 20 1 12 1-33 1 14 0-30 1 39 1-10 1 13 1-18 0 2 1 4 1-10 1 11 1 1 0 3 1-17 1 22 1-24 1 22 0-6 1-6 1 7 1 23 1-31 0 2 1-3 1 5 1-4 1 0 1 7 1 6 1-3 1 1 0 4 1-29 1 24 1-7 1-8 0 11 1-1 1-3 1-8 1 0 0 20 1 6 1-19 1 10 1-25 0 25 1-3 1 2 1 5 1-19 0 3 1-5 1 12 1-3 1 14 0-1 1 7 1-33 1 23 1-30 0 11 1-1 1 16 1-13 1 9 0 2 1 8 1-32 1 23 1-5 1-14 1 18 1-19 1 11 0 6 1-1 1-7 1 0 1 10 0-16 1 12 1-4 1 0 1 13 0-24 1-3 1 22 1-9 1-1 1 15 1-7 1-3 1-18 0 12 1-10 1-8 1 23 1 2 0-15 1 10 1-3 1-13 1 14 0 7 1-16 1 5 1-6 1 13 0 7 1 4 1-15 1-9 1 10 0-8 1 5 1 12 1-21 1 8 0-6 1 5 1 9 1-8 1 11 1-7 0-16 1 14 1-2 1 5 1-8 0 9 1 2 1-8 1-10 1 3 0 8 1-9 1 10 1 12 1-4 0-22 1 17 1-19 1 7 1 2 0 8 1-7 1 7 1 1 1-8 0 3 1-4 1-7 1-6 1 9 0 18 1-18 1 4 1-23 1 13 0 11 1-15 1 11 1 5 1-8 0 10 1-2 1-4 1-16 1 24 0-23 1-2 1-14 1 25 1-3 0-16 1 32 1-12 1 8 1-3 0 4 1-2 1-14 1 7 1 2 0-2 1-19 1 3 1-3 1 21 0-5 1 2 1-15 1 5 1-1 0-9 1 9 1 6 1-14 1 4 0 27 1-11 1 1 1-15 1-6 0 16 1 0 1-5 1-8 1 14 0 2 1-16 1 20 1 5 1-34 0 36 1-30 1 20 1-7 1 5 0 9 1-7 1-3 1 3 1-37 0 37 1 4 1-16 1-6 1 9 0-6 1 0 1 1 1 25 1-20 0-4 1 9 1-10 1 14 1-7 0-1 1 5 1 9 1-12 1 7 0 11 1-14 1-9 1 6 1 9 0-8 1 5 1 7 1-17 1 3 0-7 1 14 1 0 1-15 1 12 0-17 1 12 1 18 1-3 1-20 0 17 1-14 1 5 1-8 1 24 0-1 1-11 1 1 1-9 1 20 0-4 1-7 1 25 1-30 1 3 0 20 1 7 1-22 1-4 1 2 0-1 1-7 1 18 1 2 1 2 0-2 1-8 1 14 1-13 1-24 0 24 1 3 1-14 1 2 1-3 0 35 1-19 1-4 1 9 1-9 0 3 1 7 1-14 1 5 1-4 0-6 1 22 1-2 1-11 1 5 0 2 1-1 1 2 1 14 1-29 0 18 1-16 1-10 1 27 1-4 0-2 1-7 1 13 1 9 1-27 0 11 1-2 1-9 1 4 1-2 0 8 1 9 1-17 1 4 1 9 0-6 1-8 1 17 1-5 1 9 0-13 1 9 1 1 1-16 1 16 0-9 1 4 1 3 1 8 1-14 0 6 1 2 1 10 1-15 1 13 0 5 1-2 1-14 1 7 1-7 0-10 1 18 1-7 1 0 1 3 0-8 1 12 1-21 1 21 1-9 0 10 1 9 1 7 1-21 1 3 0-4 1-4 1 14 1-6 1-6 0 2 1 1 1 4 1 1 1-8 0 15 1-5 1 14 1-4 1 3 0-19 1 0 1 5 1 19 1-20 0-2 1 0 1-6 1 7 1 3 0 8 1-13 1 13 1-2 1-21 0 4 1 4 1 17 1-19 1 20 0-26 1 9 1 5 1 23 1-20 0-10 1-3 1 13 1 5 1-12 0 11 1 12 1-13 1-13 1 11 0-1 1-2 1 6 1 19 1-13 0-3 1-6 1-6 1 16 1-3 0 9 1-19 1-11 1 18 1-8 0 7 1-3 1 22 1-26 1 9 0-2 1 14 1-11 1-16 1 20 0-2 1 0 1-10 1 10 1-6 0 13 1-9 1-3 1 2 1 14 0-10 1 4 1-2 1-9 1 16 0 1 1-13 1 12 1 16 1-23 0 7 1-11 1 28 1-26 1-18 0 19 1-4 1 0 1 4 1-2 0 10 1 9 1-24 1 22 1-7 0-6 1 8 1 14 1-11 1-4 0 4 1-6 1 1 1-9 1 14 0-14 1-1 1 20 1-7 1 2 0-11 1 4 1-12 1 9 1 21 0-29 1-1 1 14 1-8 1-4 1-3 1 11 1 8 1 2 0-2 1-5 1 6 1-14 1 17 0-22 1 7 1-17 1 39 1-10 0-9 1 10 1-2 1-13 1 17 0-12 1 12 1-15 1 4 1 6 0-7 1-2 1 2 1 4 1 2 0 2 1-2 1-2 1-16 1 19 0-6 1-11 1 5 1-12 1 9 0-3 1 8 1-8 1-9 1 3 1 14 1 5 1-5 1 1 0-20 1 13 1 12 1-4 1 1 0 5 1-23 1 6 1 4 1-12 0-8 1-5 1 34 1-8 1-1 0-5 1 14 1-2 1-1 1-2 0-9 1 11 1-6 1 7 1-3 1 0 0-21 1 4 1 19 1-19 1-15 0 30 1-1 1 7 1-32 1 17 0-7 1 2 1 19 1-12 1-7 0-1 1 16 1-15 1-10 1 10 0-7 1 15 1 9 1-6 1-12 0-6 1 15 1-17 1 12 1 0 1 10 1-3 1-4 1-11 0 13 1 2 1-19 1 9 1-1 0-6 1 21 1-35 1 17 1 1 0 7 1 1 1-15 1 9 1-25 0 37 1-23 1-3 1-12 1 27 0-15 1-1 1 3 1 3 1-7 0 6 1-2 1 15 1-26 1 25 0-15 1 11 1-1 1 12 1 6 0-25 1 9 1 2 1-3 1 0 1-20 1 5 1 12 1 2 0-14 1 12 1-5 1 5 1-21 0 5 1 4 1 0 1 6 1-10 0 13 1-7 1 3 1 15 1-15 0-1 1-10 1 18 1-13 1 4 0 7 1-3 1 6 1-26 1 15 0-12 1 8 1 6 1-7 1 12 0-22 1 2 1 30 1-21 1 0 0 24 1-20 1 2 1 7 1-10 0 3 1-10 1 26 1-3 1-5 0-1 1 0 1-5 1 11 1-7 0-12 1 13 1-7 1 10 1-19 0 24 1-17 1 12 1 9 1-20 0 19 1-10 1-8 1-11 1 15 0-1 1 7 1-13 1-1 1 14 0-6 1 4 1-23 1 16 1-1 0 5 1-10 1 19 1 5 1-27 0 23 1-4 1-5 1 2 1 11 0 4 1-27 1 9 1 19 1-13 0-4 1-4 1-9 1 23 1-2 0-3 1 4 1-9 1-5 1 6 0 3 1-15 1 11 1 12 1 4 0-18 1 22 1-15 1 10 1-17 0 13 1-2 1 7 1-17 1 19 0-18 1-1 1-2 1 4 1-9 0-2 1 16 1-3 1 8 1-7 0 6 1 7 1 2 1-4 1 12 0-26 1 7 1 3 1-12 1 25 0-16 1-11 1 7 1 7 1 22 0-23 1 1 1 0 1-30 1 28 1-6 1 16 1-6 1-12 0 17 1-12 1 14 1-6 1 2 0 10 1 1 1-4 1 5 1-8 0-1 1 6 1-8 1-1 1 8 0-2 1 0 1 11 1-16 1 4 1 3 1 15 1-27 1 18 0-14 1-1 1 18 1-15 1-5 0 4 1-2 1 14 1 1 1-1 0 8 1-14 1 0 1-8 1-3 0 2 1 8 1 6 1-13 1-4 0 1 1 5 1-1 1-12 1 30 0-21 1 25 1-13 1-14 1 7 0 6 1-18 1 14 1-4 1-3 0 19 1-16 1 5 1 1 1-10 0-5 1 16 1-2 1 5 1-9 0 17 1-8 1 3 1 13 1-28 0-1 1 16 1-3 1-12 1 7 0-15 1 22 1-25 1 25 1 12 0-15 1 6 1-20 1 1 1 8 0 14 1-3 1 7 1-15 1 12 0 2 1 3 1-16 1-14 1 13 0-11 1 10 1 6 1 0 1-13 0 7 1 5 1-5 1 5 1 5 0-9 1-19 1 27 1-7 1 1 0-3 1 8 1 4 1-17 1 9 0 2 1-2 1 4 1 2 1-5 0-12 1 11 1 13 1 3 1-32 0 11 1 27 1-24 1 8 1-9 0-15 1 32 1-13 1 7 1-7 0 2 1 14 1-10 1-10 1 23 0-29 1-2 1 11 1 0 1 9 0-1 1-3 1 4 1-13 1-6 0 23 1-10 1 9 1-11 1 14 0-1 1-9 1 6 1 6 1-25 0 21 1-6 1 5 1-21 1 12 0-4 1 9 1 8 1-4 1-9 0 4 1 1 1 7 1-8 1-13 0 27 1-18 1 11 1-1 1 7 0-20 1-10 1 16 1-8 1 2 0 6 1 2 1 8 1-5 1 15 0-37 1 21 1-11 1 29 1-20 0-7 1 9 1 3 1 7 1-20 0 13 1-9 1 12 1-31 1 23 0-1 1 14 1-17 1 16 1-19 0 20 1-16 1-1 1 0 1 7 0-15 1 19 1-5 1 2 1-13 0 1 1 16 1 6 1-8 1-1 0-11 1 4 1-2 1 5 1 6 1 7 0-5 1-15 1 15 1 4 1-20 0-6 1 10 1 2 1 8 1-17 0 10 1 11 1-5 1 3 1-3 0-10 1-6 1 17 1-11 1 18 0-1 1-21 1 13 1 4 1-11 0 10 1-28 1 10 1-4 1 14 1 7 1-17 1-14 1 13 0 2 1-3 1 20 1-13 1 2 0-1 1-25 1 19 1-5 1 4 0-3 1 5 1-3 1-3 1 23 0-33 1 9 1 4 1-2 1 10 0 2 1-14 1 7 1 11 1-17 0-4 1 4 1 25 1-20 1-3 0 1 1-5 1-1 1 7 1-3 0 11 1 13 1-2 1-19 1 19 0-19 1 8 1 1 1-13 1 2 0-20 1 12 1 8 1-12 1 0 0 5 1-18 1 19 1 7 1 9 0-7 1 2 1-1 1-2 1-7 0 3 1 2 1 5 1-25 1 30 0-22 1 11 1 1 1-2 1 10 0-23 1 5 1-14 1 31 1-23 0 5 1-7 1 15 1-7 1 6 0-11 1 13 1-14 1 5 1 5 0-15 1 16 1-11 1-3 1 17 0 1 1 4 1-6 1-16 1 16 0-9 1 7 1-7 1 9 1 1 0-16 1 3 1-8 1 19 1-7 0 13 1 0 1-17 1 19 1-1 0-5 1 7 1-9 1-14 1 12 0-8 1 14 1-8 1-13 1-7 0 20 1-16 1 11 1-7 1-13 0 32 1-21 1 11 1-5 1-1 0 19 1-23 1-1 1 3 1 10 0 9 1-8 1 3 1-17 1 3 0 13 1-8 1 1 1 10 1-20 0-1 1 21 1-12 1-13 1 1 0 4 1 5 1-12 1-1 1-1 0 15 1-17 1 10 1 1 1 9 0-4 1 0 1-2 1-1 1 6 0-15 1-3 1-6 1 30 1-2 0-6 1-4 1-14 1 24 1-20 0 8 1 10 1-8 1-11 1 8 0-4 1-2 1 11 1-18 1 13 0 17 1-11 1-14 1 18 1-2 0-3 1 5 1-2 1 2 1-11 0 11 1-16 1 1 1-4 1-2 0 9 1 1 1-4 1 0 1 7 0-20 1 12 1-2 1 5 1-19 0 19 1-17 1 17 1 12 1-15 0 8 1-3 1 0 1-18 1 14 0 8 1-17 1 6 1-7 1 26 0-22 1 14 1-5 1-5 1-4 1 8 1 8 1-20 1-6 0-3 1 28 1-11 1 10 1 1 0-18 1 27 1-12 1-21 1 23 0 8 1-25 1-3 1 33 1-13 0-9 1 6 1-16 1 18 1-3 0 3 1-15 1 8 1-10 1 29 0-11 1-8 1-12 1 20 1-10 0 1 1-4 1 0 1 7 1 5 0 9 1-22 1 18 1 3 1-12 0 3 1-5 1-6 1 2 1 3 0 6 1 6 1-1 1 6 1-12 0 4 1-4 1-7 1 13 1-9 0-3 1 3 1 20 1-5 1-5 0-10 1 18 1-4 1-16 1-1 0 3 1 14 1-1 1 1 1-26 0 34 1-22 1 9 1-8 1 6 0-6 1-1 1 20 1-8 1-2 0-4 1 8 1 1 1-10 1 14 0-9 1 1 1 5 1-6 1 1 0-6 1 0 1 11 1-6 1-8 0 16 1-2 1-4 1 0 1-15 0 28 1-10 1-8 1-8 1 25 0-16 1 7 1-7 1 15 1-16 0 5 1 1 1-6 1-11 1 17 0-3 1 3 1-8 1 0 1-3 0 16 1-10 1 25 1-20 1 3 0 13 1-30 1 20 1 12 1-14 0 12 1-28 1 32 1-28 1 17 1-1 1 2 1-7 1-2 0 11 1-7 1-11 1 0 1 1 0 16 1-15 1 12 1-36 1 28 0 21 1-9 1-23 1 19 1-1 0-2 1-1 1 2 1 13 1-24 0 5 1 1 1 18 1-5 1 0 0-15 1 0 1 14 1-20 1 26 0-14 1 8 1-5 1 2 1 5 1-3 1 2 1-9 1 14 0-16 1 5 1 9 1-17 1 22 0-6 1-13 1 1 1 13 1-14 1 18 0-22 1 6 1 10 1-18 1 12 0 9 1 3 1-17 1-2 1-4 0 2 1 16 1-7 1 12 1-7 0-7 1 13 1-14 1 16 1-10 1 13 1-27 1 19 1 8 0-13 1-2 1-16 1 28 1 13 0-29 1 6 1-5 1 11 1-7 0-1 1 18 1-10 1-9 1 5 0 8 1-5 1 3 1-11 1 11 0-28 1 21 1 10 1-19 1 0 0-2 1 10 1-7 1 2 1 5 0-2 1-1 1 2 1-6 1 20 0-13 1 18 1-12 1-10 1 16 0-28 1 18 1 6 1-15 1 0 0 1 1-2 1-12 1 12 1 5 0 17 1-1 1-1 1-18 1 5 0 13 1-9 1-1 1-1 1 24 0-23 1 0 1 8 1 2 1-8 0-2 1 3 1-16 1-2 1 0 0-8 1 26 1-10 1 4 1-5 0 9 1-5 1-7 1 13 1-23 0 23 1-1 1-11 1-4 1 11 0-5 1 2 1 16 1-42 1 26 0 5 1-27 1-1 1 16 1-5 0 7 1-6 1 0 1 4 1-6 0-9 1 32 1-26 1 18 1-1 1-6 1 6 1 6 1-20 0-1 1 16 1 1 1-6 1 6 0-27 1 1 1 13 1 9 1 7 0-13 1 4 1-5 1 3 1 13 0-15 1-18 1 4 1 3 1 17 0-11 1 0 1 12 1-24 1 5 0 19 1-19 1 16 1-9 1 4 0 4 1-4 1 12 1-10 1-4 0-6 1-10 1 32 1-30 1 15 0-23 1 0 1 18 1-13 1 7 1-5 1-2 1 0 1 4 0-19 1 18 1 15 1-8 1 1 0-12 1 19 1-23 1 8 1 6 0-16 1-7 1 26 1-24 1 17 0-14 1-3 1 0 1 15 1-9 0 6 1-5 1 19 1-8 1 5 0-4 1-6 1 13 1 11 1-32 0 13 1 1 1-2 1 4 1-19 1 19 1-11 1 2 1-1 0 9 1-5 1-12 1 5 1-7 0-11 1 8 1 0 1 11 1 2 0 6 1-21 1 13 1-2 1-2 0 2 1 11 1 2 1-18 1 1 0-7 1 25 1-18 1-3 1 4 0 10 1-18 1 18 1-10 1 7 0-17 1 7 1 14 1-13 1 12 0-35 1 33 1 1 1-20 1 9 0 4 1-10 1 3 1 5 1 8 0-21 1 19 1-13 1 1 1 25 0-14 1-2 1 1 1 12 1-13 0-8 1 5 1 9 1-17 1-2 0-3 1 11 1-16 1 12" transform="scale(0.25)" fill="none" stroke="#8d8f92" stroke-width="10.4" stroke-linejoin="round"/>
</g>
<path d="M727.0,285.4 L739.0,285.4 L733.0,276.9 Z" fill="#231f20"/>
<rect x="714.7" y="73.1" width="521.6" height="212.3" fill="none" stroke="#231f20" stroke-width="1.5"/>
<text x="733.0" y="309.9" text-anchor="middle">0</text>
<line x1="863.2" y1="285.4" x2="863.2" y2="280.4" stroke="#231f20" stroke-width="1.2"/>
<line x1="863.2" y1="73.1" x2="863.2" y2="78.1" stroke="#231f20" stroke-width="1.2"/>
<text x="863.2" y="309.9" text-anchor="middle">100</text>
<line x1="993.3" y1="285.4" x2="993.3" y2="280.4" stroke="#231f20" stroke-width="1.2"/>
<line x1="993.3" y1="73.1" x2="993.3" y2="78.1" stroke="#231f20" stroke-width="1.2"/>
<text x="993.3" y="309.9" text-anchor="middle">200</text>
<line x1="1123.5" y1="285.4" x2="1123.5" y2="280.4" stroke="#231f20" stroke-width="1.2"/>
<line x1="1123.5" y1="73.1" x2="1123.5" y2="78.1" stroke="#231f20" stroke-width="1.2"/>
<text x="1123.5" y="309.9" text-anchor="middle">300</text>
<line x1="714.7" y1="94.3" x2="719.7" y2="94.3" stroke="#231f20" stroke-width="1.2"/>
<line x1="1236.3" y1="94.3" x2="1231.3" y2="94.3" stroke="#231f20" stroke-width="1.2"/>
<text x="705.5" y="101.3" text-anchor="end">60</text>
<line x1="714.7" y1="136.8" x2="719.7" y2="136.8" stroke="#231f20" stroke-width="1.2"/>
<line x1="1236.3" y1="136.8" x2="1231.3" y2="136.8" stroke="#231f20" stroke-width="1.2"/>
<text x="705.5" y="143.8" text-anchor="end">40</text>
<line x1="714.7" y1="179.2" x2="719.7" y2="179.2" stroke="#231f20" stroke-width="1.2"/>
<line x1="1236.3" y1="179.2" x2="1231.3" y2="179.2" stroke="#231f20" stroke-width="1.2"/>
<text x="705.5" y="186.2" text-anchor="end">30</text>
<line x1="714.7" y1="221.7" x2="719.7" y2="221.7" stroke="#231f20" stroke-width="1.2"/>
<line x1="1236.3" y1="221.7" x2="1231.3" y2="221.7" stroke="#231f20" stroke-width="1.2"/>
<text x="705.5" y="228.7" text-anchor="end">20</text>
<line x1="714.7" y1="264.2" x2="719.7" y2="264.2" stroke="#231f20" stroke-width="1.2"/>
<line x1="1236.3" y1="264.2" x2="1231.3" y2="264.2" stroke="#231f20" stroke-width="1.2"/>
<text x="705.5" y="271.2" text-anchor="end">0</text>
<text x="975.5" y="60.0" text-anchor="middle" font-weight="bold" class="b">0.5 ms</text>
<text x="972.3" y="335.1" text-anchor="middle">Time (ms)</text>
<text transform="translate(668.5,179.2) rotate(-90)" text-anchor="middle">Stimulus (μA)</text>
<line x1="1169.0" y1="89.7" x2="1169.0" y2="108.0" stroke="#231f20" stroke-width="1.5"/>
<text x="1183.5" y="112.7">1 mV</text>
<text x="1156.6" y="217.5" fill="#939598" class="g">60 μA</text>
<rect x="1268.5" y="73.1" width="40.2" height="214.8" fill="url(#g7)" stroke="#231f20" stroke-width="1.3"/>
<line x1="1268.5" y1="82.0" x2="1271.5" y2="82.0" stroke="#231f20" stroke-width="1.2"/>
<line x1="1308.7" y1="82.0" x2="1305.7" y2="82.0" stroke="#231f20" stroke-width="1.2"/>
<text x="1313.0" y="89.0">5</text>
<line x1="1268.5" y1="181.0" x2="1271.5" y2="181.0" stroke="#231f20" stroke-width="1.2"/>
<line x1="1308.7" y1="181.0" x2="1305.7" y2="181.0" stroke="#231f20" stroke-width="1.2"/>
<text x="1313.0" y="188.0">0</text>
<line x1="1268.5" y1="280.0" x2="1271.5" y2="280.0" stroke="#231f20" stroke-width="1.2"/>
<line x1="1308.7" y1="280.0" x2="1305.7" y2="280.0" stroke="#231f20" stroke-width="1.2"/>
<text x="1313.0" y="287.0">−5</text>
<text x="1242.6" y="310.0"><tspan textLength="76" lengthAdjust="spacingAndGlyphs">Mean ΔV</tspan><tspan font-size="16" dx="2" dy="9.5">m</tspan></text>
<rect x="714.7" y="399.80" width="521.6" height="42.76" fill="url(#g8)"/>
<rect x="714.7" y="442.26" width="521.6" height="42.76" fill="url(#g9)"/>
<rect x="714.7" y="484.72" width="521.6" height="42.76" fill="url(#g10)"/>
<rect x="714.7" y="527.18" width="521.6" height="42.76" fill="url(#g11)"/>
<rect x="714.7" y="569.64" width="521.6" height="42.76" fill="url(#g12)"/>
<clipPath id="cp1"><rect x="714.7" y="399.8" width="521.6" height="212.3"/></clipPath>
<line x1="733.0" y1="399.8" x2="733.0" y2="618.6" stroke="#8f9093" stroke-width="2.6"/>
<g clip-path="url(#cp1)">
<path d="M2859 2039l1-20 1-2 1 7 0 8 1-14 1 21 1-8 1 5 0-6 1 4 1 0 1-28 1 38 0-6 1-6 1 19 1-13 1 5 0-16 1 13 1-6 1-5 1 9 0-4 1-16 1 18 1 3 1 9 1-23 1 16 1-25 1 14 0 13 1-7 1-15 1 25 1-9 0 1 1 6 1 5 1-10 1 5 0-13 1 4 1 1 1 1 1-1 0-10 1 17 1-6 1-14 1 1 0 15 1-5 1 12 1 3 1-12 0-11 1 16 1-1 1 1 1-15 0 4 1 12 1 0 1 6 1-29 0 9 1 9 1-15 1 14 1 4 0-7 1-3 1 4 1 6 1-4 0-10 1 12 1-12 1 4 1-4 0 10 1-1 1-16 1 8 1-184 0-225 1 82 1 94 1 85 1 110 0 34 1-44 1-20 1-51 1-32 0-51 1-47 1-26 1-15 1-23 0 6 1-51 1 12 1-14 1-22 0-12 1-7 1-21 1-3 1 9 0 24 1-3 1-27 1 21 1-8 0 27 1-5 1-25 1 32 1-20 0 9 1-4 1 15 1 5 1-5 0 11 1 2 1 33 1 0 1-10 0 6 1 11 1-9 1 22 1-15 0 16 1-2 1 17 1 3 1-4 0-2 1 1 1 23 1-4 1 7 0-3 1-7 1 18 1 4 1 5 0-5 1 9 1 2 1 19 1-1 0-1 1 13 1-8 1 24 1-19 0 14 1-16 1 9 1 17 1-15 0 8 1 15 1-8 1 14 1 2 0-5 1-6 1 21 1 2 1-9 0 10 1 3 1-4 1-3 1-3 0 37 1-7 1-2 1 8 1 5 0 22 1-28 1 11 1-7 1-1 0 9 1 12 1-10 1 0 1 5 0-5 1-12 1 18 1-11 1 17 0 1 1 10 1-10 1 21 1-14 0-2 1 4 1 9 1 20 1-7 0-12 1 16 1-8 1-14 1-2 0 10 1 11 1 0 1-6 1-6 0 11 1-7 1 30 1-23 1 0 0 25 1-20 1 7 1 1 1 16 0 3 1-3 1-17 1-6 1 39 0-29 1 1 1 23 1-7 1-6 0-2 1 9 1 0 1-12 1 15 0-15 1-8 1 21 1 19 1-15 0 3 1-13 1 26 1-11 1-5 0 9 1-13 1 16 1-3 1 8 0-21 1 23 1-19 1 4 1 7 0 2 1 8 1-14 1 14 1 0 0 1 1 3 1-3 1 6 1-2 0-4 1-8 1 10 1 12 1-12 0 12 1-5 1 8 1-28 1 22 0-17 1 17 1-5 1-4 1 9 0-5 1 6 1 1 1-15 1 26 0-27 1 6 1 0 1 3 1-16 0 36 1-13 1-10 1 2 1 10 0 1 1-1 1-6 1 7 1-10 0-5 1 34 1-18 1-4 1 8 0 2 1-12 1 16 1-14 1 6 0-8 1 24 1-33 1 14 1-7 0 10 1 3 1 2 1-14 1 5 1 9 0-10 1 6 1 21 1-40 1 14 0 6 1-11 1 18 1-15 1 3 0 6 1 1 1 10 1-3 1-9 0 16 1-20 1 6 1-2 1-4 0-10 1 23 1-18 1 11 1 0 0-7 1 5 1 4 1 7 1-13 0 11 1-5 1-5 1 9 1-16 0 10 1 1 1 1 1-11 1 1 0 20 1-30 1 17 1-7 1-3 0 27 1-25 1-6 1 27 1-25 0 16 1-15 1 1 1-10 1 24 0-21 1 3 1 10 1-5 1-14 0-5 1-12 1 1 1 21 1-6 0-1 1 8 1 9 1-14 1 13 0-15 1-2 1 25 1-24 1-9 0 8 1-14 1 10 1-5 1 7 0 8 1-29 1 14 1 7 1-4 0-5 1 15 1-5 1-14 1 1 0-6 1 12 1-1 1 0 1 10 0-10 1 5 1-10 1 1 1 0 0 4 1-8 1-6 1 2 1-6 0-2 1 2 1 2 1-12 1 13 0-1 1 13 1-9 1 5 1-14 0 9 1-1 1-18 1 6 1 4 1 3 1-2 1-9 1 6 1-12 1 17 1 2 1-9 0 10 1-6 1-9 1 8 1 1 0-4 1 17 1-18 1-5 1 7 0-1 1-8 1 27 1-1 1 2 0-18 1-11 1 18 1-8 1 1 0 2 1 2 1 2 1-4 1 4 0 6 1-3 1 1 1-12 1 26 0-31 1 29 1-9 1-18 1 18 0 7 1-34 1 4 1 14 1 2 0-7 1 16 1-7 1-11 1 9 0-5 1 7 1-12 1 20 1-6 1-6 1 12 1-11 1 22 0-30 1 21 1-8 1 6 1-2 0-6 1-6 1 17 1-4 1 4 0 3 1-13 1-7 1 3 1 9 1-4 1-3 1 10 1-8 0-5 1 33 1-27 1 8 1-13 0 6 1 4 1-8 1 11 1-9 0-1 1 8 1 11 1-2 1-8 0 6 1-11 1-8 1 16 1-8 0 9 1-2 1-2 1-10 1 16 0-5 1 5 1 6 1-8 1 3 0-9 1 3 1-5 1 0 1 17 0-13 1 3 1-12 1 20 1-14 0-6 1 19 1-14 1 15 1 2 0-3 1-7 1 14 1-13 1-15 1-4 1 4 1 17 1-8 0 14 1-10 1 2 1-1 1 2 0-8 1 6 1 4 1 0 1-4 0 7 1 10 1 6 1-18 1 18 0-16 1 2 1-12 1 13 1 8 0-10 1 12 1-12 1-7 1 6 0 8 1-18 1 1 1 15 1-7 0 5 1-7 1 8 1-3 1-2 0 15 1-25 1 21 1-24 1 8 0-10 1 16 1 17 1-9 1 0 0 10 1-18 1 1 1-9 1 0 0 23 1-16 1 5 1-26 1 16 0-5 1 18 1-14 1 23 1-6 0 9 1-6 1-4 1 12 1-12 0 4 1 3 1 5 1-23 1 16 1-14 1 19 1-30 1 18 0-6 1 8 1-4 1 20 1 1 0-21 1 15 1-12 1 15 1-7 1-5 0 1 1 9 1-16 1 6 1-10 0 11 1 5 1-2 1-7 1 14 0-13 1 4 1 0 1-20 1 10 0 19 1-14 1 17 1-10 1 1 0-13 1 10 1 7 1-27 1 17 0-2 1 8 1 4 1-2 1 1 0-16 1 7 1 22 1-23 1 19 0-9 1-27 1 22 1-22 1 28 0 9 1-25 1 6 1 4 1-6 0 12 1 5 1-9 1 4 1-3 0-10 1-2 1 3 1 11 1 8 0-15 1 2 1-4 1 8 1 8 0-23 1 7 1 18 1-4 1-4 0-2 1 4 1 11 1-20 1 14 0 1 1 5 1-15 1-2 1 5 1 7 1-8 1 0 1 8 0-15 1 12 1 5 1-8 1 5 0 2 1-9 1 12 1-10 1 11 0-19 1 5 1 21 1-17 1-2 0 3 1-2 1 2 1 3 1 4 0-6 1-15 1 18 1-17 1 14 0 14 1-6 1-14 1 3 1 0 0-9 1-13 1 25 1-10 1 0 0 13 1-29 1 9 1 12 1 5 0-9 1-3 1-1 1-13 1 14 0 6 1-8 1 15 1-2 1-18 0-3 1 13 1-1 1-9 1 8 0-8 1 16 1-13 1 8 1-16 0 12 1-12 1-12 1 13 1 8 0 3 1-8 1 5 1 16 1-27 0 12 1-16 1 6 1 12 1 19 0-32 1 1 1-12 1 20 1-5 0 6 1-13 1 2 1 5 1 10 0-5 1-5 1-13 1 10 1-7 0 16 1-23 1-2 1 9 1 13 0-22 1 6 1-2 1-5 1 10 0 10 1-5 1-8 1 8 1 1 0-8 1-6 1-20 1 25 1 9 0-15 1-2 1 10 1 0 1 2 0-15 1 3 1 6 1-3 1 5 0-8 1-4 1-2 1 12 1-6 0-3 1-4 1 17 1-10 1-14 0 6 1 8 1-3 1-7 1 15 0-5 1 4 1-6 1 4 1-9 0 6 1 2 1-5 1-5 1 8 0 11 1-24 1 1 1 8 1-4 0 3 1-8 1 2 1-8 1-5 0 15 1-6 1-12 1 10 1-3 0 21 1-19 1 13 1-7 1 23 0-8 1-1 1 6 1-18 1-13 0-5 1 19 1-20 1 7 1 8 0-1 1 4 1-19 1 8 1-2 0 2 1 12 1 1 1-1 1-9 1 15 1-20 1 12 1-5 0 12 1 2 1-1 1 0 1-15 0-11 1-15 1 16 1 9 1-5 0 5 1 8 1-7 1-4 1-1 0 11 1-17 1 2 1 10 1 9 0-13 1 8 1 0 1-10 1 13 0 10 1-22 1 6 1-13 1 13 0-28 1 35 1 0 1 3 1 1 0 4 1-13 1 3 1 12 1-2 0-13 1 9 1 1 1 1 1-10 0-2 1 8 1 8 1-12 1 16 0-11 1-19 1-6 1 6 1 18 0-2 1 3 1-2 1-2 1-2 0-9 1 14 1-4 1-4 1 14 0-6 1 2 1-2 1 10 1-3 1-3 0-3 1-3 1 4 1-5 1 9 0-6 1 0 1 4 1-3 1 6 0 3 1-13 1 0 1 6 1-12 0 2 1 10 1-10 1 11 1-18 0 13 1 14 1-14 1-20 1 36 0-9 1-8 1 13 1 1 1-1 0-2 1 11 1 14 1-23 1 7 0 11 1-12 1-14 1 7 1 11 0-6 1 3 1-25 1 20 1-4 0 4 1-21 1 16 1 9 1-11 0 2 1-4 1 7 1-9 1-4 0-4 1 16 1 2 1-7 1 7 0 6 1-5 1 1 1-7 1-9 0 13 1 4 1 9 1 4 1-10 0-20 1 22 1-11 1 1 1 2 0 12 1-16 1 9 1 1 1 14 0-26 1-3 1 14 1 12 1 1 0-17 1 3 1 1 1-4 1-3 0 1 1 9 1-2 1-8 1 15 0-2 1-15 1 1 1 7 1-1 0 16 1-13 1-5 1 3 1-1 0 10 1-2 1-1 1-10 1 19 0-5 1 2 1-12 1 20 1-20 0 1 1 15 1-6 1-6 1-8 0 17 1-7 1-11 1 23 1-5 0-3 1 0 1 0 1 5 1-7 0 3 1-2 1-6 1-3 1 17 0-3 1-7 1 2 1-5 1 0 0-2 1-13 1 26 1 7 1-18 0 7 1-16 1 19 1 0 1-21 0 1 1 9 1 12 1-13 1 11 0-19 1 14 1-16 1 21 1-21 0 13 1 8 1-5 1 0 1-11 0 13 1-8 1 27 1-17 1-8 0 3 1 0 1 12 1-11 1 7 0-24 1 9 1 23 1-30 1 10 0 4 1 7 1 11 1-4 1-23 0 22 1 10 1-9 1-25 1 17 0-7 1 3 1 4 1-4 1 16 0-12 1 12 1 3 1-7 1-4 0-1 1 5 1 1 1-10 1 7 0-16 1 5 1-1 1-15 1 26 0-17 1 8 1 3 1 7 1 0 0 4 1-18 1 7 1-5 1 16 0-17 1 25 1-14 1-3 1 0 0 21 1-21 1-11 1 12 1-5 0 3 1-7 1 7 1-3 1 12 0-11 1 0 1 10 1-21 1 12 0-2 1-1 1-1 1-10 1 17 0-13 1 22 1 0 1-9 1 2 1-18 1 6 1 26 1-21 0 9 1 3 1-18 1 32 1-18 1-1 1 9 1 14 1-15 0 5 1 0 1-21 1 15 1 4 0-14 1-4 1 30 1-17 1 6 0 7 1-32 1 4 1 22 1 0 0 4 1-14 1 2 1-4 1-3 0-4 1 12 1-1 1 1 1-20 0 31 1-24 1 23 1-24 1 19 0-12 1 10 1-1 1 11 1-18 0-4 1 7 1 14 1-1 1-14 0 6 1 6 1-18 1 9 1-12 0 9 1-11 1-2 1 11 1 6 0-8 1-3 1 16 1-17 1 22 0-7 1 6 1-12 1 24 1-26 0 7 1 8 1-12 1 5 1-9 1 18 1-15 1-6 1 10 0-10 1 18 1-10 1 14 1-11 1 6 0 3 1-2 1 9 1-18 1 14 0 1 1-16 1-8 1 19 1 3 0-23 1 13 1 29 1-6 1-18 0-1 1 22 1-8 1-20 1 17 0-6 1-19 1 5 1-2 1 10 0-7 1 11 1 5 1-1 1-8 0 18 1-15 1 14 1-27 1 12 0 19 1 1 1-17 1-12 1 6 0 4 1-4 1-3 1 10 1 15 0-21 1-2 1 1 1 1 1 1 0 8 1-26 1 21 1-12 1 2 0-8 1 17 1 3 1-10 1 6 0-3 1-19 1 19 1-14 1 21 0-2 1-1 1-8 1-9 1 23 0-7 1 1 1-13 1 12 1-15 0 10 1-2 1 9 1 4 1 1 0 2 1 4 1-30 1 22 1-10 0-7 1-6 1 19 1-10 1 15 0-9 1-6 1-7 1 5 1 2 0 2 1-10 1-14 1 32 1 5 0-27 1 22 1 2 1-11 1-31 0 8 1 7 1 4 1-10 1 26 0-20 1 3 1 1 1-15 1 1 0 39 1-46 1 6 1 15 1-27 0 37 1-13 1-8 1 8 1-2 0 10 1-11 1 10 1-3 1-13 0 12 1-2 1-17 1 10 1 17 0-15 1 6 1-9 1 3 1-11 0-1 1 5 1-1 1-11 1 17 0-4 1 3 1-17 1 11 1-10 0 11 1 11 1-23 1 8 1-7 0 11 1-11 1-7 1 29 1-9 0 2 1-9 1 8 1-5 1 4 0-5 1-7 1 12 1-7 1-10 0 16 1 2 1 3 1 8 1-17 0-6 1 5 1-2 1-10 1 13 0-1 1 18 1-15 1 10 1-5 0-12 1 1 1 5 1-14 1 14 0 4 1-4 1 2 1-4 1 11 0 3 1-2 1 3 1-11 1-8 0-6 1 20 1-5 1 8 1-14 0 6 1 11 1-13 1-4 1 19 0-23 1 10 1 13 1-7 1-13 0 25 1-16 1 4 1-7 1-4 0 8 1 1 1 1 1 9 1-17 0 11 1 13 1-21 1 17 1 11 0-21 1 5 1-7 1 6 1 5 0 1 1-2 1-24 1 15 1 10 0 11 1-5 1 4 1 0 1-13 0-12 1 6 1 8 1-15 1 9 0 7 1-3 1 1 1 7 1-13 0-1 1 2 1 8 1 5 1-1 0 3 1-22 1 32 1-31 1 9 0 12 1-10 1 6 1 1 1-7 0 11 1-26 1 7 1 0 1 12 0-11 1 10 1-20 1-5 1 18 0 14 1-16 1 1 1 14 1-6 0 4 1-9 1-12 1 32 1-11 0 3 1-5 1 7 1-17 1 0 0 15 1 4 1-3 1-22 1 17 0 1 1 3 1 10 1-20 1 6 0 11 1-3 1-4 1-10 1 4 0-14 1 27 1-6 1 5 1 10 0-12 1 0 1-8 1 22 1-23 0 3 1 1 1-24 1 17 1-8 0 22 1 6 1 3 1-5 1 2 0 2 1-11 1-11 1 13 1 1 0-14 1 8 1-4 1 9 1-2 1-10 0 15 1-16 1 10 1 14 1-24 0 2 1 6 1-5 1 11 1 8 0-13 1 0 1 12 1-6 1-22 0 16 1-5 1 10 1 7 1-9 0-3 1 19 1-2 1-29 1 21 0-18 1 0 1 20 1-20 1 4 0 9 1-19 1 17 1-7 1 11 0 10 1-7 1-1 1-2 1 8 0 1 1-19 1 4 1-17 1 10 0 4 1-7 1 20 1-6 1-5 0 9 1-7 1 6 1-5 1-8 1-9 1 13 1 6 1-6 0-1 1 3 1-13 1 15 1-9 1 14 1 2 1-21 1 17 0 1 1-3 1-16 1 20 1-2 0-18 1 0 1 13 1 11 1 2 0 1 1-23 1 26 1-4 1-8 0-14 1 10 1 2 1 0 1 1 0-1 1 5 1-14 1 7 1-5 0-17 1 7 1 5 1-3 1 11 0-4 1 11 1-15 1-4 1 6 0 8 1 8 1-6 1-1 1-13 0-8 1 2 1 19 1-5 1 1 0 2 1-7 1-11 1 14 1 13 0 16 1-28 1 5 1-12 1 6 0 17 1-14 1-13 1 19 1-11 0 12 1-7 1 4 1-9 1 14 0-26 1 18 1 10 1-12 1-25 0 7 1-1 1 11 1-3 1 3 0 11 1 0 1 0 1-17 1 5 0-7 1 17 1 2 1-27 1 16 0 6 1-2 1-17 1 17 1 6 0 4 1-13 1-5 1 5 1 5 0 3 1 1 1-1 1-9 1 11 0-12 1 0 1 0 1-1 1 4 0-8 1 7 1-3 1 20 1-23 0-4 1 6 1 17 1-10 1 8 0 7 1-18 1 10 1-7 1-17 0 7 1 18 1-7 1-3 1 13 1-22 1-1 1 1 1-1 0-3 1-5 1 21 1-3 1-2 0 1 1 8 1 3 1-9 1 8 0 1 1 1 1-21 1 1 1 12 0-1 1-4 1-15 1 22 1-12 0-5 1 14 1 5 1-20 1 3 0 20 1-17 1 9 1-7 1 7 0-8 1 13 1-22 1 3 1 20 0-15 1 6 1-4 1 8 1 6 0 2 1-17 1-7 1 10 1 2 1-11 1 21 1-12 1-6 0-4 1 14 1 0 1 5 1-5 0-4 1-10 1 15 1-6 1 10 0-3 1 3 1-6 1 1 1 0 0 9 1-4 1-3 1-7 1 8 0-7 1 2 1 6 1 0 1 1 0-9 1 3 1-4 1-1 1 8 0 1 1 0 1 6 1-9 1 2 0 8 1-13 1 15 1-25 1 7 0 5 1 16 1 1 1-17 1 5 0-1 1-4 1 21 1-17 1-8 0 26 1-24 1-7 1 16 1-5 0-5 1 19 1-15 1-13 1-4 0 5 1 9 1 1 1-7 1-2 0 4 1 26 1-17 1-1 1-14 0 16 1 11 1 0 1-11 1 8 0-16 1-1 1 15 1-14 1 5 0 7 1-5 1-6 1-9 1 18 0 5 1-10 1-11 1 12 1-2 1-3 0-8 1 25 1-5 1 2 1-19 0 7 1-10 1 11 1 11 1-14 0-3 1 16 1-6 1-4 1-1 0 14 1-15 1 2 1 16 1-6 0 2 1-5 1-5 1 26 1-11 0-9 1-1 1 5 1-14 1-3 0 17 1 0 1-4 1-5 1-4 0-3 1 2 1-15 1 11 1 18 0-16 1 19 1-23 1-2 1 26 0-11 1 15 1-21 1-1 1-1 0 1 1 13 1 9 1-18 1 0 0 16 1-20 1 11 1-10 1 18 0-19 1 8 1-6 1-14 1 6 0 6 1 21 1-13 1-27 1 22 0-14 1 4 1 10 1-4 1 4 0 8 1-32 1 10 1-4 1-1 0 9 1 17 1-7 1-9 1 4 0 7 1-7 1 12 1-5 1-4 0-1 1 8 1-13 1 22 1-21 0 20 1-27 1 18 1-5 1-2 0 13 1-7 1-10 1 10 1-12 0 12 1 6 1-13 1 2 1 22 0-9 1-12 1-7 1 1 1 1 0 7 1 1 1-15 1 20 1 15 0-23 1-2 1 12 1-5 1-16 0 8 1-5 1 11 1 7 1-10 0 15 1-15 1-10 1 6 1 6 0-6 1 13 1-3 1-13 1 1 0 7 1 7 1-6 1-3 1 5 0-5 1 9 1-10 1 12 1-9 0-6 1 11 1-7 1 12 1-5 0-5 1-3 1 6 1-5 1-7 0 13 1-13 1 21 1 6 1 8 0-20 1-4 1-2 1 2 1 8 0-20 1 26 1-8 1-16 1 18 0 1 1-6 1 5 1-17 1 27 0-17 1-3 1-7 1 14 1-7 0-17 1 17 1 0 1 8 1-3 0-12 1 23 1-18 1 3 1-1 0-7 1 19 1-11 1 14 1-30 0 21 1 1 1 3 1 4 1-23 0 12 1 8 1 4 1-10 1-1 0 13 1-33 1 21 1 0 1 13 0-23 1 19 1-14 1-17 1 13 0 19 1-7 1-1 1 8 1-12 0 15 1-8 1-22 1 10 1-2 0 15 1-32 1 21 1 10 1 6 0-23 1 19 1 4 1-13 1 6 0-18 1 17 1-5 1 1 1-6 0 21 1-10 1-1 1 14 1 2 0-19 1 13 1 3 1-10 1 14 0-15 1 14 1-29 1-9 1 30 0-28 1 33 1-8 1-10 1-2 0 4 1 12 1-8 1 2 1 3 0-15 1 12 1-6 1 10 1-7 0-9 1 8 1 2 1 9 1-14 1 16 1-14 1 4 1-8 0-1 1 6 1-1 1-8 1 24 0-16 1-3 1-6 1 2 1-10 0 21 1 3 1-15 1 13 1-3 0-5 1 12 1 3 1-13 1 18 0-8 1 6 1-17 1 18 1-19 0 14 1-8 1-11 1 15 1 1 0 6 1-4 1 7 1-13 1 5 0 9 1-25 1 13 1 10 1-16 0 13 1-12 1 12 1-9 1 2 0 9 1-18 1 7 1-17 1 20 0-16 1 30 1-20 1 6 1 3 1 12 0-27 1 3 1 12 1-1 1 7 0-15 1 18 1 13 1-22 1-20 0 16 1 16 1-18 1 23 1-21 0 15 1-13 1 9 1-4 1-18 0 5 1 3 1 5 1-5 1-6 0 13 1 14 1-14 1 16 1-7 0-28 1 12 1 2 1 3 1 15 0-28 1 7 1-11 1 17 1-17 0 4 1 14 1 13 1-15 1-7 0 4 1-7 1 4 1-3 1 3 0 14 1-19 1 3 1 8 1-10 0 15 1-2 1-8 1 1 1 5 0-4 1-2 1-2 1 15 1 4 0-19 1 16 1 6 1-5 1-11 0 7 1-14 1 14 1-9 1 8 0 12 1-14 1 3 1 7 1-11 0 13 1-9 1 2 1-11 1-16 0 16 1-6 1 8 1-9 1 1 0-6 1 10 1 3 1 2 1 8 0-9 1-1 1-10 1 14 1 4 0-12 1 4 1 3 1 3 1-12 0 13 1 7 1-16 1 17 1-11 0-9 1 9 1-8 1 14 1-5 0 6 1 0 1-10 1 7 1-19 0 13 1 2 1 3 1-7 1-2 0 7 1-17 1 16 1-6 1 0 0-2 1-2 1 10 1-1 1-6 0 26 1-21 1 7 1-12 1 14 0 4 1-23 1 21 1 8 1-12 0-2 1-8 1 2 1 19 1 8 0-37 1 31 1-27 1 25 1-4 0-22 1 3 1 6 1 17 1-3 0-18 1-9 1 12 1 3 1-2 0-21 1 11 1 1 1 10 1-11 0 9 1 4 1 16 1-25 1 9 0-3 1-3 1 3 1 12 1-24 0 14 1 12 1-9 1-7 1 22 0-10 1-1 1-7 1 2 1 10 1-4 1 5 1-9 1-8 0 22 1-4 1-9 1 4 1-9 0 7 1 0 1 6 1 0 1-6 0-14 1-3 1-1 1 16 1 5 0-9 1-3 1 0 1 8 1-12 0 1 1 7 1 0 1 2 1 1 0-1 1 2 1-11" transform="scale(0.25)" fill="none" stroke="#8d8f92" stroke-width="10.4" stroke-linejoin="round"/>
</g>
<path d="M727.0,612.1 L739.0,612.1 L733.0,603.6 Z" fill="#231f20"/>
<rect x="714.7" y="399.8" width="521.6" height="212.3" fill="none" stroke="#231f20" stroke-width="1.5"/>
<text x="733.0" y="636.6" text-anchor="middle">0</text>
<line x1="863.2" y1="612.1" x2="863.2" y2="607.1" stroke="#231f20" stroke-width="1.2"/>
<line x1="863.2" y1="399.8" x2="863.2" y2="404.8" stroke="#231f20" stroke-width="1.2"/>
<text x="863.2" y="636.6" text-anchor="middle">100</text>
<line x1="993.3" y1="612.1" x2="993.3" y2="607.1" stroke="#231f20" stroke-width="1.2"/>
<line x1="993.3" y1="399.8" x2="993.3" y2="404.8" stroke="#231f20" stroke-width="1.2"/>
<text x="993.3" y="636.6" text-anchor="middle">200</text>
<line x1="1123.5" y1="612.1" x2="1123.5" y2="607.1" stroke="#231f20" stroke-width="1.2"/>
<line x1="1123.5" y1="399.8" x2="1123.5" y2="404.8" stroke="#231f20" stroke-width="1.2"/>
<text x="1123.5" y="636.6" text-anchor="middle">300</text>
<line x1="714.7" y1="421.0" x2="719.7" y2="421.0" stroke="#231f20" stroke-width="1.2"/>
<line x1="1236.3" y1="421.0" x2="1231.3" y2="421.0" stroke="#231f20" stroke-width="1.2"/>
<text x="705.5" y="428.0" text-anchor="end">50</text>
<line x1="714.7" y1="463.5" x2="719.7" y2="463.5" stroke="#231f20" stroke-width="1.2"/>
<line x1="1236.3" y1="463.5" x2="1231.3" y2="463.5" stroke="#231f20" stroke-width="1.2"/>
<text x="705.5" y="470.5" text-anchor="end">40</text>
<line x1="714.7" y1="506.0" x2="719.7" y2="506.0" stroke="#231f20" stroke-width="1.2"/>
<line x1="1236.3" y1="506.0" x2="1231.3" y2="506.0" stroke="#231f20" stroke-width="1.2"/>
<text x="705.5" y="513.0" text-anchor="end">30</text>
<line x1="714.7" y1="548.4" x2="719.7" y2="548.4" stroke="#231f20" stroke-width="1.2"/>
<line x1="1236.3" y1="548.4" x2="1231.3" y2="548.4" stroke="#231f20" stroke-width="1.2"/>
<text x="705.5" y="555.4" text-anchor="end">20</text>
<line x1="714.7" y1="590.9" x2="719.7" y2="590.9" stroke="#231f20" stroke-width="1.2"/>
<line x1="1236.3" y1="590.9" x2="1231.3" y2="590.9" stroke="#231f20" stroke-width="1.2"/>
<text x="705.5" y="597.9" text-anchor="end">0</text>
<text x="975.5" y="386.7" text-anchor="middle" font-weight="bold" class="b">0.5 ms</text>
<text x="972.3" y="661.8" text-anchor="middle">Time (ms)</text>
<text transform="translate(668.5,506.0) rotate(-90)" text-anchor="middle">Stimulus (μA)</text>
<line x1="1169.0" y1="416.3" x2="1169.0" y2="444.4" stroke="#231f20" stroke-width="1.5"/>
<text x="1183.5" y="440.1">1 mV</text>
<text x="1156.6" y="544.0" fill="#939598" class="g">50 μA</text>
<rect x="1268.5" y="399.8" width="40.2" height="214.8" fill="url(#g13)" stroke="#231f20" stroke-width="1.3"/>
<line x1="1268.5" y1="448.8" x2="1271.5" y2="448.8" stroke="#231f20" stroke-width="1.2"/>
<line x1="1308.7" y1="448.8" x2="1305.7" y2="448.8" stroke="#231f20" stroke-width="1.2"/>
<text x="1313.0" y="455.8">2</text>
<line x1="1268.5" y1="507.2" x2="1271.5" y2="507.2" stroke="#231f20" stroke-width="1.2"/>
<line x1="1308.7" y1="507.2" x2="1305.7" y2="507.2" stroke="#231f20" stroke-width="1.2"/>
<text x="1313.0" y="514.2">0</text>
<line x1="1268.5" y1="565.6" x2="1271.5" y2="565.6" stroke="#231f20" stroke-width="1.2"/>
<line x1="1308.7" y1="565.6" x2="1305.7" y2="565.6" stroke="#231f20" stroke-width="1.2"/>
<text x="1313.0" y="572.6">−2</text>
<text x="1242.6" y="636.7"><tspan textLength="76" lengthAdjust="spacingAndGlyphs">Mean ΔV</tspan><tspan font-size="16" dx="2" dy="9.5">m</tspan></text>
<rect x="714.7" y="725.90" width="521.6" height="42.76" fill="url(#g14)"/>
<rect x="714.7" y="768.36" width="521.6" height="42.76" fill="url(#g15)"/>
<rect x="714.7" y="810.82" width="521.6" height="42.76" fill="url(#g16)"/>
<rect x="714.7" y="853.28" width="521.6" height="42.76" fill="url(#g17)"/>
<rect x="714.7" y="895.74" width="521.6" height="42.76" fill="url(#g18)"/>
<clipPath id="cp2"><rect x="714.7" y="725.9" width="521.6" height="212.3"/></clipPath>
<line x1="733.0" y1="725.9" x2="733.0" y2="944.7" stroke="#8f9093" stroke-width="2.6"/>
<g clip-path="url(#cp2)">
<path d="M2859 3219l1 0 2-9 1 23 1 4 2 23 1 3 1-3 2 18 1-6 1-7 2-19 1 11 1 9 2-10 1 18 1-10 2 4 1-5 1 20 2-19 1 11 1 8 2-5 1-18 1 12 2-14 1 15 1-12 2-7 1 5 1 4 2-8 1-7 1 7 2 3 1-5 1 13 2-21 1 8 1-2 2-1 1 10 1-19 2 15 1 1 1-2 2-17 1 6 1 7 2 16 1-5 1 0 2-1 1-323 1 293 2 75 1-108 1-58 2-39 1-56 1-54 2-7 1 29 1 11 2 30 1 3 1 2 2 21 1-3 2 3 1 20 1-16 2 11 1-1 1 39 2 54 1 50 1 30 2 29 1 12 1 19 2 23 1 45 1 18 2 18 1 9 1 17 2 1 1 5 1 3 2-4 1 28 1 3 2 2 1 12 1-1 2 11 1 5 1 5 2 9 1 9 1 7 2 6 1 8 1-8 2 11 1 4 1 23 2 0 1 2 1 3 2 22 1 7 1-11 2 15 1 9 1 0 2 25 1-10 1-1 2 10 1 8 1 11 2-2 1-3 1 6 2 6 1 4 1 1 2 5 1 10 1 6 2 11 1 6 1-14 2-4 1 10 1-10 2 25 1-2 1 17 2-10 1 2 1-4 2 9 1 5 1-20 2 21 1 7 1 3 2-14 1 5 1 3 2-5 1-7 1 15 2-17 1-1 1 5 2-12 1 2 1-8 2-5 1 6 1-25 2 5 1 4 1-13 2-10 1-4 1-15 2 2 1-18 1-5 2 1 1-5 1-7 2-8 1-5 1-9 2-6 1-10 1-9 2-18 1-4 1-1 2-22 1-9 1-12 2 7 1-13 1-11 2-26 1-1 1-30 2 1 1-30 1-4 2-21 1-32 1-10 2-20 1-24 1-22 2-48 1-26 1-44 2-27 1-14 1-19 2-16 1-27 1-22 2-23 1 17 1 1 2 4 1 24 1-4 2 10 1 27 1 18 2-4 1 28 1-5 2-3 1 12 1 16 2 15 1 4 1 0 2 5 1 19 1-9 2-8 1-15 1-13 2 9 1-5 1-20 2-21 1-20 1-11 2-46 1-33 1 9 2 9 1 21 1 28 2 13 1 11 1 15 2-2 1 22 1-8 2 22 1-10 1-9 2 9 1 3 1 16 2 5 1-7 1 2 2-4 1-20 1-2 2 4 1-15 1-2 2 0 1-13 1 8 2 19 1-4 1-6 2 5 1 18 1 3 2-18 1-48 1-2 2 11 1 33 1-7 2 37 1 24 1-20 2 4 1 1 1 0 2-14 1 12 1 16 2-4 1-3 1-4 2 6 1-6 1-5 2 1 1 11 1 1 2-5 1 0 1 20 2-8 1 10 1-3 2-2 1 15 1-2 2 17 1-4 1 13 2-5 1-6 1 6 2 8 1 3 1 2 2 2 1-6 1 12 2 6 1 1 1 6 2 4 1 7 1-1 2-2 1-2 1 20 2-20 1 18 1-4 2-8 1 3 1 1 2 15 1-3 1 15 2 3 1-1 1 13 2-24 1 1 1 20 2 7 1-6 1 7 2 5 1 0 1 2 2-1 1-4 1 8 2 6 1 3 1-6 2 14 1 11 1-21 2 14 1-10 1-4 2 18 1 2 1-2 2-1 1 14 1-2 2-3 1 1 1 19 2-7 1-3 1-2 2 20 1-3 1-5 2 9 1 14 1-31 2 21 1-17 1 4 2 6 1 13 1-17 2 4 1-8 1 1 2 17 1-8 1-20 2 18 1-2 1 11 2-19 1 4 1 5 2 11 1-4 1-17 2 0 1 2 1 5 2-1 1 10 1 0 2-15 1 2 1 9 2-2 1-1 1 8 2-3 1-7 1 2 2 6 1-5 1 0 2 1 1-12 1 5 2 6 1-15 1-10 2-10 1 15 1-18 2-12 1 2 1-22 2 18 1-14 1-4 2 16 1-20 1 3 2-4 1-15 1 24 2-4 1-18 2 27 1-8 1-18 2 9 1-15 1 8 2 10 1 14 1-9 2-8 1 10 1-14 2 11 1-8 1-21 2 8 1 19 1-9 2-8 1 4 1-11 2-12 1 30 1-27 2-12 1-19 1-1 2 18 1-28 1 0 2-30 1-22 1 6 2-32 1-6 1-10 2 20 1 1 1 31 2 15 1 22 1 15 2 21 1-12 1-15 2 9 1-10 1 8 2 3 1-24 1 1 2-10 1-7 1 24 2-20 1 3 1-19 2-15 1 18 1-12 2-1 1 6 1-22 2 8 1-25 1 9 2 20 1-36 1 0 2-7 1 2 1 2 2 1 1-15 1-37 2-14 1 27 1 3 2 4 1-6 1 3 2 10 1 17 1-2 2 14 1 13 1-11 2-3 1-8 1-4 2 2 1-2 1-7 2 13 1-2 1-20 2 12 1-2 1-3 2 4 1-1 1 22 2-16 1-12 1 5 2-19 1 28 1-25 2 22 1-6 1-11 2-6 1 0 1-1 2 2 1-24 1 4 2 1 1 16 1-11 2 21 1-7 1 4 2 4 1 4 1-8 2 1 1 9 1-11 2-7 1 18 1-7 2 8 1 0 1-6 2 2 1-6 1-4 2 17 1 4 1-9 2 7 1-1 1 0 2-11 1 13 1-10 2 7 1-1 1 16 2-7 1 1 1 6 2-3 1-5 1-2 2 13 1 1 1 4 2 13 1-8 1-19 2 5 1 8 1 3 2 11 1-4 1-8 2 2 1 8 1-20 2 2 1 7 1-6 2 6 1-3 1 9 2-8 1-4 1 1 2 19 1-1 1-9 2 6 1-10 1 6 2-4 1 6 1 0 2-15 1 17 1-2 2 17 1-23 1 13 2 1 1 2 1 2 2-6 1-11 1 6 2 0 1 6 1-2 2-9 1 22 1 5 2-6 1 1 1-11 2 6 1 12 1-10 2-2 1 2 1-2 2-20 1 14 1-6 2-7 1 1 1 12 2 6 1-12 1-13 2-1 1-4 1 5 2 5 1 3 1 9 2-21 1-6 1 4 2-20 1-5 1-18 2 1 1 1 1 17 2 26 1 3 1 15 2 12 1 20 1-15 2 1 1 1 1 12 2-4 1 16 1-2 2 1 1-20 1 23 2 2 1-3 1-4 2 4 1-3 1-1 2 4 1-13 1 4 2 8 1 3 1-17 2 11 1-14 1-2 2-12 1 16 1-18 2-18 1-1 1-21 2-7 1-9 1-1 2 20 1 8 1 28 2 8 1 34 1-9 2 3 1-12 1 0 2 16 1 0 1-14 2 21 1 2 1-1 2 11 1-12 1 12 2-16 1 19 1 6 2-20 1 6 1 15 2-11 1-2 1 14 2-7 1 7 1-16 2 18 1 11 1-6 2 10 1-5 1-20 2 27 1-17 1 13 2 11 1-4 1-6 2 8 1-12 1 8 2-3 1-5 1-7 2 13 1-27 1 22 2-12 1-10 1 3 2-12 1 20 1-26 2 22 1-8 1-9 2 19 1-6 1-18 2-14 1-5 1-14 2-13 1-11 1-8 2-24 1 5 1-22 2-16 1 14 1 29 2 11 1 11 1 23 2 24 1-3 1 23 2-2 1 9 1 1 2-17 1 6 1-12 2 11 1-17 1 0 2 3 1 4 1-16 2 4 1 13 2-8 1-4 1 1 2 16 1-19 1 11 2 3 1-29 1 3 2 8 1 3 1-10 2-4 1 0 1-2 2 1 1 4 1-1 2-18 1 5 1 13 2-1 1 7 1-9 2-1 1 7 1 5 2-10 1 11 1-2 2-3 1 7 1 14 2-11 1 7 1 3 2-7 1 6 1-8 2 14 1 4 1 3 2 8 1-5 1-1 2-1 1 10 1-2 2-5 1 4 1-4 2 15 1-23 1 7 2-2 1 11 1-3 2-10 1 1 1 1 2 0 1 6 1-5 2 11 1-6 1-11 2-11 1 5 1-11 2-14 1-21 1 3 2-10 1-7 1-12 2-3 1-16 1 9 2-24 1-9 1 2 2-2 1 15 1 6 2 7 1 32 1 4 2 2 1 29 1 2 2 17 1-27 1 13 2-5 1 9 1-2 2-3 1 0 1-3 2 11 1-4 1-22 2 14 1 1 1-12 2-7 1 0 1 12 2-20 1 11 1-6 2-10 1 8 1-22 2-19 1 14 1-20 2-12 1-9 1-23 2-14 1-15 1 4 2-14 1-9 1-22 2 14 1 7 1 27 2 13 1 27 1 14 2 5 1 5 1 21 2 10 1 16 1-8 2 11 1 3 1-6 2 12 1 7 1-6 2 21 1-5 1 0 2-13 1 31 1-22 2 0 1 15 1 0 2 15 1-2 1-4 2-6 1 10 1-19 2 5 1-11 1-1 2 4 1-15 1 4 2-17 1 8 1-7 2-4 1 6 1-18 2 7 1-9 1-1 2-6 1 0 1-15 2-2 1-11 1 12 2-6 1 8 1-19 2-8 1 1 1-13 2 21 1 19 1 11 2 19 1-5 1 11 2 23 1 15 1 1 2 3 1-4 1 4 2 25 1-24 1-7 2 14 1 5 1-3 2-19 1 5 1 17 2-22 1 18 1-5 2 4 1-10 1 24 2 2 1-14 1-9 2 22 1-4 1-6 2 19 1-16 1 2 2-8 1-3 1 14 2-4 1-15 1 18 2 20 1-31 1 1 2-7 1 15 1-6 2-23 1 9 1 16 2-5 1-1 1-1 2-14 1 27 1-18 2 2 1 10 1-1 2-10 1 7 1-7 2 4 1 9 1-6 2-9 1-3 1 7 2-19 1 8 1 11 2-9 1 5 1-1 2 10 1-18 1 10 2-7 1 1 1-13 2 19 1-6 1-3 2-9 1 10 1-6 2-8 1 27 1-12 2 2 1-8 1-13 2-2 1-20 1 12 2-11 1-4 1-7 2-4 1-26 1 7 2 3 1-7 1 5 2-25 1 6 1-20 2-12 1 8 1-8 2 8 1 14 1 18 2 17 1 15 1-3 2 20 1 12 1 6 2 11 1-10 1 5 2-3 1 12 1-1 2-20 1 27 1-6 2 9 1-10 1 7 2-6 1-1 1 11 2-5 1-14 1 19 2-8 1-7 1 3 2-12 1 12 1 8 2-15 1 14 1-2 2-6 1 0 1-2 2 9 1 11 1-11 2 5 1 0 1-6 2-4 1 11 1-6 2-4 1 7 1-5 2 12 1-12 1 2 2 16 1-12 1 9 2-3 1 10 1 1 2-4 1-4 1-1 2 7 1 12 1-8 2 5 1 4 1-7 2-6 1 9 1-18 2-9 1-5 1 6 2-16 1 6 1 6 2-17 1 11 2-17 1-17 1 3 2 5 1 4 1-16 2 0 1-12 1 7 2-23 1 16 1-14 2-6 1 13 1-41 2 19 1-17 1 6 2 4 1-27 1 2 2 3 1-1 1-3 2-14 1 10 1-3 2-19 1 5 1-12 2 14 1-12 1-22 2 7 1-1 1 28 2 5 1 32 1 16 2 4 1 25 1 32 2 6 1 24 1-12 2 11 1-10 1-1 2 10 1-4 1-2 2 5 1-2 1 1 2-8 1-8 1 7 2 3 1-6 1-10 2 9 1 8 1 6 2-13 1-5 1 17 2-28 1 8 1 11 2-6 1-3 1-3 2 2 1 2 1-8 2 8 1-9 1 5 2 0 1-6 1 1 2-1 1 22 1-21 2 9 1-3 1-6 2 9 1 10 1-8 2 9 1-7 1 1 2 5 1-8 1 7 2-14 1 4 1 10 2 2 1 2 1-8 2-5 1 1 1 0 2 2 1 19 1-18 2 7 1 5 1 4 2-3 1 1 1-15 2 16 1-15 1 4 2 2 1 10 1 15 2-18 1-5 1 1 2 1 1 4 1 2 2-8 1 14 1-20 2 19 1-4 1 2 2-7 1-11 1 21 2 1 1-6 1-1 2-15 1-10 1-11 2-3 1-23 1-10 2-15 1 3 1 2 2 3 1 21 1 2 2 10 1 12 1 16 2 6 1-2 1 16 2 8 1-22 1 11 2-6 1 18 1-2 2-10 1-14 1-3 2 21 1-9 1 6 2 6 1 2 1-15 2 27 1-28 1 3 2-11 1 31 1-17 2 2 1-4 1-8 2 6 1 10 1-10 2 8 1-14 1 18 2-14 1-5 1 11 2 4 1-12 1 7 2-5 1 0 1-9 2 25 1-10 1-6 2-3 1-2 1 13 2-19 1 6 1-4 2 0 1 1 1-10 2-10 1 9 1-17 2-16 1 9 1-5 2 8 1-21 1 15 2-9 1-5 1-13 2-4 1 4 1-2 2-6 1-5 1-7 2 5 1-6 1 3 2-6 1 7 1-27 2 1 1 22 1 5 2 14 1 12 1 20 2-7 1 20 1-4 2 32 1-23 1 15 2 10 1-5 1-14 2 11 1 11 1-6 2-13 1 17 1-7 2-12 1 14 1-16 2 25 1-9 1 3 2-12 1 10 1 7 2-4 1-15 1 13 2 12 1-16 1-1 2 13 1-8 1 14 2-26 1 16 1 4 2-8 1 1 1-4 2 4 1 0 1-1 2 6 1-4 1-7 2-6 1 18 1-18 2-1 1-8 1 9 2-8 1-15 1 5 2-9 1-6 1-3 2 10 1-13 1-29 2 8 1-1 1 3 2-10 1-6 1-16 2 20 1-7 1-8 2-4 1-14 1 7 2 13 1 12 1 15 2 0 1 21 1 6 2 26 1 1 1 26 2 9 1-5 1-7 2 2 1-2 1 6 2 5 1-3 1 1 2 9 1-6 1 7 2-2 1 7 1-23 2 22 1 10 1-1 2-21 1 6 1-3 2 9 1 4 1 5 2 9 1-13 1 10 2-4 1 14 1-9 2-3 1-32 1 7 2-22 1-3 1 1 2-11 1 16 1-15 2-22 1-14 1-8 2-1 1-14 1-20 2 4" transform="scale(0.25)" fill="none" stroke="#8d8f92" stroke-width="6.4" stroke-linejoin="round"/>
</g>
<path d="M727.0,938.2 L739.0,938.2 L733.0,929.7 Z" fill="#231f20"/>
<rect x="714.7" y="725.9" width="521.6" height="212.3" fill="none" stroke="#231f20" stroke-width="1.5"/>
<text x="733.0" y="962.7" text-anchor="middle">0</text>
<line x1="863.2" y1="938.2" x2="863.2" y2="933.2" stroke="#231f20" stroke-width="1.2"/>
<line x1="863.2" y1="725.9" x2="863.2" y2="730.9" stroke="#231f20" stroke-width="1.2"/>
<text x="863.2" y="962.7" text-anchor="middle">100</text>
<line x1="993.3" y1="938.2" x2="993.3" y2="933.2" stroke="#231f20" stroke-width="1.2"/>
<line x1="993.3" y1="725.9" x2="993.3" y2="730.9" stroke="#231f20" stroke-width="1.2"/>
<text x="993.3" y="962.7" text-anchor="middle">200</text>
<line x1="1123.5" y1="938.2" x2="1123.5" y2="933.2" stroke="#231f20" stroke-width="1.2"/>
<line x1="1123.5" y1="725.9" x2="1123.5" y2="730.9" stroke="#231f20" stroke-width="1.2"/>
<text x="1123.5" y="962.7" text-anchor="middle">300</text>
<line x1="714.7" y1="747.1" x2="719.7" y2="747.1" stroke="#231f20" stroke-width="1.2"/>
<line x1="1236.3" y1="747.1" x2="1231.3" y2="747.1" stroke="#231f20" stroke-width="1.2"/>
<text x="705.5" y="754.1" text-anchor="end">40</text>
<line x1="714.7" y1="789.6" x2="719.7" y2="789.6" stroke="#231f20" stroke-width="1.2"/>
<line x1="1236.3" y1="789.6" x2="1231.3" y2="789.6" stroke="#231f20" stroke-width="1.2"/>
<text x="705.5" y="796.6" text-anchor="end">30</text>
<line x1="714.7" y1="832.0" x2="719.7" y2="832.0" stroke="#231f20" stroke-width="1.2"/>
<line x1="1236.3" y1="832.0" x2="1231.3" y2="832.0" stroke="#231f20" stroke-width="1.2"/>
<text x="705.5" y="839.0" text-anchor="end">20</text>
<line x1="714.7" y1="874.5" x2="719.7" y2="874.5" stroke="#231f20" stroke-width="1.2"/>
<line x1="1236.3" y1="874.5" x2="1231.3" y2="874.5" stroke="#231f20" stroke-width="1.2"/>
<text x="705.5" y="881.5" text-anchor="end">10</text>
<line x1="714.7" y1="917.0" x2="719.7" y2="917.0" stroke="#231f20" stroke-width="1.2"/>
<line x1="1236.3" y1="917.0" x2="1231.3" y2="917.0" stroke="#231f20" stroke-width="1.2"/>
<text x="705.5" y="924.0" text-anchor="end">0</text>
<text x="975.5" y="712.8" text-anchor="middle" font-weight="bold" class="b">0.5 ms</text>
<text x="972.3" y="987.9" text-anchor="middle">Time (ms)</text>
<text transform="translate(668.5,832.0) rotate(-90)" text-anchor="middle">Stimulus (μA)</text>
<line x1="1169.0" y1="739.8" x2="1169.0" y2="747.6" stroke="#231f20" stroke-width="1.5"/>
<text x="1183.5" y="760.1">1 mV</text>
<text x="1156.6" y="855.4" fill="#939598" class="g">40 μA</text>
<rect x="1268.5" y="725.9" width="40.2" height="214.8" fill="url(#g19)" stroke="#231f20" stroke-width="1.3"/>
<line x1="1268.5" y1="758.2" x2="1271.5" y2="758.2" stroke="#231f20" stroke-width="1.2"/>
<line x1="1308.7" y1="758.2" x2="1305.7" y2="758.2" stroke="#231f20" stroke-width="1.2"/>
<text x="1313.0" y="765.2">10</text>
<line x1="1268.5" y1="796.1" x2="1271.5" y2="796.1" stroke="#231f20" stroke-width="1.2"/>
<line x1="1308.7" y1="796.1" x2="1305.7" y2="796.1" stroke="#231f20" stroke-width="1.2"/>
<text x="1313.0" y="803.1">5</text>
<line x1="1268.5" y1="834.0" x2="1271.5" y2="834.0" stroke="#231f20" stroke-width="1.2"/>
<line x1="1308.7" y1="834.0" x2="1305.7" y2="834.0" stroke="#231f20" stroke-width="1.2"/>
<text x="1313.0" y="841.0">0</text>
<line x1="1268.5" y1="871.9" x2="1271.5" y2="871.9" stroke="#231f20" stroke-width="1.2"/>
<line x1="1308.7" y1="871.9" x2="1305.7" y2="871.9" stroke="#231f20" stroke-width="1.2"/>
<text x="1313.0" y="878.9">−5</text>
<line x1="1268.5" y1="909.8" x2="1271.5" y2="909.8" stroke="#231f20" stroke-width="1.2"/>
<line x1="1308.7" y1="909.8" x2="1305.7" y2="909.8" stroke="#231f20" stroke-width="1.2"/>
<text x="1313.0" y="916.8">−10</text>
<text x="1242.6" y="962.8"><tspan textLength="76" lengthAdjust="spacingAndGlyphs">Mean ΔV</tspan><tspan font-size="16" dx="2" dy="9.5">m</tspan></text>
<rect x="714.7" y="1051.60" width="521.6" height="42.76" fill="url(#g20)"/>
<rect x="714.7" y="1094.06" width="521.6" height="42.76" fill="url(#g21)"/>
<rect x="714.7" y="1136.52" width="521.6" height="42.76" fill="url(#g22)"/>
<rect x="714.7" y="1178.98" width="521.6" height="42.76" fill="url(#g23)"/>
<rect x="714.7" y="1221.44" width="521.6" height="42.76" fill="url(#g24)"/>
<clipPath id="cp3"><rect x="714.7" y="1051.6" width="521.6" height="212.3"/></clipPath>
<line x1="733.0" y1="1051.6" x2="733.0" y2="1270.4" stroke="#8f9093" stroke-width="2.6"/>
<g clip-path="url(#cp3)">
<path d="M2859 4638l1 8 0-9 1 24 1-21 0 51 1-60 1 0 0-7 1 37 1-36 0 50 1-41 1 35 0 27 1-60 1-53 0 83 1 0 1-17 0 2 1 26 1-62 0 36 1 41 1-53 0 13 1 0 1 26 0-60 1 26 1 28 0 8 1-53 1 36 0-14 1 13 1 24 0-69 1 15 1 12 0-40 1 8 1 33 0 18 1-12 1-15 0 10 1 10 1-1 0-41 1-1 1 55 0-57 1 60 1-6 0-30 1 19 1 13 0-21 1-9 1 33 0-3 1 9 1-49 0 30 1-8 1 23 0-27 1-15 1 32 0-44 1 15 1 18 0 28 1-60 1 21 1-35 1 53 0-22 1 7 1 11 0-32 1-1 1 57 0-34 1 25 1 7 0-22 1-29 1 64 0-46 1-7 1 22 0 12 1-7 1-19 0 31 1-36 1 26 0-15 1-16 1 36 0-6 1-96 1-192 0-165 1 103 1 94 0 41 1 110 1 54 0-73 1-4 1-57 0 4 1-9 1-35 0-13 1-44 1-53 0 15 1 26 1-68 0 68 1-60 1-11 0-29 1 40 1-116 0 71 1 11 1-34 0 15 1 51 1-60 0 60 1-24 1 33 0 41 1-33 1 39 0-19 1 36 1 30 0 13 1-6 1 18 0 16 1-7 1-3 0 67 1-40 1-22 0 94 1-49 1-22 0 19 1-8 1 43 0 5 1-61 1 18 0 34 1-16 1 23 0 8 1 38 1 7 0-5 1-39 1 22 0-6 1 19 1 1 0-8 1 23 1-12 0-22 1 30 1-9 0 5 1 7 1-17 0 29 1-31 1 69 0-29 1 4 1-43 0 27 1-30 1 4 0 34 1 24 1-26 0 7 1-34 1-30 0 93 1-72 1 15 0 17 1-42 1 10 0 38 1-24 1 18 0 24 1-12 1-2 0 12 1-45 1 33 0 62 1-22 1-30 0-32 1 28 1 20 0-33 1 64 1-57 0 14 1 7 1 14 0-15 1 65 1-97 0 49 1-1 1-43 0 19 1-13 1-3 0 25 1 24 1-49 0 25 1-18 1-31 0 26 1 7 1 56 0-49 1-11 1 15 0 10 1-24 1 11 0-71 1 36 1-4 0 17 1 2 1 7 0-10 1 4 1-12 0 22 1-20 1-29 0 54 1-28 1 31 0-25 1-5 1-4 1-28 0 52 1 33 1-61 0 16 1-12 1-22 0 1 1 44 1-3 0-32 1 35 1-34 0-6 1 1 1 43 0-20 1-24 1 35 0-9 1-25 1-35 0 16 1 1 1 29 0-3 1 11 1-36 0 3 1 72 1-39 0 25 1-38 1-7 0-8 1 19 1 44 0-57 1 0 1 8 0-35 1 19 1 1 0 14 1 7 1 7 0-27 1 13 1-13 0-19 1-26 1 54 0-17 1 7 1 10 0-19 1 18 1-2 0 7 1-17 1-38 0 18 1 37 1-17 0 17 1 22 1-25 0-21 1 16 1-36 0 54 1-34 1-33 0 46 1-20 1 26 0-30 1 1 1 16 0 25 1-64 1 15 0 6 1 7 1-41 0 28 1 13 1-15 0 16 1-28 1 35 0-9 1-18 1 8 0 11 1-48 1 40 0-40 1 60 1-5 0-47 1 40 1-11 0-8 1 6 1-5 0-36 1 70 1-67 0 7 1 52 1-65 0 30 1-3 1-5 0 7 1 10 1-15 0-17 1 50 1-34 0 19 1-24 1 32 0-2 1-6 1-30 0 33 1-19 1 13 1 1 1-13 0-26 1 49 1 3 0-63 1 35 1 5 0-20 1 31 1-27 0-14 1 15 1-9 0 20 1 15 1-15 0-69 1 92 1-41 0 4 1 16 1-35 0 62 1-69 1 27 0 20 1-12 1-9 0 22 1 6 1 15 0-31 1-36 1 34 0 7 1-31 1 36 0 9 1-31 1 29 0 14 1-19 1-50 0 46 1-22 1 6 0-25 1-1 1 9 0 14 1 5 1 9 0-31 1 42 1-60 0 42 1-8 1-7 0 11 1 20 1-36 0 4 1-14 1 47 0-14 1 1 1-20 0 40 1-39 1-19 0-36 1 65 1-10 0-1 1-8 1 11 0-15 1 45 1-26 0-51 1 48 1-5 0-53 1 49 1-18 0 17 1 0 1 5 0 13 1-36 1-22 0-16 1 78 1-7 0 20 1-28 1-3 0-1 1 30 1 17 0-43 1-7 1-11 0-28 1 78 1-44 0 46 1-7 1 1 0-17 1-6 1-10 0 10 1 1 1-3 0 1 1 13 1-55 0 40 1-25 1 37 0 6 1 5 1-52 0 54 1-26 1 12 0-19 1 39 1-34 0 11 1-46 1 35 0 18 1 15 1-35 0 6 1-19 1 46 0 39 1-27 1-42 0 5 1 18 1-7 0 16 1-32 1 20 0-19 1 27 1 7 0-29 1-19 1 35 0-5 1 11 1 13 0-34 1 47 1 0 0-35 1-21 1 28 0-5 1 28 1-13 0 16 1-24 1 7 0-21 1-15 1 63 0-26 1-33 1 19 0 25 1-16 1 19 0-5 1 19 1-18 0 31 1-44 1 35 0-22 1 0 1 8 0-32 1 49 1-36 0 15 1 3 1 29 0-12 1 25 1-2 0-53 1 9 1-8 0 37 1-42 1-4 1 39 1-3 0 22 1-17 1-4 0 24 1-9 1-11 0 44 1-56 1 37 0 2 1 10 1-9 0-14 1 42 1-48 0 8 1 10 1 2 0 7 1 8 1 7 0-14 1 2 1-27 0 35 1 0 1 6 0-17 1-35 1 99 0-48 1 7 1-65 0 83 1-39 1 13 0-13 1 36 1-29 0 46 1-12 1 10 0-67 1 59 1-34 0-33 1 71 1-3 0-13 1 1 1-17 0 41 1 0 1-3 0-10 1-1 1 28 0-48 1 14 1 5 0 13 1 4 1-41 0 44 1-8 1-7 0 11 1 0 1-17 0-7 1 65 1-12 0 6 1-61 1 55 0-39 1 33 1 2 0 2 1 10 1-5 0-43 1 46 1 1 0-17 1-13 1 25 0-27 1 27 1 15 0 5 1 9 1-33 0 22 1-31 1 47 0-19 1-36 1-1 0-6 1 16 1 19 0-6 1 10 1 14 0 13 1-32 1 5 0-41 1-33 1 66 0-32 1 15 1 18 0 12 1-58 1 74 0-37 1-10 1 31 0-3 1-20 1 9 0-31 1 19 1 3 0 21 1-29 1 0 0-46 1 85 1-58 0 16 1 21 1-13 0 41 1-7 1-91 0 57 1-6 1-30 0 11 1 5 1 20 0 14 1-12 1 7 0 29 1-62 1 15 0 7 1 2 1 10 0-2 1 23 1-53 0 30 1 9 1-38 0 41 1-42 1 9 0-8 1 26 1 18 0-46 1 52 1-56 0 12 1 23 1-14 0 16 1-65 1 49 0-29 1 45 1-48 0 35 1-27 1 43 0-55 1 8 1 13 0 12 1-22 1-8 0 30 1-5 1-21 0 22 1 12 1-38 0-7 1 37 1-4 0 5 1-17 1 6 0 16 1-31 1 31 0-10 1 4 1-15 0 51 1-50 1 7 0-3 1-8 1-3 0 13 1-38 1 56 0 22 1-3 1-20 0 8 1 14 1 7 0-34 1-6 1-45 0 38 1-5 1 24 0-60 1 78 1-60 0 60 1-32 1-23 0 22 1 1 1-27 0 39 1-46 1 32 0-13 1 39 1-41 0 7 1 2 1 8 0-7 1-15 1 5 0 8 1-8 1 37 0-57 1 61 1-47 0 35 1-23 1 43 0-16 1-64 1 25 0 41 1-21 1-8 0 4 1 1 1 1 0 1 1-15 1 3 0 16 1-49 1-3 0 12 1 22 1 1 0 23 1-36 1 50 0-3 1 13 1-42 0 11 1-44 1 58 0-11 1 0 1-17 0 8 1-10 1 27 0-25 1 23 1-2 0-6 1-10 1-33 0 9 1 43 1-40 0 13 1 31 1-55 0 49 1-20 1 9 0-8 1-4 1 6 0 19 1-73 1 25 0 38 1-5 1 7 0-25 1 0 1 48 0-28 1-47 1 38 0-32 1 56 1-6 0-23 1-1 1 30 0-18 1-24 1 48 0-25 1 1 1-30 0 33 1-41 1 60 0-5 1-71 1 56 0 13 1-25 1 21 0 15 1-40 1-19 0 34 1-5 1 40 0-103 1 55 1-1 0 16 1-37 1 24 0 15 1-33 1 7 0-22 1-10 1 27 0 1 1 23 1 5 0-1 1 47 1-45 0 2 1-35 1 27 0 7 1-35 1-9 0 35 1 2 1-11 0 10 1-13 1-6 0 11 1 29 1-28 0 10 1 12 1-11 0-24 1-16 1 31 0-5 1-49 1 43 0 25 1-15 1-10 0 15 1 10 1 6 0-21 1-45 1 83 0-43 1-1 1 14 0 3 1-4 1-5 0 44 1-33 1-41 0 4 1-12 1 52 0 1 1-49 1 48 0-21 1 21 1-3 0-8 1 13 1 13 0-37 1 25 1-14 0-4 1-33 1 13 0 10 1-18 1-2 0-25 1 44 1-14 0 13 1 29 1-39 0-18 1 12 1 44 0-23 1 7 1-50 0 43 1 46 1-25 0 4 1-31 1 44 0 3 1-74 1 35 0 37 1-10 1-58 0 10 1 14 1 27 0 3 1-62 1 34 0 25 1-25 1 49 0-52 1-11 1 26 0 30 1-71 1 22 0-5 1 24 1 27 0-37 1 20 1-21 0 40 1-11 1 0 0 6 1-35 1 6 0 2 1-48 1 51 0 37 1-40 1 3 0 18 1 8 1 7 0-6 1-14 1 27 0-24 1 0 1-25 0-7 1 26 1-1 0 4 1 2 1 8 0-31 1 21 1-19 0 1 1 17 1 2 0 29 1-54 1 42 0-1 1-29 1-24 0 45 1 21 1-50 0-8 1 26 1-3 0 8 1-7 1-19 0-7 1 37 1 8 0 3 1-3 1 3 0-3 1-52 1-9 0 51 1-22 1 55 0-28 1-17 1 45 0-16 1-37 1 49 0-20 1 6 1 12 0-22 1-8 1-12 0 25 1-16 1-34 0 36 1-15 1 44 0 7 1-28 1 18 0-34 1 37 1-37 0 30 1-56 1 22 0 22 1 2 1 9 0-33 1-2 1 47 0-17 1-4 1 11 0-1 1-5 1-18 0 11 1 20 1 1 0-34 1-3 1-6 0-2 1 43 1 14 0-25 1 12 1-27 0 12 1-1 1 45 0-31 1-7 1 5 0-37 1 37 1-22 0 54 1-54 1 9 0 12 1 31 1-22 0-37 1 58 1-8 0-52 1 6 1 15 0 3 1-38 1 43 0 27 1-66 1 26 0 40 1-22 1 3 0 18 1-44 1 8 0 18 1-19 1 7 0-38 1 57 1-32 0 20 1 15 1-7 0 3 1-35 1 0 0 25 1 9 1-20 0-1 1-1 1 5 0-25 1 11 1 39 0-34 1 15 1-31 0 46 1 24 1-36 0-21 1 27 1-6 0 30 1-10 1-1 0-14 1 37 1-61 0-13 1 44 1-26 0 38 1-70 1 4 0 70 1 13 1-34 0 18 1-11 1-16 0 18 1-3 1-39 0 20 1 22 1 4 0 12 1-15 1-16 1 12 1 10 0 3 1-19 1-12 0 43 1-50 1 49 0-15 1 40 1-66 0-9 1 14 1-19 0 41 1 7 1-35 0 25 1-20 1-6 0-2 1 56 1-18 0-29 1 32 1-13 0-32 1 40 1 20 0-44 1 31 1-45 0 12 1 49 1-11 0-14 1-25 1 49 0-13 1-11 1 15 0-22 1 10 1-5 0-24 1 12 1 14 0 1 1 26 1-27 0-4 1-3 1-17 0 21 1 22 1-53 0 34 1 19 1 22 0-7 1-32 1-16 0 6 1-3 1 18 0-8 1-34 1 26 0-4 1 21 1-20 0 17 1-9 1-3 0 24 1-17 1-17 0-3 1 11 1-5 0 30 1-4 1-16 0 22 1 8 1 1 0 9 1-56 1 43 0-32 1 36 1-16 0-15 1-23 1-2 0 13 1 15 1-33 0 4 1-3 1 1 0 12 1 22 1-13 0-19 1-39 1 26 0 59 1 16 1-56 0 49 1-23 1-14 0 30 1-13 1-12 0-20 1-10 1 37 0-42 1 28 1 13 0-34 1 2 1 1 0 2 1-13 1 60 0-38 1-6 1 41 0-60 1 26 1-5 0-13 1 11 1 15 0-40 1 27 1 0 0-3 1-5 1 4 0-6 1-18 1 23 0 32 1-59 1 58 0-13 1-10 1-63 0 57 1 21 1-41 0 27 1-15 1 0 0 32 1-43 1 25 0-8 1-25 1 25 0 15 1-28 1-20 0 52 1-33 1-17 0 37 1-68 1 33 0-41 1 67 1-12 0-21 1 10 1-15 0 40 1-8 1-19 0 14 1 28 1-56 0 17 1 22 1-34 0-7 1-15 1 32 0 1 1-9 1 34 0-23 1-3 1-6 0-6 1 13 1-31 0 15 1-3 1 37 0-32 1-20 1-4 0-18 1 37 1 9 0-15 1 6 1-4 0 22 1 7 1-38 0 36 1-21 1-23 0 5 1 5 1 16 0-25 1 7 1-17 0 41 1 21 1-25 0-25 1 21 1-25 0-11 1 52 1-60 0 55 1 20 1-39 0 14 1-46 1 12 0 18 1-17 1 20 0 16 1-14 1-36 0-21 1 31 1 4 0 11 1 10 1-26 0 15 1 32 1-53 0 45 1-59 1-25 0 57 1-30 1 32 0 22 1-34 1 9 0-25 1-7 1 23 0 24 1-49 1 39 0 28 1-19 1-49 0-6 1-21 1 77 0-81 1 40 1 65 0-49 1-26 1 8 0 23 1-31 1 9 0 3 1-24 1 41 0-23 1 12 1 4 0-11 1-6 1 28 0-74 1-2 1 95 0-48 1-14 1 2 0 13 1-50 1 87 0-76 1 63 1-22 0-23 1-7 1 34 0-30 1 17 1 15 0-59 1 50 1-10 0-24 1 39 1-9 0 1 1-36 1 30 0-6 1 4 1-3 0 37 1-19 1-13 0-18 1 60 1-34 0-53 1 16 1 40 0-32 1 6 1-7 0 22 1 12 1-43 0-1 1-14 1 13 0 31 1 21 1-12 0-23 1 0 1-2 0-31 1 38 1-63 0 32 1 41 1-31 0 9 1 6 1-8 0 14 1 13 1-36 0-24 1 29 1 28 0-7 1 1 1-34 0 18 1 12 1-53 0 38 1-10 1 1 0 26 1-4 1 28 0-11 1 12 1-74 0 34 1-3 1-34 0 53 1 11 1-5 0-39 1 46 1-20 0 56 1-82 1 12 0 3 1 33 1 3 0-4 1 30 1-29 0-60 1 13 1-27 0 62 1-42 1 37 0-16 1 20 1-5 0-20 1 20 1 9 0-43 1 32 1 53 0-48 1 2 1-15 0-4 1 24 1 4 0 40 1-60 1 9 0-3 1-40 1 26 0 17 1 6 1 24 0-13 1 13 1-42 0 21 1-34 1-5 0 35 1 49 1-15 0-18 1 7 1-18 1 23 0-1 1 8 1-17 0 7 1 9 1-11 0 20 1-15 1 45 0-56 1-9 1-19 0 48 1 32 1-53 0 34 1-20 1-3 0 50 1-11 1-22 0 22 1-53 1 48 0-25 1 53 1-55 0 33 1 39 1-5 0-6 1-33 1 45 0-47 1 17 1 34 0-26 1 2 1 17 0-49 1 2 1 25 0-15 1-41 1 98 0-43 1-23 1 73 0-25 1-17 1-24 0 53 1 7 1-49 0 25 1 63 1-97 0 55 1-13 1-10 0 6 1 34 1 6 0-5 1-61 1 53 0-13 1 0 1 8 0-4 1 7 1-32 0 30 1 10 1-40 0 40 1 23 1-24 1 15 1-10 0 48 1-5 1-33 0 21 1-42 1 1 0-10 1 18 1-38 0 7 1 38 1 7 0-54 1 9 1 12 0-4 1-4 1 12 0-16 1 54 1-58 0 18 1 10 1-47 0 72 1-34 1 5 0-28 1 37 1 18 0-14 1-15 1 18 0-13 1-22 1-2 0 1 1 35 1-7 0 32 1-63 1 13 0-2 1 44 1-44 0 23 1-28 1-14 0 45 1 1 1 20 0-49 1 0 1 43 0 11 1-83 1 48 0-26 1-23 1 25 0 10 1-3 1-14 0 11 1 8 1 1 0 28 1-12 1 4 0-37 1 35 1-22 0-17 1 13 1-28 0 71 1-33 1-42 0 15 1 19 1-18 0 17 1-17 1 55 0-40 1 14 1-20 0 48 1-71 1 30 0-9 1-19 1 14 0 33 1 4 1-4 0-37 1 19 1-35 0-8 1 56 1 3 0-11 1-29 1 22 0-10 1-33 1-8 0 49 1-8 1 13 0-34 1 3 1 50 0-11 1-90 1 53 0 19 1 2 1-7 0 15 1-7 1-2 0 24 1-44 1 21 0-16 1 11 1-1 0 36 1-19 1-32 0 29 1-71 1 72 0 5 1-28 1 6 0 21 1 24 1-10 0-23 1-18 1-3 0 8 1 15 1 20 0-33 1 4 1-13 0 17 1 24 1-50 1 13 1 43 0-8 1-32 1-7 0-45 1 58 1 6 0-36 1 26 1-6 0-39 1-5 1 49 0 18 1-30 1 21 0-16 1 24 1 2 0-15 1-17 1-2 0 9 1 3 1 4 0-9 1 4 1 43 0-45 1-15 1-14 0 74 1-14 1-90 0 64 1 17 1-19 0 10 1 18 1-56 0 54 1-58 1 41 0 5 1-29 1-17 0 40 1-19 1 16 0-5 1-7 1-28 0 37 1-14 1 25 0-31 1 4 1 46 0-73 1 12 1 18 0 33 1-65 1 30 0 36 1-57 1 16 0-36 1 73 1-41 0-11 1 16 1 14 0 32 1-64 1 61 0-69 1 24 1 18 0-18 1-29 1 15 0-16 1 70 1-26 0-78 1 96 1-68 0 50 1-46 1 31 0-5 1-2 1-4 0 29 1-2 1 16 0-33 1-30 1 30 0-3 1-20 1 22 0-8 1-8 1 4 0-16 1-5 1-14 0 54 1-2 1-25 0 18 1 0 1-39 0 12 1 3 1 41 0-42 1-13 1 42 0-16 1-40 1-4 0-5 1 27 1-25 0 64 1-3 1-12 0-11 1-29 1 50 0-26 1-28 1 2 0 51 1-37 1 7 0 3 1-26 1-7 0 25 1 25 1-12 0 35 1 10 1-24 0-10 1 20 1-33 0 8 1-37 1-2 0 43 1-14 1-5 0-23 1 19 1 49 0-9 1-41 1 29 0 3 1-22 1-14 0-17 1 12 1 3 0-19 1 28 1 16 0-30 1-3 1 33 0-17 1 16 1-14 0 10 1-21 1-22 0 39 1-12 1 5 0 15 1-22 1 4 0 1 1-21 1 5 0-15 1 33 1-11 0-31 1 32 1 5 0-11 1 8 1 2 0-42 1 70 1-94 0 36 1 46 1-34 0-27 1 3 1 48 0-22 1 6 1-10 0 4 1 11 1-18 0 22 1 5 1-14 0 4 1 9 1-11 0-4 1-17 1-39 0 64 1-21 1 25 0 11 1-29 1 27 0-50 1 25 1-44 0-5 1 56 1 5 0-5 1-37 1 55 0-38 1 21 1 22 0-71 1 14 1 9 0 5 1-20 1 23 0 50 1-45 1 44 0-28 1-17 1 41 0-36 1-19 1-47 0 19 1 30 1 19 0 4 1 14 1-29 0 30 1-31 1-5 0-7 1 10 1-51 0 95 1-39 1-35 0-8 1 32 1-2 0 3 1-37 1 68 0-48 1-10 1 1 0 31 1-20 1 7 0 29 1-18 1-6 0-2 1-11 1 20 0 4 1-24 1 40 0-67 1 25 1 2 0 21 1-18 1 0 0-29 1 34 1-12 0 16 1-12 1-14 0 58 1-45 1 23 0-41 1-19 1 43 0-4 1 39 1-30 0-3 1-27 1 52 0-30 1 24 1-62 0 31 1 56 1-34 0 6 1 23 1-43 0 16 1 21 1 8 0-22 1 15 1-31 0 26 1-15 1 42 0-39 1-6 1 10 0 18 1-24 1 13 0 31 1-10 1-2 0-29 1 24 1-18 1 34 1-36 0-23 1 45 1-19 0 26 1-11 1 9 0-10 1-21 1 39 0-39 1-8 1 22 0-46 1 19 1 40 0-25 1 32 1 21 0-19 1-31 1-25 0 15 1 48 1-43 0-24 1 73 1-26 0-10 1-13 1 17 0-26 1 12 1 14 0 17 1-21 1-6 0 42 1-60 1 38 0 24 1-8 1 3 0-9 1 5 1-27 1 51 1-37 0-19 1-10 1-24 0 37 1 19 1 23 0-14 1 28 1-14 0 4 1-37 1 24 0-64 1 81 1-54 0 33 1 19 1 3 0-38 1 16 1 48 0-32 1 23 1-33 0 65 1-58 1-4 0-9 1-3 1 11 0 8 1-46 1 105 0-85 1 35 1-22 0-23 1 34 1-2 0 23 1 4 1-1 0-14 1 52 1-33 0-15 1 4 1-20 0 41 1-48 1 49 0-10 1-7 1-44 0 48 1 33 1-2 0-11 1-69 1 60 0-22 1 4 1 19 0-15 1 2 1 0 0-16 1 39 1 23 0-34 1 11 1-5 0-54 1 58 1-31 0-1 1 3 1 62 0-14 1-4 1-14 0 10 1-23 1 2 0-19 1 23 1 22 0-6 1-15 1-36 0 55 1-9 1-45 0 28 1 53 1-64 0 35 1 15 1-10 0-12 1 15 1 18 0-55 1-6 1 74 0-34 1 48 1-73 0 35 1-40 1 19 1-16 1 46 0-33 1 6 1 56 0-44 1-27 1-34 0 83 1-9 1-56 0 27 1-24 1 22 0-20 1-14 1 32 0 12 1-36 1 68 0-19 1-42 1-17 0 41 1-17 1 21 0-55 1 56 1 11 0-8 1-54 1 13 0 25 1 17 1-7 0-16 1-50 1 76 0-59 1 58 1 2 0 19 1-38 1-31 0-17 1 9 1-17 0 54 1-16 1-36 0 17 1 21 1 13 0 13 1-6 1-36 0-3 1 19 1 43 0-41 1-7 1-6 0-46 1 31 1 6 0 45 1-42 1-30 0 55 1-36 1 56 0-33 1 3 1 6 0 1 1 11 1-49 0 27 1-8 1 28 0-31 1 25 1-5 0-37 1 10 1 11 0-20 1 27 1-21 0 32 1-5 1 0 0 4 1-10 1 7 0-37 1-3 1 46 0-55 1 36 1 3 0-17 1-7 1 10 0 11 1-41 1 39 0 20 1-50 1 43 0-17 1 0 1-19 0 16 1 0 1-11 0 4 1 36 1-52 0 13 1 0 1 34 0-84 1 64 1 9 0-17 1 21 1-7 0-18 1 18 1-14 1 33 1-37 0-31 1 13 1-16 0 9 1 34 1 32 0-14 1-20 1 34 0-22 1 0 1-30 0 4 1 19 1 19 0-47 1 3 1-2 0-13 1 77 1-40 0-54 1 30 1 33 0-26 1-20 1 43 0 9 1-6 1-35 0 38 1-25 1 5 0-12 1 19 1-19 0-11 1 28 1-15 0 49 1-46 1-28 0 33 1-3 1-6 0 1 1-18 1 1 0-37 1 64 1 34 0-93 1 75 1-55 0 30 1 4 1-18 0 25 1-49 1 33 0 5 1 26 1-40 0 36 1-20 1-22 0 41 1-23 1-33 0 31 1 0 1 12 0-24 1-24 1 32 0 2 1-10 1-2 0 3 1 8 1 4 0-10 1 43 1-91 0 77 1-47 1 23 0-8 1-38 1 16 0 6 1 20 1 13 0-30 1 10 1-19 0 18 1-14 1 12 0-8 1 19 1 38 0-44 1-9 1 28 0-11 1-10 1-4 0 16 1-26 1 24 0-17 1 2 1 21 0-3 1-38 1-9 0 48 1-6 1-29 0 9 1-37 1 108 0-90 1 21 1-14 0-6 1 33 1-8 0 24 1 10 1-56 0 33 1-16 1 2 0-8 1-4 1-2 0 27 1-14 1 4 0-3 1 7 1-45 0 27 1-23 1 9 0-4 1 71 1-72 0-12 1 10 1 16 0 26 1-17 1 28 0-7 1-25 1 53 0-64 1 76 1-80 0-14 1 41 1-1 0-11 1 4 1 50 0-93 1 34 1 29 0-35 1 3 1 4 0 29 1-33 1-9 0 28 1-55 1 11 0 53 1-37 1 13 0-20 1 17 1-17 0 18 1 0 1 10 0 11 1-28 1-24 0 22 1 30 1-30 0 6 1 39 1-5 0-25 1-2 1-26 0 18 1 23 1 21 0-59 1 8 1-4 0 10 1-14 1 5 0-7 1 44 1-15 0-15 1-34 1 58 0-82 1 41 1 4 0 4 1-32 1 4 0 4 1 46 1-50 0-9 1 13 1 19 0 25 1-5 1 14 0-32 1 7 1-31 0 8 1 49 1-51 0 23 1-23 1 35 0-5 1-25 1 85 0-59 1-47 1 54 0-39 1 23 1-25 0-23 1 57 1-45 0 37 1-38 1 35 0-3 1-4 1 0 0 4 1-44 1 14 0 38 1-23 1 44 0-5 1-36 1 6 0 2 1 10 1 16 0-53 1 20 1 8 0 15 1 1 1-16 0 6 1-28 1 31 0-22 1 29 1-24 0 16 1 40 1-73 0 17 1 38 1-16 0 6 1 10 1-25 0 31 1-16 1-34 0 19 1 24 1 18 0-44 1 16 1 16 0 5 1 31 1-37 0-32 1 27 1-20 0 38 1-29 1 15 0-44 1-15 1 15 0 25 1-13 1-24 0 54 1-7 1-3 0-8 1 12 1-21 0 21 1-11 1-14 0 15 1-50 1 58 0 25 1-36 1-10 0-14 1 9 1-5 0-29 1 7 1 67 0 9 1-14 1-60 0 65 1 12 1-86 0 74 1 2 1-34 0-6 1-6 1 39 0-14 1 4 1-45 0 32 1 4 1 14 0-34 1 58 1-28 0 14 1-11 1-23 0 64 1 0 1-11 0-78 1 23 1 63 0 8 1-49 1 15 0-31 1 43 1-42 0 49 1 6 1-45 0-6 1 72 1-36 0-28 1 19 1-7 0 22 1-31 1 19 0 22 1-22 1-8 0 2 1-31 1 21 0 1 1 25 1-17 0 2 1-25 1 23 0-29 1 27 1 1 0-35 1 44 1 21 0-81 1 69 1-20 0 25 1-31 1 29 1-30 1 44 0-62 1 30 1 16 0-26 1 36 1-4 0-18 1 3 1-16 0 17 1 0 1 24 0-38 1 19 1-25 0 29 1-14 1-40 0 39 1-4 1 21 0 17 1-25 1 37 0-38 1-24 1 18 0 42 1-5 1-19 0-4 1 2 1-21 0 28 1 14 1-3 0-17 1-23 1 44 1 11 1-13 0-29 1 3 1 12 0 9 1-45 1 32 0 19 1-34 1 19 0 55 1-24 1-49 0 48 1 6 1-10 0-36 1 5 1-14 0 43 1 6 1-11 0 5 1 8 1 28 0-44 1 12 1 25 0-42 1-17 1 50 0 3 1-10 1-24 0-10 1 13 1 20 0-22 1-17 1 12 0 11 1-4 1 3 0 5 1 0 1-12 0 37 1 2 1-12 0 7 1-28 1-12 0 41 1-2 1-56 0 69 1-24 1 2 0-37 1 34 1-69 0 68 1-20 1 2 0-11 1 35 1 29 0-32 1 4 1-29 0 40 1-17 1 24 0-36 1-5 1 25" transform="scale(0.25)" fill="none" stroke="#8d8f92" stroke-width="13.6" stroke-linejoin="round"/>
</g>
<path d="M727.0,1263.9 L739.0,1263.9 L733.0,1255.4 Z" fill="#231f20"/>
<rect x="714.7" y="1051.6" width="521.6" height="212.3" fill="none" stroke="#231f20" stroke-width="1.5"/>
<text x="733.0" y="1288.4" text-anchor="middle">0</text>
<line x1="863.2" y1="1263.9" x2="863.2" y2="1258.9" stroke="#231f20" stroke-width="1.2"/>
<line x1="863.2" y1="1051.6" x2="863.2" y2="1056.6" stroke="#231f20" stroke-width="1.2"/>
<text x="863.2" y="1288.4" text-anchor="middle">100</text>
<line x1="993.3" y1="1263.9" x2="993.3" y2="1258.9" stroke="#231f20" stroke-width="1.2"/>
<line x1="993.3" y1="1051.6" x2="993.3" y2="1056.6" stroke="#231f20" stroke-width="1.2"/>
<text x="993.3" y="1288.4" text-anchor="middle">200</text>
<line x1="1123.5" y1="1263.9" x2="1123.5" y2="1258.9" stroke="#231f20" stroke-width="1.2"/>
<line x1="1123.5" y1="1051.6" x2="1123.5" y2="1056.6" stroke="#231f20" stroke-width="1.2"/>
<text x="1123.5" y="1288.4" text-anchor="middle">300</text>
<line x1="714.7" y1="1072.8" x2="719.7" y2="1072.8" stroke="#231f20" stroke-width="1.2"/>
<line x1="1236.3" y1="1072.8" x2="1231.3" y2="1072.8" stroke="#231f20" stroke-width="1.2"/>
<text x="705.5" y="1079.8" text-anchor="end">120</text>
<line x1="714.7" y1="1115.3" x2="719.7" y2="1115.3" stroke="#231f20" stroke-width="1.2"/>
<line x1="1236.3" y1="1115.3" x2="1231.3" y2="1115.3" stroke="#231f20" stroke-width="1.2"/>
<text x="705.5" y="1122.3" text-anchor="end">100</text>
<line x1="714.7" y1="1157.8" x2="719.7" y2="1157.8" stroke="#231f20" stroke-width="1.2"/>
<line x1="1236.3" y1="1157.8" x2="1231.3" y2="1157.8" stroke="#231f20" stroke-width="1.2"/>
<text x="705.5" y="1164.8" text-anchor="end">75</text>
<line x1="714.7" y1="1200.2" x2="719.7" y2="1200.2" stroke="#231f20" stroke-width="1.2"/>
<line x1="1236.3" y1="1200.2" x2="1231.3" y2="1200.2" stroke="#231f20" stroke-width="1.2"/>
<text x="705.5" y="1207.2" text-anchor="end">50</text>
<line x1="714.7" y1="1242.7" x2="719.7" y2="1242.7" stroke="#231f20" stroke-width="1.2"/>
<line x1="1236.3" y1="1242.7" x2="1231.3" y2="1242.7" stroke="#231f20" stroke-width="1.2"/>
<text x="705.5" y="1249.7" text-anchor="end">0</text>
<text x="975.5" y="1038.5" text-anchor="middle" font-weight="bold" class="b">0.5 ms</text>
<text x="972.3" y="1313.6" text-anchor="middle">Time (ms)</text>
<text transform="translate(656.5,1157.8) rotate(-90)" text-anchor="middle">Stimulus (μA)</text>
<line x1="1169.0" y1="1067.6" x2="1169.0" y2="1137.7" stroke="#231f20" stroke-width="1.5"/>
<text x="1183.5" y="1093.6">1 mV</text>
<text x="1156.6" y="1198.4" fill="#939598" class="g">120 μA</text>
<rect x="1268.5" y="1051.6" width="40.2" height="214.8" fill="url(#g25)" stroke="#231f20" stroke-width="1.3"/>
<line x1="1268.5" y1="1091.3" x2="1271.5" y2="1091.3" stroke="#231f20" stroke-width="1.2"/>
<line x1="1308.7" y1="1091.3" x2="1305.7" y2="1091.3" stroke="#231f20" stroke-width="1.2"/>
<text x="1313.0" y="1098.3">1</text>
<line x1="1268.5" y1="1161.0" x2="1271.5" y2="1161.0" stroke="#231f20" stroke-width="1.2"/>
<line x1="1308.7" y1="1161.0" x2="1305.7" y2="1161.0" stroke="#231f20" stroke-width="1.2"/>
<text x="1313.0" y="1168.0">0</text>
<line x1="1268.5" y1="1230.7" x2="1271.5" y2="1230.7" stroke="#231f20" stroke-width="1.2"/>
<line x1="1308.7" y1="1230.7" x2="1305.7" y2="1230.7" stroke="#231f20" stroke-width="1.2"/>
<text x="1313.0" y="1237.7">−1</text>
<text x="1242.6" y="1288.5"><tspan textLength="76" lengthAdjust="spacingAndGlyphs">Mean ΔV</tspan><tspan font-size="16" dx="2" dy="9.5">m</tspan></text>
<rect x="714.7" y="1379.40" width="521.6" height="42.76" fill="url(#g26)"/>
<rect x="714.7" y="1421.86" width="521.6" height="42.76" fill="url(#g27)"/>
<rect x="714.7" y="1464.32" width="521.6" height="42.76" fill="url(#g28)"/>
<rect x="714.7" y="1506.78" width="521.6" height="42.76" fill="url(#g29)"/>
<rect x="714.7" y="1549.24" width="521.6" height="42.76" fill="url(#g30)"/>
<clipPath id="cp4"><rect x="714.7" y="1379.4" width="521.6" height="212.3"/></clipPath>
<line x1="733.0" y1="1379.4" x2="733.0" y2="1598.2" stroke="#8f9093" stroke-width="2.6"/>
<g clip-path="url(#cp4)">
<path d="M2859 5963l1 11 1 3 1 1 0-7 1-2 1 13 1-7 1 18 0-12 1-8 1 5 1 15 1-3 0-26 1 15 1 28 1-22 1-48 0 34 1 18 1 14 1-11 1-39 0 19 1 9 1 6 1-27 1-2 0 30 1 24 1-42 1 12 1-10 0 8 1-26 1 9 1-7 1 28 0 29 1-31 1-4 1-9 1-4 0 47 1-27 1-6 1 16 1-46 0 23 1 15 1 16 1-14 1 2 0-7 1-22 1 5 1-5 1 8 0-12 1 26 1-19 1 16 1 4 0 24 1-30 1-31 1 61 1-15 0-13 1-18 1 12 1 20 1 22 0-15 1 6 1-21 1-18 1-11 0 40 1-46 1 32 1 31 1-11 0-39 1 42 1-40 1-12 1-66 0-104 1 34 1-32 1-14 1-4 0 19 1 14 1-19 1 3 1-4 0 25 1-32 1 25 1-29 1 8 0 33 1-9 1 10 1 6 1-6 0 30 1-15 1 55 1 14 1 43 0 50 1 51 1 59 1 40 1 55 0 8 1 0 1-26 1 1 1-46 0 43 1 5 1-14 1-21 1 21 0 3 1-9 1-5 1 0 1 10 0 1 1-23 1-5 1 2 1 8 0-5 1-6 1 7 1 9 1-27 0 5 1 31 1-12 1 6 1-27 0-2 1 60 1-45 1 0 1 18 0-27 1-13 1 27 1 3 1-3 0-7 1-25 1 3 1 13 1 2 0-11 1 21 1-7 1-3 1 2 0-8 1-8 1-2 1 12 1-12 0 12 1 6 1-4 1 23 1-30 0-36 1 16 1 0 1 39 1-24 0 12 1-14 1-13 1 9 1 24 0 7 1-37 1 15 1-11 1 21 0-10 1-22 1 30 1-24 1-4 0 4 1 11 1-16 1 6 1-30 0 45 1-20 1 17 1 1 1-37 0 29 1-4 1-8 1 16 1-17 0-16 1 25 1 12 1-27 1 4 0 26 1-32 1-3 1 26 1-1 0-1 1-12 1-19 1-47 1 64 0-2 1-19 1 1 1-7 1 20 1-51 1 38 1 2 1-27 0 49 1-23 1 0 1-19 1-1 0 12 1-2 1-12 1 2 1-3 0-2 1 18 1-4 1 6 1-13 0-2 1-9 1-3 1 33 1-17 0-9 1-4 1 18 1 12 1-9 0-18 1 14 1-18 1-24 1 20 0-1 1-31 1 38 1-3 1-24 0-4 1-11 1 19 1 9 1-8 0-9 1 0 1 10 1-5 1 4 0-11 1 16 1-9 1-21 1 34 0-14 1 12 1 5 1-39 1 3 0 60 1-35 1-9 1-17 1 16 0-6 1 13 1 3 1-13 1 11 0-2 1-7 1 20 1 2 1 36 0-20 1-1 1-11 1 17 1-9 0-9 1-23 1 28 1 21 1-19 0 27 1-17 1 22 1-12 1-15 0 12 1 19 1-39 1-11 1 25 0 8 1-20 1 11 1 10 1-6 0 26 1-11 1 3 1-14 1 22 0-29 1 20 1 16 1-17 1 4 0 29 1-43 1 17 1 16 1-24 0-1 1 17 1-11 1 17 1-12 0 4 1 36 1 1 1-17 1 1 0 12 1-24 1 2 1-5 1 15 0-7 1-2 1 28 1-2 1 22 0-25 1 15 1-12 1-2 1 18 0 20 1-41 1 7 1-3 1-5 0-3 1 9 1-11 1 38 1-16 0 27 1-38 1 39 1 5 1-12 0-14 1 7 1 9 1 5 1-3 0 1 1 24 1-24 1 37 1-9 0-4 1-9 1-6 1-9 1 6 0 15 1-4 1 5 1-8 1 20 0-10 1 6 1 23 1-12 1-14 0 20 1-13 1-13 1-1 1 44 0-11 1-9 1 13 1-22 1 23 0-17 1 36 1-57 1 41 1 16 0-6 1-17 1-17 1 32 1 15 0-32 1 51 1-26 1 2 1 8 0-1 1 0 1 3 1-25 1-11 0 56 1-38 1 7 1-10 1 27 0 13 1-24 1-11 1 35 1-28 1-9 0 22 1 2 1 8 1 16 1-28 0-7 1-20 1 33 1-5 1-13 0 40 1-38 1-14 1-13 1 24 0 2 1-7 1 10 1-17 1 34 0-36 1 7 1-15 1 2 1 6 0 35 1-17 1-1 1-19 1 15 0-2 1 17 1-29 1 1 1 24 0-33 1 10 1 4 1-5 1-19 0 45 1-41 1 9 1 6 1-11 0 15 1-10 1 9 1-28 1 25 0-4 1-3 1-21 1 22 1-15 0 10 1 31 1-29 1 18 1-27 0 8 1 27 1-36 1-13 1 10 0 3 1 26 1-39 1 14 1-9 0 13 1-16 1-10 1 38 1-24 0 6 1 11 1-12 1-17 1 42 0-1 1-29 1 24 1-31 1 3 0-6 1 21 1-5 1 11 1-14 0-6 1 19 1 22 1-39 1-27 0 23 1 22 1-40 1-1 1 21 0-39 1 19 1-6 1 11 1-11 0 22 1-11 1 14 1 14 1-18 0-18 1 15 1-12 1 5 1-27 0 18 1-5 1-2 1-18 1 18 0-7 1 13 1-3 1-13 1-1 0 14 1 4 1-16 1-2 1-8 0 25 1-27 1 20 1 12 1-36 0 13 1-20 1 0 1 5 1 15 0 10 1-14 1 5 1 7 1 9 0-24 1 19 1-38 1 13 1-3 0 2 1-18 1 24 1 8 1 0 0-6 1 0 1-7 1 16 1-31 0 21 1-1 1-37 1 13 1 5 0 1 1-16 1-9 1 18 1 24 0-43 1-3 1 27 1-22 1 17 0-10 1 28 1-28 1 9 1-22 0 8 1 1 1 15 1-7 1-19 0 2 1 13 1-13 1 21 1-57 0 27 1 2 1-3 1 29 1-13 0-23 1 8 1-20 1 49 1-29 0 13 1-10 1-16 1-2 1 41 0-19 1-17 1-28 1-9 1 27 0 15 1 21 1-18 1 5 1 4 0-1 1-24 1-8 1 4 1 19 0-16 1-12 1 27 1-25 1 43 0-26 1-2 1-1 1-4 1 13 0-12 1 18 1-29 1 6 1 0 0-7 1 23 1-18 1-23 1 25 0-26 1 2 1-2 1 27 1-27 0-4 1 21 1 13 1-29 1-6 0 23 1 19 1-33 1 9 1 28 0-50 1 22 1-25 1 49 1-7 0-39 1 8 1 22 1-29 1 1 0-21 1 42 1-36 1 33 1-37 0 22 1-2 1-29 1 43 1-11 0 5 1-8 1-3 1 25 1-28 0 8 1 14 1 9 1-25 1 10 0 15 1-20 1-29 1 36 1-1 0-36 1 18 1 20 1-12 1 2 0-26 1 8 1 13 1-18 1 9 0-1 1-40 1 64 1-21 1-3 0-13 1-11 1 31 1 8 1-17 0-13 1 2 1-10 1 16 1-8 0 20 1-18 1-4 1 30 1-25 0 5 1-10 1-12 1 41 1-7 0-10 1-29 1 3 1 6 1 13 0 21 1-39 1 14 1 19 1-8 0-42 1 16 1 0 1-30 1 50 0-2 1-31 1 21 1-4 1 2 0 8 1 2 1 19 1-11 1-9 0-11 1-20 1 23 1 9 1-7 0-8 1-9 1 13 1-4 1-4 0-2 1 0 1-11 1 19 1-17 0-9 1 4 1 27 1-15 1-5 0 32 1-32 1-15 1 11 1-11 0 16 1-5 1 5 1-9 1 20 0 8 1-29 1-2 1 34 1-10 0-29 1-5 1-6 1 9 1 13 0 41 1-52 1 5 1 44 1-29 1-10 1 1 1-3 1 65 0-16 1-31 1 21 1 14 1-10 0-28 1 15 1-10 1-3 1 31 0-43 1 38 1 0 1 1 1 7 0 4 1 10 1 9 1-10 1-42 0 39 1-4 1-22 1 9 1 27 0-7 1 15 1-16 1 16 1-42 0 24 1-8 1 19 1 9 1 1 0 1 1 6 1 1 1-31 1 36 0 1 1 0 1 1 1-12 1 15 0 11 1-5 1-14 1 6 1 21 0-7 1-15 1 26 1-26 1 6 0 17 1 14 1-23 1 14 1 12 0-9 1 30 1-21 1-15 1 28 1 24 0-31 1 16 1-57 1 43 1 26 0 7 1-16 1 15 1-4 1-17 0 18 1-1 1-1 1-17 1 48 0 7 1-31 1 10 1-14 1 0 0 13 1 27 1-14 1-11 1-9 0 35 1-25 1 14 1 4 1 1 0 36 1-27 1 12 1 19 1-8 0-14 1 2 1-22 1 16 1-12 0 12 1 12 1 19 1-21 1-14 0-8 1 22 1-32 1 16 1 16 0-25 1-14 1 35 1-8 1 14 1-11 1 2 1-8 1-13 0 33 1-22 1-7 1 8 1-37 0 54 1-28 1 28 1-42 1 5 0 8 1-25 1 16 1 24 1-38 0 4 1-3 1 4 1-5 1 13 0-2 1-17 1 41 1-12 1-22 0-19 1 12 1 27 1-14 1-29 0 20 1 22 1-21 1 34 1-36 0-18 1 22 1 34 1-53 1 2 0 10 1-9 1-20 1 34 1-15 0 29 1-53 1 57 1-41 1-2 0-1 1 13 1-3 1-1 1 10 0-12 1 18 1-26 1-18 1 31 0 9 1-7 1 3 1-9 1 7 0-17 1-9 1 5 1-14 1 32 0-22 1 0 1 7 1 27 1-17 0-38 1 65 1-23 1-10 1-23 0 33 1-10 1-11 1-6 1 1 0 32 1-68 1 26 1 24 1-38 0 19 1 8 1-6 1-28 1 43 0-11 1-10 1-12 1 32 1-13 0 3 1-38 1 1 1 4 1 22 0 3 1-16 1 22 1-1 1-17 0 2 1-12 1 12 1 38 1-33 0 33 1-19 1-25 1-20 1 28 0 5 1-5 1 6 1-23 1-15 0 27 1 0 1-14 1 12 1-6 0-13 1 14 1-7 1 13 1-12 0 6 1 9 1 1 1-18 1-2 0 11 1 13 1-11 1-18 1-38 0 73 1-13 1-3 1-7 1 2 0-9 1-5 1 1 1 5 1-23 0 15 1 13 1 32 1-35 1 9 0-13 1-4 1-14 1 16 1-12 0 5 1-2 1 2 1 13 1-18 0 12 1-11 1 24 1-23 1 11 0-1 1 12 1-1 1-31 1 18 0 12 1-26 1 0 1-18 1 31 0-1 1-16 1-17 1 17 1-4 0 7 1 10 1-20 1 19 1-6 0 17 1-2 1 12 1-31 1-10 0 49 1-52 1 29 1-2 1-6 0 12 1-4 1-26 1-2 1 5 0 19 1 17 1-2 1-27 1-22 0 5 1 14 1-9 1 16 1-17 0 4 1-4 1-14 1 17 1-14 0 21 1-8 1-20 1 37 1-33 0 14 1 9 1-10 1 9 1 13 0-47 1 14 1 28 1-11 1-6 0-2 1 0 1 26 1-38 1 6 0 14 1-18 1 18 1-35 1 16 0 17 1 8 1-18 1 14 1-10 0-16 1-7 1-16 1 22 1 6 0-3 1-11 1 4 1 8 1-12 0 15 1 20 1-17 1-25 1 22 0 7 1-9 1 4 1-24 1 25 0-14 1 23 1-5 1-32 1 9 0-18 1 35 1-14 1-19 1-8 0 22 1-41 1 33 1-14 1-1 0 49 1-40 1 18 1 19 1-9 0-11 1 6 1-4 1 0 1 17 0 3 1-35 1 15 1-23 1 29 0 1 1-9 1-26 1 3 1 9 0 11 1 2 1-16 1 24 1-18 0 11 1-7 1-15 1 30 1-39 0 21 1 6 1-7 1-3 1-30 0 25 1-4 1 4 1-18 1 6 0 24 1-22 1 15 1 20 1-1 0-6 1-9 1-7 1-6 1-12 0-7 1 38 1-12 1-3 1-19 0-12 1 20 1 40 1-27 1 8 0-5 1-10 1 15 1-33 1 4 0 34 1-32 1 10 1 0 1-2 0-13 1 27 1-22 1 33 1 11 0 6 1-34 1-36 1 32 1-18 0 34 1-23 1 16 1-3 1-13 0 12 1-14 1 6 1-38 1 22 0 14 1-6 1 13 1-17 1 10 0 6 1-27 1 39 1-28 1 36 0-37 1 4 1 23 1-17 1-14 0-27 1 34 1-11 1 4 1-22 0 24 1 13 1-26 1 15 1-17 1 7 0 16 1-26 1 9 1 14 1 17 0 17 1-41 1-18 1 34 1-41 0 9 1 0 1 20 1-27 1 15 0-10 1-12 1 9 1 40 1-38 0 6 1 21 1-4 1 20 1-29 0-1 1-11 1 8 1 28 1-29 0 17 1-6 1-29 1 24 1 6 0-36 1 24 1 5 1 4 1-22 0 6 1-14 1 24 1-1 1-16 0 18 1-6 1 7 1 13 1 10 0-15 1 16 1-7 1-9 1-1 0 12 1 9 1-48 1 40 1-4 0 18 1-32 1 16 1-16 1-5 0 12 1 4 1-2 1 22 1-20 0 7 1 1 1 2 1-29 1 21 0-3 1 22 1 9 1-27 1 1 0-5 1 24 1-25 1 15 1-3 0 10 1 1 1 3 1 28 1-35 0 22 1 16 1-4 1-40 1 44 0-33 1 54 1-34 1 14 1 14 0-24 1-17 1 19 1 37 1-18 0-5 1 10 1-40 1 62 1-28 0-2 1-1 1 13 1-6 1 8 0 9 1-1 1-13 1 38 1-8 0 13 1-19 1 21 1-4 1-21 0 8 1 23 1-2 1 8 1 23 0-4 1-6 1-11 1-7 1-7 0-8 1 6 1 27 1-2 1 5 0 6 1 12 1-52 1 30 1 4 0-5 1-2 1-34 1 37 1-16 0-9 1 8 1 13 1-1 1-19 0 19 1-1 1 0 1-5 1 2 1 1 1-30 1 18 1 19 0-13 1-1 1-17 1-7 1 19 0-9 1 19 1 19 1-25 1 24 0-29 1 5 1-18 1 22 1-10 0-5 1 36 1-37 1 11 1 6 0 19 1-42 1 7 1-21 1 48 0-29 1 6 1 14 1-10 1 2 0-10 1 4 1 1 1 13 1-34 0 47 1-22 1-24 1 33 1-37 0 13 1-5 1 17 1-38 1 22 0 5 1 12 1-31 1 11 1 8 0 29 1-38 1 5 1-8 1 42 0-29 1-6 1 4 1 2 1-4 0-3 1-4 1 2 1-7 1 31 0-6 1-18 1-4 1-14 1 49 0-33 1 11 1 2 1-19 1 15 0-11 1 8 1-23 1 24 1 7 0 3 1-15 1 14 1-17 1 10 0 6 1-3 1 16 1-19 1-11 0 32 1-22 1-1 1-6 1-10 0 20 1-3 1-39 1 64 1-25 0-15 1-6 1 5 1 16 1-23 0 18 1 3 1 23 1-38 1 43 0-36 1 3 1 9 1-19 1-20 0 27 1 21 1-47 1 4 1 23 0 6 1-28 1 35 1-43 1 26 0-23 1 19 1 22 1-5 1 4 0-49 1 41 1-22 1 18 1-16 0 19 1-19 1-18 1-4 1 23 0-5 1-28 1 31 1 2 1-15 0-9 1 30 1-31 1 20 1 29 0-36 1 7 1-45 1 44 1 9 0-19 1 12 1 8 1-39 1 28 0-13 1 6 1-4 1 5 1-2 0 7 1-15 1 15 1-36 1 42 0-3 1-26 1 15 1 0 1-3 0-16 1-3 1 19 1-19 1 33 0 5 1-6 1-25 1 19 1-27 0-7 1 10 1 15 1 0 1-39 0 38 1-29 1 43 1-23 1 2 0-8 1-5 1 9 1-7 1-7 0 28 1-21 1-9 1 31 1-2 0-7 1 12 1 28 1-45 1-43 0 44 1 2 1 8 1-29 1 2 0-10 1 23 1-11 1-17 1-6 0 24 1-8 1-24 1 27 1 1 0-10 1 36 1-30 1 13 1-16 1 25 1 4 1-51 1 16 0 22 1-9 1 9 1 0 1-34 0 40 1-12 1 15 1 5 1-29 0-13 1 18 1-23 1 10 1 9 0-12 1 19 1-23 1 50 1-36 0 6 1 22 1-15 1-13 1 18 0-13 1-10 1 8 1-9 1-12 0-8 1 44 1-17 1-11 1 3 0-20 1 59 1-30 1 3 1-1 0-10 1-12 1 30 1-31 1 34 0-14 1 18 1-12 1 5 1-5 0-8 1-14 1 27 1-3 1-19 0-16 1 24 1-22 1 23 1-1 0-1 1 0 1 11 1 1 1-29 1 26 0-1 1-19 1 5 1 20 1-23 0-16 1 17 1 25 1-16 1-2 0-2 1 0 1-8 1-19 1 5 0 45 1-34 1 26 1-19 1 17 0-15 1 14 1-34 1-20 1 30 0 6 1-16 1 36 1-14 1-10 0 7 1-9 1 9 1 8 1 10 0-38 1 56 1-48 1 19 1 6 0-7 1-23 1 0 1 22 1-21 0-13 1 5 1 16 1-5 1 27 0-23 1-16 1 12 1 8 1-37 0 28 1 34 1-48 1 13 1-15 0 17 1-12 1 24 1-8 1-11 0 15 1 23 1-46 1 22 1 9 0-26 1 5 1-1 1 2 1-13 0 13 1 0 1 5 1-21 1 24 0-23 1 36 1-8 1-14 1 5 0-5 1 20 1-41 1 48 1 13 0-9 1-41 1-7 1 41 1 6 0-14 1-16 1 30 1-32 1-8 0 44 1-17 1 7 1-21 1 2 0-20 1 24 1-32 1 24 1 4 0 5 1-8 1-5 1 21 1 3 0-28 1 8 1-4 1-15 1 2 0 21 1 6 1-47 1 38 1-5 0-2 1 31 1-22 1 3 1-19 0 8 1 17 1-25 1 22 1-13 0 11 1 5 1-37 1 39 1-43 0 20 1 14 1-10 1-24 1 22 0-3 1 4 1 11 1 12 1-6 0-42 1 55 1-50 1 23 1-29 0 27 1 0 1-27 1 21 1 0 0 26 1-40 1 14 1-12 1 25 0-7 1-9 1 6 1 16 1-53 0 35 1 4 1 10 1 9 1-18 0 4 1-34 1 54 1-43 1 10 0 2 1 7 1-15 1 18 1-20 0 23 1-12 1-22 1-4 1 35 0-3 1-18 1-6 1 6 1 20 0-22 1 26 1-31 1 32 1-22 0 15 1-14 1 4 1-9 1 19 0-15 1 2 1 1 1 11 1-24 0-7 1 9 1 22 1-16 1 17 0-11 1 7 1 4 1-13 1 15 0-2 1 0 1-3 1-6 1 15 0-34 1 33 1-20 1 11 1-2 0-33 1 22 1 25 1-28 1 31 0-24 1-10 1 58 1-69 1 18 0-9 1 31 1-17 1 3 1 22 0-36 1 23 1-2 1-3 1-11 0-2 1-2 1 15 1-33 1 30 0-2 1 27 1-32 1 23 1-1 0-14 1 19 1-12 1-10 1-3 0 35 1 16 1-31 1 9 1-20 0 9 1-17 1 36 1 4 1-25 0-38 1 20 1 27 1-23 1 6 0-6 1 16 1 10 1-21 1-2 0 21 1-39 1 35 1-20 1 3 0-22 1 45 1 1 1-56 1 25 0 20 1-11 1 26 1-15 1 4 0-22 1 17 1-5 1-13 1 3 0-17 1 21 1-33 1 44 1-29 0 52 1-32 1 4 1 16 1-36 0 51 1 0 1-32 1-12 1 21 0-2 1-12 1-18 1 18 1-24 0 6 1 34 1 1 1-2 1-6 0-13 1 12 1-8 1 10 1-16 0 39 1-38 1 7 1-5 1 4 0 20 1-44 1 25 1-14 1 12 0-24 1 5 1 29 1-10 1-9 0 11 1-1 1-10 1-9 1 49 0-13 1-12 1-7 1-31 1 24 0 26 1-7 1-18 1 23 1 5 0 8 1-27 1 21 1-16 1-1 0-3 1 14 1-6 1 3 1-14 0 21 1-12 1 6 1 23 1-33 0-9 1-1 1 27 1-27 1 25 0 8 1-24 1 13 1 11 1-25 0 5 1 0 1-5 1 29 1-28 0 5 1-17 1-6 1 30 1-14 0 19 1-33 1 25 1-10 1-3 0 6 1 13 1-16 1 9 1 24 0-1 1-44 1 20 1-6 1 25 0-26 1 16 1 5 1-5 1-2 0-3 1-19 1 11 1-9 1 9 0 3 1 20 1-4 1-9 1 6 0-12 1 27 1-32 1-15 1 16 0 2 1 24 1-15 1-25 1-3 0 42 1-43 1 14 1 2 1 14 0 12 1-32 1 24 1-45 1 18 0 32 1-30 1 6 1 22 1-29 0 41 1-50 1 11 1 14 1 30 1-58 0 44 1-15 1 2 1-10 1 10 0 6 1 14 1-40 1 24 1-1 0-30 1 27 1 17 1-27 1 19 0-35 1 14 1 21 1-29 1 22 0 5 1-16 1-20 1 0 1-6 0 47 1-16 1 26 1-17 1-17 0 12 1-5 1 6 1 22 1-27 0-19 1 23 1-14 1-21 1 43 0 6 1 3 1-32 1-19 1 24 0-3 1 9 1 1 1 2 1 8 0-8 1-26 1 49 1-34 1 9 0 14 1-29 1 24 1-4 1 2 0-3 1-24 1 0 1 13 1 4 0 12 1-12 1 26 1-3 1-36 0 24 1-24 1 25 1-6 1 3 0-4 1-6 1 36 1 3 1-44 0 35 1-40 1-3 1 8 1-9 1 10 1 13 1-17 1-9 0 2 1 19 1-4 1 6 1 6 0-26 1-9 1 34 1-20 1 9 0-33 1 28 1 2 1-21 1 17 0 31 1-8 1-23 1-5 1 9 0 2 1-7 1 3 1 22 1-4 0-30 1-5 1 21 1-4 1 1 0-3 1 22 1-25 1 17 1-18 0-13 1 20 1-4 1 26 1-24 0 17 1 9 1-38 1 7 1-6 0-7 1 23 1 2 1 14 1-3 0-31 1 30 1-8 1-21 1 0 0 30 1-60 1 46 1-2 1-14 0-3 1 22 1 13 1-12 1 16 0-27 1 4 1 41 1-25 1-7 0 7 1-16 1 18 1-23 1-5 0 36 1-30 1-2 1 9 1-5 0 20 1-17 1 1 1-17 1 5 0 13 1-7 1 15 1-5 1 4 0-10 1-28 1 17 1 4 1 40 0-4 1-23 1 19 1-35 1-3 0 49 1-10 1-31 1 17 1-49 0 17 1 11 1 20 1-23 1 11 0-14 1 16 1 7 1-23 1 35 0-11 1 12 1-3 1 12 1-14 0-2 1 8 1 5 1-23 1-40 0 32 1-4 1-5 1 22 1-1 0-18 1 32 1-19 1-9 1-19 0 51 1-10 1 4 1-25 1-11 0 25 1-26 1 11 1 9 1-5 1 7 1 20 1-29 1-8 0 37 1-25 1 12 1-21 1 40 0-16 1-22 1 26 1-2 1-11 0 7 1-26 1-2 1 12 1 32 0-37 1 21 1-30 1 30 1-22 0-2 1 15 1 7 1-11 1 32 0-40 1 24 1-8 1-33 1 23 0-20 1 33 1-20 1 32 1-1 0-20 1 5 1-9 1-10 1 34 0-17 1-14 1 11 1-5 1 7 0 9 1-17 1 10 1 2" transform="scale(0.25)" fill="none" stroke="#8d8f92" stroke-width="12.8" stroke-linejoin="round"/>
</g>
<path d="M727.0,1591.7 L739.0,1591.7 L733.0,1583.2 Z" fill="#231f20"/>
<rect x="714.7" y="1379.4" width="521.6" height="212.3" fill="none" stroke="#231f20" stroke-width="1.5"/>
<text x="733.0" y="1616.2" text-anchor="middle">0</text>
<line x1="863.2" y1="1591.7" x2="863.2" y2="1586.7" stroke="#231f20" stroke-width="1.2"/>
<line x1="863.2" y1="1379.4" x2="863.2" y2="1384.4" stroke="#231f20" stroke-width="1.2"/>
<text x="863.2" y="1616.2" text-anchor="middle">100</text>
<line x1="993.3" y1="1591.7" x2="993.3" y2="1586.7" stroke="#231f20" stroke-width="1.2"/>
<line x1="993.3" y1="1379.4" x2="993.3" y2="1384.4" stroke="#231f20" stroke-width="1.2"/>
<text x="993.3" y="1616.2" text-anchor="middle">200</text>
<line x1="1123.5" y1="1591.7" x2="1123.5" y2="1586.7" stroke="#231f20" stroke-width="1.2"/>
<line x1="1123.5" y1="1379.4" x2="1123.5" y2="1384.4" stroke="#231f20" stroke-width="1.2"/>
<text x="1123.5" y="1616.2" text-anchor="middle">300</text>
<line x1="714.7" y1="1400.6" x2="719.7" y2="1400.6" stroke="#231f20" stroke-width="1.2"/>
<line x1="1236.3" y1="1400.6" x2="1231.3" y2="1400.6" stroke="#231f20" stroke-width="1.2"/>
<text x="705.5" y="1407.6" text-anchor="end">50</text>
<line x1="714.7" y1="1443.1" x2="719.7" y2="1443.1" stroke="#231f20" stroke-width="1.2"/>
<line x1="1236.3" y1="1443.1" x2="1231.3" y2="1443.1" stroke="#231f20" stroke-width="1.2"/>
<text x="705.5" y="1450.1" text-anchor="end">40</text>
<line x1="714.7" y1="1485.6" x2="719.7" y2="1485.6" stroke="#231f20" stroke-width="1.2"/>
<line x1="1236.3" y1="1485.6" x2="1231.3" y2="1485.6" stroke="#231f20" stroke-width="1.2"/>
<text x="705.5" y="1492.6" text-anchor="end">20</text>
<line x1="714.7" y1="1528.0" x2="719.7" y2="1528.0" stroke="#231f20" stroke-width="1.2"/>
<line x1="1236.3" y1="1528.0" x2="1231.3" y2="1528.0" stroke="#231f20" stroke-width="1.2"/>
<text x="705.5" y="1535.0" text-anchor="end">10</text>
<line x1="714.7" y1="1570.5" x2="719.7" y2="1570.5" stroke="#231f20" stroke-width="1.2"/>
<line x1="1236.3" y1="1570.5" x2="1231.3" y2="1570.5" stroke="#231f20" stroke-width="1.2"/>
<text x="705.5" y="1577.5" text-anchor="end">0</text>
<text x="975.5" y="1366.3" text-anchor="middle" font-weight="bold" class="b">0.5 ms</text>
<text x="972.3" y="1641.4" text-anchor="middle">Time (ms)</text>
<text transform="translate(668.5,1485.6) rotate(-90)" text-anchor="middle">Stimulus (μA)</text>
<line x1="1169.0" y1="1395.5" x2="1169.0" y2="1448.7" stroke="#231f20" stroke-width="1.5"/>
<text x="1183.5" y="1421.4">1 mV</text>
<text x="1156.6" y="1527.5" fill="#939598" class="g">50 μA</text>
<rect x="1268.5" y="1379.4" width="40.2" height="214.8" fill="url(#g31)" stroke="#231f20" stroke-width="1.3"/>
<line x1="1268.5" y1="1389.1" x2="1271.5" y2="1389.1" stroke="#231f20" stroke-width="1.2"/>
<line x1="1308.7" y1="1389.1" x2="1305.7" y2="1389.1" stroke="#231f20" stroke-width="1.2"/>
<text x="1313.0" y="1396.1">2</text>
<line x1="1268.5" y1="1439.9" x2="1271.5" y2="1439.9" stroke="#231f20" stroke-width="1.2"/>
<line x1="1308.7" y1="1439.9" x2="1305.7" y2="1439.9" stroke="#231f20" stroke-width="1.2"/>
<text x="1313.0" y="1446.9">1</text>
<line x1="1268.5" y1="1490.7" x2="1271.5" y2="1490.7" stroke="#231f20" stroke-width="1.2"/>
<line x1="1308.7" y1="1490.7" x2="1305.7" y2="1490.7" stroke="#231f20" stroke-width="1.2"/>
<text x="1313.0" y="1497.7">0</text>
<line x1="1268.5" y1="1541.5" x2="1271.5" y2="1541.5" stroke="#231f20" stroke-width="1.2"/>
<line x1="1308.7" y1="1541.5" x2="1305.7" y2="1541.5" stroke="#231f20" stroke-width="1.2"/>
<text x="1313.0" y="1548.5">−1</text>
<line x1="1268.5" y1="1592.3" x2="1271.5" y2="1592.3" stroke="#231f20" stroke-width="1.2"/>
<line x1="1308.7" y1="1592.3" x2="1305.7" y2="1592.3" stroke="#231f20" stroke-width="1.2"/>
<text x="1313.0" y="1599.3">−2</text>
<text x="1242.6" y="1616.3"><tspan textLength="76" lengthAdjust="spacingAndGlyphs">Mean ΔV</tspan><tspan font-size="16" dx="2" dy="9.5">m</tspan></text>
<rect x="714.7" y="1707.30" width="521.6" height="42.76" fill="url(#g32)"/>
<rect x="714.7" y="1749.76" width="521.6" height="42.76" fill="url(#g33)"/>
<rect x="714.7" y="1792.22" width="521.6" height="42.76" fill="url(#g34)"/>
<rect x="714.7" y="1834.68" width="521.6" height="42.76" fill="url(#g35)"/>
<rect x="714.7" y="1877.14" width="521.6" height="42.76" fill="url(#g36)"/>
<clipPath id="cp5"><rect x="714.7" y="1707.3" width="521.6" height="212.3"/></clipPath>
<line x1="733.0" y1="1707.3" x2="733.0" y2="1926.1" stroke="#8f9093" stroke-width="2.6"/>
<g clip-path="url(#cp5)">
<path d="M2859 7309l1-40 1 30 1-15 0 7 1-31 1 7 1 19 1 16 0-20 1 2 1 5 1-2 1-1 1-4 1-3 1-2 1 7 0-13 1 33 1-18 1-20 1 45 0-33 1-31 1 7 1 26 1-17 0 27 1-25 1 28 1-27 1 39 0-14 1-11 1 1 1 4 1 3 0-33 1 26 1 5 1 6 1 1 0-30 1 28 1-23 1 18 1-15 0 27 1-18 1 4 1-20 1 18 0 19 1 0 1-25 1 21 1-20 0-8 1 26 1 10 1-24 1-19 0 43 1-25 1-4 1 14 1-17 0-25 1 19 1 9 1 16 1-18 0 1 1-6 1-2 1 15 1 6 0-19 1 24 1-22 1 28 1-39 0-10 1 20 1 34 1-21 1-80 0-154 1 24 1 40 1 58 1 48 0 59 1-32 1 35 1-38 1 0 0-7 1-14 1 32 1-22 1 6 0-6 1-32 1 45 1-24 1 9 0 6 1-18 1 4 1 2 1 17 0-17 1-9 1 1 1 12 1-7 0 24 1-40 1-23 1 8 1 18 0-5 1 21 1-34 1 18 1 13 0-32 1 37 1-6 1-7 1-5 0 4 1 30 1-21 1 31 1-36 0-14 1 21 1 13 1-14 1 37 0-24 1-16 1 19 1-24 1 19 0-5 1-3 1 24 1-25 1-2 1 30 1-21 1 14 1 27 1-25 1 11 1-2 1 22 0-29 1-1 1 25 1-36 1 51 0 6 1-6 1-22 1 53 1-19 0-4 1-20 1 54 1-2 1-14 0 23 1-2 1 1 1 6 1-5 0-19 1 35 1-20 1 7 1-9 0 20 1 5 1 0 1 21 1 10 0 2 1-26 1 16 1 11 1-4 0 34 1-17 1 6 1 26 1-45 0 7 1 3 1 27 1-8 1-3 0 20 1-11 1 7 1-19 1 32 0 10 1-5 1-16 1 25 1-13 0 14 1 22 1-22 1 1 1 23 0-57 1 15 1-11 1 10 1 8 0 1 1-16 1-7 1-19 1 15 0-1 1-10 1 9 1 7 1-16 0 18 1-37 1 3 1-11 1 4 0-31 1 24 1-10 1 24 1-9 0-29 1 35 1-23 1-9 1-7 0 6 1-26 1 3 1 1 1-14 0-20 1 22 1-37 1 10 1-22 0 15 1-14 1 8 1 19 1-40 0 16 1-12 1-19 1-19 1 31 0-30 1-10 1 7 1 13 1-34 0-24 1 4 1 20 1 3 1-49 0 25 1-25 1-16 1 7 1 2 0-19 1 1 1 6 1 21 1-11 0-37 1-7 1 42 1-51 1 3 0 10 1-3 1-17 1-35 1 8 0 13 1-2 1 2 1-2 1-30 0 33 1-24 1-4 1 2 1-21 0-7 1 14 1-11 1 7 1 11 1-17 1-10 1-6 1 9 1-48 1 8 1-3 1-9 0-16 1 39 1-15 1-34 1 21 0-4 1 15 1-34 1-14 1 14 0 22 1-29 1 4 1-5 1-6 0 11 1 18 1-22 1-6 1 9 0 34 1-30 1 2 1-23 1 24 0-25 1-14 1 22 1-28 1 17 0-16 1 31 1-9 1-9 1-22 0 30 1-38 1 2 1 18 1-18 0 32 1-46 1 42 1-15 1 11 0-49 1 30 1 16 1-21 1 10 0-15 1-10 1 25 1-33 1 36 0-23 1-12 1 27 1-20 1 26 0 5 1-1 1-30 1 53 1-24 0-17 1 28 1-21 1 17 1-26 0 24 1 6 1-4 1 12 1-7 0 22 1-44 1 32 1 3 1 4 0-22 1-1 1-16 1 27 1-4 0 26 1-4 1 6 1-29 1 35 0-38 1 11 1 25 1-35 1 15 0 27 1-24 1 12 1 21 1-10 0-32 1 33 1 2 1-5 1-11 0 55 1-6 1-25 1-23 1 25 0-30 1 30 1-4 1 25 1-43 0 27 1-31 1 58 1-20 1-22 0 13 1 13 1 0 1 7 1-9 1-22 0 45 1 17 1-27 1 2 1-15 0 17 1-3 1 45 1-65 1 3 0 23 1 4 1-41 1 13 1 27 0-13 1 24 1-7 1-15 1 49 0-53 1 3 1-8 1 32 1 29 0-31 1 18 1-47 1 47 1-3 0-2 1-17 1 9 1-15 1 15 0-10 1-12 1 14 1-7 1 44 0-51 1 15 1 18 1-13 1 15 0-22 1 18 1 0 1 2 1 8 0 8 1-27 1-3 1 9 1 0 0-16 1 0 1-4 1 4 1-1 0 37 1-3 1 2 1-24 1 32 0-17 1 24 1-24 1-2 1 3 0-10 1 38 1-29 1 10 1 30 0-45 1 32 1-2 1 28 1-22 0 40 1-39 1-13 1 45 1-59 0 44 1-18 1 39 1-11 1-23 0 28 1-12 1 7 1-1 1 14 0 11 1-6 1 8 1 14 1-43 0 17 1 35 1-13 1 6 1-42 0 27 1-27 1 37 1 4 1-18 0 20 1 24 1-26 1 4 1-4 0-2 1-4 1 44 1-21 1-2 0-16 1 13 1 29 1 9 1-11 0 2 1-2 1-15 1 10 1-20 0 30 1 8 1-8 1-19 1 32 0-2 1-20 1 28 1-16 1-1 0 16 1 17 1-11 1-4 1 12 0 7 1-19 1-12 1 13 1 33 0-22 1 1 1-26 1 41 1-2 0 22 1-6 1-22 1 31 1 3 0-18 1-6 1-2 1 7 1 18 0 6 1-13 1 17 1-5 1-13 0 14 1 10 1-5 1-5 1 20 0-24 1 20 1 20 1-25 1 42 0-32 1-7 1 9 1 36 1-3 0-54 1 40 1 8 1-13 1 4 0-14 1 2 1 22 1-33 1 36 0 10 1-10 1 12 1-8 1 4 0 29 1-39 1-4 1 19 1-20 0 23 1 38 1-48 1 19 1-10 0 30 1-7 1 6 1 13 1-19 0-17 1-7 1 41 1 17 1-55 0 14 1 32 1-37 1 13 1-1 0 29 1-25 1 27 1 2 1 2 0-8 1-27 1 26 1-7 1 12 0 6 1 5 1-14 1 21 1-6 0 21 1 12 1-29 1-7 1-13 0 47 1-18 1-35 1 27 1-14 0-7 1 15 1 3 1 19 1-19 0 28 1-38 1 28 1-4 1-14 0 3 1 0 1 18 1 9 1-12 0 8 1 18 1-13 1 3 1 9 0-9 1-27 1 6 1 51 1-37 0-14 1-20 1 50 1-16 1 14 0-1 1 17 1-1 1-4 1 3 0-17 1 6 1-4 1-18 1 31 0 37 1-22 1-17 1-17 1 12 1 20 1 6 1-3 1-36 0 30 1-14 1 25 1-21 1-6 0 34 1-11 1 15 1 23 1-40 0-10 1-6 1 31 1 0 1 12 0 12 1-32 1 0 1 25 1-44 0 46 1 0 1-28 1 9 1-21 0 39 1-34 1 21 1 9 1-12 0 15 1 18 1-11 1-21 1 22 0-26 1 35 1-25 1 16 1 11 0-2 1 0 1-6 1-12 1 11 0-3 1-5 1 9 1-16 1 26 0 1 1-18 1 38 1-15 1-9 0-29 1 4 1 40 1-7 1 20 0-46 1 29 1-18 1-17 1 8 0 4 1-15 1 24 1-2 1-6 0 7 1-7 1 0 1-6 1 2 0-7 1 31 1-24 1 14 1-18 0 14 1-7 1-9 1 11 1-28 0 34 1-6 1-4 1 1 1-26 0-1 1 7 1 6 1-8 1-12 0 14 1-11 1 23 1-38 1 24 0 3 1 12 1-14 1 11 1 15 0-30 1-10 1 30 1-22 1-7 0 35 1-46 1 23 1-20 1 1 0-14 1 17 1-14 1 6 1 17 0-6 1-29 1 34 1-31 1 37 0-1 1 14 1-21 1-27 1-3 0 21 1-12 1 0 1-15 1 20 0 21 1-24 1 0 1 4 1-7 0 24 1-54 1 32 1 2 1-11 0 12 1 1 1 1 1 9 1-48 0-2 1 22 1 20 1-10 1-13 0 36 1-15 1 22 1-38 1-15 0-5 1 9 1-3 1 8 1-21 1-15 0-3 1 36 1 8 1-48 1 15 0 6 1-6 1-49 1 45 1 16 0-26 1 19 1-8 1 8 1-27 0 33 1-20 1 5 1 15 1-36 0-3 1-4 1-6 1 23 1-1 0-18 1 22 1-36 1-6 1 10 0-4 1 22 1-20 1 23 1-21 0-9 1-4 1-1 1-2 1 33 0-27 1-4 1 9 1-38 1 44 0 5 1-15 1-7 1-23 1 1 0 6 1 9 1 37 1-72 1 29 0-24 1 13 1 25 1-14 1-23 0 26 1-19 1-1 1 1 1-17 0 13 1-19 1 20 1 0 1-11 0-40 1 44 1-40 1 56 1-30 0 12 1-34 1 3 1 25 1-25 0 10 1 9 1-20 1 14 1 3 0-23 1 26 1-48 1 21 1-10 0 11 1-7 1 3 1-22 1 19 0-10 1-13 1 28 1 22 1-38 0-2 1 19 1-12 1-11 1-4 1 0 1-8 1 11 1-27 0 6 1 27 1 18 1-20 1-15 0 21 1-46 1 2 1 19 1-13 0-14 1-9 1-2 1 36 1-41 0 11 1 19 1 11 1-11 1-25 0 8 1 10 1-17 1 16 1 6 0 1 1-36 1 4 1 21 1-16 0 36 1-34 1 10 1-31 1 37 0-36 1 4 1-7 1 21 1-5 0-8 1 1 1 27 1-31 1 20 0-21 1 5 1-6 1 11 1-17 0-12 1 35 1-18 1-9 1 16 0 3 1 2 1-46 1 43 1 11 0-42 1 9 1-4 1-12 1 31 0-5 1-25 1 5 1-19 1 19 0-2 1 18 1-7 1-11 1-11 0 6 1 11 1-43 1 46 1 23 0-46 1-9 1 9 1 17 1 19 0-23 1 6 1-22 1-13 1-12 0 43 1-24 1-17 1 27 1 1 0-34 1 0 1-4 1 18 1-19 0 28 1-9 1-4 1-5 1 21 0-18 1-3 1 29 1-22 1-16 0 2 1 6 1 28 1-22 1-41 0 18 1-5 1 11 1-4 1-18 0 28 1-8 1-15 1 21 1 5 0-24 1-4 1-4 1 9 1 6 0 3 1-29 1 1 1-4 1 10 0 37 1-38 1-3 1 38 1-33 0 20 1 16 1-4 1-56 1 56 0-42 1 17 1 11 1 5 1 3 0-1 1-12 1 16 1 21 1-22 0 4 1-16 1-5 1-33 1 41 0 29 1 11 1-63 1 2 1 45 0-28 1 15 1 16 1-9 1-8 0-18 1 16 1-6 1 14 1-1 0-4 1 12 1-13 1 5 1-12 0-1 1-1 1 16 1 19 1-14 0-5 1-22 1 18 1 2 1-20 0 4 1 20 1-5 1 23 1-13 0 2 1 12 1-24 1 12 1 2 0-10 1 36 1-18 1-4 1-5 1-22 1 43 1-25 1-9 0 60 1-13 1 9 1-39 1-6 0 22 1-6 1-11 1-19 1 36 0-8 1 3 1 42 1-26 1-12 0 8 1 24 1 4 1-15 1-2 0 7 1 15 1-14 1-6 1 28 0-37 1-5 1 22 1-4 1 16 0-13 1 33 1-38 1 35 1-14 0-17 1 12 1-5 1 24 1 22 0-50 1 12 1 44 1-27 1 2 0 8 1-20 1 16 1-8 1 7 0-8 1-3 1-10 1 37 1-2 0-19 1 9 1 15 1 1 1 0 0-41 1 24 1 9 1 16 1 26 0-29 1 3 1-1 1 16 1-12 0-8 1-3 1 0 1 2 1 24 0-26 1 15 1 21 1-6 1 1 0 6 1 29 1-39 1 11 1-27 0 17 1-10 1 13 1-11 1 16 0-18 1-8 1 31 1 10 1 0 0-24 1 22 1-12 1 21 1-22 0 32 1-35 1 16 1 6 1-8 0 10 1 20 1 2 1-2 1 0 0 4 1-27 1 5 1 6 1-7 0 4 1 20 1 3 1 12 1-26 0-4 1 16 1-5 1 6 1-18 0 19 1-23 1 16 1-17 1 59 0-33 1-12 1 26 1 0 1-5 0 10 1 6 1 7 1 1 1 19 0 6 1-15 1 15 1-6 1-37 1 6 0 20 1 2 1 19 1-29 1 7 0 8 1 3 1 17 1-20 1-5 0 4 1 37 1-32 1-16 1 1 0-22 1 23 1 31 1-25 1 8 0 22 1-6 1-11 1 8 1-40 0 36 1-1 1 15 1-4 1-5 0 3 1 17 1 11 1-15 1-7 0-7 1-11 1 6 1 39 1-39 0-27 1 38 1 2 1 6 1 24 0-25 1 3 1 25 1-39 1 5 0-13 1 1 1 2 1 7 1 11 0-22 1 35 1-8 1-38 1 37 0-3 1-26 1 34 1 8 1-30 0 15 1 0 1 10 1 29 1 12 0-46 1 40 1-37 1-1 1 37 0-29 1-4 1-16 1 22 1-1 0 12 1 7 1 1 1-42 1 41 0-9 1 17 1-23 1 1 1 7 0 18 1-24 1 11 1-15 1 15 0-22 1 49 1-16 1-11 1 29 0-31 1-19 1 50 1-2 1-38 0 13 1 10 1-31 1 18 1 13 0 22 1-19 1-11 1 0 1-19 0 26 1 4 1 8 1-16 1-5 0-2 1 22 1-35 1 23 1-22 0-2 1 16 1 13 1-37 1 10 0 22 1 7 1-6 1 11 1-14 0 6 1-15 1 12 1-20 1 33 0-29 1 27 1 17 1-46 1-11 0 21 1-26 1 9 1 5 1-26 0 16 1 17 1-20 1 19 1-12 0-19 1 47 1-39 1 0 1 13 0-54 1 74 1-10 1-2 1 5 0-3 1 12 1-32 1 22 1 0 0 1 1-17 1 6 1 8 1-30 0 33 1-15 1 10 1 10 1-47 0 7 1 20 1-24 1 15 1-15 0 22 1 9 1-14 1 33 1-50 0 10 1 24 1-4 1-25 1-3 0 19 1-30 1 15 1 13 1 21 0-4 1-35 1 25 1-9 1 14 0-12 1-9 1-4 1 43 1-4 0-35 1 2 1 5 1-29 1 23 0-36 1 44 1-16 1 5 1 0 0 4 1-26 1 8 1-2 1 12 0 21 1-10 1 2 1-14 1 14 0-12 1 10 1-39 1 30 1-34 0 31 1-1 1-11 1 12 1-13 0 4 1 4 1-27 1 21 1-11 0-10 1 33 1-19 1 1 1 16 0-19 1 3 1 26 1-31 1 8 0-18 1 36 1-26 1 20 1-12 0-6 1 9 1 2 1 16 1-45 0 62 1-58 1 36 1 6 1-34 0-3 1 27 1-8 1-22 1 15 1-27 1-1 1 22 1-1 0 4 1 16 1-5 1-1 1 17 0-40 1 41 1-35 1 0 1-13 0 7 1-8 1 6 1-6 1-21 0 20 1 37 1-21 1-29 1 5 0 23 1-17 1-9 1-17 1 3 0 16 1 10 1-14 1-11 1 21 0-15 1 3 1 16 1-6 1 10 0 5 1-14 1 28 1-55 1 54 0-26 1-14 1 46 1-70 1 36 0-23 1 36 1-5 1-10 1 25 0-51 1 25 1-15 1-1 1 25 0-66 1 8 1 23 1 14 1 7 0-23 1 18 1-22 1 14 1 5 0-10 1 15 1-31 1 2 1 23 0-19 1-10 1 22 1 5 1-1 0-3 1-22 1-3 1 4 1 48 0-39 1-21 1 12 1-7 1 22 0-8 1 20 1-51 1 19 1 18 0-3 1-9 1 34 1-44 1 8 0 9 1 10 1-32 1 20 1-22 0 19 1-10 1 16 1 14 1-42 0 11 1-10 1 12 1-12 1 5 0 36 1-36 1 6 1-27 1 20 0-1 1-47 1 52 1-4 1-11 0 2 1 1 1 18 1-16 1-6 0 16 1-29 1 36 1-45 1-30 0 41 1-5 1 10 1-5 1-2 0 6 1-30 1 9 1 24 1-25 0 25 1-32 1 7 1 12 1-26 0 36 1-26 1-14 1 15 1 12 0-2 1 5 1-24 1 13 1 10 0-17 1-9 1 12 1-22 1-14 0 46 1-15 1 22 1 9 1 6 0-24 1-28 1 31 1-16 1-6 0 24 1-52 1 6 1 6 1 17 0-1 1 17 1-32 1 19 1-23 0-9 1 23 1 22 1 5 1-30 1-26 0 22 1-20 1-2 1 42 1-19 0 16 1-28 1-5 1 26 1 6 0-22 1-14 1 2 1 31 1-21 0-29 1 0 1 38 1-35 1 26 0-24 1 4 1 41 1-31 1 18 0-35 1 8 1 27 1-40 1 20 0-20 1 31 1-14 1-6 1 47 0-36 1-21 1 12 1 6 1-13 0 23 1 18 1-41 1-6 1 24 0-36 1 27 1 12 1-33 1 34 0-9 1 10 1-18 1-28 1 39 0-11 1-15 1 5 1 1 1 7 0-29 1 26 1 2 1-32 1 40 0-20 1 7 1 10 1-13 1 18 0 38 1-59 1-3 1 25 1-16 0-26 1 22 1 9 1-21 1 14 0 25 1-16 1-11 1 7 1-7 0 15 1-9 1-9 1 13 1-21 0 14 1 16 1-20 1 2 1-9 0 2 1-22 1 23 1-14 1-2 0 22 1-10 1-8 1 24 1-17 0-19 1 11 1-9 1 36 1-46 0 34 1-1 1-17 1 8 1-1 0 14 1-23 1 51 1-23 1 11 0-42 1-12 1 44 1-25 1 14 0-8 1 3 1 3 1-2 1-62 0 66 1-21 1 5 1 7 1 9 0 6 1-13 1 7 1 5 1 7 0-15 1-15 1 29 1-5 1 10 0-16 1 9 1 19 1-33 1 8 0-6 1-4 1 4 1-9 1 13 0-10 1 28 1 24 1-34 1 17 0-12 1 10 1-17 1 0 1 7 0-7 1-1 1-13 1 35 1 17 0-23 1 2 1-4 1 1 1 0 0-20 1 18 1-9 1 9 1 30 0-37 1 1 1 34 1-48 1 10 0 41 1 0 1-37 1-15 1 44 0-46 1 5 1 29 1 2 1 1 0 23 1 8 1-35 1 3 1-1 0 13 1-2 1 12 1-32 1 19 0 25 1-23 1-21 1 4 1 5 0 7 1 27 1-33 1-11 1 16 0-13 1 8 1 5 1 9 1-32 0 23 1-28 1 52 1 27 1-55 0-4 1 26 1-31 1 43 1-28 1-12 1 21 1 13 1-19 0 11 1 19 1-11 1-14 1 41 0-41 1 7 1 15 1-9 1-7 0-12 1 42 1-6 1-19 1 2 0 3 1 6 1-11 1 25 1 13 0 16 1-43 1 21 1 17 1-52 0 37 1-15 1 1 1 24 1-16 0-19 1 7 1 25 1-6 1 25 0-4 1-13 1-19 1 20 1-2 0-19 1 15 1-17 1-1 1 34 0 12 1-32 1 27 1-27 1 24 0-1 1 9 1-9 1 37 1-34 0-44 1 32 1 8 1 1 1-7 0-10 1 5 1 25 1 5 1-20 0 11 1-5 1 15 1 19 1-35 0 20 1-3 1-16 1 37 1-16 0-9 1 20 1-22 1 18 1 1 0-12 1 11 1 0 1-27 1 13 0 7 1 22 1-28 1 33 1-50 0 34 1-30 1 35 1-18 1-8 0 4 1-10 1-9 1 34 1-11 0-1 1-15 1 38 1-12 1 9 0-28 1 5 1 7 1-37 1 50 0 5 1 4 1-29 1 30 1-16 0 19 1 3 1-33 1 5 1-9 0 2 1 10 1 3 1 18 1-23 0 5 1 1 1 14 1-41 1-15 0 56 1-46 1 37 1-22 1-1 0-1 1 20 1 18 1-60 1 17 0 38 1-18 1-37 1 36 1 4 0-38 1 13 1 22 1 19 1-42 0 2 1-8 1 48 1 17 1-36 0-18 1 14 1 3 1 7 1-6 0 2 1 16 1-20 1-3 1-13 0 7 1-25 1 39 1-2 1-29 0 62 1-44 1 2 1 13 1 12 0-28 1-17 1 23 1-29 1 13 0 6 1-9 1 12 1 9 1-10 0 5 1 6 1 0 1 3 1 21 0-12 1-8 1 17 1-2 1-34 0-15 1 12 1 24 1 0 1 12 0-40 1 24 1 13 1-56 1 30 0 15 1-29 1 35 1-9 1 1 0-23 1-2 1 6 1 18 1-11 0-4 1 6 1 18 1-18 1 16 0-50 1 29 1 3 1 10 1-13 1-13 0 13 1 18 1-6 1-5 1 13 0-9 1 1 1-11 1 7 1-18 0 1 1 4 1-36 1 29 1 2 0 10 1 9 1-7 1-13 1-25 0 51 1-10 1-5 1 2 1 3 0-16 1 37 1-49 1 29 1 16 0-38 1 33 1-15 1-12 1 9 0-4 1 4 1 36 1-33 1 28 0-31 1-19 1-2 1 20 1-14 0-3 1 32 1-25 1 4 1 28 0-6 1-14 1 6 1 20 1-21 0-21 1 39 1-12 1-1 1-9 0 7 1-5 1-35 1 10 1 39 0-13 1 7 1-7 1-10 1-16 0 22 1-8 1 12 1-21 1 15 0-2 1-9 1 2 1 30 1 5 0-33 1 15 1-17 1-2 1 9 0-13 1 35 1-38 1 34 1-30 0 26 1-38 1 30 1 14 1-8 0-17 1 14 1-10 1 5 1-4 0 17 1-9 1 12 1-7 1-2 0 11 1 15 1-55 1 8 1 2 0-8 1 32 1 14 1-66 1 20 0-18 1 17 1 33 1 13 1-25 0-38 1 40 1 4 1 13 1-27 0 2 1-12 1-4 1-3 1 38 0-36 1 21 1-14 1 1 1 21 0-13 1 13 1-55 1 42 1 17 0-25 1 17 1 12 1-39 1-4 0 25 1 10 1-20 1 17 1 1 0 1 1-5 1-11 1 3 1-10 0 32 1-14 1 1 1 6 1 17 0-25 1 3 1-32 1 13 1 23 0 13 1-12 1-22 1 15 1-19 0 28 1-37 1 14 1-3 1 15 0-15 1 25 1-15 1-6 1-12 0 23 1 27 1-32 1-8 1 4 0 24 1 3 1-28 1 10 1-9 0 28 1-52 1 47 1-21 1-10 0 20 1 13 1-12 1-3 1-6 0-12 1 11 1 19 1-5 1 27 0-51 1 13 1-1 1-22 1 29 0-19 1 26 1 1 1-18 1 5 0 6 1 7 1-30 1-10 1 18 0 17 1-14 1 19 1 8 1-4 0-11 1 7 1-22 1 19 1-13 0-10 1 23 1 19 1-24 1-18 0 22 1 4 1-26 1 8 1 8 0-8 1-5 1 6 1 7 1 5 0-20 1 1 1 6 1-2 1-9 0 32 1-50 1 15 1 40 1-15 0-19 1 1 1-13 1 18 1-26 0 50 1-26 1 6 1 9 1 7 0-9 1 5 1-18 1-2 1 4 0 21 1 6 1-5 1 1 1-41 0 23 1 21 1-18 1-8 1 26 0-2 1-34 1 4 1-6 1 17 0-19 1 25 1 1 1-6" transform="scale(0.25)" fill="none" stroke="#8d8f92" stroke-width="12.8" stroke-linejoin="round"/>
</g>
<path d="M727.0,1919.6 L739.0,1919.6 L733.0,1911.1 Z" fill="#231f20"/>
<rect x="714.7" y="1707.3" width="521.6" height="212.3" fill="none" stroke="#231f20" stroke-width="1.5"/>
<text x="733.0" y="1944.1" text-anchor="middle">0</text>
<line x1="863.2" y1="1919.6" x2="863.2" y2="1914.6" stroke="#231f20" stroke-width="1.2"/>
<line x1="863.2" y1="1707.3" x2="863.2" y2="1712.3" stroke="#231f20" stroke-width="1.2"/>
<text x="863.2" y="1944.1" text-anchor="middle">100</text>
<line x1="993.3" y1="1919.6" x2="993.3" y2="1914.6" stroke="#231f20" stroke-width="1.2"/>
<line x1="993.3" y1="1707.3" x2="993.3" y2="1712.3" stroke="#231f20" stroke-width="1.2"/>
<text x="993.3" y="1944.1" text-anchor="middle">200</text>
<line x1="1123.5" y1="1919.6" x2="1123.5" y2="1914.6" stroke="#231f20" stroke-width="1.2"/>
<line x1="1123.5" y1="1707.3" x2="1123.5" y2="1712.3" stroke="#231f20" stroke-width="1.2"/>
<text x="1123.5" y="1944.1" text-anchor="middle">300</text>
<line x1="714.7" y1="1728.5" x2="719.7" y2="1728.5" stroke="#231f20" stroke-width="1.2"/>
<line x1="1236.3" y1="1728.5" x2="1231.3" y2="1728.5" stroke="#231f20" stroke-width="1.2"/>
<text x="705.5" y="1735.5" text-anchor="end">30</text>
<line x1="714.7" y1="1771.0" x2="719.7" y2="1771.0" stroke="#231f20" stroke-width="1.2"/>
<line x1="1236.3" y1="1771.0" x2="1231.3" y2="1771.0" stroke="#231f20" stroke-width="1.2"/>
<text x="705.5" y="1778.0" text-anchor="end">20</text>
<line x1="714.7" y1="1813.5" x2="719.7" y2="1813.5" stroke="#231f20" stroke-width="1.2"/>
<line x1="1236.3" y1="1813.5" x2="1231.3" y2="1813.5" stroke="#231f20" stroke-width="1.2"/>
<text x="705.5" y="1820.5" text-anchor="end">10</text>
<line x1="714.7" y1="1855.9" x2="719.7" y2="1855.9" stroke="#231f20" stroke-width="1.2"/>
<line x1="1236.3" y1="1855.9" x2="1231.3" y2="1855.9" stroke="#231f20" stroke-width="1.2"/>
<text x="705.5" y="1862.9" text-anchor="end">5</text>
<line x1="714.7" y1="1898.4" x2="719.7" y2="1898.4" stroke="#231f20" stroke-width="1.2"/>
<line x1="1236.3" y1="1898.4" x2="1231.3" y2="1898.4" stroke="#231f20" stroke-width="1.2"/>
<text x="705.5" y="1905.4" text-anchor="end">0</text>
<text x="975.5" y="1694.2" text-anchor="middle" font-weight="bold" class="b">0.5 ms</text>
<text x="972.3" y="1969.3" text-anchor="middle">Time (ms)</text>
<text transform="translate(668.5,1813.5) rotate(-90)" text-anchor="middle">Stimulus (μA)</text>
<line x1="1169.0" y1="1723.3" x2="1169.0" y2="1793.4" stroke="#231f20" stroke-width="1.5"/>
<text x="1183.5" y="1748.4">1 mV</text>
<text x="1156.6" y="1858.8" fill="#939598" class="g">30 μA</text>
<rect x="1268.5" y="1707.3" width="40.2" height="214.8" fill="url(#g37)" stroke="#231f20" stroke-width="1.3"/>
<line x1="1268.5" y1="1747.0" x2="1271.5" y2="1747.0" stroke="#231f20" stroke-width="1.2"/>
<line x1="1308.7" y1="1747.0" x2="1305.7" y2="1747.0" stroke="#231f20" stroke-width="1.2"/>
<text x="1313.0" y="1754.0">1</text>
<line x1="1268.5" y1="1816.3" x2="1271.5" y2="1816.3" stroke="#231f20" stroke-width="1.2"/>
<line x1="1308.7" y1="1816.3" x2="1305.7" y2="1816.3" stroke="#231f20" stroke-width="1.2"/>
<text x="1313.0" y="1823.3">0</text>
<line x1="1268.5" y1="1885.6" x2="1271.5" y2="1885.6" stroke="#231f20" stroke-width="1.2"/>
<line x1="1308.7" y1="1885.6" x2="1305.7" y2="1885.6" stroke="#231f20" stroke-width="1.2"/>
<text x="1313.0" y="1892.6">−1</text>
<text x="1242.6" y="1944.2"><tspan textLength="76" lengthAdjust="spacingAndGlyphs">Mean ΔV</tspan><tspan font-size="16" dx="2" dy="9.5">m</tspan></text>
<rect x="714.7" y="2033.30" width="521.6" height="42.76" fill="url(#g38)"/>
<rect x="714.7" y="2075.76" width="521.6" height="42.76" fill="url(#g39)"/>
<rect x="714.7" y="2118.22" width="521.6" height="42.76" fill="url(#g40)"/>
<rect x="714.7" y="2160.68" width="521.6" height="42.76" fill="url(#g41)"/>
<rect x="714.7" y="2203.14" width="521.6" height="42.76" fill="url(#g42)"/>
<clipPath id="cp6"><rect x="714.7" y="2033.3" width="521.6" height="212.3"/></clipPath>
<line x1="733.0" y1="2033.3" x2="733.0" y2="2252.1" stroke="#8f9093" stroke-width="2.6"/>
<g clip-path="url(#cp6)">
<path d="M2859 8567l1 2 2 2 1-7 1 18 2-13 1 11 1-2 2 1 1 2 1 0 2 3 1 0 1 15 2-10 1 5 1 2 2-2 1-7 1 2 2-10 1-4 1 5 2-8 1-1 1 4 2-4 1 0 1 0 2 0 1 3 1-3 2-1 1-8 1 8 2 4 1-2 1 1 2 3 1-2 1 3 2 0 1 4 1-4 2 2 1-1 2-7 1 9 1-5 2-4 1-3 1 7 2-2 1-254 1-71 2 150 1 120 1-17 2-11 1-27 1-18 2-11 1-20 1-18 2-4 1 1 1-18 2-6 1-6 1-11 2-7 1 0 1-8 2 9 1 1 1 9 2 8 1 3 1 11 2 7 1 3 1 10 2 15 1 4 1 14 2 9 1 11 1 7 2 11 1 8 1 18 2 5 1 3 1 6 2 8 1-8 1 2 2 7 1 3 1 5 2 4 1 10 1-7 2 1 1 0 1 6 2 8 1-6 1 4 2 9 1 2 1 8 2-6 1 8 1 11 2-2 1 11 1-4 2 5 1 4 1 4 2 3 1 12 1 2 2 5 1-1 1 7 2-3 1 13 1 12 2-7 1 6 1-2 2 8 1 7 1 1 2 14 1-9 1 0 2 1 1 10 1 0 2 4 1 5 1-1 2 4 1-2 1 0 2-3 1 2 1-6 2-5 1-7 1-2 2-1 1 4 1-16 2 0 1-1 1-6 2-2 1-6 1 3 2-1 1-6 1-4 2 3 1 1 1 0 2-2 1-12 1 12 2-11 1 2 1-4 2 10 1-11 1 1 2-3 1 6 1-5 2-5 1 0 1-10 2-1 1 0 1-1 2-9 1-5 1-7 2 0 1-7 1-1 2-1 1-3 1-12 2 2 1-5 1-6 2-4 1-11 1 3 2-9 1-5 1 0 2-4 1-12 1-7 2 7 1-13 1-2 2-1 1 4 1 1 2 3 1-2 1 1 2 5 1 2 1-9 2 3 1 6 1-2 2 7 1-2 1 5 2-2 1 1 1-4 2 4 1 2 1-12 2 2 1 6 1-11 2 4 1-5 1-1 2-6 1 6 1-2 2-5 1 3 1-5 2-7 1-1 1 4 2 2 1-8 1 8 2-3 1-1 1-7 2 4 1-6 1 2 2-3 1 3 1 1 2 0 1-6 1 9 2 6 1-21 1 18 2-9 1-6 1 0 2 6 1 1 1-7 2 4 1 5 1-10 2-6 1-4 1-2 2-1 1-7 1-4 2-2 1-3 1-7 2-4 1-1 1-5 2 2 1-6 1-6 2-5 1-5 2 1 1-5 1 0 2-16 1-4 1 6 2-1 1-13 1-9 2-3 1-7 1-1 2-4 1-11 1 3 2-10 1 2 1-5 2-5 1-1 1-2 2-6 1-5 1 6 2-3 1-9 1 2 2-3 1 1 1-6 2-2 1-2 1-6 2 6 1-8 1 3 2-6 1 2 1-1 2 5 1-10 1-4 2 3 1 0 1-2 2 3 1-2 1-4 2 11 1-2 1 0 2 0 1 4 1-4 2 1 1-2 1 4 2-12 1 1 1-4 2 5 1-2 1 4 2 0 1-2 1 3 2-9 1 2 1 0 2 6 1-7 1 11 2 2 1-12 1 6 2-2 1 3 1-10 2 3 1 3 1 0 2-4 1-1 1-5 2 1 1 7 1-4 2 3 1 10 1 2 2 0 1 2 1 5 2-1 1 8 1 8 2 0 1 1 1 11 2 5 1-1 1 7 2 0 1 9 1 11 2 8 1 4 1 3 2 6 1-4 1-7 2 5 1 8 1-4 2 3 1 10 1-6 2-6 1 4 1 5 2 0 1 5 1-3 2 1 1 1 1 4 2 2 1-2 1 0 2 9 1-7 1 8 2 3 1 10 1 5 2 8 1-4 1 0 2 5 1 11 1 6 2 3 1 2 1 1 2 6 1-1 1 3 2 11 1 4 1-2 2 2 1 13 1-4 2 8 1 5 1-3 2 4 1 3 1-2 2 9 1 9 1-17 2 15 1 2 1 1 2-11 1 16 1 1 2 0 1 10 1 3 2 1 1-3 1 5 2 4 1 3 1-1 2 5 1 1 1-2 2 20 1-7 1 5 2 9 1 4 1 1 2-5 1 2 1 3 2 4 1 1 1 5 2 3 1 4 1-2 2 13 1-7 1 2 2 1 1-6 1 6 2 5 1 1 1 1 2 0 1-1 1 2 2 4 1-1 1-1 2 6 1-3 1 2 2 0 1 2 1 9 2-14 1 11 1 3 2 2 1-1 1 6 2-7 1 3 1-2 2-3 1 6 1 2 2 7 1 0 1-9 2 5 1-5 1 1 2-3 1-2 1 10 2-9 1 8 1 3 2 1 1-6 2 2 1-2 1 2 2-2 1 4 1-1 2-4 1 4 1 1 2-5 1 2 1 8 2-2 1-3 1 5 2 0 1-4 1-4 2-1 1 6 1-1 2-3 1 0 1 7 2-12 1 7 1 3 2-9 1 1 1-9 2 7 1 8 1-9 2 10 1-12 1 5 2 6 1-4 1-9 2 9 1-8 1 1 2 1 1 2 1 4 2-1 1-6 1-1 2 1 1-1 1 5 2-12 1 0 1 3 2 8 1 1 1-9 2 5 1-8 1-6 2 0 1-7 1-1 2 2 1-3 1-1 2-4 1 4 1-7 2-1 1-11 1 6 2 5 1-16 1 2 2 8 1-7 1-3 2-7 1-8 1-15 2-4 1-10 1-2 2-14 1-12 1-12 2-1 1-6 1-6 2-1 1-13 1-8 2-15 1-3 1 0 2-12 1-1 1-13 2-10 1 2 1-1 2-11 1-10 1-6 2 2 1-24 1 4 2-5 1-8 1-12 2 3 1 0 1-11 2 2 1-7 1-1 2 12 1-4 1 4 2 1 1-1 1 3 2-4 1-1 1 8 2 2 1 10 1 5 2 2 1-12 1 8 2 4 1 1 1-4 2-5 1 8 1-6 2 5 1-3 1-1 2-4 1-4 1-5 2 6 1 7 1-16 2 0 1-1 1-15 2-1 1-9 1-4 2-12 1-2 1-9 2-9 1-13 1-2 2-3 1 7 1 4 2-11 1-3 1 13 2-1 1-1 1 8 2-1 1-1 1-3 2-1 1 9 1-14 2 8 1 0 1 1 2-5 1 6 1-5 2 8 1-2 1-3 2-7 1 1 1-1 2 4 1-9 1 5 2-7 1 3 1-1 2 16 1-14 1 10 2-7 1 6 1 2 2 2 1-1 1 4 2 7 1-1 1 1 2 5 1 6 1 0 2 2 1 4 1-6 2 6 1-5 1-1 2 12 1-5 1 3 2-2 1 9 1 0 2-2 1 1 1 2 2-10 1 5 1-8 2 7 1-9 1 2 2-2 1-1 1-4 2-5 1 10 1-11 2 2 1 6 1 4 2 2 1-3 1 9 2-4 1 7 1-12 2 6 1 3 2 3 1 0 1 9 2-1 1 2 1 6 2-7 1 4 1 3 2-1 1-1 1 12 2 0 1-5 1-1 2 6 1 1 1 0 2 11 1-4 1 6 2-6 1-1 1 2 2 12 1 0 1 5 2-4 1 15 1-6 2 3 1 5 1 0 2-5 1 8 1 3 2 5 1-1 1 4 2 8 1-1 1 1 2 1 1-4 1 13 2 8 1-1 1 0 2-4 1 5 1 8 2-4 1 4 1 1 2-2 1 11 1-5 2-1 1 12 1-3 2 11 1 2 1-8 2 3 1 2 1 4 2 8 1-3 1 5 2 3 1 6 1-5 2-3 1 13 1-2 2 6 1-1 1 1 2-3 1 2 1 0 2 6 1 1 1 6 2 6 1-12 1 3 2-1 1 4 1 1 2-1 1-5 1 9 2-2 1 6 1-4 2 3 1 3 1-4 2 5 1 2 1 1 2 9 1 3 1-2 2-7 1 7 1 0 2 0 1-3 1 10 2-1 1 3 1-1 2 6 1 0 1 3 2-6 1 5 1 8 2 0 1-1 1 7 2 1 1 0 1 2 2 3 1 1 1 9 2-1 1 3 1 0 2 5 1-10 1 11 2-2 1 5 1 2 2-3 1-3 1 1 2-6 1 1 1 0 2-14 1 8 1 3 2-10 1-1 1 3 2-4 1 2 1-2 2-6 1 12 1-1 2-2 1 6 1 0 2-7 1-1 1 6 2-3 1 12 1-1 2 3 1 2 1 3 2-1 1-5 1-2 2 8 1-13 1 5 2-13 1-2 1 0 2 8 1-11 1 2 2-3 1-11 1 6 2-4 1-5 1-1 2 0 1-7 1 0 2 4 1 3 1-3 2-1 1-13 1 2 2-10 1 4 1-1 2 3 1 1 1 11 2-12 1 8 1-8 2-3 1 6 1 5 2-8 1 6 1-1 2-4 1 0 1 6 2-4 1-6 1 2 2-21 1 8 1-17 2-6 1 3 1-13 2 3 1-12 1 8 2-9 1-4 1-1 2 7 1-2 1-5 2-10 1-1 1 4 2-7 1 2 1-9 2 2 1 13 1-19 2 8 1-9 1 0 2 7 1-11 2 6 1-8 1 4 2-3 1-4 1-8 2 14 1-17 1-1 2-3 1-2 1-4 2-5 1 2 1 0 2-5 1-2 1 0 2 4 1-3 1-14 2 9 1-2 1-7 2 1 1-10 1 5 2-8 1 4 1-11 2 4 1-5 1-2 2-2 1-3 1-4 2-3 1 3 1 0 2 0 1-12 1 8 2 0 1-6 1 1 2-5 1-4 1-1 2 3 1 0 1-3 2-7 1 7 1-12 2 8 1-12 1 2 2 5 1-14 1 3 2 7 1 1 1 0 2-4 1 2 1-4 2 9 1 0 1-2 2 4 1 3 1-3 2 1 1 0 1-3 2-2 1 7 1-4 2 7 1-4 1-1 2-1 1 13 1-6 2-5 1 7 1-2 2-3 1-1 1-7 2 5 1 8 1-8 2-1 1 5 1-3 2 6 1-4 1-6 2 2 1 1 1 1 2-4 1 4 1 6 2-6 1-4 1 1 2 3 1-5 1 9 2-5 1 9 1-8 2 1 1 3 1-2 2 5 1 0 1-5 2 5 1-4 1 9 2-8 1 9 1 3 2 0 1-3 1 4 2 0 1-1 1 7 2-3 1-1 1-2 2 3 1 10 1-5 2 14 1 5 1-9 2 8 1-11 1 1 2 3 1 10 1-3 2 4 1-7 1 12 2 0 1 1 1 0 2-8 1 6 1 2 2-1 1 3 1 5 2-9 1-1 1 8 2-1 1 2 1 0 2 0 1-10 1 11 2-4 1 0 1-5 2 1 1-2 1-7 2 0 1 0 1 0 2 1 1 4 1-11 2 4 1 1 1 7 2 0 1 4 1-3 2 5 1-6 1 4 2 11 1-5 1 1 2-12 1 7 1 3 2 5 1 0 1-5 2-10 1-3 1 15 2-6 1-3 1 1 2 7 1-2 1-3 2 6 1-4 1 7 2 4 1-2 1 7 2 0 1 6 1 6 2 0 1 9 1-3 2-1 1 0 1-2 2 11 1-11 1 18 2 0 1 6 1 4 2-7 1 1 1 8 2-4 1 8 1-5 2 1 1 11 1-2 2-5 1 9 1 5 2-3 1-4 2-6 1 4 1-8 2 5 1 3 1-6 2 7 1-4 1 0 2-2 1 7 1-2 2-8 1 0 1 0 2-3 1-2 1 5 2-1 1 3 1-6 2 6 1-3 1-10 2-12 1 0 1-2 2-3 1-7 1-9 2-5 1-3 1 2 2 6 1 2 1-5 2 3 1 6 1 1 2 0 1 1 1 4 2 3 1-9 1 11 2 7 1-5 1 4 2 5 1 6 1-2 2 1 1 5 1 4 2 4 1 4 1-4 2-1 1 11 1 0 2 2 1 3 1 10 2 2 1-7 1-1 2 5 1-4 1 3 2-11 1 8 1-11 2 8 1-5 1-7 2-1 1-2 1 6 2-3 1-2 1 2 2-3 1 4 1-4 2-4 1 2 1 4 2 1 1-3 1-9 2 7 1 2 1-5 2 0 1 2 1 1 2-6 1 11 1-3 2-1 1-1 1 9 2 6 1-5 1 3 2 3 1-2 1 7 2-2 1 0 1 8 2-2 1 8 1 4 2-2 1 3 1 3 2-2 1 3 1 0 2 4 1 0 1 5 2 4 1-4 1 10 2 1 1-6 1-8 2 6 1-11 1 5 2 2 1-6 1-3 2 2 1-1 1 0 2 3 1-5 1 3 2 3 1-12 1 7 2-1 1 3 1-11 2 11 1-11 1-12 2 7 1-16 1 1 2-2 1-2 1 4 2-5 1 0 1 10 2-5 1 1 1 4 2-1 1-1 1-3 2 5 1 2 1-1 2-7 1 9 1-8 2 12 1-5 1 4 2 0 1 3 1 2 2-5 1-2 1 3 2 0 1-1 1 5 2-8 1-1 1 6 2 6 1-5 1 0 2-1 1 4 1-6 2-1 1 5 1 0 2-3 1 8 1-15 2-3 1 3 1 11 2-1 1-3 1-4 2-2 1-2 1-1 2 2 1-2 1 5 2-4 1 2 1 14 2 7 1-12 1 16 2-5 1-10 1 7 2 1 1-4 1 1 2 2 1 3 1 1 2 6 1 7 1-1 2-2 1-9 1 6 2 5 1 2 1 1 2 5 1-2 1-2 2 5 1-1 1 5 2 4 1 3 1 0 2 3 1-2 2-8 1 10 1-5 2 9 1 7 1-9 2 6 1-11 1 8 2 0 1 4 1 3 2 1 1-6 1 8 2-1 1-2 1 6 2-3 1 2 1 1 2-7 1 6 1-14 2 2 1-10 1 5 2-10 1-1 1 3 2-4 1-10 1 9 2-22 1 3 1-9 2-5 1 7 1 0 2-13 1 10 1 2 2-2 1-10 1 12 2-9 1-2 1 2 2 2 1-7 1-3 2-5 1 5" transform="scale(0.25)" fill="none" stroke="#8d8f92" stroke-width="6.4" stroke-linejoin="round"/>
</g>
<path d="M727.0,2245.6 L739.0,2245.6 L733.0,2237.1 Z" fill="#231f20"/>
<rect x="714.7" y="2033.3" width="521.6" height="212.3" fill="none" stroke="#231f20" stroke-width="1.5"/>
<text x="733.0" y="2270.1" text-anchor="middle">0</text>
<line x1="863.2" y1="2245.6" x2="863.2" y2="2240.6" stroke="#231f20" stroke-width="1.2"/>
<line x1="863.2" y1="2033.3" x2="863.2" y2="2038.3" stroke="#231f20" stroke-width="1.2"/>
<text x="863.2" y="2270.1" text-anchor="middle">100</text>
<line x1="993.3" y1="2245.6" x2="993.3" y2="2240.6" stroke="#231f20" stroke-width="1.2"/>
<line x1="993.3" y1="2033.3" x2="993.3" y2="2038.3" stroke="#231f20" stroke-width="1.2"/>
<text x="993.3" y="2270.1" text-anchor="middle">200</text>
<line x1="1123.5" y1="2245.6" x2="1123.5" y2="2240.6" stroke="#231f20" stroke-width="1.2"/>
<line x1="1123.5" y1="2033.3" x2="1123.5" y2="2038.3" stroke="#231f20" stroke-width="1.2"/>
<text x="1123.5" y="2270.1" text-anchor="middle">300</text>
<line x1="714.7" y1="2054.5" x2="719.7" y2="2054.5" stroke="#231f20" stroke-width="1.2"/>
<line x1="1236.3" y1="2054.5" x2="1231.3" y2="2054.5" stroke="#231f20" stroke-width="1.2"/>
<text x="705.5" y="2061.5" text-anchor="end">20</text>
<line x1="714.7" y1="2097.0" x2="719.7" y2="2097.0" stroke="#231f20" stroke-width="1.2"/>
<line x1="1236.3" y1="2097.0" x2="1231.3" y2="2097.0" stroke="#231f20" stroke-width="1.2"/>
<text x="705.5" y="2104.0" text-anchor="end">15</text>
<line x1="714.7" y1="2139.4" x2="719.7" y2="2139.4" stroke="#231f20" stroke-width="1.2"/>
<line x1="1236.3" y1="2139.4" x2="1231.3" y2="2139.4" stroke="#231f20" stroke-width="1.2"/>
<text x="705.5" y="2146.4" text-anchor="end">10</text>
<line x1="714.7" y1="2181.9" x2="719.7" y2="2181.9" stroke="#231f20" stroke-width="1.2"/>
<line x1="1236.3" y1="2181.9" x2="1231.3" y2="2181.9" stroke="#231f20" stroke-width="1.2"/>
<text x="705.5" y="2188.9" text-anchor="end">5</text>
<line x1="714.7" y1="2224.4" x2="719.7" y2="2224.4" stroke="#231f20" stroke-width="1.2"/>
<line x1="1236.3" y1="2224.4" x2="1231.3" y2="2224.4" stroke="#231f20" stroke-width="1.2"/>
<text x="705.5" y="2231.4" text-anchor="end">0</text>
<text x="975.5" y="2020.2" text-anchor="middle" font-weight="bold" class="b">0.5 ms</text>
<text x="972.3" y="2295.3" text-anchor="middle">Time (ms)</text>
<text transform="translate(668.5,2139.4) rotate(-90)" text-anchor="middle">Stimulus (μA)</text>
<line x1="1169.0" y1="2050.6" x2="1169.0" y2="2067.0" stroke="#231f20" stroke-width="1.5"/>
<text x="1183.5" y="2074.4">1 mV</text>
<text x="1156.6" y="2178.3" fill="#939598" class="g">20 μA</text>
<rect x="1268.5" y="2033.3" width="40.2" height="214.8" fill="url(#g43)" stroke="#231f20" stroke-width="1.3"/>
<line x1="1268.5" y1="2063.7" x2="1271.5" y2="2063.7" stroke="#231f20" stroke-width="1.2"/>
<line x1="1308.7" y1="2063.7" x2="1305.7" y2="2063.7" stroke="#231f20" stroke-width="1.2"/>
<text x="1313.0" y="2070.7">5</text>
<line x1="1268.5" y1="2141.2" x2="1271.5" y2="2141.2" stroke="#231f20" stroke-width="1.2"/>
<line x1="1308.7" y1="2141.2" x2="1305.7" y2="2141.2" stroke="#231f20" stroke-width="1.2"/>
<text x="1313.0" y="2148.2">0</text>
<line x1="1268.5" y1="2218.7" x2="1271.5" y2="2218.7" stroke="#231f20" stroke-width="1.2"/>
<line x1="1308.7" y1="2218.7" x2="1305.7" y2="2218.7" stroke="#231f20" stroke-width="1.2"/>
<text x="1313.0" y="2225.7">−5</text>
<text x="1242.6" y="2270.2"><tspan textLength="76" lengthAdjust="spacingAndGlyphs">Mean ΔV</tspan><tspan font-size="16" dx="2" dy="9.5">m</tspan></text>
<path d="M1509.2,260.4V235.5M1506.3,260.4h5.8M1506.3,235.5h5.8" stroke="#58b847" stroke-width="1.5" fill="none"/>
<path d="M1558.6,249.1V215.2M1555.7,249.1h5.8M1555.7,215.2h5.8" stroke="#58b847" stroke-width="1.5" fill="none"/>
<path d="M1608.0,226.5V183.6M1605.1,226.5h5.8M1605.1,183.6h5.8" stroke="#58b847" stroke-width="1.5" fill="none"/>
<path d="M1657.4,212.9V174.5M1654.5,212.9h5.8M1654.5,174.5h5.8" stroke="#58b847" stroke-width="1.5" fill="none"/>
<polyline points="1459.8,266.1 1509.2,249.1 1558.6,232.2 1608.0,207.3 1657.4,192.6" fill="none" stroke="#58b847" stroke-width="1.6"/>
<path d="M1509.2,263.8V240.1M1506.3,263.8h5.8M1506.3,240.1h5.8" stroke="#e5262c" stroke-width="1.5" fill="none"/>
<path d="M1558.6,262.7V212.9M1555.7,262.7h5.8M1555.7,212.9h5.8" stroke="#e5262c" stroke-width="1.5" fill="none"/>
<path d="M1608.0,251.4V185.8M1605.1,251.4h5.8M1605.1,185.8h5.8" stroke="#e5262c" stroke-width="1.5" fill="none"/>
<path d="M1657.4,228.8V151.9M1654.5,228.8h5.8M1654.5,151.9h5.8" stroke="#e5262c" stroke-width="1.5" fill="none"/>
<polyline points="1459.8,266.1 1509.2,252.5 1558.6,237.8 1608.0,218.6 1657.4,191.5" fill="none" stroke="#e5262c" stroke-width="1.6"/>
<path d="M1558.6,233.3V210.7M1555.7,233.3h5.8M1555.7,210.7h5.8" stroke="#2f509f" stroke-width="1.5" fill="none"/>
<path d="M1608.0,215.2V172.3M1605.1,215.2h5.8M1605.1,172.3h5.8" stroke="#2f509f" stroke-width="1.5" fill="none"/>
<path d="M1657.4,192.6V122.5M1654.5,192.6h5.8M1654.5,122.5h5.8" stroke="#2f509f" stroke-width="1.5" fill="none"/>
<path d="M1706.8,172.3V86.4M1703.9,172.3h5.8M1703.9,86.4h5.8" stroke="#2f509f" stroke-width="1.5" fill="none"/>
<polyline points="1459.8,266.1 1509.2,244.6 1558.6,224.2 1608.0,193.7 1657.4,157.6 1706.8,130.4" fill="none" stroke="#2f509f" stroke-width="1.6"/>
<path d="M1459.8,260.4 L1465.4,269.4 L1454.2,269.4 Z" fill="none" stroke="#58b847" stroke-width="1.6"/>
<path d="M1509.2,243.5 L1514.8,252.5 L1503.6,252.5 Z" fill="none" stroke="#58b847" stroke-width="1.6"/>
<path d="M1558.6,226.6 L1564.2,235.6 L1553.0,235.6 Z" fill="none" stroke="#58b847" stroke-width="1.6"/>
<path d="M1608.0,201.7 L1613.6,210.7 L1602.4,210.7 Z" fill="none" stroke="#58b847" stroke-width="1.6"/>
<path d="M1657.4,187.0 L1663.0,196.0 L1651.8,196.0 Z" fill="none" stroke="#58b847" stroke-width="1.6"/>
<circle cx="1459.8" cy="266.1" r="5.4" fill="none" stroke="#e5262c" stroke-width="1.6"/>
<circle cx="1509.2" cy="252.5" r="5.4" fill="none" stroke="#e5262c" stroke-width="1.6"/>
<circle cx="1558.6" cy="237.8" r="5.4" fill="none" stroke="#e5262c" stroke-width="1.6"/>
<circle cx="1608.0" cy="218.6" r="5.4" fill="none" stroke="#e5262c" stroke-width="1.6"/>
<circle cx="1657.4" cy="191.5" r="5.4" fill="none" stroke="#e5262c" stroke-width="1.6"/>
<path d="M1455.3,266.1h9.0M1459.8,261.6v9.0M1456.6,262.8l6.5,6.5M1456.6,269.3l6.5,-6.5" stroke="#2f509f" stroke-width="1.7" fill="none"/>
<path d="M1504.7,244.6h9.0M1509.2,240.1v9.0M1506.0,241.3l6.5,6.5M1506.0,247.8l6.5,-6.5" stroke="#2f509f" stroke-width="1.7" fill="none"/>
<path d="M1554.1,224.2h9.0M1558.6,219.7v9.0M1555.4,221.0l6.5,6.5M1555.4,227.5l6.5,-6.5" stroke="#2f509f" stroke-width="1.7" fill="none"/>
<path d="M1603.5,193.7h9.0M1608.0,189.2v9.0M1604.8,190.5l6.5,6.5M1604.8,197.0l6.5,-6.5" stroke="#2f509f" stroke-width="1.7" fill="none"/>
<path d="M1652.9,157.6h9.0M1657.4,153.1v9.0M1654.2,154.3l6.5,6.5M1654.2,160.8l6.5,-6.5" stroke="#2f509f" stroke-width="1.7" fill="none"/>
<path d="M1702.3,130.4h9.0M1706.8,125.9v9.0M1703.6,127.2l6.5,6.5M1703.6,133.7l6.5,-6.5" stroke="#2f509f" stroke-width="1.7" fill="none"/>
<path d="M1459.8,57.0V283.0H1726.0" fill="none" stroke="#231f20" stroke-width="1.6"/>
<text x="1452.3" y="290.0" text-anchor="end">0</text>
<line x1="1459.8" y1="237.8" x2="1461.6" y2="237.8" stroke="#231f20" stroke-width="1.3"/>
<text x="1452.3" y="244.8" text-anchor="end">0.2</text>
<line x1="1459.8" y1="192.6" x2="1461.6" y2="192.6" stroke="#231f20" stroke-width="1.3"/>
<text x="1452.3" y="199.6" text-anchor="end">0.4</text>
<line x1="1459.8" y1="147.4" x2="1461.6" y2="147.4" stroke="#231f20" stroke-width="1.3"/>
<text x="1452.3" y="154.4" text-anchor="end">0.6</text>
<line x1="1459.8" y1="102.2" x2="1461.6" y2="102.2" stroke="#231f20" stroke-width="1.3"/>
<text x="1452.3" y="109.2" text-anchor="end">0.8</text>
<line x1="1459.8" y1="57.0" x2="1461.6" y2="57.0" stroke="#231f20" stroke-width="1.3"/>
<text x="1452.3" y="64.0" text-anchor="end">1</text>
<text x="1459.8" y="306.4" text-anchor="middle">0</text>
<line x1="1558.6" y1="283.0" x2="1558.6" y2="278.0" stroke="#231f20" stroke-width="1.2"/>
<text x="1558.6" y="306.4" text-anchor="middle">10</text>
<line x1="1657.4" y1="283.0" x2="1657.4" y2="278.0" stroke="#231f20" stroke-width="1.2"/>
<text x="1657.4" y="306.4" text-anchor="middle">20</text>
<text x="1591.0" y="331.0" text-anchor="middle">Stimulus charge (nC)</text>
<text x="1592.6" y="43.3" text-anchor="middle">n = 3</text>
<line x1="1480.4" y1="81.0" x2="1538.9" y2="81.0" stroke="#2f509f" stroke-width="1.6"/>
<path d="M1505.9,81.0h9.0M1510.4,76.5v9.0M1507.2,77.8l6.5,6.5M1507.2,84.2l6.5,-6.5" stroke="#2f509f" stroke-width="1.7" fill="none"/>
<text x="1547.4" y="90.3">0.5</text>
<line x1="1480.4" y1="106.2" x2="1538.9" y2="106.2" stroke="#58b847" stroke-width="1.6"/>
<path d="M1510.4,100.6 L1516.0,109.6 L1504.8,109.6 Z" fill="none" stroke="#58b847" stroke-width="1.6"/>
<text x="1547.4" y="115.5">0.2</text>
<line x1="1480.4" y1="131.4" x2="1538.9" y2="131.4" stroke="#e5262c" stroke-width="1.6"/>
<circle cx="1510.4" cy="131.4" r="5.4" fill="none" stroke="#e5262c" stroke-width="1.6"/>
<text x="1547.4" y="140.7">0.1</text>
<text transform="translate(1392.6,170.0) rotate(-90)" text-anchor="middle">s<tspan font-size="15" dy="9.5">mean ΔV</tspan><tspan font-size="11.5" dy="8.5">m</tspan></text>
<path d="M1509.2,573.3V562.0M1506.3,573.3h5.8M1506.3,562.0h5.8" stroke="#58b847" stroke-width="1.5" fill="none"/>
<path d="M1558.6,568.8V553.0M1555.7,568.8h5.8M1555.7,553.0h5.8" stroke="#58b847" stroke-width="1.5" fill="none"/>
<path d="M1608.0,559.8V539.4M1605.1,559.8h5.8M1605.1,539.4h5.8" stroke="#58b847" stroke-width="1.5" fill="none"/>
<path d="M1657.4,541.7V521.4M1654.5,541.7h5.8M1654.5,521.4h5.8" stroke="#58b847" stroke-width="1.5" fill="none"/>
<polyline points="1459.8,584.6 1509.2,568.8 1558.6,561.1 1608.0,549.8 1657.4,531.3" fill="none" stroke="#58b847" stroke-width="1.6"/>
<path d="M1509.2,582.4V571.1M1506.3,582.4h5.8M1506.3,571.1h5.8" stroke="#e5262c" stroke-width="1.5" fill="none"/>
<path d="M1558.6,573.3V559.8M1555.7,573.3h5.8M1555.7,559.8h5.8" stroke="#e5262c" stroke-width="1.5" fill="none"/>
<path d="M1608.0,568.8V546.2M1605.1,568.8h5.8M1605.1,546.2h5.8" stroke="#e5262c" stroke-width="1.5" fill="none"/>
<path d="M1657.4,559.8V537.2M1654.5,559.8h5.8M1654.5,537.2h5.8" stroke="#e5262c" stroke-width="1.5" fill="none"/>
<polyline points="1459.8,584.6 1509.2,576.5 1558.6,566.6 1608.0,557.5 1657.4,548.5" fill="none" stroke="#e5262c" stroke-width="1.6"/>
<path d="M1558.6,557.5V529.0M1555.7,557.5h5.8M1555.7,529.0h5.8" stroke="#2f509f" stroke-width="1.5" fill="none"/>
<path d="M1608.0,546.2V514.6M1605.1,546.2h5.8M1605.1,514.6h5.8" stroke="#2f509f" stroke-width="1.5" fill="none"/>
<path d="M1657.4,516.8V470.3M1654.5,516.8h5.8M1654.5,470.3h5.8" stroke="#2f509f" stroke-width="1.5" fill="none"/>
<path d="M1706.8,488.4V401.6M1703.9,488.4h5.8M1703.9,401.6h5.8" stroke="#2f509f" stroke-width="1.5" fill="none"/>
<polyline points="1459.8,584.6 1509.2,564.3 1558.6,547.1 1608.0,531.3 1657.4,492.9 1706.8,445.4" fill="none" stroke="#2f509f" stroke-width="1.6"/>
<path d="M1459.8,579.0 L1465.4,588.0 L1454.2,588.0 Z" fill="none" stroke="#58b847" stroke-width="1.6"/>
<path d="M1509.2,563.2 L1514.8,572.2 L1503.6,572.2 Z" fill="none" stroke="#58b847" stroke-width="1.6"/>
<path d="M1558.6,555.5 L1564.2,564.5 L1553.0,564.5 Z" fill="none" stroke="#58b847" stroke-width="1.6"/>
<path d="M1608.0,544.2 L1613.6,553.2 L1602.4,553.2 Z" fill="none" stroke="#58b847" stroke-width="1.6"/>
<path d="M1657.4,525.7 L1663.0,534.7 L1651.8,534.7 Z" fill="none" stroke="#58b847" stroke-width="1.6"/>
<circle cx="1459.8" cy="584.6" r="5.4" fill="none" stroke="#e5262c" stroke-width="1.6"/>
<circle cx="1509.2" cy="576.5" r="5.4" fill="none" stroke="#e5262c" stroke-width="1.6"/>
<circle cx="1558.6" cy="566.6" r="5.4" fill="none" stroke="#e5262c" stroke-width="1.6"/>
<circle cx="1608.0" cy="557.5" r="5.4" fill="none" stroke="#e5262c" stroke-width="1.6"/>
<circle cx="1657.4" cy="548.5" r="5.4" fill="none" stroke="#e5262c" stroke-width="1.6"/>
<path d="M1455.3,584.6h9.0M1459.8,580.1v9.0M1456.6,581.4l6.5,6.5M1456.6,587.9l6.5,-6.5" stroke="#2f509f" stroke-width="1.7" fill="none"/>
<path d="M1504.7,564.3h9.0M1509.2,559.8v9.0M1506.0,561.1l6.5,6.5M1506.0,567.5l6.5,-6.5" stroke="#2f509f" stroke-width="1.7" fill="none"/>
<path d="M1554.1,547.1h9.0M1558.6,542.6v9.0M1555.4,543.9l6.5,6.5M1555.4,550.4l6.5,-6.5" stroke="#2f509f" stroke-width="1.7" fill="none"/>
<path d="M1603.5,531.3h9.0M1608.0,526.8v9.0M1604.8,528.1l6.5,6.5M1604.8,534.5l6.5,-6.5" stroke="#2f509f" stroke-width="1.7" fill="none"/>
<path d="M1652.9,492.9h9.0M1657.4,488.4v9.0M1654.2,489.6l6.5,6.5M1654.2,496.1l6.5,-6.5" stroke="#2f509f" stroke-width="1.7" fill="none"/>
<path d="M1702.3,445.4h9.0M1706.8,440.9v9.0M1703.6,442.2l6.5,6.5M1703.6,448.7l6.5,-6.5" stroke="#2f509f" stroke-width="1.7" fill="none"/>
<path d="M1459.8,383.5V609.5H1726.0" fill="none" stroke="#231f20" stroke-width="1.6"/>
<text x="1452.3" y="616.5" text-anchor="end">0</text>
<line x1="1459.8" y1="564.3" x2="1461.6" y2="564.3" stroke="#231f20" stroke-width="1.3"/>
<text x="1452.3" y="571.3" text-anchor="end">0.1</text>
<line x1="1459.8" y1="519.1" x2="1461.6" y2="519.1" stroke="#231f20" stroke-width="1.3"/>
<text x="1452.3" y="526.1" text-anchor="end">0.2</text>
<line x1="1459.8" y1="473.9" x2="1461.6" y2="473.9" stroke="#231f20" stroke-width="1.3"/>
<text x="1452.3" y="480.9" text-anchor="end">0.3</text>
<line x1="1459.8" y1="428.7" x2="1461.6" y2="428.7" stroke="#231f20" stroke-width="1.3"/>
<text x="1452.3" y="435.7" text-anchor="end">0.4</text>
<line x1="1459.8" y1="383.5" x2="1461.6" y2="383.5" stroke="#231f20" stroke-width="1.3"/>
<text x="1452.3" y="390.5" text-anchor="end">0.5</text>
<text x="1459.8" y="632.9" text-anchor="middle">0</text>
<line x1="1558.6" y1="609.5" x2="1558.6" y2="604.5" stroke="#231f20" stroke-width="1.2"/>
<text x="1558.6" y="632.9" text-anchor="middle">10</text>
<line x1="1657.4" y1="609.5" x2="1657.4" y2="604.5" stroke="#231f20" stroke-width="1.2"/>
<text x="1657.4" y="632.9" text-anchor="middle">20</text>
<text x="1591.0" y="657.5" text-anchor="middle">Stimulus charge (nC)</text>
<text x="1592.6" y="369.8" text-anchor="middle">n = 3</text>
<line x1="1480.4" y1="407.5" x2="1538.9" y2="407.5" stroke="#2f509f" stroke-width="1.6"/>
<path d="M1505.9,407.5h9.0M1510.4,403.0v9.0M1507.2,404.3l6.5,6.5M1507.2,410.7l6.5,-6.5" stroke="#2f509f" stroke-width="1.7" fill="none"/>
<text x="1547.4" y="416.8">0.5</text>
<line x1="1480.4" y1="432.7" x2="1538.9" y2="432.7" stroke="#58b847" stroke-width="1.6"/>
<path d="M1510.4,427.1 L1516.0,436.1 L1504.8,436.1 Z" fill="none" stroke="#58b847" stroke-width="1.6"/>
<text x="1547.4" y="442.0">0.2</text>
<line x1="1480.4" y1="457.9" x2="1538.9" y2="457.9" stroke="#e5262c" stroke-width="1.6"/>
<circle cx="1510.4" cy="457.9" r="5.4" fill="none" stroke="#e5262c" stroke-width="1.6"/>
<text x="1547.4" y="467.2">0.1</text>
<text transform="translate(1392.6,496.5) rotate(-90)" text-anchor="middle">s<tspan font-size="15" dy="9.5">mean ΔV</tspan><tspan font-size="11.5" dy="8.5">m</tspan></text>
<path d="M1572.4,917.4V910.2M1569.5,917.4h5.8M1569.5,910.2h5.8" stroke="#58b847" stroke-width="1.5" fill="none"/>
<path d="M1636.9,888.9V875.4M1634.0,888.9h5.8M1634.0,875.4h5.8" stroke="#58b847" stroke-width="1.5" fill="none"/>
<path d="M1701.4,841.9V813.5M1698.5,841.9h5.8M1698.5,813.5h5.8" stroke="#58b847" stroke-width="1.5" fill="none"/>
<polyline points="1443.4,924.2 1507.9,923.3 1572.4,913.8 1636.9,882.2 1701.4,827.9" fill="none" stroke="#58b847" stroke-width="1.6"/>
<path d="M1572.4,921.9V916.5M1569.5,921.9h5.8M1569.5,916.5h5.8" stroke="#e5262c" stroke-width="1.5" fill="none"/>
<path d="M1636.9,919.7V911.5M1634.0,919.7h5.8M1634.0,911.5h5.8" stroke="#e5262c" stroke-width="1.5" fill="none"/>
<path d="M1701.4,908.4V891.2M1698.5,908.4h5.8M1698.5,891.2h5.8" stroke="#e5262c" stroke-width="1.5" fill="none"/>
<polyline points="1443.4,924.2 1507.9,921.9 1572.4,919.7 1636.9,916.1 1701.4,900.2" fill="none" stroke="#e5262c" stroke-width="1.6"/>
<path d="M1572.4,883.5V859.6M1569.5,883.5h5.8M1569.5,859.6h5.8" stroke="#2f509f" stroke-width="1.5" fill="none"/>
<path d="M1636.9,806.7V794.5M1634.0,806.7h5.8M1634.0,794.5h5.8" stroke="#2f509f" stroke-width="1.5" fill="none"/>
<path d="M1701.4,780.9V728.5M1698.5,780.9h5.8M1698.5,728.5h5.8" stroke="#2f509f" stroke-width="1.5" fill="none"/>
<polyline points="1443.4,922.8 1507.9,913.8 1572.4,873.1 1636.9,802.2 1701.4,754.7" fill="none" stroke="#2f509f" stroke-width="1.6"/>
<path d="M1443.4,918.6 L1449.0,927.6 L1437.8,927.6 Z" fill="none" stroke="#58b847" stroke-width="1.6"/>
<path d="M1507.9,917.7 L1513.5,926.7 L1502.3,926.7 Z" fill="none" stroke="#58b847" stroke-width="1.6"/>
<path d="M1572.4,908.2 L1578.0,917.2 L1566.8,917.2 Z" fill="none" stroke="#58b847" stroke-width="1.6"/>
<path d="M1636.9,876.6 L1642.5,885.6 L1631.3,885.6 Z" fill="none" stroke="#58b847" stroke-width="1.6"/>
<path d="M1701.4,822.3 L1707.0,831.3 L1695.8,831.3 Z" fill="none" stroke="#58b847" stroke-width="1.6"/>
<circle cx="1443.4" cy="924.2" r="5.4" fill="none" stroke="#e5262c" stroke-width="1.6"/>
<circle cx="1507.9" cy="921.9" r="5.4" fill="none" stroke="#e5262c" stroke-width="1.6"/>
<circle cx="1572.4" cy="919.7" r="5.4" fill="none" stroke="#e5262c" stroke-width="1.6"/>
<circle cx="1636.9" cy="916.1" r="5.4" fill="none" stroke="#e5262c" stroke-width="1.6"/>
<circle cx="1701.4" cy="900.2" r="5.4" fill="none" stroke="#e5262c" stroke-width="1.6"/>
<path d="M1438.9,922.8h9.0M1443.4,918.3v9.0M1440.2,919.6l6.5,6.5M1440.2,926.1l6.5,-6.5" stroke="#2f509f" stroke-width="1.7" fill="none"/>
<path d="M1503.4,913.8h9.0M1507.9,909.3v9.0M1504.7,910.6l6.5,6.5M1504.7,917.0l6.5,-6.5" stroke="#2f509f" stroke-width="1.7" fill="none"/>
<path d="M1567.9,873.1h9.0M1572.4,868.6v9.0M1569.2,869.9l6.5,6.5M1569.2,876.4l6.5,-6.5" stroke="#2f509f" stroke-width="1.7" fill="none"/>
<path d="M1632.4,802.2h9.0M1636.9,797.7v9.0M1633.7,798.9l6.5,6.5M1633.7,805.4l6.5,-6.5" stroke="#2f509f" stroke-width="1.7" fill="none"/>
<path d="M1696.9,754.7h9.0M1701.4,750.2v9.0M1698.2,751.5l6.5,6.5M1698.2,757.9l6.5,-6.5" stroke="#2f509f" stroke-width="1.7" fill="none"/>
<path d="M1443.4,709.5V935.5H1727.0" fill="none" stroke="#231f20" stroke-width="1.6"/>
<text x="1435.9" y="942.5" text-anchor="end">0</text>
<line x1="1443.4" y1="890.3" x2="1445.2" y2="890.3" stroke="#231f20" stroke-width="1.3"/>
<text x="1435.9" y="897.3" text-anchor="end">1</text>
<line x1="1443.4" y1="845.1" x2="1445.2" y2="845.1" stroke="#231f20" stroke-width="1.3"/>
<text x="1435.9" y="852.1" text-anchor="end">2</text>
<line x1="1443.4" y1="799.9" x2="1445.2" y2="799.9" stroke="#231f20" stroke-width="1.3"/>
<text x="1435.9" y="806.9" text-anchor="end">3</text>
<line x1="1443.4" y1="754.7" x2="1445.2" y2="754.7" stroke="#231f20" stroke-width="1.3"/>
<text x="1435.9" y="761.7" text-anchor="end">4</text>
<line x1="1443.4" y1="709.5" x2="1445.2" y2="709.5" stroke="#231f20" stroke-width="1.3"/>
<text x="1435.9" y="716.5" text-anchor="end">5</text>
<text x="1443.4" y="958.9" text-anchor="middle">0</text>
<line x1="1572.4" y1="935.5" x2="1572.4" y2="930.5" stroke="#231f20" stroke-width="1.2"/>
<text x="1572.4" y="958.9" text-anchor="middle">10</text>
<line x1="1701.4" y1="935.5" x2="1701.4" y2="930.5" stroke="#231f20" stroke-width="1.2"/>
<text x="1701.4" y="958.9" text-anchor="middle">20</text>
<text x="1582.5" y="983.5" text-anchor="middle">Stimulus charge (nC)</text>
<text x="1585.0" y="695.8" text-anchor="middle">n = 3</text>
<line x1="1464.0" y1="733.5" x2="1522.5" y2="733.5" stroke="#2f509f" stroke-width="1.6"/>
<path d="M1489.5,733.5h9.0M1494.0,729.0v9.0M1490.8,730.3l6.5,6.5M1490.8,736.7l6.5,-6.5" stroke="#2f509f" stroke-width="1.7" fill="none"/>
<text x="1531.0" y="742.8">0.5</text>
<line x1="1464.0" y1="758.7" x2="1522.5" y2="758.7" stroke="#58b847" stroke-width="1.6"/>
<path d="M1494.0,753.1 L1499.6,762.1 L1488.4,762.1 Z" fill="none" stroke="#58b847" stroke-width="1.6"/>
<text x="1531.0" y="768.0">0.2</text>
<line x1="1464.0" y1="783.9" x2="1522.5" y2="783.9" stroke="#e5262c" stroke-width="1.6"/>
<circle cx="1494.0" cy="783.9" r="5.4" fill="none" stroke="#e5262c" stroke-width="1.6"/>
<text x="1531.0" y="793.2">0.1</text>
<text transform="translate(1392.6,822.5) rotate(-90)" text-anchor="middle">s<tspan font-size="15" dy="9.5">mean ΔV</tspan><tspan font-size="11.5" dy="8.5">m</tspan></text>
<path d="M1459.8,1238.2V1215.6M1456.9,1238.2h5.8M1456.9,1215.6h5.8" stroke="#58b847" stroke-width="1.5" fill="none"/>
<path d="M1509.2,1226.9V1194.1M1506.3,1226.9h5.8M1506.3,1194.1h5.8" stroke="#58b847" stroke-width="1.5" fill="none"/>
<path d="M1558.6,1212.8V1171.5M1555.7,1212.8h5.8M1555.7,1171.5h5.8" stroke="#58b847" stroke-width="1.5" fill="none"/>
<path d="M1608.0,1197.0V1150.6M1605.1,1197.0h5.8M1605.1,1150.6h5.8" stroke="#58b847" stroke-width="1.5" fill="none"/>
<path d="M1657.4,1168.7V1130.8M1654.5,1168.7h5.8M1654.5,1130.8h5.8" stroke="#58b847" stroke-width="1.5" fill="none"/>
<polyline points="1459.8,1226.9 1509.2,1211.1 1558.6,1193.0 1608.0,1173.2 1657.4,1149.5" fill="none" stroke="#58b847" stroke-width="1.6"/>
<path d="M1459.8,1235.4V1216.7M1456.9,1235.4h5.8M1456.9,1216.7h5.8" stroke="#e5262c" stroke-width="1.5" fill="none"/>
<path d="M1509.2,1226.9V1212.8M1506.3,1226.9h5.8M1506.3,1212.8h5.8" stroke="#e5262c" stroke-width="1.5" fill="none"/>
<path d="M1558.6,1224.1V1208.8M1555.7,1224.1h5.8M1555.7,1208.8h5.8" stroke="#e5262c" stroke-width="1.5" fill="none"/>
<path d="M1608.0,1211.6V1206.0M1605.1,1211.6h5.8M1605.1,1206.0h5.8" stroke="#e5262c" stroke-width="1.5" fill="none"/>
<path d="M1657.4,1199.8V1195.8M1654.5,1199.8h5.8M1654.5,1195.8h5.8" stroke="#e5262c" stroke-width="1.5" fill="none"/>
<polyline points="1459.8,1226.9 1509.2,1220.1 1558.6,1216.7 1608.0,1208.8 1657.4,1197.5" fill="none" stroke="#e5262c" stroke-width="1.6"/>
<path d="M1558.6,1204.3V1173.2M1555.7,1204.3h5.8M1555.7,1173.2h5.8" stroke="#2f509f" stroke-width="1.5" fill="none"/>
<path d="M1608.0,1182.8V1150.6M1605.1,1182.8h5.8M1605.1,1150.6h5.8" stroke="#2f509f" stroke-width="1.5" fill="none"/>
<path d="M1657.4,1167.6V1128.0M1654.5,1167.6h5.8M1654.5,1128.0h5.8" stroke="#2f509f" stroke-width="1.5" fill="none"/>
<path d="M1706.8,1132.0V1078.3M1703.9,1132.0h5.8M1703.9,1078.3h5.8" stroke="#2f509f" stroke-width="1.5" fill="none"/>
<polyline points="1459.8,1226.9 1509.2,1207.1 1558.6,1188.5 1608.0,1167.6 1657.4,1147.8 1706.8,1105.4" fill="none" stroke="#2f509f" stroke-width="1.6"/>
<path d="M1459.8,1221.3 L1465.4,1230.3 L1454.2,1230.3 Z" fill="none" stroke="#58b847" stroke-width="1.6"/>
<path d="M1509.2,1205.5 L1514.8,1214.5 L1503.6,1214.5 Z" fill="none" stroke="#58b847" stroke-width="1.6"/>
<path d="M1558.6,1187.4 L1564.2,1196.4 L1553.0,1196.4 Z" fill="none" stroke="#58b847" stroke-width="1.6"/>
<path d="M1608.0,1167.6 L1613.6,1176.6 L1602.4,1176.6 Z" fill="none" stroke="#58b847" stroke-width="1.6"/>
<path d="M1657.4,1143.9 L1663.0,1152.9 L1651.8,1152.9 Z" fill="none" stroke="#58b847" stroke-width="1.6"/>
<circle cx="1459.8" cy="1226.9" r="5.4" fill="none" stroke="#e5262c" stroke-width="1.6"/>
<circle cx="1509.2" cy="1220.1" r="5.4" fill="none" stroke="#e5262c" stroke-width="1.6"/>
<circle cx="1558.6" cy="1216.7" r="5.4" fill="none" stroke="#e5262c" stroke-width="1.6"/>
<circle cx="1608.0" cy="1208.8" r="5.4" fill="none" stroke="#e5262c" stroke-width="1.6"/>
<circle cx="1657.4" cy="1197.5" r="5.4" fill="none" stroke="#e5262c" stroke-width="1.6"/>
<path d="M1455.3,1226.9h9.0M1459.8,1222.4v9.0M1456.6,1223.7l6.5,6.5M1456.6,1230.1l6.5,-6.5" stroke="#2f509f" stroke-width="1.7" fill="none"/>
<path d="M1504.7,1207.1h9.0M1509.2,1202.6v9.0M1506.0,1203.9l6.5,6.5M1506.0,1210.4l6.5,-6.5" stroke="#2f509f" stroke-width="1.7" fill="none"/>
<path d="M1554.1,1188.5h9.0M1558.6,1184.0v9.0M1555.4,1185.2l6.5,6.5M1555.4,1191.7l6.5,-6.5" stroke="#2f509f" stroke-width="1.7" fill="none"/>
<path d="M1603.5,1167.6h9.0M1608.0,1163.1v9.0M1604.8,1164.3l6.5,6.5M1604.8,1170.8l6.5,-6.5" stroke="#2f509f" stroke-width="1.7" fill="none"/>
<path d="M1652.9,1147.8h9.0M1657.4,1143.3v9.0M1654.2,1144.6l6.5,6.5M1654.2,1151.0l6.5,-6.5" stroke="#2f509f" stroke-width="1.7" fill="none"/>
<path d="M1702.3,1105.4h9.0M1706.8,1100.9v9.0M1703.6,1102.2l6.5,6.5M1703.6,1108.7l6.5,-6.5" stroke="#2f509f" stroke-width="1.7" fill="none"/>
<path d="M1459.8,1034.8V1260.8H1726.0" fill="none" stroke="#231f20" stroke-width="1.6"/>
<text x="1452.3" y="1267.8" text-anchor="end">0</text>
<line x1="1459.8" y1="1204.3" x2="1461.6" y2="1204.3" stroke="#231f20" stroke-width="1.3"/>
<text x="1452.3" y="1211.3" text-anchor="end">0.1</text>
<line x1="1459.8" y1="1147.8" x2="1461.6" y2="1147.8" stroke="#231f20" stroke-width="1.3"/>
<text x="1452.3" y="1154.8" text-anchor="end">0.2</text>
<line x1="1459.8" y1="1091.3" x2="1461.6" y2="1091.3" stroke="#231f20" stroke-width="1.3"/>
<text x="1452.3" y="1098.3" text-anchor="end">0.3</text>
<line x1="1459.8" y1="1034.8" x2="1461.6" y2="1034.8" stroke="#231f20" stroke-width="1.3"/>
<text x="1452.3" y="1041.8" text-anchor="end">0.4</text>
<text x="1459.8" y="1284.2" text-anchor="middle">0</text>
<line x1="1558.6" y1="1260.8" x2="1558.6" y2="1255.8" stroke="#231f20" stroke-width="1.2"/>
<text x="1558.6" y="1284.2" text-anchor="middle">10</text>
<line x1="1657.4" y1="1260.8" x2="1657.4" y2="1255.8" stroke="#231f20" stroke-width="1.2"/>
<text x="1657.4" y="1284.2" text-anchor="middle">20</text>
<text x="1591.0" y="1308.8" text-anchor="middle">Stimulus charge (nC)</text>
<text x="1592.6" y="1021.1" text-anchor="middle">n = 3</text>
<line x1="1480.4" y1="1058.8" x2="1538.9" y2="1058.8" stroke="#2f509f" stroke-width="1.6"/>
<path d="M1505.9,1058.8h9.0M1510.4,1054.3v9.0M1507.2,1055.6l6.5,6.5M1507.2,1062.0l6.5,-6.5" stroke="#2f509f" stroke-width="1.7" fill="none"/>
<text x="1547.4" y="1068.1">0.5</text>
<line x1="1480.4" y1="1084.0" x2="1538.9" y2="1084.0" stroke="#58b847" stroke-width="1.6"/>
<path d="M1510.4,1078.4 L1516.0,1087.4 L1504.8,1087.4 Z" fill="none" stroke="#58b847" stroke-width="1.6"/>
<text x="1547.4" y="1093.3">0.2</text>
<line x1="1480.4" y1="1109.2" x2="1538.9" y2="1109.2" stroke="#e5262c" stroke-width="1.6"/>
<circle cx="1510.4" cy="1109.2" r="5.4" fill="none" stroke="#e5262c" stroke-width="1.6"/>
<text x="1547.4" y="1118.5">0.1</text>
<text transform="translate(1392.6,1147.8) rotate(-90)" text-anchor="middle">s<tspan font-size="15" dy="9.5">mean ΔV</tspan><tspan font-size="11.5" dy="8.5">m</tspan></text>
<path d="M1558.6,1538.2V1524.0M1555.7,1538.2h5.8M1555.7,1524.0h5.8" stroke="#58b847" stroke-width="1.5" fill="none"/>
<path d="M1608.0,1498.6V1466.1M1605.1,1498.6h5.8M1605.1,1466.1h5.8" stroke="#58b847" stroke-width="1.5" fill="none"/>
<path d="M1657.4,1476.0V1439.3M1654.5,1476.0h5.8M1654.5,1439.3h5.8" stroke="#58b847" stroke-width="1.5" fill="none"/>
<polyline points="1459.8,1562.2 1509.2,1552.3 1558.6,1531.1 1608.0,1481.7 1657.4,1457.6" fill="none" stroke="#58b847" stroke-width="1.6"/>
<path d="M1657.4,1478.8V1456.2M1654.5,1478.8h5.8M1654.5,1456.2h5.8" stroke="#e5262c" stroke-width="1.5" fill="none"/>
<polyline points="1459.8,1565.0 1509.2,1559.3 1558.6,1553.7 1608.0,1511.3 1657.4,1466.1" fill="none" stroke="#e5262c" stroke-width="1.6"/>
<path d="M1558.6,1532.5V1508.5M1555.7,1532.5h5.8M1555.7,1508.5h5.8" stroke="#2f509f" stroke-width="1.5" fill="none"/>
<path d="M1608.0,1507.1V1470.3M1605.1,1507.1h5.8M1605.1,1470.3h5.8" stroke="#2f509f" stroke-width="1.5" fill="none"/>
<path d="M1657.4,1484.5V1432.2M1654.5,1484.5h5.8M1654.5,1432.2h5.8" stroke="#2f509f" stroke-width="1.5" fill="none"/>
<path d="M1706.8,1444.9V1367.2M1703.9,1444.9h5.8M1703.9,1367.2h5.8" stroke="#2f509f" stroke-width="1.5" fill="none"/>
<polyline points="1459.8,1557.9 1509.2,1539.6 1558.6,1521.2 1608.0,1488.7 1657.4,1456.2 1706.8,1406.8" fill="none" stroke="#2f509f" stroke-width="1.6"/>
<path d="M1459.8,1556.6 L1465.4,1565.6 L1454.2,1565.6 Z" fill="none" stroke="#58b847" stroke-width="1.6"/>
<path d="M1509.2,1546.7 L1514.8,1555.7 L1503.6,1555.7 Z" fill="none" stroke="#58b847" stroke-width="1.6"/>
<path d="M1558.6,1525.5 L1564.2,1534.5 L1553.0,1534.5 Z" fill="none" stroke="#58b847" stroke-width="1.6"/>
<path d="M1608.0,1476.1 L1613.6,1485.1 L1602.4,1485.1 Z" fill="none" stroke="#58b847" stroke-width="1.6"/>
<path d="M1657.4,1452.0 L1663.0,1461.0 L1651.8,1461.0 Z" fill="none" stroke="#58b847" stroke-width="1.6"/>
<circle cx="1459.8" cy="1565.0" r="5.4" fill="none" stroke="#e5262c" stroke-width="1.6"/>
<circle cx="1509.2" cy="1559.3" r="5.4" fill="none" stroke="#e5262c" stroke-width="1.6"/>
<circle cx="1558.6" cy="1553.7" r="5.4" fill="none" stroke="#e5262c" stroke-width="1.6"/>
<circle cx="1608.0" cy="1511.3" r="5.4" fill="none" stroke="#e5262c" stroke-width="1.6"/>
<circle cx="1657.4" cy="1466.1" r="5.4" fill="none" stroke="#e5262c" stroke-width="1.6"/>
<path d="M1455.3,1557.9h9.0M1459.8,1553.4v9.0M1456.6,1554.7l6.5,6.5M1456.6,1561.2l6.5,-6.5" stroke="#2f509f" stroke-width="1.7" fill="none"/>
<path d="M1504.7,1539.6h9.0M1509.2,1535.1v9.0M1506.0,1536.3l6.5,6.5M1506.0,1542.8l6.5,-6.5" stroke="#2f509f" stroke-width="1.7" fill="none"/>
<path d="M1554.1,1521.2h9.0M1558.6,1516.7v9.0M1555.4,1518.0l6.5,6.5M1555.4,1524.4l6.5,-6.5" stroke="#2f509f" stroke-width="1.7" fill="none"/>
<path d="M1603.5,1488.7h9.0M1608.0,1484.2v9.0M1604.8,1485.5l6.5,6.5M1604.8,1492.0l6.5,-6.5" stroke="#2f509f" stroke-width="1.7" fill="none"/>
<path d="M1652.9,1456.2h9.0M1657.4,1451.7v9.0M1654.2,1453.0l6.5,6.5M1654.2,1459.5l6.5,-6.5" stroke="#2f509f" stroke-width="1.7" fill="none"/>
<path d="M1702.3,1406.8h9.0M1706.8,1402.3v9.0M1703.6,1403.5l6.5,6.5M1703.6,1410.0l6.5,-6.5" stroke="#2f509f" stroke-width="1.7" fill="none"/>
<path d="M1459.8,1363.0V1589.0H1726.0" fill="none" stroke="#231f20" stroke-width="1.6"/>
<text x="1452.3" y="1596.0" text-anchor="end">0</text>
<line x1="1459.8" y1="1532.5" x2="1461.6" y2="1532.5" stroke="#231f20" stroke-width="1.3"/>
<text x="1452.3" y="1539.5" text-anchor="end">0.2</text>
<line x1="1459.8" y1="1476.0" x2="1461.6" y2="1476.0" stroke="#231f20" stroke-width="1.3"/>
<text x="1452.3" y="1483.0" text-anchor="end">0.4</text>
<line x1="1459.8" y1="1419.5" x2="1461.6" y2="1419.5" stroke="#231f20" stroke-width="1.3"/>
<text x="1452.3" y="1426.5" text-anchor="end">0.6</text>
<line x1="1459.8" y1="1363.0" x2="1461.6" y2="1363.0" stroke="#231f20" stroke-width="1.3"/>
<text x="1452.3" y="1370.0" text-anchor="end">0.8</text>
<text x="1459.8" y="1612.4" text-anchor="middle">0</text>
<line x1="1558.6" y1="1589.0" x2="1558.6" y2="1584.0" stroke="#231f20" stroke-width="1.2"/>
<text x="1558.6" y="1612.4" text-anchor="middle">10</text>
<line x1="1657.4" y1="1589.0" x2="1657.4" y2="1584.0" stroke="#231f20" stroke-width="1.2"/>
<text x="1657.4" y="1612.4" text-anchor="middle">20</text>
<text x="1591.0" y="1637.0" text-anchor="middle">Stimulus charge (nC)</text>
<text x="1592.6" y="1349.3" text-anchor="middle">n = 3</text>
<line x1="1480.4" y1="1387.0" x2="1538.9" y2="1387.0" stroke="#2f509f" stroke-width="1.6"/>
<path d="M1505.9,1387.0h9.0M1510.4,1382.5v9.0M1507.2,1383.8l6.5,6.5M1507.2,1390.2l6.5,-6.5" stroke="#2f509f" stroke-width="1.7" fill="none"/>
<text x="1547.4" y="1396.3">0.5</text>
<line x1="1480.4" y1="1412.2" x2="1538.9" y2="1412.2" stroke="#58b847" stroke-width="1.6"/>
<path d="M1510.4,1406.6 L1516.0,1415.6 L1504.8,1415.6 Z" fill="none" stroke="#58b847" stroke-width="1.6"/>
<text x="1547.4" y="1421.5">0.2</text>
<line x1="1480.4" y1="1437.4" x2="1538.9" y2="1437.4" stroke="#e5262c" stroke-width="1.6"/>
<circle cx="1510.4" cy="1437.4" r="5.4" fill="none" stroke="#e5262c" stroke-width="1.6"/>
<text x="1547.4" y="1446.7">0.1</text>
<text transform="translate(1392.6,1476.0) rotate(-90)" text-anchor="middle">s<tspan font-size="15" dy="9.5">mean ΔV</tspan><tspan font-size="11.5" dy="8.5">m</tspan></text>
<path d="M1641.9,1808.1V1796.8M1639.0,1808.1h5.8M1639.0,1796.8h5.8" stroke="#58b847" stroke-width="1.5" fill="none"/>
<path d="M1702.6,1781.0V1753.9M1699.7,1781.0h5.8M1699.7,1753.9h5.8" stroke="#58b847" stroke-width="1.5" fill="none"/>
<polyline points="1459.8,1891.7 1520.5,1873.7 1581.2,1837.5 1641.9,1802.5 1702.6,1767.4" fill="none" stroke="#58b847" stroke-width="1.6"/>
<path d="M1581.2,1869.1V1851.1M1578.3,1869.1h5.8M1578.3,1851.1h5.8" stroke="#e5262c" stroke-width="1.5" fill="none"/>
<path d="M1641.9,1842.0V1822.8M1639.0,1842.0h5.8M1639.0,1822.8h5.8" stroke="#e5262c" stroke-width="1.5" fill="none"/>
<path d="M1702.6,1833.0V1801.3M1699.7,1833.0h5.8M1699.7,1801.3h5.8" stroke="#e5262c" stroke-width="1.5" fill="none"/>
<polyline points="1459.8,1891.7 1520.5,1881.6 1581.2,1860.1 1641.9,1833.0 1702.6,1817.2" fill="none" stroke="#e5262c" stroke-width="1.6"/>
<path d="M1581.2,1821.7V1809.2M1578.3,1821.7h5.8M1578.3,1809.2h5.8" stroke="#2f509f" stroke-width="1.5" fill="none"/>
<path d="M1702.6,1738.1V1717.7M1699.7,1738.1h5.8M1699.7,1717.7h5.8" stroke="#2f509f" stroke-width="1.5" fill="none"/>
<polyline points="1459.8,1887.2 1520.5,1857.8 1581.2,1814.9 1641.9,1776.5 1702.6,1729.0" fill="none" stroke="#2f509f" stroke-width="1.6"/>
<path d="M1459.8,1886.1 L1465.4,1895.1 L1454.2,1895.1 Z" fill="none" stroke="#58b847" stroke-width="1.6"/>
<path d="M1520.5,1868.1 L1526.1,1877.1 L1514.9,1877.1 Z" fill="none" stroke="#58b847" stroke-width="1.6"/>
<path d="M1581.2,1831.9 L1586.8,1840.9 L1575.6,1840.9 Z" fill="none" stroke="#58b847" stroke-width="1.6"/>
<path d="M1641.9,1796.9 L1647.5,1805.9 L1636.3,1805.9 Z" fill="none" stroke="#58b847" stroke-width="1.6"/>
<path d="M1702.6,1761.8 L1708.2,1770.8 L1697.0,1770.8 Z" fill="none" stroke="#58b847" stroke-width="1.6"/>
<circle cx="1459.8" cy="1891.7" r="5.4" fill="none" stroke="#e5262c" stroke-width="1.6"/>
<circle cx="1520.5" cy="1881.6" r="5.4" fill="none" stroke="#e5262c" stroke-width="1.6"/>
<circle cx="1581.2" cy="1860.1" r="5.4" fill="none" stroke="#e5262c" stroke-width="1.6"/>
<circle cx="1641.9" cy="1833.0" r="5.4" fill="none" stroke="#e5262c" stroke-width="1.6"/>
<circle cx="1702.6" cy="1817.2" r="5.4" fill="none" stroke="#e5262c" stroke-width="1.6"/>
<path d="M1455.3,1887.2h9.0M1459.8,1882.7v9.0M1456.6,1884.0l6.5,6.5M1456.6,1890.5l6.5,-6.5" stroke="#2f509f" stroke-width="1.7" fill="none"/>
<path d="M1516.0,1857.8h9.0M1520.5,1853.3v9.0M1517.3,1854.6l6.5,6.5M1517.3,1861.1l6.5,-6.5" stroke="#2f509f" stroke-width="1.7" fill="none"/>
<path d="M1576.7,1814.9h9.0M1581.2,1810.4v9.0M1578.0,1811.7l6.5,6.5M1578.0,1818.1l6.5,-6.5" stroke="#2f509f" stroke-width="1.7" fill="none"/>
<path d="M1637.4,1776.5h9.0M1641.9,1772.0v9.0M1638.7,1773.2l6.5,6.5M1638.7,1779.7l6.5,-6.5" stroke="#2f509f" stroke-width="1.7" fill="none"/>
<path d="M1698.1,1729.0h9.0M1702.6,1724.5v9.0M1699.4,1725.8l6.5,6.5M1699.4,1732.3l6.5,-6.5" stroke="#2f509f" stroke-width="1.7" fill="none"/>
<path d="M1459.8,1690.6V1916.6H1728.0" fill="none" stroke="#231f20" stroke-width="1.6"/>
<text x="1452.3" y="1923.6" text-anchor="end">0</text>
<line x1="1459.8" y1="1871.4" x2="1461.6" y2="1871.4" stroke="#231f20" stroke-width="1.3"/>
<text x="1452.3" y="1878.4" text-anchor="end">0.2</text>
<line x1="1459.8" y1="1826.2" x2="1461.6" y2="1826.2" stroke="#231f20" stroke-width="1.3"/>
<text x="1452.3" y="1833.2" text-anchor="end">0.4</text>
<line x1="1459.8" y1="1781.0" x2="1461.6" y2="1781.0" stroke="#231f20" stroke-width="1.3"/>
<text x="1452.3" y="1788.0" text-anchor="end">0.6</text>
<line x1="1459.8" y1="1735.8" x2="1461.6" y2="1735.8" stroke="#231f20" stroke-width="1.3"/>
<text x="1452.3" y="1742.8" text-anchor="end">0.8</text>
<line x1="1459.8" y1="1690.6" x2="1461.6" y2="1690.6" stroke="#231f20" stroke-width="1.3"/>
<text x="1452.3" y="1697.6" text-anchor="end">1</text>
<text x="1459.8" y="1940.0" text-anchor="middle">0</text>
<line x1="1581.2" y1="1916.6" x2="1581.2" y2="1911.6" stroke="#231f20" stroke-width="1.2"/>
<text x="1581.2" y="1940.0" text-anchor="middle">10</text>
<line x1="1702.6" y1="1916.6" x2="1702.6" y2="1911.6" stroke="#231f20" stroke-width="1.2"/>
<text x="1702.6" y="1940.0" text-anchor="middle">20</text>
<text x="1591.0" y="1964.6" text-anchor="middle">Stimulus charge (nC)</text>
<text x="1592.6" y="1676.9" text-anchor="middle">n = 2</text>
<line x1="1480.4" y1="1714.6" x2="1538.9" y2="1714.6" stroke="#2f509f" stroke-width="1.6"/>
<path d="M1505.9,1714.6h9.0M1510.4,1710.1v9.0M1507.2,1711.4l6.5,6.5M1507.2,1717.8l6.5,-6.5" stroke="#2f509f" stroke-width="1.7" fill="none"/>
<text x="1547.4" y="1723.9">0.5</text>
<line x1="1480.4" y1="1739.8" x2="1538.9" y2="1739.8" stroke="#58b847" stroke-width="1.6"/>
<path d="M1510.4,1734.2 L1516.0,1743.2 L1504.8,1743.2 Z" fill="none" stroke="#58b847" stroke-width="1.6"/>
<text x="1547.4" y="1749.1">0.2</text>
<line x1="1480.4" y1="1765.0" x2="1538.9" y2="1765.0" stroke="#e5262c" stroke-width="1.6"/>
<circle cx="1510.4" cy="1765.0" r="5.4" fill="none" stroke="#e5262c" stroke-width="1.6"/>
<text x="1547.4" y="1774.3">0.1</text>
<text transform="translate(1392.6,1803.6) rotate(-90)" text-anchor="middle">s<tspan font-size="15" dy="9.5">mean ΔV</tspan><tspan font-size="11.5" dy="8.5">m</tspan></text>
<path d="M1507.9,2226.1V2211.0M1505.0,2226.1h5.8M1505.0,2211.0h5.8" stroke="#58b847" stroke-width="1.5" fill="none"/>
<path d="M1572.4,2207.2V2177.1M1569.5,2207.2h5.8M1569.5,2177.1h5.8" stroke="#58b847" stroke-width="1.5" fill="none"/>
<path d="M1636.9,2175.2V2137.5M1634.0,2175.2h5.8M1634.0,2137.5h5.8" stroke="#58b847" stroke-width="1.5" fill="none"/>
<path d="M1701.4,2152.6V2098.0M1698.5,2152.6h5.8M1698.5,2098.0h5.8" stroke="#58b847" stroke-width="1.5" fill="none"/>
<polyline points="1443.4,2234.7 1507.9,2218.5 1572.4,2192.2 1636.9,2156.4 1701.4,2124.3" fill="none" stroke="#58b847" stroke-width="1.6"/>
<path d="M1507.9,2229.8V2214.8M1505.0,2229.8h5.8M1505.0,2214.8h5.8" stroke="#e5262c" stroke-width="1.5" fill="none"/>
<path d="M1572.4,2214.8V2184.6M1569.5,2214.8h5.8M1569.5,2184.6h5.8" stroke="#e5262c" stroke-width="1.5" fill="none"/>
<path d="M1636.9,2194.0V2158.2M1634.0,2194.0h5.8M1634.0,2158.2h5.8" stroke="#e5262c" stroke-width="1.5" fill="none"/>
<path d="M1701.4,2167.7V2118.7M1698.5,2167.7h5.8M1698.5,2118.7h5.8" stroke="#e5262c" stroke-width="1.5" fill="none"/>
<polyline points="1443.4,2235.5 1507.9,2222.3 1572.4,2199.7 1636.9,2175.2 1701.4,2143.2" fill="none" stroke="#e5262c" stroke-width="1.6"/>
<path d="M1507.9,2197.8V2163.9M1505.0,2197.8h5.8M1505.0,2163.9h5.8" stroke="#2f509f" stroke-width="1.5" fill="none"/>
<path d="M1572.4,2171.4V2116.8M1569.5,2171.4h5.8M1569.5,2116.8h5.8" stroke="#2f509f" stroke-width="1.5" fill="none"/>
<path d="M1636.9,2148.8V2075.4M1634.0,2148.8h5.8M1634.0,2075.4h5.8" stroke="#2f509f" stroke-width="1.5" fill="none"/>
<path d="M1701.4,2133.8V2041.5M1698.5,2133.8h5.8M1698.5,2041.5h5.8" stroke="#2f509f" stroke-width="1.5" fill="none"/>
<polyline points="1443.4,2235.5 1507.9,2180.8 1572.4,2144.3 1636.9,2113.1 1701.4,2088.6" fill="none" stroke="#2f509f" stroke-width="1.6"/>
<path d="M1443.4,2229.1 L1449.0,2238.1 L1437.8,2238.1 Z" fill="none" stroke="#58b847" stroke-width="1.6"/>
<path d="M1507.9,2212.9 L1513.5,2221.9 L1502.3,2221.9 Z" fill="none" stroke="#58b847" stroke-width="1.6"/>
<path d="M1572.4,2186.6 L1578.0,2195.6 L1566.8,2195.6 Z" fill="none" stroke="#58b847" stroke-width="1.6"/>
<path d="M1636.9,2150.8 L1642.5,2159.8 L1631.3,2159.8 Z" fill="none" stroke="#58b847" stroke-width="1.6"/>
<path d="M1701.4,2118.8 L1707.0,2127.8 L1695.8,2127.8 Z" fill="none" stroke="#58b847" stroke-width="1.6"/>
<circle cx="1443.4" cy="2235.5" r="5.4" fill="none" stroke="#e5262c" stroke-width="1.6"/>
<circle cx="1507.9" cy="2222.3" r="5.4" fill="none" stroke="#e5262c" stroke-width="1.6"/>
<circle cx="1572.4" cy="2199.7" r="5.4" fill="none" stroke="#e5262c" stroke-width="1.6"/>
<circle cx="1636.9" cy="2175.2" r="5.4" fill="none" stroke="#e5262c" stroke-width="1.6"/>
<circle cx="1701.4" cy="2143.2" r="5.4" fill="none" stroke="#e5262c" stroke-width="1.6"/>
<path d="M1438.9,2235.5h9.0M1443.4,2231.0v9.0M1440.2,2232.2l6.5,6.5M1440.2,2238.7l6.5,-6.5" stroke="#2f509f" stroke-width="1.7" fill="none"/>
<path d="M1503.4,2180.8h9.0M1507.9,2176.3v9.0M1504.7,2177.6l6.5,6.5M1504.7,2184.1l6.5,-6.5" stroke="#2f509f" stroke-width="1.7" fill="none"/>
<path d="M1567.9,2144.3h9.0M1572.4,2139.8v9.0M1569.2,2141.1l6.5,6.5M1569.2,2147.6l6.5,-6.5" stroke="#2f509f" stroke-width="1.7" fill="none"/>
<path d="M1632.4,2113.1h9.0M1636.9,2108.6v9.0M1633.7,2109.8l6.5,6.5M1633.7,2116.3l6.5,-6.5" stroke="#2f509f" stroke-width="1.7" fill="none"/>
<path d="M1696.9,2088.6h9.0M1701.4,2084.1v9.0M1698.2,2085.3l6.5,6.5M1698.2,2091.8l6.5,-6.5" stroke="#2f509f" stroke-width="1.7" fill="none"/>
<path d="M1443.4,2017.0V2243.0H1727.0" fill="none" stroke="#231f20" stroke-width="1.6"/>
<text x="1435.9" y="2250.0" text-anchor="end">0</text>
<line x1="1443.4" y1="2167.7" x2="1445.2" y2="2167.7" stroke="#231f20" stroke-width="1.3"/>
<text x="1435.9" y="2174.7" text-anchor="end">2</text>
<line x1="1443.4" y1="2092.3" x2="1445.2" y2="2092.3" stroke="#231f20" stroke-width="1.3"/>
<text x="1435.9" y="2099.3" text-anchor="end">4</text>
<line x1="1443.4" y1="2017.0" x2="1445.2" y2="2017.0" stroke="#231f20" stroke-width="1.3"/>
<text x="1435.9" y="2024.0" text-anchor="end">6</text>
<text x="1443.4" y="2266.4" text-anchor="middle">0</text>
<line x1="1572.4" y1="2243.0" x2="1572.4" y2="2238.0" stroke="#231f20" stroke-width="1.2"/>
<text x="1572.4" y="2266.4" text-anchor="middle">10</text>
<line x1="1701.4" y1="2243.0" x2="1701.4" y2="2238.0" stroke="#231f20" stroke-width="1.2"/>
<text x="1701.4" y="2266.4" text-anchor="middle">20</text>
<text x="1582.5" y="2291.0" text-anchor="middle">Stimulus charge (nC)</text>
<text x="1585.0" y="2003.3" text-anchor="middle">n = 15</text>
<line x1="1464.0" y1="2041.0" x2="1522.5" y2="2041.0" stroke="#2f509f" stroke-width="1.6"/>
<path d="M1489.5,2041.0h9.0M1494.0,2036.5v9.0M1490.8,2037.8l6.5,6.5M1490.8,2044.2l6.5,-6.5" stroke="#2f509f" stroke-width="1.7" fill="none"/>
<text x="1531.0" y="2050.3">0.5</text>
<line x1="1464.0" y1="2066.2" x2="1522.5" y2="2066.2" stroke="#58b847" stroke-width="1.6"/>
<path d="M1494.0,2060.6 L1499.6,2069.6 L1488.4,2069.6 Z" fill="none" stroke="#58b847" stroke-width="1.6"/>
<text x="1531.0" y="2075.5">0.2</text>
<line x1="1464.0" y1="2091.4" x2="1522.5" y2="2091.4" stroke="#e5262c" stroke-width="1.6"/>
<circle cx="1494.0" cy="2091.4" r="5.4" fill="none" stroke="#e5262c" stroke-width="1.6"/>
<text x="1531.0" y="2100.7">0.1</text>
<text transform="translate(1392.6,2130.0) rotate(-90)" text-anchor="middle">s<tspan font-size="15" dy="9.5">mean ΔV</tspan><tspan font-size="11.5" dy="8.5">m</tspan></text></svg></body></html>
